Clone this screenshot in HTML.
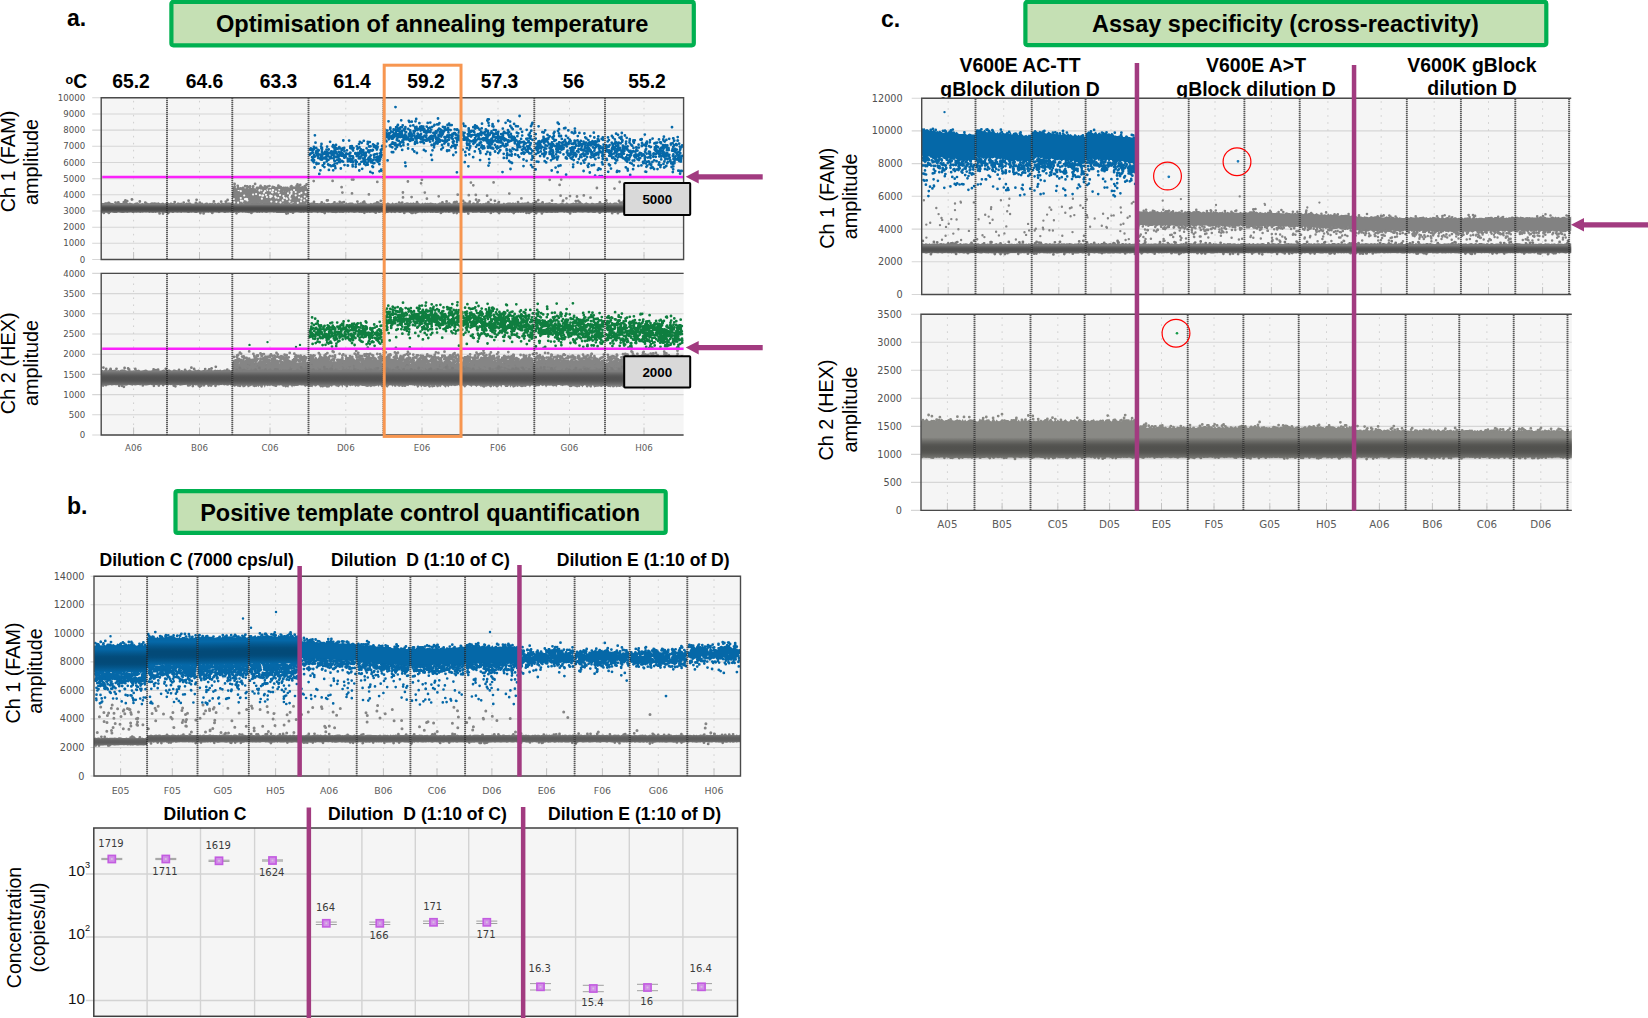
<!DOCTYPE html>
<html><head><meta charset="utf-8"><title>ddPCR assay figure</title>
<style>html,body{margin:0;padding:0;background:#fff}svg{display:block}</style></head>
<body>
<svg width="1648" height="1018" viewBox="0 0 1648 1018">
<rect width="1648" height="1018" fill="#fff"/>
<defs><linearGradient id="gB" x1="0" y1="0" x2="0" y2="1"><stop offset="0" stop-color="#034a78" stop-opacity="0.0"/><stop offset="0.18" stop-color="#034a78" stop-opacity="0.55"/><stop offset="0.32" stop-color="#034a78" stop-opacity="0.9"/><stop offset="0.42" stop-color="#034a78" stop-opacity="1.0"/><stop offset="0.58" stop-color="#034a78" stop-opacity="1.0"/><stop offset="0.68" stop-color="#034a78" stop-opacity="0.9"/><stop offset="0.82" stop-color="#034a78" stop-opacity="0.55"/><stop offset="1" stop-color="#034a78" stop-opacity="0.0"/></linearGradient><linearGradient id="gG" x1="0" y1="0" x2="0" y2="1"><stop offset="0" stop-color="#4a4a4a" stop-opacity="0.0"/><stop offset="0.18" stop-color="#4a4a4a" stop-opacity="0.55"/><stop offset="0.32" stop-color="#4a4a4a" stop-opacity="0.9"/><stop offset="0.42" stop-color="#4a4a4a" stop-opacity="1.0"/><stop offset="0.58" stop-color="#4a4a4a" stop-opacity="1.0"/><stop offset="0.68" stop-color="#4a4a4a" stop-opacity="0.9"/><stop offset="0.82" stop-color="#4a4a4a" stop-opacity="0.55"/><stop offset="1" stop-color="#4a4a4a" stop-opacity="0.0"/></linearGradient><linearGradient id="gG2" x1="0" y1="0" x2="0" y2="1"><stop offset="0" stop-color="#4a4a4a" stop-opacity="0.0"/><stop offset="0.18" stop-color="#4a4a4a" stop-opacity="0.341"/><stop offset="0.32" stop-color="#4a4a4a" stop-opacity="0.558"/><stop offset="0.42" stop-color="#4a4a4a" stop-opacity="0.62"/><stop offset="0.58" stop-color="#4a4a4a" stop-opacity="0.62"/><stop offset="0.68" stop-color="#4a4a4a" stop-opacity="0.558"/><stop offset="0.82" stop-color="#4a4a4a" stop-opacity="0.341"/><stop offset="1" stop-color="#4a4a4a" stop-opacity="0.0"/></linearGradient><linearGradient id="gG3" x1="0" y1="0" x2="0" y2="1"><stop offset="0" stop-color="#4a4a4a" stop-opacity="0.0"/><stop offset="0.18" stop-color="#4a4a4a" stop-opacity="0.468"/><stop offset="0.32" stop-color="#4a4a4a" stop-opacity="0.765"/><stop offset="0.42" stop-color="#4a4a4a" stop-opacity="0.85"/><stop offset="0.58" stop-color="#4a4a4a" stop-opacity="0.85"/><stop offset="0.68" stop-color="#4a4a4a" stop-opacity="0.765"/><stop offset="0.82" stop-color="#4a4a4a" stop-opacity="0.468"/><stop offset="1" stop-color="#4a4a4a" stop-opacity="0.0"/></linearGradient><linearGradient id="gH" x1="0" y1="0" x2="0" y2="1"><stop offset="0" stop-color="#4a4a47" stop-opacity="0.0"/><stop offset="0.18" stop-color="#4a4a47" stop-opacity="0.484"/><stop offset="0.32" stop-color="#4a4a47" stop-opacity="0.792"/><stop offset="0.42" stop-color="#4a4a47" stop-opacity="0.88"/><stop offset="0.58" stop-color="#4a4a47" stop-opacity="0.88"/><stop offset="0.68" stop-color="#4a4a47" stop-opacity="0.792"/><stop offset="0.82" stop-color="#4a4a47" stop-opacity="0.484"/><stop offset="1" stop-color="#4a4a47" stop-opacity="0.0"/></linearGradient></defs>
<text x="67" y="26.2" text-anchor="start" font-family='"Liberation Sans",sans-serif' font-size="23" font-weight="bold" fill="#000">a.</text>
<rect x="171.4" y="1.8" width="522.4" height="43.5" rx="2" fill="#c5e0b4" stroke="#00b050" stroke-width="4.2"/>
<text x="432.2" y="32.2" text-anchor="middle" font-family='"Liberation Sans",sans-serif' font-size="23.6" font-weight="bold" fill="#000">Optimisation of annealing temperature</text>
<text x="65.5" y="87.5" font-family='"Liberation Sans",sans-serif' font-weight="bold" font-size="19.3" fill="#000"><tspan font-size="12.5" dy="-4">o</tspan><tspan dy="4">C</tspan></text>
<text x="131" y="87.5" text-anchor="middle" font-family='"Liberation Sans",sans-serif' font-size="19.3" font-weight="bold" fill="#000">65.2</text>
<text x="204.5" y="87.5" text-anchor="middle" font-family='"Liberation Sans",sans-serif' font-size="19.3" font-weight="bold" fill="#000">64.6</text>
<text x="278.5" y="87.5" text-anchor="middle" font-family='"Liberation Sans",sans-serif' font-size="19.3" font-weight="bold" fill="#000">63.3</text>
<text x="352" y="87.5" text-anchor="middle" font-family='"Liberation Sans",sans-serif' font-size="19.3" font-weight="bold" fill="#000">61.4</text>
<text x="426" y="87.5" text-anchor="middle" font-family='"Liberation Sans",sans-serif' font-size="19.3" font-weight="bold" fill="#000">59.2</text>
<text x="499.5" y="87.5" text-anchor="middle" font-family='"Liberation Sans",sans-serif' font-size="19.3" font-weight="bold" fill="#000">57.3</text>
<text x="573.5" y="87.5" text-anchor="middle" font-family='"Liberation Sans",sans-serif' font-size="19.3" font-weight="bold" fill="#000">56</text>
<text x="647" y="87.5" text-anchor="middle" font-family='"Liberation Sans",sans-serif' font-size="19.3" font-weight="bold" fill="#000">55.2</text>
<text transform="translate(15.2 161.5) rotate(-90)" text-anchor="middle" font-family='"Liberation Sans",sans-serif' font-size="19.9" fill="#000">Ch 1 (FAM)</text>
<text transform="translate(37.8 162) rotate(-90)" text-anchor="middle" font-family='"Liberation Sans",sans-serif' font-size="19.8" fill="#000">amplitude</text>
<text transform="translate(15.2 363.3) rotate(-90)" text-anchor="middle" font-family='"Liberation Sans",sans-serif' font-size="19.9" fill="#000">Ch 2 (HEX)</text>
<text transform="translate(37.8 363) rotate(-90)" text-anchor="middle" font-family='"Liberation Sans",sans-serif' font-size="19.8" fill="#000">amplitude</text>
<rect x="101.2" y="97.8" width="582.4" height="161.7" fill="#f5f5f5"/>
<path d="M92.2 259.5H683.6M92.2 243.3H683.6M92.2 227.2H683.6M92.2 211H683.6M92.2 194.8H683.6M92.2 178.7H683.6M92.2 162.5H683.6M92.2 146.3H683.6M92.2 130.1H683.6M92.2 114H683.6M92.2 97.8H683.6" stroke="#d6d6d6" stroke-width="1.1" fill="none"/>
<path d="M133.6 100.8V259.5M199.5 100.8V259.5M270 100.8V259.5M345.8 100.8V259.5M422 100.8V259.5M498 100.8V259.5M569.5 100.8V259.5M644 100.8V259.5" stroke="#cfcfcf" stroke-width="1" stroke-dasharray="1.6 5.4" fill="none"/>
<path d="M133.6 252V259.5M199.5 252V259.5M270 252V259.5M345.8 252V259.5M422 252V259.5M498 252V259.5M569.5 252V259.5M644 252V259.5" stroke="#c2c2c2" stroke-width="1" fill="none"/>
<text x="85.2" y="262.6" text-anchor="end" font-family='"DejaVu Sans","Liberation Sans",sans-serif' font-size="8.6" fill="#505050">0</text>
<text x="85.2" y="246.4" text-anchor="end" font-family='"DejaVu Sans","Liberation Sans",sans-serif' font-size="8.6" fill="#505050">1000</text>
<text x="85.2" y="230.3" text-anchor="end" font-family='"DejaVu Sans","Liberation Sans",sans-serif' font-size="8.6" fill="#505050">2000</text>
<text x="85.2" y="214.1" text-anchor="end" font-family='"DejaVu Sans","Liberation Sans",sans-serif' font-size="8.6" fill="#505050">3000</text>
<text x="85.2" y="197.9" text-anchor="end" font-family='"DejaVu Sans","Liberation Sans",sans-serif' font-size="8.6" fill="#505050">4000</text>
<text x="85.2" y="181.7" text-anchor="end" font-family='"DejaVu Sans","Liberation Sans",sans-serif' font-size="8.6" fill="#505050">5000</text>
<text x="85.2" y="165.6" text-anchor="end" font-family='"DejaVu Sans","Liberation Sans",sans-serif' font-size="8.6" fill="#505050">6000</text>
<text x="85.2" y="149.4" text-anchor="end" font-family='"DejaVu Sans","Liberation Sans",sans-serif' font-size="8.6" fill="#505050">7000</text>
<text x="85.2" y="133.2" text-anchor="end" font-family='"DejaVu Sans","Liberation Sans",sans-serif' font-size="8.6" fill="#505050">8000</text>
<text x="85.2" y="117.1" text-anchor="end" font-family='"DejaVu Sans","Liberation Sans",sans-serif' font-size="8.6" fill="#505050">9000</text>
<text x="85.2" y="100.9" text-anchor="end" font-family='"DejaVu Sans","Liberation Sans",sans-serif' font-size="8.6" fill="#505050">10000</text>
<path d="M101.2 202.6L102.5 203.1L103.8 202.9L105.1 202.3L106.4 202.2L107.7 202.3L109 202.8L110.3 202.4L111.6 203.1L112.9 203L114.2 203.5L115.5 203.4L116.8 202.4L118.1 202.6L119.4 202.4L120.7 203.1L122 202.9L123.3 202.3L124.6 203.1L125.9 202.6L127.2 202.8L128.5 203.3L129.8 202.5L131.1 202.9L132.4 203.2L133.7 203.6L135 202.8L136.3 202.4L137.6 202.2L138.9 203.3L140.2 203.4L141.5 203.2L142.8 203L144.1 203.4L145.4 202.8L146.7 202.3L148 203.1L149.3 203.3L150.6 202.7L151.9 202.2L153.2 202.4L154.5 202.3L155.8 202.4L157.1 202.7L158.4 202.3L159.7 202.9L161 203.3L162.3 202.6L163.6 202.7L164.9 203.5L166.2 202.4L167 202.5L167 212.7L166.2 212.9L164.9 213L163.6 212.3L162.3 212.8L161 212.3L159.7 212.3L158.4 212.7L157.1 212.3L155.8 212.9L154.5 212.4L153.2 213.1L151.9 212.7L150.6 212.5L149.3 212.9L148 212.2L146.7 212.5L145.4 212.5L144.1 212.2L142.8 212.7L141.5 212.6L140.2 212.9L138.9 212.6L137.6 212.5L136.3 212.7L135 212.4L133.7 213.1L132.4 212.9L131.1 212.3L129.8 212.6L128.5 212.5L127.2 212.9L125.9 212.6L124.6 212.7L123.3 213L122 213.1L120.7 212.8L119.4 212.6L118.1 212.3L116.8 213.1L115.5 212.9L114.2 213.1L112.9 212.8L111.6 212.2L110.3 212.9L109 212.3L107.7 213.1L106.4 212.7L105.1 212.7L103.8 212.8L102.5 213.1L101.2 213Z" fill="#7e7e7e"/>
<path d="M139.8 201.5h0M125.8 202.8h0M163 213.5h0M145.3 202.6h0M159.6 213.4h0M127.2 201.2h0M108.8 212.9h0M115.5 202.6h0M123.9 202.1h0M108.7 202.8h0M103.8 212.9h0M118.3 202.3h0M125.4 200.5h0M131.9 199.5h0" stroke="#7e7e7e" stroke-width="2.8" stroke-linecap="round" fill="none" opacity="1"/>
<rect transform="translate(101.2 208.9)" x="0" y="-4.4" width="65.8" height="8.7" fill="url(#gG)"/>
<path d="M167 202.3L168.3 202.7L169.6 203.3L170.9 202.2L172.2 202.9L173.5 202.9L174.8 202.9L176.1 203.4L177.4 202.5L178.7 202.4L180 202.9L181.3 202.6L182.6 203.3L183.9 203.4L185.2 203.3L186.5 202.5L187.8 202.7L189.1 202.2L190.4 202.5L191.7 203.5L193 203.5L194.3 203.5L195.6 202.5L196.9 202.5L198.2 203.1L199.5 203.4L200.8 203.1L202.1 202.3L203.4 203.5L204.7 203.2L206 202.4L207.3 202.6L208.6 203.5L209.9 202.7L211.2 203.2L212.5 202.4L213.8 203.4L215.1 202.4L216.4 203.6L217.7 202.7L219 202.4L220.3 203.5L221.6 202.9L222.9 202.8L224.2 203.3L225.5 202.5L226.8 202.5L228.1 202.5L229.4 202.4L230.7 202.7L232 203L232.3 202.8L232.3 212.2L232 212.3L230.7 212.7L229.4 212.3L228.1 212.7L226.8 212.6L225.5 212.9L224.2 213L222.9 212.3L221.6 212.2L220.3 212.5L219 213.2L217.7 212.6L216.4 212.5L215.1 212.3L213.8 212.4L212.5 213L211.2 213L209.9 212.2L208.6 212.8L207.3 212.4L206 212.4L204.7 212.7L203.4 212.4L202.1 212.5L200.8 212.4L199.5 212.7L198.2 212.3L196.9 213L195.6 212.9L194.3 212.8L193 212.2L191.7 212.7L190.4 212.5L189.1 212.9L187.8 213.1L186.5 212.6L185.2 212.4L183.9 212.4L182.6 212.2L181.3 212.9L180 212.4L178.7 212.4L177.4 212.8L176.1 212.5L174.8 212.2L173.5 213.1L172.2 213L170.9 212.2L169.6 213L168.3 212.9L167 213.1Z" fill="#7e7e7e"/>
<path d="M199.8 202.6h0M195.9 202.8h0M168.2 213h0M213.9 201.5h0M188.6 200.7h0M174.7 202.1h0M183.7 202.6h0M203.6 213.4h0M225.8 201.7h0M200.4 213.1h0M196.6 199.8h0M212.3 212.9h0M227.6 200h0M221.2 201.7h0" stroke="#7e7e7e" stroke-width="2.8" stroke-linecap="round" fill="none" opacity="1"/>
<rect transform="translate(167 208.9)" x="0" y="-4.4" width="65.3" height="8.7" fill="url(#gG)"/>
<path d="M232.3 202.3L233.6 202.3L234.9 202.3L236.2 203.3L237.5 202.4L238.8 203.1L240.1 203.4L241.4 202.5L242.7 202.7L244 203.6L245.3 202.4L246.6 202.9L247.9 202.5L249.2 203.2L250.5 203L251.8 202.2L253.1 203.1L254.4 202.3L255.7 203.3L257 202.3L258.3 202.2L259.6 202.6L260.9 202.8L262.2 203.3L263.5 202.4L264.8 203L266.1 202.3L267.4 203.1L268.7 202.3L270 203.1L271.3 202.3L272.6 202.3L273.9 202.8L275.2 203L276.5 202.6L277.8 202.9L279.1 202.3L280.4 202.2L281.7 202.6L283 203.2L284.3 202.9L285.6 202.7L286.9 202.5L288.2 203.2L289.5 202.4L290.8 203.5L292.1 203.3L293.4 202.9L294.7 202.7L296 203.1L297.3 202.7L298.6 203.2L299.9 202.7L301.2 202.3L302.5 202.3L303.8 202.5L305.1 202.3L306.4 203.4L307.7 202.6L308.5 202.6L308.5 212.7L307.7 212.9L306.4 212.5L305.1 212.3L303.8 213L302.5 212.4L301.2 213L299.9 212.8L298.6 212.5L297.3 212.3L296 212.2L294.7 212.7L293.4 212.3L292.1 212.7L290.8 213.1L289.5 212.7L288.2 212.6L286.9 213.2L285.6 213.2L284.3 213L283 212.9L281.7 212.9L280.4 213L279.1 213L277.8 212.9L276.5 213L275.2 212.2L273.9 212.8L272.6 212.3L271.3 212.3L270 212.4L268.7 212.2L267.4 212.7L266.1 213.1L264.8 212.5L263.5 212.2L262.2 212.9L260.9 212.2L259.6 213L258.3 212.4L257 212.9L255.7 212.2L254.4 212.2L253.1 212.7L251.8 212.8L250.5 212.7L249.2 213.2L247.9 212.9L246.6 212.8L245.3 212.7L244 212.3L242.7 212.7L241.4 212.2L240.1 212.2L238.8 213L237.5 212.4L236.2 212.3L234.9 212.5L233.6 212.9L232.3 212.7Z" fill="#7e7e7e"/>
<path d="M245 202.5h0M305.5 199.6h0M251.4 212.9h0M233.4 201.7h0M268.5 202.4h0M233.7 201.4h0M240 202.6h0M255.9 202.7h0M276.8 202.8h0M286.4 213.5h0M262.2 202.1h0M287 212.7h0M236.5 213.3h0M287.8 213.2h0M243.6 200.4h0M293 212.7h0" stroke="#7e7e7e" stroke-width="2.8" stroke-linecap="round" fill="none" opacity="1"/>
<rect transform="translate(232.3 208.9)" x="0" y="-4.4" width="76.2" height="8.7" fill="url(#gG)"/>
<path d="M308.5 203L309.8 203.1L311.1 202.5L312.4 202.4L313.7 202.3L315 203L316.3 203.1L317.6 202.9L318.9 203.3L320.2 202.9L321.5 203.1L322.8 203.2L324.1 202.3L325.4 203.2L326.7 203.2L328 202.9L329.3 202.9L330.6 203.3L331.9 203.1L333.2 202.4L334.5 203.2L335.8 203L337.1 202.3L338.4 203.1L339.7 203.1L341 202.9L342.3 202.8L343.6 203.4L344.9 203.6L346.2 202.2L347.5 203.3L348.8 202.8L350.1 202.5L351.4 202.5L352.7 202.4L354 203.5L355.3 203.3L356.6 203.4L357.9 202.5L359.2 202.9L360.5 202.2L361.8 202.8L363.1 202.4L364.4 202.6L365.7 202.2L367 203.4L368.3 203.5L369.6 203.4L370.9 202.7L372.2 203.6L373.5 202.7L374.8 202.6L376.1 202.3L377.4 202.6L378.7 202.5L380 202.9L381.3 202.7L382.6 203.4L383.5 203.1L383.5 212.2L382.6 212.3L381.3 212.2L380 213L378.7 212.9L377.4 212.2L376.1 212.3L374.8 213.1L373.5 212.7L372.2 212.6L370.9 212.8L369.6 212.9L368.3 212.5L367 213.1L365.7 212.4L364.4 212.3L363.1 212.8L361.8 212.9L360.5 212.7L359.2 213.1L357.9 212.3L356.6 212.5L355.3 212.7L354 213L352.7 212.6L351.4 212.6L350.1 212.2L348.8 212.9L347.5 212.2L346.2 212.7L344.9 212.2L343.6 213L342.3 213.1L341 212.7L339.7 212.9L338.4 212.5L337.1 212.9L335.8 213.2L334.5 212.9L333.2 212.9L331.9 213.1L330.6 212.5L329.3 212.5L328 212.8L326.7 212.2L325.4 213L324.1 212.9L322.8 212.9L321.5 213.1L320.2 212.6L318.9 212.4L317.6 213.2L316.3 212.5L315 212.5L313.7 212.3L312.4 212.8L311.1 213.1L309.8 212.5L308.5 212.3Z" fill="#7e7e7e"/>
<path d="M378.2 202.7h0M363 202.4h0M364.4 212.8h0M377.2 202.4h0M344 202.2h0M380.8 200.8h0M357.4 201.6h0M321.7 202.4h0M324.7 213.1h0M375.7 212.7h0M342.3 202.6h0M334.5 202.3h0M327 200.4h0M364.2 201.7h0M339.7 202h0M314 202h0" stroke="#7e7e7e" stroke-width="2.8" stroke-linecap="round" fill="none" opacity="1"/>
<rect transform="translate(308.5 208.9)" x="0" y="-4.4" width="75" height="8.7" fill="url(#gG)"/>
<path d="M383.5 203.5L384.8 202.9L386.1 203.4L387.4 202.6L388.7 202.7L390 203.5L391.3 203.4L392.6 202.2L393.9 203.4L395.2 203L396.5 202.7L397.8 203.3L399.1 203.5L400.4 202.3L401.7 202.9L403 203.5L404.3 203.1L405.6 202.8L406.9 202.2L408.2 202.5L409.5 203.1L410.8 202.4L412.1 203.1L413.4 202.3L414.7 202.9L416 202.7L417.3 203L418.6 202.6L419.9 203.5L421.2 203.4L422.5 202.5L423.8 203.5L425.1 202.6L426.4 202.9L427.7 202.8L429 203.1L430.3 202.5L431.6 202.7L432.9 203.1L434.2 203.3L435.5 202.9L436.8 203.5L438.1 203.3L439.4 202.5L440.7 202.6L442 202.9L443.3 202.5L444.6 203.1L445.9 202.4L447.2 202.5L448.5 202.4L449.8 202.3L451.1 203.4L452.4 203.2L453.7 203.5L455 202.4L456.3 203.2L457.6 203.1L458.9 202.7L460.2 202.4L461 202.6L461 212.8L460.2 213.2L458.9 212.8L457.6 212.8L456.3 213.1L455 212.2L453.7 212.8L452.4 212.2L451.1 212.3L449.8 212.8L448.5 213.1L447.2 212.2L445.9 212.8L444.6 212.2L443.3 212.8L442 213L440.7 212.2L439.4 212.4L438.1 212.9L436.8 212.9L435.5 213L434.2 212.4L432.9 213L431.6 212.7L430.3 213.1L429 212.2L427.7 212.9L426.4 212.5L425.1 213.2L423.8 212.5L422.5 212.9L421.2 212.7L419.9 212.5L418.6 212.7L417.3 213.2L416 212.9L414.7 212.6L413.4 213.1L412.1 212.5L410.8 212.9L409.5 212.9L408.2 212.2L406.9 212.4L405.6 212.6L404.3 212.4L403 212.4L401.7 212.5L400.4 213L399.1 212.9L397.8 212.3L396.5 212.2L395.2 213.2L393.9 212.7L392.6 212.5L391.3 213.2L390 212.3L388.7 212.7L387.4 212.9L386.1 213L384.8 212.5L383.5 213Z" fill="#7e7e7e"/>
<path d="M456.6 202h0M411.4 212.8h0M446.6 201.4h0M412.6 212.9h0M399.1 202.6h0M415.5 212.8h0M442.4 202.4h0M454 202.7h0M440.9 212.9h0M456.8 213.1h0M404.3 212.9h0M384.8 213.1h0M453.7 212.8h0M402.2 202.7h0M456.7 213h0M417 202.2h0M454.6 202.1h0" stroke="#7e7e7e" stroke-width="2.8" stroke-linecap="round" fill="none" opacity="1"/>
<rect transform="translate(383.5 208.9)" x="0" y="-4.4" width="77.5" height="8.7" fill="url(#gG)"/>
<path d="M461 203.3L462.3 203L463.6 202.6L464.9 203.3L466.2 202.5L467.5 202.5L468.8 202.2L470.1 202.6L471.4 203.4L472.7 202.5L474 202.3L475.3 203.2L476.6 202.5L477.9 203L479.2 203.2L480.5 203.1L481.8 203.4L483.1 203L484.4 203.2L485.7 202.5L487 202.4L488.3 203L489.6 202.7L490.9 202.9L492.2 203.3L493.5 203.6L494.8 202.8L496.1 203.4L497.4 202.2L498.7 202.3L500 203.5L501.3 203.5L502.6 203.4L503.9 202.5L505.2 203.5L506.5 203L507.8 202.5L509.1 202.4L510.4 202.5L511.7 203.1L513 202.2L514.3 203.1L515.6 202.6L516.9 203.3L518.2 202.3L519.5 202.7L520.8 203.1L522.1 202.4L523.4 202.8L524.7 202.6L526 202.6L527.3 202.7L528.6 203.4L529.9 202.7L531.2 203.2L532.5 202.2L533.8 202.8L534.3 202.7L534.3 212.3L533.8 212.3L532.5 212.3L531.2 213L529.9 213L528.6 212.2L527.3 212.8L526 212.6L524.7 212.2L523.4 212.9L522.1 212.5L520.8 213.1L519.5 212.6L518.2 213.1L516.9 212.6L515.6 213L514.3 213L513 212.8L511.7 213L510.4 212.6L509.1 213L507.8 212.8L506.5 212.5L505.2 213.1L503.9 212.4L502.6 212.7L501.3 212.8L500 212.6L498.7 213L497.4 212.9L496.1 212.2L494.8 212.3L493.5 213.1L492.2 212.5L490.9 212.9L489.6 212.2L488.3 212.8L487 212.3L485.7 212.9L484.4 213L483.1 212.8L481.8 212.9L480.5 213.1L479.2 212.3L477.9 212.5L476.6 212.8L475.3 212.7L474 212.7L472.7 213.1L471.4 212.2L470.1 212.2L468.8 212.6L467.5 213.1L466.2 212.4L464.9 213.1L463.6 212.8L462.3 212.8L461 212.4Z" fill="#7e7e7e"/>
<path d="M494.9 200.8h0M463.1 201h0M468.3 213.6h0M488.4 202.2h0M499.2 213.1h0M469.8 201.7h0M476.1 199.7h0M529.2 212.9h0M528 202.8h0M526.5 212.9h0M518 202.1h0M490.8 212.9h0M477.6 202.1h0M498.9 202.1h0M513.7 213h0M464.9 202.8h0" stroke="#7e7e7e" stroke-width="2.8" stroke-linecap="round" fill="none" opacity="1"/>
<rect transform="translate(461 208.9)" x="0" y="-4.4" width="73.3" height="8.7" fill="url(#gG)"/>
<path d="M534.3 203.4L535.6 203L536.9 203.1L538.2 202.8L539.5 202.8L540.8 202.8L542.1 202.2L543.4 202.9L544.7 203.3L546 202.8L547.3 202.8L548.6 202.4L549.9 202.3L551.2 202.9L552.5 203.1L553.8 203.2L555.1 202.9L556.4 202.9L557.7 203.5L559 203.4L560.3 203.2L561.6 202.4L562.9 202.9L564.2 203.5L565.5 203.3L566.8 202.3L568.1 203.2L569.4 203.4L570.7 203.3L572 202.9L573.3 202.5L574.6 202.9L575.9 202.2L577.2 202.4L578.5 203.1L579.8 202.4L581.1 202.3L582.4 203.1L583.7 203.4L585 203L586.3 202.3L587.6 203.1L588.9 203.3L590.2 203.6L591.5 202.7L592.8 202.8L594.1 203.2L595.4 203.3L596.7 203.1L598 203L599.3 202.6L600.6 202.2L601.9 203L603.2 202.9L604.5 202.4L605 203.1L605 213.2L604.5 212.9L603.2 212.3L601.9 212.7L600.6 213L599.3 213.2L598 212.5L596.7 212.2L595.4 212.9L594.1 213.1L592.8 213L591.5 212.4L590.2 212.6L588.9 212.9L587.6 212.8L586.3 212.2L585 212.3L583.7 212.6L582.4 212.8L581.1 212.6L579.8 212.4L578.5 212.3L577.2 212.2L575.9 213L574.6 212.8L573.3 212.9L572 212.2L570.7 213L569.4 212.9L568.1 213L566.8 212.8L565.5 212.2L564.2 213L562.9 212.2L561.6 212.2L560.3 212.3L559 212.2L557.7 213L556.4 212.8L555.1 213.1L553.8 212.4L552.5 213.1L551.2 213.1L549.9 212.7L548.6 212.7L547.3 213.1L546 213L544.7 212.4L543.4 212.9L542.1 212.5L540.8 212.7L539.5 212.5L538.2 212.6L536.9 212.9L535.6 212.6L534.3 213.1Z" fill="#7e7e7e"/>
<path d="M535.5 202.5h0M542.6 202.5h0M575.8 201.1h0M578.2 200.8h0M552 200.6h0M541.9 213.4h0M562.9 201.2h0M536.1 213.2h0M579.7 202.4h0M599.7 212.7h0M538.3 200.1h0M563.2 200.7h0M536.1 202h0M599.9 202.3h0M570.1 213.4h0" stroke="#7e7e7e" stroke-width="2.8" stroke-linecap="round" fill="none" opacity="1"/>
<rect transform="translate(534.3 208.9)" x="0" y="-4.4" width="70.7" height="8.7" fill="url(#gG)"/>
<path d="M605 203.3L606.3 202.6L607.6 202.2L608.9 203.3L610.2 202.2L611.5 203.2L612.8 203.2L614.1 202.5L615.4 202.5L616.7 202.6L618 203.2L619.3 203.2L620.6 203L621.9 203.3L623.2 202.6L624.5 203.5L625.8 203.4L627.1 202.5L628.4 203.2L629.7 203.2L631 203.4L632.3 202.5L633.6 203.1L634.9 203.1L636.2 202.8L637.5 203.2L638.8 202.8L640.1 203L641.4 202.5L642.7 202.3L644 202.4L645.3 202.3L646.6 202.7L647.9 202.2L649.2 203.2L650.5 203.2L651.8 202.3L653.1 202.7L654.4 203.3L655.7 202.3L657 203.5L658.3 202.3L659.6 202.3L660.9 203.4L662.2 203.1L663.5 203.1L664.8 202.3L666.1 203.2L667.4 202.6L668.7 202.2L670 202.6L671.3 202.7L672.6 203.5L673.9 203.4L675.2 202.2L676.5 202.8L677.8 202.7L679.1 202.9L680.4 203.4L681.7 203.3L683 202.2L683.6 203.2L683.6 212.2L683 213L681.7 213L680.4 213.1L679.1 213L677.8 212.5L676.5 212.4L675.2 212.8L673.9 212.5L672.6 212.7L671.3 212.8L670 212.4L668.7 212.9L667.4 212.7L666.1 213L664.8 213.1L663.5 212.9L662.2 212.3L660.9 212.3L659.6 213.1L658.3 213L657 212.2L655.7 212.3L654.4 212.3L653.1 212.3L651.8 212.6L650.5 212.4L649.2 212.5L647.9 213.1L646.6 213L645.3 212.2L644 213.1L642.7 212.2L641.4 212.5L640.1 212.9L638.8 212.4L637.5 212.3L636.2 212.3L634.9 212.2L633.6 212.5L632.3 212.3L631 212.8L629.7 212.8L628.4 212.2L627.1 212.9L625.8 213.2L624.5 213L623.2 212.5L621.9 212.6L620.6 212.7L619.3 212.9L618 212.3L616.7 212.4L615.4 213.1L614.1 213.1L612.8 212.7L611.5 212.7L610.2 212.3L608.9 212.4L607.6 212.3L606.3 212.9L605 213Z" fill="#7e7e7e"/>
<path d="M606.3 200.5h0M620.1 202.7h0M632.6 212.8h0M627.7 199.8h0M659.6 201.4h0M612.2 213.2h0M659.4 213.1h0M636.7 202h0M674.2 202.6h0M621.8 202.6h0M675 200.9h0M623.9 201h0M646.7 212.7h0M632.7 201h0M617.9 213.2h0M619 201h0M665.2 201.8h0" stroke="#7e7e7e" stroke-width="2.8" stroke-linecap="round" fill="none" opacity="1"/>
<rect transform="translate(605 208.9)" x="0" y="-4.4" width="78.6" height="8.7" fill="url(#gG)"/>
<path d="M232.3 192.7L233.6 190.8L234.9 192.2L236.2 190.7L237.5 191L238.8 191.7L240.1 191.2L241.4 192.9L242.7 190.6L244 190.6L245.3 193L246.6 192.3L247.9 190.8L249.2 190.6L250.5 191.3L251.8 191.4L253.1 192.2L254.4 192L255.7 190.7L257 191.4L258.3 192.8L259.6 191.9L260.9 191.4L262.2 192.3L263.5 192.4L264.8 192.6L266.1 192L267.4 191.1L268.7 190.6L270 192.4L271.3 192L272.6 191.4L273.9 192L275.2 192.1L276.5 190.8L277.8 192.4L279.1 191.6L280.4 190.4L281.7 190.7L283 192.8L284.3 190.6L285.6 191.8L286.9 191.7L288.2 192.5L289.5 191.4L290.8 190.9L292.1 191.4L293.4 190.6L294.7 191.3L296 191L297.3 190.3L298.6 191.4L299.9 191.2L301.2 190.9L302.5 192.8L303.8 190.9L305.1 191.4L306.4 190.6L307.7 192.5L308.5 191.6L308.5 203.2L307.7 203.1L306.4 202.8L305.1 204L303.8 202.7L302.5 203.3L301.2 202.8L299.9 203.9L298.6 202.9L297.3 203.6L296 203.6L294.7 204.4L293.4 202.3L292.1 202.8L290.8 203L289.5 202.4L288.2 203.3L286.9 203.1L285.6 202.9L284.3 203.2L283 203.3L281.7 202.8L280.4 203.3L279.1 202.3L277.8 203.6L276.5 203L275.2 202.4L273.9 203.6L272.6 203.5L271.3 204L270 202.9L268.7 203.6L267.4 203.1L266.1 203.5L264.8 203L263.5 202.9L262.2 202.5L260.9 204L259.6 202.8L258.3 203.5L257 202.8L255.7 203.2L254.4 203.5L253.1 203.4L251.8 202.7L250.5 204.4L249.2 204.1L247.9 203.1L246.6 203.5L245.3 202.7L244 203.7L242.7 202.3L241.4 202.9L240.1 204.1L238.8 204.2L237.5 203.8L236.2 204.2L234.9 202.6L233.6 203.8L232.3 204Z" fill="#828282"/>
<path d="M250.2 188.6h0M304.6 193.1h0M293.9 187.6h0M293.7 193h0M274 190.3h0M242.7 189.5h0M296.3 193h0M253.2 192.3h0M264.9 189.3h0M247.2 186.4h0M254.3 190.7h0M251.6 191.8h0M265.1 187.8h0M280.5 192.2h0M302 193h0M296.6 185.9h0M300.3 189h0M291.4 187.5h0M280.2 186.8h0M234.6 184h0M281.9 190.3h0M252 189.6h0M250.7 189.9h0M290.8 191.7h0M300.2 189.5h0M291.9 187.9h0M278.4 185.7h0M291.2 193.6h0M291.7 195.9h0M295.4 189.4h0M272.7 186.8h0M288.3 196h0M274.5 188.6h0M253 190.6h0M269.9 189.3h0M237.8 192.3h0M269.8 190.5h0M270.3 196.1h0M234 192.1h0M295.5 194.2h0M282.6 190.1h0M295.5 192.8h0M304.4 188.8h0M239.1 193.3h0M235.6 193.7h0M278.5 193.4h0M257.9 196.6h0M306 193.9h0M299.7 191h0M236 191.5h0M258.5 194.6h0M297.1 192.9h0M272.3 188.5h0M290.4 190.1h0M264.7 187.9h0M274.4 189.7h0M294.6 192.8h0M263.3 193h0M270.9 190.8h0M305.5 193.5h0M257.9 194.8h0M256.9 191.9h0M280.3 187.3h0M291.4 186.5h0M298.9 189.7h0M273.8 188.6h0M234 190.1h0M247.5 187.5h0M282.1 192.6h0M291.7 187.6h0M279 192.8h0M279.8 192h0M283.8 194.3h0M249.2 192.3h0M289.8 193.4h0M241 190.5h0M290.7 190.1h0M301 192.3h0M294.2 193h0M291.5 192.7h0M255.8 191.6h0M264.6 192h0M280.9 188.1h0M302.4 187.4h0M236.4 189.6h0M242.3 189.4h0M301.3 194.1h0M266.4 188.1h0M277.2 190.5h0M302.7 187.7h0M263.9 191.2h0M241 191.9h0M244.7 192.3h0M234.6 186.6h0M242.5 190.7h0M304.8 186.1h0M243 187.9h0M234.8 191.2h0M287.6 192.8h0M247.3 186.3h0M286.2 189.3h0M296.6 190.9h0M279.9 191.9h0M285.8 197h0M252.2 189.2h0M304.7 190.9h0M234.6 191.2h0M281.5 190.3h0M256.5 191.8h0M287.3 188h0M269.4 186.1h0M237.9 193.2h0M265.9 188.1h0M283.5 187.8h0M260.3 186.9h0M281.1 192.7h0M262 192.9h0M291.5 186.2h0M275.3 192.4h0M255.1 183.9h0M285.4 188h0M294.6 192.6h0M305.6 187.5h0M294.8 192.7h0M265.1 192.2h0M299 193.8h0M277.9 187.9h0M299.6 190h0M233.6 192.9h0M252.9 194h0M293.7 189.1h0M299 185.8h0M293.4 189.4h0M297.5 192.8h0M296.3 191.7h0M293.1 193.2h0M259.1 196.4h0M239.8 195.4h0M248.3 192.4h0M288.9 189h0M278.3 191.6h0M283.5 192.6h0M252.3 190.4h0M288.9 190h0M240 193.7h0M293 190.5h0M276.3 192.8h0M299.7 188.3h0M268.7 193h0M277 190.1h0M246.8 189.1h0M285.2 193.1h0M263.2 188.1h0M271.7 190.3h0M307.1 190.1h0M261.1 187.7h0M291.6 188.4h0M245 192.8h0M271.8 192.2h0M297.4 189h0M269.4 192.7h0M291 191.7h0M264.9 186.3h0M293.9 192.3h0M304.6 190.8h0M248.3 190h0M246.8 190h0M274.6 190.3h0M297.8 197.2h0M300.7 189h0M238.2 193h0M242.3 192.4h0M304.3 190.9h0M280.8 187.2h0M304.1 192.1h0M266.6 193.2h0M249.9 192.6h0M236.4 190.9h0M300.1 188.2h0M300.3 190.3h0M291.5 191.5h0M285.9 195.6h0M237.6 197.1h0M244.2 190.6h0M283.5 197.3h0M255.6 194.7h0M241.3 193.3h0M257.4 190.8h0M269 189.4h0M245.9 190.7h0M283.5 189.3h0M234.4 191.1h0M236.2 192.6h0M302 189.6h0M297.5 184.5h0M299.1 188.9h0M240.7 188.5h0M302 188.7h0M266.9 194h0M258.6 189.4h0M279.9 193.6h0M244 190.6h0M286.2 189.9h0M274.3 187.4h0M253.2 186.4h0M263.9 189.6h0M295.5 189h0M258.2 189.2h0M257 188h0M300.2 185h0M237.7 185.8h0M299.6 191.7h0M268.7 192.4h0M254.6 190.9h0M260.4 188.9h0M306.6 184.5h0M240.7 190.9h0M254.9 190h0M287.1 191.4h0M255.2 190.3h0M293.1 190.8h0M258.7 190.7h0M294.9 190.6h0M272.4 189.6h0M300.8 188.1h0M249.6 192.1h0M246.8 191.4h0M290.4 191.2h0M239.3 192.5h0M240 193.3h0M253.7 192.8h0M248.7 194.1h0M293.4 193.6h0M276.5 190.5h0M287.6 189.8h0M263.6 190.9h0M293.3 191.7h0M258.2 187.8h0M269.9 195.4h0M234.6 188.1h0M297.9 192.5h0M253.1 188.7h0M260.6 186h0M245.6 193.3h0M233.8 188.1h0M271.9 193.9h0M242.4 189.7h0M286.2 188.5h0M257.2 195.8h0M286 194.1h0M238 187.7h0M297.9 187.7h0M271.4 191.7h0M272.7 191.3h0M304.9 190.9h0M250 190.3h0M252 189.6h0M293.8 189.6h0M285.1 190.5h0M247.9 187.1h0M276 190.4h0M272.1 191.2h0M297.7 192h0M286.4 189.4h0M269.9 190.4h0M270.5 191h0M263.4 189.4h0M243.6 195.4h0M244.4 193.8h0M275.8 190.8h0M294.5 192.4h0M302.7 193h0M295.5 188.9h0M272.3 196h0M290.8 186.8h0M258.5 190.6h0M265.6 188.3h0M305.9 188.7h0M293.7 196.5h0M296.1 187.6h0M304.2 189.7h0M302.5 190.8h0M280.2 187.9h0M260.4 191.8h0M265.5 191h0M270.8 189.3h0M305.1 190.6h0M290.8 187.2h0M293.2 192.3h0M298.8 190.2h0M280.8 191.3h0M253.1 191.7h0M273.5 192.8h0M301.7 192.3h0M271.9 192.2h0M265.5 188.6h0M256 191.5h0M281.3 188.1h0M304.1 188.2h0M271.4 191.1h0M272.9 187.7h0M244.5 189.7h0M255.2 189.8h0M263.5 191.3h0M240 188.8h0M273.8 188.8h0M275.6 194h0M281.5 189.5h0M267.5 186.7h0M273.9 193.1h0M256.4 192.8h0M251.4 190.2h0M261.8 187.5h0M276.7 188.2h0M297.1 190.6h0M251.1 193.8h0M254.5 191.9h0M306.4 192.1h0M245.2 186.2h0M238.4 188.7h0M238.1 192.9h0M262.1 194.9h0M241.6 189.1h0M250.1 186.4h0M244.9 191.9h0M258.4 193.3h0M279 187.5h0M296.2 189.3h0" stroke="#828282" stroke-width="2.8" stroke-linecap="round" fill="none" opacity="1"/>
<path d="M288 193.3h0M289.6 196.8h0M291.4 193.7h0M301 201.3h0M297.8 202.8h0M290 195.3h0M270.2 190.5h0M275.7 197.5h0M291.3 191.6h0M278.3 198h0M266.9 197h0M286.9 199.1h0M262.3 195.7h0M261.9 198.7h0M291.6 191.9h0M270.4 197.2h0M247.1 199h0M244.2 195.5h0M276.4 201.8h0M301.4 198.7h0M295.7 192.1h0M304.3 200.3h0M265 191.1h0M234.3 202.3h0M275.2 196.5h0M301.4 192.9h0M273.2 190h0M271.7 196.2h0M284.1 197.9h0M259.9 195.2h0M259.4 190.6h0M283.4 196.1h0M240.8 198.1h0M263.1 195.6h0M275.9 191.5h0M304.7 196.6h0M266 194.8h0M307 198.5h0M272.6 192.4h0M246.1 198.8h0M305.7 192.2h0M271.3 201.5h0M299.5 194h0M294.1 190.1h0M299 197.5h0M245 199.2h0M271.3 196.4h0M247.4 200.5h0M280 195.1h0M259.6 190h0M280.5 202.4h0M263.9 192.7h0M256.1 194h0M233.8 199h0M295.7 195.3h0M282.8 200.4h0M270.2 195.7h0M253.1 194.5h0M272.7 190h0M275.9 197.6h0M242.5 200.9h0M289.6 201.5h0M240.9 200.7h0M272.1 192.3h0M278.7 192.5h0M238.1 202.7h0M290.4 198.7h0M286.3 198.3h0M246 199.5h0M240.8 191.2h0" stroke="#f5f5f5" stroke-width="2.2" stroke-linecap="round" fill="none" opacity="1"/>
<path d="M352 193.4h0M342.4 192.6h0M313.7 181.1h0M352 179.6h0M341.6 187.2h0M327.8 200.3h0M377.3 181.9h0M332.6 180.9h0M368.9 194.4h0M353.4 179.6h0" stroke="#858585" stroke-width="2.8" stroke-linecap="round" fill="none" opacity="1"/>
<path d="M421.9 179.8h0M402.9 192.5h0M438.7 196.3h0M407.9 181.5h0M421.1 183.3h0M403 197.4h0M411.6 197.1h0M457.7 194.7h0M426.9 198.7h0M424.8 192.6h0" stroke="#858585" stroke-width="2.8" stroke-linecap="round" fill="none" opacity="1"/>
<path d="M490.8 199.8h0M470.9 182.6h0M487.1 195.7h0M475.8 194.9h0M479 200.5h0M509.3 193.6h0M473.3 185.3h0M468.8 195.2h0M521.4 198.4h0M493.6 182.4h0" stroke="#858585" stroke-width="2.8" stroke-linecap="round" fill="none" opacity="1"/>
<path d="M590.5 197.7h0M559.6 184.9h0M561.2 179.6h0M549.7 179.8h0M570 196.1h0M566.4 198.3h0M583.8 195.4h0M596.9 188h0M560.6 195.7h0M577 196.5h0" stroke="#858585" stroke-width="2.8" stroke-linecap="round" fill="none" opacity="1"/>
<path d="M672.7 198.5h0M645.3 189h0M626.8 183.8h0M635.5 186.4h0M649.5 194.3h0M635.9 199.3h0M619.7 182h0M630.7 186.3h0M614.5 188.6h0M633.7 190h0" stroke="#858585" stroke-width="2.8" stroke-linecap="round" fill="none" opacity="1"/>
<path d="M331.3 158h0M318.9 150.3h0M330.2 165.4h0M373.8 146.7h0M319.3 154.6h0M357.9 152.9h0M339.7 159.5h0M371.2 162.4h0M355.4 153.1h0M363 151.6h0M312.6 150.9h0M331.7 153.5h0M312.5 157.7h0M370.6 146.3h0M361.7 154.6h0M335 166.2h0M330.5 165.6h0M313.1 161.1h0M317.8 153.3h0M364.1 159h0M364 160.2h0M330.1 141.8h0M377.2 146.4h0M363.3 150.2h0M313.6 162h0M340.8 168.5h0M365 161.6h0M328.7 165h0M380.1 159.4h0M314 160.3h0M339.6 152.8h0M361 149.3h0M327 154h0M377.6 147h0M331.4 151.8h0M333.9 156.6h0M349.5 154.1h0M353.2 158.1h0M365.3 152.9h0M335.9 157h0M314.1 155.2h0M342.2 161.3h0M336.1 148.2h0M314.9 135.3h0M315.8 153.1h0M380.9 157.1h0M341.2 155.5h0M349.1 140.6h0M355.3 153.7h0M357.1 154.4h0M311.7 149.8h0M370.7 155.5h0M371.1 150.6h0M321.9 151.9h0M333.4 165.7h0M369.6 156.9h0M336.5 149.1h0M327.1 146.7h0M369.2 152.4h0M375.4 147.6h0M321.1 156.8h0M351.9 146.2h0M341.9 149.9h0M316.2 148h0M362.2 168.8h0M366.8 164.6h0M330.3 158.3h0M334.3 160.7h0M358.1 148.3h0M331.2 166.2h0M350.6 161.7h0M333.2 170.3h0M372.5 150.4h0M379.5 171.3h0M358.8 158.4h0M378.9 157.7h0M356.7 156.1h0M311.7 149h0M359 156.8h0M336.7 153.6h0M339.9 162.2h0M318 155.9h0M374.3 157.3h0M328.1 164.5h0M345.2 155.3h0M326.1 157.1h0M352.4 158.8h0M341.6 153.1h0M381.6 154.9h0M338.2 157.2h0M379.4 164.2h0M366 155.5h0M310.8 148.5h0M325.2 157.4h0M374.2 145.2h0M373 167.1h0M321.9 159.7h0M334.5 153.6h0M318.6 163.6h0M363.2 161.3h0M353.5 148.1h0M317.9 149.9h0M358.7 154.5h0M370.6 150.4h0M317.9 151.4h0M323.2 154h0M330.8 156.7h0M373.3 159.9h0M334.6 150.2h0M367.8 164.7h0M359 144.1h0M344.2 147.9h0M373.1 144.4h0M315.2 156.4h0M352.5 160.6h0M343.7 149.3h0M337.9 154.8h0M313 149.9h0M358.4 155.1h0M328.7 149.5h0M348 165.6h0M350.4 152.8h0M355.7 166.8h0M336 156.6h0M377.8 143.7h0M331.8 153.6h0M355.8 164.4h0M349.7 156.2h0M333.2 153.2h0M344.7 157.5h0M335.1 151h0M310.2 149.7h0M351 159.3h0M322 149.6h0M362.5 152.3h0M377.8 161.9h0M315.5 142.7h0M351.8 148.6h0M340.8 154.8h0M314.6 167.5h0M328.4 159.9h0M360.8 150.2h0M338.7 151.8h0M356.8 146.4h0M363 158.6h0M368.5 150.4h0M323.4 158.4h0M373.3 163.3h0M333.4 165.1h0M356.8 162.1h0M313.9 149.2h0M313 158.3h0M353.1 158.3h0M343.3 140.5h0M381.4 170.8h0M333.6 158.6h0M365.4 159.9h0M348.8 160.3h0M350 159h0M363.5 161.4h0M361.3 153.5h0M365.8 165h0M342.6 155.7h0M319.3 173.9h0M365.9 153h0M311.7 153h0M350 152.8h0M377.9 156.7h0M363.3 151.8h0M321.5 143.9h0M381 152.5h0M355.9 160.6h0M333.2 145.2h0M317.5 154.6h0M338.9 156.6h0M314.1 160.2h0M378.3 156.9h0M326 154.5h0M326.5 149.6h0M364.8 157.6h0M325.4 158.4h0M321.1 146.3h0M364.3 163.8h0M330.2 157.9h0M321.4 148.2h0M353.1 162.1h0M324.9 152h0M335.9 152.1h0M372.4 166.4h0M331.3 151.4h0M310.4 153.9h0M320.6 154.6h0M359.3 170.5h0M361.7 142.8h0M380.8 150h0M359.8 164.2h0M332.7 152h0M318.4 157.7h0M322.7 154.1h0M320.4 170.3h0M335.4 168.2h0M325.3 154.1h0M373.8 155h0M328.9 169.9h0M339.3 152.4h0M336 145h0M349.2 153.8h0M359.8 142h0M338.7 155.8h0M340.1 148.4h0M339.5 155.4h0M382.2 146h0M328.2 154.1h0M337.1 163.4h0M360.1 158.4h0M332.6 146.5h0M309.8 154.7h0M352.7 166.4h0M326.7 161.4h0M361.4 161.8h0M347.9 161.4h0M355.4 160.4h0M325.9 158.1h0M344.1 157.5h0M347.6 158.7h0M377 153.8h0M347.7 165.5h0M322.2 156.3h0M343.1 161.7h0M372.7 173.1h0M369.1 146.5h0M320.9 154.4h0M368 151.5h0M342.6 149.1h0M360.2 151.2h0M344.4 151.3h0M359.1 164.3h0M347.5 153.9h0M337.4 159.7h0M313.9 146.8h0M361.8 155.2h0M370.3 171.9h0M324.3 163.6h0M367.2 163.2h0M341.8 160.9h0M339.3 147.2h0M368.6 158h0M376.8 149.5h0M380.2 155.8h0M333.6 154.9h0M347.9 160.4h0M375.1 154.3h0M343.3 155.8h0M370.7 160.4h0M341.6 150.8h0M346.9 150.3h0M338.9 161.7h0M365.5 161.5h0M318.3 153.9h0M317.1 154.8h0M313.7 162.3h0M361.3 156.4h0M340 154.2h0M382.2 149.3h0M334 165.8h0M310.1 149.5h0M332.4 154.7h0M372.1 161.3h0M313.4 156.9h0M372.6 150.5h0M324.4 167.1h0M343.4 155.8h0M352.1 161.7h0M376.4 146.1h0M313.4 157.4h0M350.7 147.4h0M329.6 152.9h0M368 159.3h0M342.7 148.3h0M313.9 157h0M356.1 162.6h0M353 148.5h0M367.8 141.8h0M358.6 156.7h0M370.6 159h0M376.3 160.4h0M366.6 148.3h0M328.4 156.3h0M359.5 153.2h0M312.7 152.7h0M331 153.5h0M350.4 146.3h0M375.9 159.7h0M367.7 143.9h0M338.1 148.5h0M325.9 153.2h0M316.5 164.1h0M359 157.7h0M376.7 157.2h0M377.9 159.4h0M364.2 155.2h0M377.2 148.5h0M353.1 150.5h0M316.1 151.3h0M371.1 150.6h0M376.8 146.3h0M334.7 152.7h0M357.4 149.1h0M327.7 152.7h0M322.7 165.5h0M350.3 148h0M352.9 150h0M312.1 157.2h0M319.3 154.6h0M335.3 160.8h0M322 148h0M333.8 147.5h0M320.5 159.3h0M345.7 156.5h0M318.2 158h0M346.5 153.7h0M324.1 157.8h0M327.1 152h0M346.1 153.6h0M345.2 155.1h0M351.1 156.1h0M320.9 158.5h0M311.9 160.2h0M374.4 163.1h0M352.9 156.5h0M361.3 150.1h0M381.1 169.7h0M368.8 160.8h0M368.5 161.6h0M378 161.7h0M327.5 155.3h0M334.7 163.6h0M324.1 153.4h0M382.1 149h0M344.5 165.1h0M364.3 154.2h0M324.2 162.8h0M316.4 162.8h0M335.1 146h0M363.8 140.8h0M369.8 142.1h0M370.1 159.5h0M352.6 164.9h0M372.9 149.9h0M379.5 160.9h0M380 153.3h0M326.5 158.9h0M342.9 153.8h0M359.5 147.3h0" stroke="#0568a8" stroke-width="2.8" stroke-linecap="round" fill="none" opacity="1"/>
<path d="M414.1 132.9h0M455.4 147h0M415.2 127.3h0M410.2 130.4h0M447.5 135.5h0M385.9 140.7h0M430.1 141.7h0M409.9 133.9h0M431.2 129.6h0M391.3 136.4h0M434.3 125.6h0M393.8 135.9h0M398.5 136.9h0M456.6 138.7h0M430.5 132h0M414.3 151.5h0M458.9 135.7h0M447.1 150.5h0M397.9 128.4h0M403.5 137.6h0M392.3 147.3h0M413 139.5h0M451.8 137h0M418.1 137.6h0M411.9 140.1h0M423.9 143.2h0M452.8 141.9h0M389 135h0M436 142.1h0M451.6 138.2h0M441 130h0M456.3 134.5h0M395.6 144.9h0M414.2 135.5h0M442 144.9h0M425.6 151.1h0M445.1 127.1h0M413.3 125.4h0M405.5 137.6h0M427.9 130.2h0M395.2 145.3h0M450.6 130.1h0M408.1 139.4h0M457.3 129.7h0M398.8 140.8h0M408.8 120.8h0M392.8 135.5h0M457.1 129.3h0M400 129.2h0M432.5 139.3h0M408.3 129h0M426.7 126.6h0M441.2 136.6h0M424.5 129.4h0M432 159.9h0M446.8 141.2h0M404.6 137.7h0M389.9 145.4h0M415.7 138.6h0M393.1 138.3h0M432.3 126.8h0M442.9 147.7h0M410.4 125.8h0M445.2 138.1h0M424.6 132.1h0M435 132.7h0M389.7 137.1h0M422.4 129.7h0M415 143h0M405.3 128.8h0M396.1 144.6h0M441.3 149.4h0M440.5 135.6h0M433.4 133h0M437.6 137.9h0M405.4 127.2h0M405.2 131.6h0M401.5 127.1h0M444.9 130.2h0M437.2 124.4h0M385 129.6h0M395.1 135.5h0M426.4 133.2h0M387.7 133.6h0M432 138.3h0M409.6 139.4h0M400.4 137.1h0M445.4 137.2h0M386.8 135.4h0M416.5 126.9h0M428.6 131.9h0M423.2 139.3h0M459.5 138.2h0M456.9 172.3h0M420.6 130.6h0M437.9 130.3h0M410.4 132.8h0M399.3 129h0M423.5 139.4h0M399.5 133.5h0M426.8 140.7h0M455.9 152.3h0M439 136h0M385.7 137.3h0M438.9 139h0M397 138.8h0M459.2 136.4h0M411.4 133.5h0M445.1 137.5h0M396.3 133.9h0M453.2 142.9h0M420.5 142.1h0M427 139.9h0M386.3 135.2h0M438 118.5h0M439.7 141.7h0M445.7 142h0M400.8 142.3h0M447.1 151.1h0M451.5 138.1h0M431.6 136h0M421.1 138.2h0M452.7 139.1h0M392.5 137.9h0M419 137.2h0M432.5 150.3h0M439.1 128.7h0M435.2 133.1h0M402.7 141h0M395.3 143.1h0M429.7 131.1h0M401.9 133.3h0M443.9 131.5h0M387.6 160.4h0M387.6 137h0M401.2 120.3h0M454.6 145.1h0M396.2 135.4h0M457.8 138.8h0M398.7 133.8h0M392.6 138.7h0M451.5 135.3h0M426.4 135.7h0M422.4 141.7h0M390.5 146.4h0M414.5 135.4h0M447 137.1h0M419.1 128.6h0M416.9 153h0M411.2 138.7h0M448.4 143.8h0M442 131.5h0M430.2 138.7h0M390.3 127.6h0M423.8 128.9h0M415.3 142.5h0M439.7 141.6h0M453.3 155h0M435.8 131.5h0M398.2 140.7h0M417.9 136.7h0M410.9 140h0M391.8 152.1h0M454.7 129.3h0M447.5 124.9h0M403.5 135.6h0M386.3 133.4h0M409.4 121.9h0M442.9 126.8h0M392.6 142.4h0M408.3 139.6h0M457.2 140.2h0M424.6 140.1h0M415.3 141.8h0M436.5 132.8h0M406.3 135.8h0M385.7 135.7h0M397.9 124.9h0M436.3 139.4h0M403.4 145.2h0M386.8 136.6h0M457.1 139.9h0M429.1 140.3h0M407.5 137.5h0M411.8 134.8h0M393.2 152.2h0M405.2 134.5h0M398.1 130.7h0M436.5 132.3h0M439.4 123.2h0M447.2 140.5h0M448.9 139.8h0M435.1 135.7h0M452.7 134.8h0M434.2 143.7h0M395.5 149h0M433.7 136.2h0M401.5 134.2h0M394.5 134.7h0M412 135.9h0M403.6 138.7h0M424 131.7h0M406.1 132.1h0M442.1 134.9h0M413.6 131.1h0M432.9 140.6h0M434.5 144.4h0M417.6 130h0M391.7 143.8h0M402 134.7h0M393.6 129.5h0M455 133.2h0M390.1 133.2h0M450.1 125.2h0M449.1 123.7h0M402.7 125.3h0M449.6 135.1h0M454.1 133.1h0M439.6 129.2h0M400.1 132h0M411.8 121.7h0M398.2 144.9h0M386.5 141.4h0M440.3 140.2h0M430.1 136.6h0M395.6 130h0M449.1 150.4h0M452.5 133.8h0M452.4 136.5h0M417.7 133.6h0M399.1 135.2h0M414.9 143.9h0M385.6 130.5h0M423.1 136.9h0M421.7 126.4h0M447.3 136.1h0M459.8 140.2h0M408.9 134h0M410.5 136h0M396.9 136.3h0M384.7 138.9h0M426.9 138.6h0M395 134.9h0M395.9 131.8h0M423.9 149.9h0M402.3 130.9h0M415.4 127.9h0M434.4 125.2h0M455.4 148.2h0M388.6 138.4h0M406.5 139.3h0M416.2 118.9h0M448.4 132.4h0M393.5 143.9h0M434.1 145.5h0M457 141.8h0M390.4 128.3h0M436.7 140.6h0M402.5 140.4h0M390.2 129.2h0M431.6 145h0M385.4 133.3h0M435.6 137.9h0M456.7 144.8h0M402.2 149.9h0M415.4 128.5h0M452.3 134.6h0M434.5 125h0M394.3 134.3h0M387.4 130.6h0M415.2 137.6h0M455.5 134.5h0M411.4 137.2h0M420.9 139.2h0M412.5 138.7h0M442.3 130.9h0M437.6 143.5h0M399.4 134.6h0M446.4 141.1h0M448.5 129.6h0M385.8 141.1h0M439.2 140.9h0M397.7 135.3h0M404.6 135.8h0M458.8 132.6h0M457.5 135.4h0M409.9 140.9h0M420.7 136.2h0M388.8 139.3h0M431.6 137.2h0M439.4 140.3h0M421.6 129.8h0M388.5 121.3h0M436.7 143.3h0M444.6 128.8h0M391.8 138.7h0M445.1 137.8h0M402.1 127.2h0M395.1 129.8h0M428.4 128.3h0M404.1 129.5h0M424.7 135.7h0M401.3 136.8h0M432.7 138.7h0M400.1 143.5h0M434.5 135.8h0M442.6 131.8h0M438.5 124.4h0M408.4 138.2h0M388.9 138.9h0M423.3 126.7h0M419.4 123.2h0M393.7 142.9h0M438.5 135.9h0M442.9 133.7h0M421 133.9h0M434.9 134.5h0M438.2 130h0M412.6 149.3h0M431.2 155h0M405.6 166.2h0M394.4 136.8h0M431.2 136.2h0M442.6 133.3h0M391.1 137.3h0M388.5 133.3h0M442.4 140.7h0M397 147.1h0M397.7 137.6h0M416.7 137.1h0M457.7 137.2h0M451.7 125.1h0M420.2 126.9h0M419.6 137.8h0M439.8 132.7h0M392.7 132h0M410.1 135.2h0M459.1 130.8h0M448.9 137.4h0M410.4 131.7h0M416.1 129.7h0M385.5 146.6h0M430.3 122.6h0M448.4 145.1h0M404.7 139.4h0M413.1 139.8h0M415.5 121.3h0M451.3 135.5h0M445.1 140.5h0M439.4 135.2h0M434 147.4h0M447.8 130.3h0M446.3 129.7h0M448.1 128h0M455.2 146.6h0M435.5 136.7h0M425.8 137.1h0M410.2 133h0M400.8 146.2h0M403.4 142.7h0M444.5 141h0M440.4 133.3h0M445 128.8h0M408 144.5h0M452.3 145.8h0M408.1 148.5h0M428.8 131.7h0M416 142.2h0M434.7 133.9h0M456.7 129.8h0M394.1 133.6h0M417.2 136.2h0M416.9 128.8h0M443.9 131.3h0M401.4 135.6h0M451 147.3h0M417.3 142.8h0M399.8 128.2h0M409.4 135.7h0M422.3 139.5h0M395.5 107.1h0M444.4 143.5h0M453.1 146.1h0M411.9 138.8h0M400.3 127.6h0M452.3 134.6h0M423.1 127.8h0M432.1 138.9h0M416.5 139.3h0M416.3 138.3h0M419.9 134.8h0M438.5 135.2h0M402.5 135.5h0M430 127.7h0M399.9 144h0M438.2 140.8h0M405.2 162.7h0M455.6 137.9h0M444.5 137.2h0M432.7 138.7h0M409.9 134.8h0M396.8 140h0M431.1 136.7h0M391.1 131.4h0M408.4 139.4h0M417.7 135.5h0M421.2 128.5h0M429.2 137.9h0M397.4 126.1h0M415 130.9h0M416.6 141.3h0M396.1 127.2h0M427.7 122.9h0M411.3 134.8h0M453.8 141.3h0M426.3 131.4h0M439.9 132.1h0M448.7 136.8h0M429 138.1h0M426 140.7h0" stroke="#0568a8" stroke-width="2.8" stroke-linecap="round" fill="none" opacity="1"/>
<path d="M475.1 125.5h0M464.1 125.9h0M496.2 147.1h0M487 138.7h0M528.1 148.2h0M489.6 145.9h0M517.9 142.1h0M487.9 131.5h0M500.4 141.2h0M473.6 130.8h0M463.7 135.9h0M472.6 135.1h0M466.3 138.2h0M526.7 129.8h0M501.3 137.2h0M493 141h0M515.2 154.5h0M524.1 141.9h0M464.9 139.5h0M512.4 140h0M470.2 134.8h0M509.9 136.7h0M487.8 130.8h0M480.2 139.4h0M531.3 130.7h0M475 138.2h0M487.1 139.1h0M510.5 169h0M503 135.2h0M524.7 147.9h0M529.1 146.8h0M527.1 146.4h0M489.4 140.7h0M462.5 132.4h0M462.6 149.7h0M491.6 144.2h0M491.2 148.1h0M529.9 133h0M488.9 143.7h0M526.3 138.8h0M532.4 156.1h0M484.8 138.4h0M473.4 143.8h0M528.2 142.3h0M502.8 144.7h0M503.8 157.9h0M517.3 149.9h0M524 153.8h0M514 136.8h0M469.1 149.7h0M508.6 140.3h0M488.5 122.8h0M492.5 148.3h0M519.5 141.3h0M490.6 147.8h0M495.7 130.2h0M510.4 162.2h0M514.7 142.1h0M507.4 144.9h0M464.6 132.8h0M468.4 166.3h0M495.1 151.7h0M486.5 136.5h0M475.3 128.6h0M475.4 127.1h0M486 129.6h0M517.9 126.3h0M526.9 139.4h0M531 126.2h0M506.9 155.6h0M469.2 140.5h0M519.3 147.1h0M495 151.3h0M530.4 138.7h0M501.5 142.3h0M474.1 132.1h0M481.2 131.8h0M501.5 139.4h0M525 152.6h0M530.2 138.5h0M530.7 143.3h0M501 140.9h0M471 135.8h0M506.8 158.1h0M487.9 146.3h0M507.2 155.6h0M487.7 143.1h0M483.5 132.9h0M466.8 148.1h0M498.2 153.1h0M510.7 150.9h0M532.5 167.2h0M465.7 155.3h0M502.5 172.1h0M504 131.9h0M463.1 135.4h0M469.4 132.7h0M481.2 131.6h0M530.7 149.1h0M511.6 127.7h0M470 131.4h0M481.4 134h0M529.8 136.8h0M532.6 151h0M513.7 149.2h0M487.7 134.1h0M473.4 141.2h0M503.9 139h0M502.9 144.7h0M491.5 140.1h0M492.2 138.3h0M520.6 128.9h0M468.8 144.9h0M516.4 140.4h0M509.7 136.6h0M527.7 149.8h0M475 134.9h0M468.5 135.9h0M492.2 142.7h0M479.5 129.6h0M483.8 146.3h0M492.6 124.2h0M465.4 126.2h0M473.3 127.2h0M466.3 137.7h0M514.8 143.3h0M509.7 150h0M509.1 160.9h0M478 144.9h0M510.9 134h0M509.8 141.2h0M490.6 142.3h0M467.2 144.8h0M532.4 139.8h0M496.8 141.5h0M509.7 155h0M528.4 142.2h0M495.8 134h0M510.8 134.1h0M503.2 138h0M519 144.2h0M503.5 138h0M486.9 141.4h0M481.8 145.4h0M493.2 136.1h0M523.5 142h0M473.2 157.2h0M489.2 140.4h0M487.3 120.6h0M526.6 160.8h0M523.5 159.5h0M529.4 153.4h0M476.1 146.8h0M488.7 140.1h0M503.9 139.3h0M497.9 133.7h0M509.3 137.1h0M516.8 132.7h0M517.6 147.4h0M498.4 140.6h0M482.8 148.5h0M496.4 132.7h0M477.3 145h0M487.7 136.8h0M514.2 139.8h0M508.6 135.3h0M507.2 153.5h0M487.8 119.5h0M509.7 136.9h0M519.2 157.1h0M518.6 142.4h0M481.3 147.3h0M512.7 129.2h0M493.3 148.7h0M484.5 133.8h0M482.1 139.3h0M522.7 149.5h0M492.5 126.2h0M517 144.3h0M493.4 136.7h0M504.4 140.5h0M489.1 159.1h0M485.8 129.3h0M506.5 140h0M505.5 139.1h0M476.4 127.5h0M503.7 153.8h0M485 132h0M504.9 138.9h0M470.9 135.9h0M488 132.5h0M470.4 131.7h0M479.5 138.7h0M488.9 125.6h0M481.3 135.1h0M496.2 137.1h0M478.4 138.4h0M517.4 136.2h0M518.9 143.5h0M493.4 126.5h0M468.6 140.1h0M468.8 131h0M498.2 135.9h0M512 163h0M498.4 142.1h0M488.6 135.6h0M487.6 143h0M505.8 146h0M529.9 145.3h0M499.9 137.2h0M485.5 134.8h0M530 148.5h0M490.7 133.2h0M493.8 129.8h0M478.7 136h0M488.8 147.4h0M464.2 133.2h0M510.1 121.6h0M495.7 138.1h0M511.4 136.5h0M507.9 133.7h0M498.3 131.8h0M501.2 134.2h0M471.8 130.9h0M510.3 151.3h0M502.7 143.4h0M493.6 134.6h0M488 147.8h0M531 165.1h0M505.6 122.8h0M513.8 137.5h0M522.2 135.6h0M463.3 123.7h0M493.4 133.7h0M523.3 152.5h0M525.9 143.3h0M466.9 143.3h0M473.5 140.5h0M482 123.7h0M532.4 151h0M518.6 145.1h0M514.1 123.9h0M468.7 128.5h0M523.3 146.6h0M511.8 154.4h0M476.1 134.9h0M482.1 138.9h0M511.5 155.7h0M478.1 134.2h0M498.3 121h0M464.1 136.6h0M487.5 151.8h0M486.8 140.2h0M499.4 151.3h0M527.3 151.5h0M476.2 136.3h0M487.2 137.6h0M507.3 143.9h0M488.9 143.9h0M462.3 139.3h0M480.2 133.5h0M506.6 149.2h0M517.3 145.6h0M510.3 126h0M493.2 148.3h0M469.3 154.3h0M498.3 136.7h0M489.7 134.7h0M475.2 142.3h0M500.3 142.4h0M497.9 139.1h0M476.3 140.4h0M500.3 150.1h0M517.6 145.9h0M502.8 128.6h0M488.5 141.9h0M511.2 140.7h0M501.2 140.5h0M523.9 142.2h0M480.1 151.2h0M483.5 138.2h0M488.5 165.6h0M478 138.9h0M511.6 136.2h0M464.8 162.2h0M491.4 132.3h0M467.4 140.4h0M498.5 147.7h0M521.1 138.9h0M474.8 151.4h0M509.1 131.8h0M494.9 144.8h0M523.5 166.1h0M531.6 159.7h0M522 149.8h0M471.5 141.3h0M476.7 126.3h0M508.8 141.7h0M485.2 140.1h0M486.1 130.8h0M518.3 133.3h0M500.9 138.8h0M467 140.7h0M464 138.1h0M490.2 146.5h0M491.6 132.5h0M530.8 136.2h0M493.1 136.6h0M508 120.5h0M490.1 153h0M465.2 152h0M493.4 134.5h0M481.8 133h0M528.7 134.9h0M479.1 144.8h0M493.7 133.8h0M512.6 148.5h0M483.6 140.3h0M463.6 139.7h0M463.3 134h0M478 135.2h0M498.9 138.3h0M520.4 147h0M521.7 142.3h0M529.2 146.1h0M504.6 146.4h0M511.4 151.6h0M497.4 146.3h0M493.2 141.5h0M481.7 128.3h0M468.3 134.4h0M470.3 146.1h0M497.9 141.3h0M525.5 149.7h0M531.8 124.4h0M480.4 153.1h0M505.6 132.9h0M519.6 116h0M467.8 134.1h0M505.9 144.2h0M495 140.4h0M469.6 140.8h0M508.2 141.7h0M530.3 144.8h0M492.3 147.8h0M508.3 132.3h0M502.6 145.3h0M530.6 143.2h0M532.6 157.4h0M514.9 138.2h0M528.7 134.6h0M518 155.5h0M484.4 148.1h0M522.1 131.8h0M474.3 132.2h0M486.1 154.1h0M478.1 127.9h0M485.5 134.9h0M490.2 154.5h0M463.1 133.8h0M488.8 119.3h0M480.1 160.1h0M503.5 133.2h0M479.7 143h0M532.4 122.9h0M471 136.6h0M519.6 143.1h0M501.2 138.4h0M481 142.5h0M475.8 140.5h0M506.7 150.4h0M527.6 138.6h0M528 151.8h0M469.4 143.4h0M508 130.2h0M528.7 141.1h0M516.1 149.8h0M470 147.7h0M510.7 150.6h0M471.3 131.6h0M529.5 135.8h0M493.8 136.6h0M531.1 153.4h0M467.6 138.6h0M491.4 138.9h0M491.5 131.4h0M479.1 149.1h0M497 148.6h0M485.1 131.9h0M532.9 157.7h0M468.8 129.7h0M511.7 138.3h0M521.5 153.5h0M489.4 162.8h0M500.6 146.5h0M469.4 131h0M518.9 144.9h0M524 144.4h0M516 126.2h0" stroke="#0568a8" stroke-width="2.8" stroke-linecap="round" fill="none" opacity="1"/>
<path d="M554.4 140.9h0M591.9 142.5h0M561.4 149.7h0M587.5 152.5h0M598.9 152.5h0M597.9 169.9h0M566.9 158.5h0M578.1 150.9h0M578.8 159.1h0M536.5 147.4h0M595.4 159h0M579.8 144.9h0M551 151.1h0M571.6 152.1h0M600.7 152.1h0M600.5 147.6h0M559.1 136.1h0M547.5 158.3h0M536.8 149.8h0M569.2 141.8h0M562.6 147.9h0M598.9 141h0M544.6 142.3h0M583.4 150.5h0M570.1 148.3h0M591.5 144.9h0M590.8 152.4h0M535.6 169.4h0M587.8 145.5h0M602.8 159.2h0M592.5 141.2h0M582.2 150.2h0M574.2 147.5h0M544.7 139.1h0M596.2 146.9h0M543.8 132.6h0M587.8 148.4h0M588.2 143.7h0M591.2 145.2h0M595.6 144.3h0M540.5 144.9h0M541.2 148.5h0M580.8 141h0M537.6 150.8h0M552 142.4h0M571.8 158.8h0M544.2 150.2h0M586 142.6h0M557.7 149h0M568.3 130.4h0M598.4 139.4h0M594.4 150.7h0M553.2 137.9h0M546.2 139.5h0M603.2 155.7h0M596.4 146.6h0M543.9 153.8h0M580.6 156.9h0M570.7 148.4h0M597.8 139.1h0M598.8 168.3h0M598.4 144.8h0M595.1 175.7h0M593.4 144.1h0M550.1 152.5h0M567.5 150.7h0M585.4 159.5h0M561.1 146.7h0M574.9 131.5h0M560.5 165.4h0M575.3 142.5h0M602.6 154.3h0M547.2 141.4h0M575.9 154.8h0M557 148h0M566 135.8h0M539.2 146.3h0M559.1 142.4h0M588.8 163.8h0M572.2 147.5h0M581.1 149.8h0M591.5 154.6h0M540.1 156.1h0M538.5 148.8h0M537.8 145.8h0M565.9 157.4h0M548.2 139.1h0M584.4 133.5h0M590.6 157h0M573.9 153.2h0M602 152.5h0M542.3 153.9h0M551.3 144.7h0M594.8 148.5h0M584.6 148.9h0M555.9 140.1h0M559.4 145.1h0M602.8 158.4h0M602.9 150.1h0M572.7 157h0M549.7 136.4h0M573.1 167.1h0M588.2 166.9h0M553.2 152.5h0M565.8 158h0M581.2 144.1h0M585.3 137.4h0M556.7 147.7h0M585.3 144h0M547.3 145.8h0M545.6 145.4h0M553.9 135.9h0M599.6 150.5h0M573.8 133.3h0M600.4 146.4h0M557.4 146.1h0M564.9 144.7h0M556.6 157.2h0M550 151.4h0M547.8 142.3h0M575 153.1h0M588.4 144.9h0M559 133.4h0M568 153.3h0M544.7 161.2h0M598.7 146h0M551.8 146.9h0M592.5 153h0M548.6 137.7h0M564.5 140.9h0M538.3 145.4h0M543.5 139.2h0M589.8 172.5h0M544.1 156.4h0M587.7 165.6h0M562.7 142.5h0M559 129.2h0M572.8 150h0M543.5 137h0M576.5 154.6h0M589 148.2h0M557.2 149.1h0M538.5 152.5h0M561.8 143h0M556.1 154.3h0M537.2 148.1h0M581.8 146.6h0M602 162.4h0M583.6 171h0M598.6 157.7h0M554.3 158.1h0M538.3 147.8h0M603.4 148.2h0M596.8 153.1h0M575.3 140.9h0M535.7 138.6h0M539.4 141.1h0M593 147.4h0M538.4 148h0M545.4 154.1h0M590.3 136.1h0M553.7 133.4h0M566.9 152.5h0M570.4 154.7h0M603 147.5h0M556.9 144.3h0M564.1 128.3h0M595.5 143.6h0M585.3 146.7h0M549.6 152.2h0M576.2 145.8h0M591.8 152.2h0M602.3 156.1h0M584.9 147.3h0M570.7 158h0M598.4 154.7h0M569.2 155.8h0M574.6 140.7h0M565 139.9h0M560.2 152.5h0M601.9 176.1h0M562.5 144.6h0M575.9 156.4h0M595.2 141.3h0M557.6 172.2h0M552 155.1h0M583.2 144.3h0M551.5 154.2h0M594.5 144.9h0M602.8 150.9h0M566.9 144.4h0M540.2 142.7h0M581 163.6h0M577.6 162.5h0M552.5 150h0M585.4 142.8h0M574.6 142.5h0M565.5 144.1h0M558.1 150.5h0M600.5 169.2h0M563.5 154.3h0M537.8 152.9h0M573.8 143.2h0M597 141.5h0M552.9 151.1h0M546.2 148.6h0M565.5 142h0M544.5 147.8h0M558.2 156.6h0M567.9 137.9h0M588.4 140.2h0M552.6 150.4h0M571.4 149.7h0M544.7 152.4h0M560.1 148.7h0M549.6 153.9h0M558.5 166h0M584 149.8h0M550 144.2h0M573.1 149.3h0M554.6 140.2h0M589.5 144.2h0M580.2 157h0M553.1 144.2h0M591.6 154.7h0M602.6 152.2h0M558.8 123.9h0M593.4 156.9h0M596.2 153.8h0M542.4 140.4h0M579.4 132.9h0M554.8 146.1h0M538.5 141.5h0M559.4 142.5h0M552.4 137.5h0M578.5 152h0M595.2 153.6h0M570.6 141h0M573.3 148.9h0M538.4 161.8h0M536.8 146.7h0M588.9 143.1h0M555.6 167.6h0M582.4 144.6h0M580.5 154.8h0M544.6 141h0M561.8 138.9h0M573.2 164.6h0M558 131h0M587.8 153.7h0M589.3 150.8h0M542.2 146.8h0M557.5 157.9h0M583.7 142.9h0M557.2 159.6h0M587.5 149.9h0M546 152.5h0M567 143.4h0M570.6 153.2h0M595.8 155h0M594.3 137.5h0M573.4 150.7h0M590.2 142.3h0M590.8 157.4h0M563.5 147.9h0M541.6 141.7h0M581.4 148.7h0M536.2 143.6h0M571.8 132.4h0M546.2 162.4h0M562.7 149h0M554.5 131.9h0M556.3 149.2h0M568.7 144h0M582.3 154.2h0M573.9 143.2h0M536 154.1h0M584.3 162.7h0M558.6 144.8h0M591.7 165.4h0M538.6 126.3h0M540.7 151.4h0M566.1 174.7h0M573.7 154.9h0M556.6 151.7h0M600.8 152.2h0M591.9 143.6h0M544.1 143.2h0M602.8 137.5h0M550.7 146.3h0M571.6 143.7h0M581.5 157h0M585.7 151.1h0M584.3 155.9h0M538.2 143.2h0M577.6 140.4h0M593.8 132.7h0M568.9 143.4h0M602.7 164.4h0M559.4 145.5h0M543.2 141h0M558 151.9h0M547.5 134.8h0M539.8 147.3h0M585.6 151.3h0M561 135.9h0M552.8 158.7h0M573.8 148.6h0M574.9 128.6h0M553 153.5h0M536.8 161.6h0M560.6 136.2h0M551.7 170.5h0M598.3 136.4h0M566.8 146.4h0M601.7 138.9h0M570.9 150.8h0M585.4 154.5h0M573.7 160.1h0M549.1 144.2h0M574.8 147.9h0M598.5 152.4h0M575.9 144.7h0M535.7 134.1h0M552.9 138.5h0M594.3 154.9h0M587 157h0M565 145.2h0M549.8 148.3h0M550.7 149.1h0M602.8 151h0M546.6 139h0M583.3 153.4h0M542.4 132.2h0M566.4 142.8h0M581.2 148.7h0M544.3 155.5h0M567.8 155h0M577.1 151.2h0M573.1 144.1h0M603.4 154.6h0M578.6 149.2h0M552.4 156.7h0M599.6 176.1h0M580 143.1h0M602.7 154.8h0M586.4 138.4h0M599 148.5h0M538 146.6h0M578.7 145.9h0M594 165h0M577.8 136.1h0M553.5 145.4h0M557.4 146.5h0M569.7 139.7h0M590.7 150.5h0M571.3 154.3h0M565.4 128h0M585.8 148.1h0M545.2 130.3h0M578.6 143.4h0M553.7 156h0M558.8 147.6h0M597.2 145.1h0M535.8 148.2h0M590.8 145.3h0M589.6 149.2h0M593 142.7h0M594 156h0M557.7 122.7h0M588.2 146.9h0M575.2 132.7h0M601.3 147.8h0M557.7 151.6h0M603 139.8h0M603.6 144.7h0M583.4 160.6h0M563.7 147.8h0M583.5 141.6h0M585.9 151.6h0M563.4 148.9h0M556.8 143.9h0M585.5 145.2h0M549.6 148h0M551 160.3h0M562.5 146.5h0M578.7 142.2h0" stroke="#0568a8" stroke-width="2.8" stroke-linecap="round" fill="none" opacity="1"/>
<path d="M619.3 171.3h0M629.2 159.5h0M650.2 153.7h0M650.8 168h0M680.9 161.6h0M623.1 158.2h0M643.9 144.9h0M621.8 151.1h0M630.9 144.6h0M633.6 151.4h0M662.5 150.5h0M606.4 147.8h0M621.8 133h0M674.1 145.5h0M615.1 143.3h0M653.3 156.8h0M672.1 150.7h0M612 149.2h0M621.5 155.1h0M668.6 148.2h0M626 157.3h0M657.5 169.1h0M666.9 150.3h0M655 147.6h0M646.2 143.1h0M646.9 162h0M624.6 148.4h0M673.7 149.8h0M612.9 147.8h0M608.2 171.8h0M612.3 154.3h0M624.5 158.8h0M678.3 157.8h0M638.4 165.9h0M664.8 155.9h0M660.8 165.1h0M664.1 167.6h0M649.5 156.8h0M623.1 148.1h0M643.5 162.5h0M681.6 147.1h0M667.2 153.1h0M677.9 140.6h0M633.4 141.7h0M629.7 157.3h0M619.3 149.8h0M632.7 160.6h0M627.6 158.3h0M630.5 151h0M606.6 159h0M621.9 155.8h0M679.8 146.6h0M650.1 140.1h0M669.3 154.8h0M608.9 140.1h0M611.3 152.4h0M634.7 154.9h0M634.3 155.9h0M674.3 151.3h0M680.9 160.5h0M611.9 135.9h0M674 161.6h0M674.1 140.8h0M625.8 167.3h0M618.7 142.7h0M617.7 157.6h0M641.9 146.1h0M661.3 147.9h0M652.6 138.6h0M610 165.1h0M618.7 149.8h0M650.6 147h0M642 142.9h0M629.7 140.6h0M635.8 156.7h0M675.2 150.5h0M644.8 134.6h0M614.2 153.4h0M645.6 150.1h0M681.2 158.8h0M663.4 154.3h0M676.7 149.7h0M609.8 165.4h0M680.3 148.9h0M660.8 142.3h0M613.7 147.8h0M640.2 158.1h0M615.4 163.1h0M654.7 149.5h0M680 149.9h0M664.3 155.1h0M682.1 156h0M616.1 152.4h0M653.8 153.5h0M680.3 153.1h0M614.7 143.6h0M674.5 161.7h0M652.4 162h0M614.9 159h0M656 148.3h0M666.9 150.2h0M633.4 140.3h0M649.3 153.8h0M634.3 160.5h0M654.9 147.4h0M650.6 155.4h0M607.7 141.4h0M630.1 162.8h0M654.2 160.3h0M625.7 160.3h0M664.5 152.6h0M633.3 151.1h0M677.7 137.1h0M611.6 151h0M657.9 153.1h0M639.8 152.9h0M666.2 156.4h0M650.8 146.9h0M608.6 146.3h0M649.8 142.3h0M641.9 155.8h0M627.6 169h0M606.4 145.4h0M621.3 157.1h0M676.8 159.3h0M612.9 137.5h0M655.9 149.2h0M608.9 164.4h0M609.6 145.1h0M675.1 157.1h0M676.7 153.8h0M655.4 150.4h0M667.9 155.4h0M617.2 170.8h0M611 168.6h0M673 162.3h0M631.5 153h0M641.5 139.7h0M675.1 149h0M612 143h0M643.7 154.3h0M681.2 157.5h0M675 159.6h0M660.3 151.5h0M627.2 161.7h0M618.2 143.9h0M656.3 145.8h0M626.6 147.8h0M629.5 142.5h0M665.4 159.2h0M643 161.9h0M646 146.1h0M629.8 139.2h0M649.5 164.1h0M635.5 151.7h0M607.9 151h0M675.4 150.6h0M618.3 146h0M655.8 156.8h0M662.7 153.6h0M663.9 136.7h0M625.6 159.4h0M672.9 156h0M673.2 169.3h0M646.9 141.7h0M625.9 148.4h0M677.6 140.7h0M680.1 173.7h0M633.6 142.2h0M664.3 147.7h0M627.2 148h0M635.8 154.3h0M652.6 167.5h0M631.1 155.2h0M633.9 142.8h0M649 151.7h0M680 157.4h0M666.4 139.9h0M669 156.3h0M654.1 154h0M631 155h0M610.9 151.3h0M633.5 147.9h0M671.3 163.4h0M641.3 153.4h0M627.3 159.6h0M617.3 151.5h0M667.1 154.7h0M616.7 148.9h0M609.6 152.4h0M638.3 154.6h0M639.4 158.1h0M627.6 146.4h0M620.7 143.3h0M661.2 159.4h0M676.9 159.4h0M639.2 155.1h0M657.2 142.6h0M660.2 154.1h0M661 143.2h0M638.9 147.6h0M620.2 148.1h0M656.6 161.2h0M624.9 135.5h0M617.2 154.4h0M667.9 161.8h0M638.9 160.1h0M613.2 157.3h0M678.3 170.7h0M665.2 146.9h0M645.3 157.1h0M622.2 141.7h0M679.1 143.7h0M672.8 163.9h0M616.1 133.7h0M653.4 154h0M638.6 144.7h0M615.5 141.9h0M650 146.6h0M627.3 155.2h0M622.1 156.4h0M612.3 158.1h0M646.1 149h0M629.5 155.5h0M623.9 153.7h0M660.2 155.8h0M677.9 152.5h0M648.6 161.5h0M673.5 158.9h0M620.5 153.8h0M670.3 160.2h0M621.5 151.2h0M649.3 161.9h0M656 151h0M681.7 171h0M679.2 155.1h0M669.8 157.8h0M611.9 149h0M622.9 151.8h0M653.3 156.3h0M678.6 156h0M674.3 140.6h0M664.4 157.1h0M680 156.3h0M632 145.3h0M667.3 163.1h0M636.3 147.5h0M672.8 172.1h0M613.6 149.1h0M612.9 145.6h0M663.6 155.9h0M637.5 159.3h0M644.9 157h0M641.4 165.4h0M659 139.4h0M633.1 169.2h0M673.3 146.8h0M620.2 150.2h0M671.6 167h0M631.8 163.6h0M629.2 151.7h0M636.1 155.9h0M660 149h0M656.7 152.9h0M628.2 150.4h0M679.3 151.8h0M617.9 147.2h0M645.6 145h0M619.5 148.5h0M675.1 158h0M614.8 147.9h0M655.6 143h0M662.9 146.5h0M675.5 156.5h0M659.8 155h0M611 155.5h0M672.7 149h0M662.9 151.3h0M634.8 157.3h0M646.6 153.7h0M618.5 154.4h0M670.9 144.6h0M609.1 150.4h0M621.5 136.9h0M663.5 163.9h0M612.6 144.5h0M632.6 151.4h0M670.5 161.6h0M676.1 144.2h0M619.1 156.5h0M623 146.6h0M664.7 141.5h0M669.2 138.8h0M654.4 143.4h0M659.2 162.5h0M616.9 142.8h0M663.5 140.6h0M660.7 150.7h0M642.5 155.4h0M645.1 151.8h0M621.9 139.5h0M674.4 163.3h0M626.7 137.8h0M606.9 159.9h0M645.7 163.3h0M675.5 152.1h0M611.7 142.8h0M660.4 167.1h0M673.4 138.4h0M667.3 145.5h0M641.7 139.2h0M679.3 161h0M662.2 155.8h0M644.9 158.4h0M626.1 141.7h0M658.7 164.7h0M649.9 151.9h0M680.1 153.5h0M641.8 145.6h0M608.7 146.8h0M667 147.9h0M634.5 155.4h0M678.6 160h0M606.6 150h0M625.2 146.6h0M657.9 147.2h0M646.4 166.8h0M650.5 163.8h0M632.1 145.7h0M649.1 146.2h0M624.5 150.8h0M640.5 139.7h0M663.3 139.3h0M630.2 174.9h0M635.7 157.4h0M626 143.7h0M630.3 152.5h0M673.4 154.3h0M661.3 156.6h0M670.9 143.7h0M665.4 145.2h0M611 156.1h0M636.4 150h0M647.2 165.7h0M627.1 159.4h0M614.8 139.3h0M633.7 165.4h0M672 127.2h0M611.3 153.2h0M644.5 145h0M658.1 151.1h0M615.6 151.7h0M614.1 146.8h0M673.2 138.3h0M655.8 147.8h0M668.7 150h0M623.1 149.1h0M663.7 148.5h0M617.3 149h0M657.4 150.6h0M672.6 143.2h0M658.9 153.8h0M665.6 154h0M651.2 165h0M627.4 149.8h0M622.5 140.5h0M661 151.5h0M644.9 160.4h0M645 156.5h0M673.3 166.4h0M615.3 151.4h0M630.1 156.3h0M682.2 145.3h0M634.5 156.4h0M654.1 169h0M634.8 140.3h0M617.2 160.2h0M637.9 156.2h0M674.3 145.1h0M664.6 167.2h0M621.5 152.9h0M616.2 145.7h0M637.5 150.6h0M608 137.4h0M663.7 147.1h0M659.3 156.4h0M679.9 171h0M627.8 170.6h0M668.1 154.6h0M619.9 150h0M612.4 147.6h0M619.5 137.6h0M680.2 159.5h0M616.9 171.9h0M666.3 166h0M609.4 153.3h0M664.4 161.5h0M627.5 146.7h0M618 134.8h0M609.2 155.8h0M661 150.5h0M621.2 139.1h0M606.9 146.5h0M674.6 158.7h0M676.7 145h0M645.5 171.7h0M647.9 157.6h0M623.1 146.5h0M663.1 145.2h0M615.8 155.9h0M662.9 150.4h0M679.4 160.5h0M656 153.9h0M637 147.6h0M656.7 151.3h0M616.4 160.5h0M650.5 158h0M659.9 153.6h0M643.3 163h0M655 148.7h0M607.2 151.5h0M646.9 143.7h0M615.1 150.8h0M677.7 155.6h0M622.9 145.7h0M660.1 142.3h0M638.7 154.9h0M606.2 151.1h0M667.8 158.8h0M646.2 171.8h0" stroke="#0568a8" stroke-width="2.8" stroke-linecap="round" fill="none" opacity="1"/>
<path d="M102.2 177H683.6" stroke="#fb22fb" stroke-width="2.4"/>
<path d="M167 97.8V259.5M232.3 97.8V259.5M308.5 97.8V259.5M383.5 97.8V259.5M461 97.8V259.5M534.3 97.8V259.5M605 97.8V259.5" stroke="#333" stroke-width="1.6" fill="none" opacity="0.3"/>
<path d="M167 97.8V259.5M232.3 97.8V259.5M308.5 97.8V259.5M383.5 97.8V259.5M461 97.8V259.5M534.3 97.8V259.5M605 97.8V259.5" stroke="#1c1c1c" stroke-width="1.9" stroke-dasharray="1.1 0.9" stroke-dashoffset="1.80" fill="none" opacity="0.62"/>
<path d="M101.2 259.5V97.8H683.6V259.5Z" stroke="#4a4a4a" stroke-width="1.4" fill="none"/>
<rect x="101.2" y="273.4" width="582.4" height="161.60000000000002" fill="#f5f5f5"/>
<path d="M92.2 435H683.6M92.2 414.8H683.6M92.2 394.6H683.6M92.2 374.4H683.6M92.2 354.2H683.6M92.2 334H683.6M92.2 313.8H683.6M92.2 293.6H683.6M92.2 273.4H683.6" stroke="#d6d6d6" stroke-width="1.1" fill="none"/>
<path d="M133.6 276.4V435M199.5 276.4V435M270 276.4V435M345.8 276.4V435M422 276.4V435M498 276.4V435M569.5 276.4V435M644 276.4V435" stroke="#cfcfcf" stroke-width="1" stroke-dasharray="1.6 5.4" fill="none"/>
<path d="M133.6 427.5V435M199.5 427.5V435M270 427.5V435M345.8 427.5V435M422 427.5V435M498 427.5V435M569.5 427.5V435M644 427.5V435" stroke="#c2c2c2" stroke-width="1" fill="none"/>
<text x="85.2" y="438.1" text-anchor="end" font-family='"DejaVu Sans","Liberation Sans",sans-serif' font-size="8.6" fill="#505050">0</text>
<text x="85.2" y="417.9" text-anchor="end" font-family='"DejaVu Sans","Liberation Sans",sans-serif' font-size="8.6" fill="#505050">500</text>
<text x="85.2" y="397.7" text-anchor="end" font-family='"DejaVu Sans","Liberation Sans",sans-serif' font-size="8.6" fill="#505050">1000</text>
<text x="85.2" y="377.5" text-anchor="end" font-family='"DejaVu Sans","Liberation Sans",sans-serif' font-size="8.6" fill="#505050">1500</text>
<text x="85.2" y="357.3" text-anchor="end" font-family='"DejaVu Sans","Liberation Sans",sans-serif' font-size="8.6" fill="#505050">2000</text>
<text x="85.2" y="337.1" text-anchor="end" font-family='"DejaVu Sans","Liberation Sans",sans-serif' font-size="8.6" fill="#505050">2500</text>
<text x="85.2" y="316.9" text-anchor="end" font-family='"DejaVu Sans","Liberation Sans",sans-serif' font-size="8.6" fill="#505050">3000</text>
<text x="85.2" y="296.7" text-anchor="end" font-family='"DejaVu Sans","Liberation Sans",sans-serif' font-size="8.6" fill="#505050">3500</text>
<text x="85.2" y="276.5" text-anchor="end" font-family='"DejaVu Sans","Liberation Sans",sans-serif' font-size="8.6" fill="#505050">4000</text>
<path d="M101.2 369.9L102.5 370L103.8 370.6L105.1 369.6L106.4 370.1L107.7 370.3L109 370L110.3 370.6L111.6 370.1L112.9 369.9L114.2 369.8L115.5 369.5L116.8 370.6L118.1 370L119.4 370.4L120.7 369.8L122 369.6L123.3 369.4L124.6 369.6L125.9 370.3L127.2 370.5L128.5 370.6L129.8 370.1L131.1 370.5L132.4 370.4L133.7 370.3L135 370.3L136.3 369.5L137.6 370.1L138.9 369.6L140.2 370.6L141.5 370.4L142.8 370.2L144.1 369.9L145.4 369.5L146.7 369.7L148 370.5L149.3 370.5L150.6 370.5L151.9 370.3L153.2 369.7L154.5 369.7L155.8 369.4L157.1 369.8L158.4 370L159.7 370.6L161 370.6L162.3 370L163.6 369.6L164.9 370L166.2 370.5L167 370.2L167 385.2L166.2 385.1L164.9 384.9L163.6 384.9L162.3 385.1L161 384.7L159.7 385.3L158.4 384.7L157.1 385.3L155.8 385.1L154.5 384.9L153.2 385.1L151.9 385.3L150.6 384.8L149.3 385.1L148 385.3L146.7 385.5L145.4 385.6L144.1 385.2L142.8 385.3L141.5 384.7L140.2 385.5L138.9 385.1L137.6 385L136.3 385.2L135 385.6L133.7 385.1L132.4 385.7L131.1 385.3L129.8 384.9L128.5 384.7L127.2 385.6L125.9 385.7L124.6 385.4L123.3 385.5L122 385.1L120.7 385L119.4 385L118.1 384.9L116.8 385.3L115.5 385.3L114.2 385.1L112.9 385.2L111.6 385.5L110.3 385L109 385.3L107.7 385.6L106.4 384.7L105.1 385.6L103.8 385.7L102.5 385.3L101.2 385.6Z" fill="#7d7d7d"/>
<path d="M110.6 368.9h0M106.2 368.9h0M110.8 370.1h0M106 385h0M142.8 385.4h0M103.1 385.6h0M129.1 369.5h0M124.6 368h0M123.9 386.8h0M153.9 385.8h0M156 370.2h0M116.5 368.8h0M163.2 385h0M128.1 368.5h0M135.3 368.9h0M158.1 369.7h0M165.8 368.8h0M119.2 385.8h0M103.4 367.6h0M122 385.8h0M158.8 385.6h0M153.6 369.3h0M110 370.2h0" stroke="#7d7d7d" stroke-width="2.8" stroke-linecap="round" fill="none" opacity="1"/>
<rect transform="translate(101.2 378.6)" x="0" y="-7.3" width="65.8" height="14.5" fill="url(#gG3)"/>
<path d="M167 370.3L168.3 369.5L169.6 369.4L170.9 370.3L172.2 370.6L173.5 369.6L174.8 369.6L176.1 370.1L177.4 370.3L178.7 369.8L180 370.6L181.3 370L182.6 370.3L183.9 370.4L185.2 370.6L186.5 370.1L187.8 370.4L189.1 369.5L190.4 369.4L191.7 370.5L193 370.6L194.3 370.3L195.6 369.6L196.9 370.3L198.2 369.5L199.5 369.7L200.8 370.5L202.1 370.3L203.4 369.9L204.7 369.9L206 370.3L207.3 369.7L208.6 369.6L209.9 370.2L211.2 369.8L212.5 370.3L213.8 370.3L215.1 369.5L216.4 369.9L217.7 369.8L219 370L220.3 369.4L221.6 370.3L222.9 369.9L224.2 369.4L225.5 369.4L226.8 370L228.1 370L229.4 369.4L230.7 370.5L232 370.2L232.3 370L232.3 384.9L232 385.2L230.7 385.6L229.4 384.7L228.1 385.7L226.8 385.5L225.5 385.1L224.2 385.6L222.9 384.8L221.6 385L220.3 385.1L219 385.4L217.7 385.2L216.4 385.4L215.1 384.8L213.8 384.9L212.5 385.4L211.2 384.7L209.9 384.9L208.6 385.7L207.3 385L206 384.8L204.7 385.3L203.4 385.3L202.1 384.9L200.8 385.1L199.5 385.4L198.2 385.1L196.9 385.3L195.6 385.6L194.3 385.1L193 385.1L191.7 385L190.4 384.8L189.1 384.8L187.8 385.4L186.5 384.7L185.2 385.1L183.9 385L182.6 385.3L181.3 385.6L180 385.7L178.7 385L177.4 385.2L176.1 385.2L174.8 385.1L173.5 385.5L172.2 384.7L170.9 385.2L169.6 384.8L168.3 385.4L167 385.1Z" fill="#7d7d7d"/>
<path d="M208.6 385.6h0M175.4 386.3h0M188.2 385.4h0M215.8 366.8h0M201.2 385.7h0M204 385.3h0M189.7 385h0M211.1 385.6h0M191.4 367.7h0M185.1 370h0M192.8 386h0M199.8 386.5h0M194.1 368.9h0M173.7 385.5h0M205.2 369.2h0M189.3 385.1h0M179 370h0M211.6 368.5h0M215.5 385.8h0M198.6 385.5h0M227.3 369.7h0M209.2 369.5h0" stroke="#7d7d7d" stroke-width="2.8" stroke-linecap="round" fill="none" opacity="1"/>
<rect transform="translate(167 378.6)" x="0" y="-7.3" width="65.3" height="14.5" fill="url(#gG3)"/>
<path d="M232.3 363.8L233.6 362.6L234.9 362.3L236.2 363.4L237.5 361.2L238.8 364.2L240.1 362L241.4 362.3L242.7 364.3L244 361.8L245.3 362.6L246.6 363.3L247.9 361.3L249.2 361.4L250.5 361.5L251.8 362.3L253.1 364.3L254.4 362.5L255.7 361.5L257 364L258.3 361.5L259.6 364.1L260.9 363.6L262.2 363.1L263.5 363.5L264.8 362.1L266.1 363.5L267.4 363.1L268.7 362.2L270 364.3L271.3 361.8L272.6 362.5L273.9 362.1L275.2 364.3L276.5 363.9L277.8 362.5L279.1 364.3L280.4 363.4L281.7 364.1L283 362.8L284.3 361.1L285.6 362.3L286.9 364.4L288.2 364.2L289.5 362.3L290.8 363.3L292.1 362.7L293.4 363.8L294.7 362.7L296 363.7L297.3 362.7L298.6 363.5L299.9 362.2L301.2 362.3L302.5 362.3L303.8 364.2L305.1 362.3L306.4 362.5L307.7 361.2L308.5 364.2L308.5 387.5L307.7 385.9L306.4 385.7L305.1 386.6L303.8 385.1L302.5 384.7L301.2 385.5L299.9 385.1L298.6 385.3L297.3 386.1L296 386.1L294.7 385.9L293.4 385.2L292.1 387.4L290.8 385.5L289.5 385.1L288.2 387.7L286.9 386.7L285.6 387.7L284.3 386L283 386.4L281.7 384.6L280.4 385L279.1 385.2L277.8 385.1L276.5 386.4L275.2 386.2L273.9 385.3L272.6 386.3L271.3 384.4L270 386.5L268.7 385L267.4 386.5L266.1 384.4L264.8 387.7L263.5 385.1L262.2 387.7L260.9 387.5L259.6 385.4L258.3 387.2L257 384.8L255.7 385.7L254.4 385.6L253.1 384.5L251.8 385.3L250.5 386.3L249.2 386.7L247.9 387.6L246.6 384.8L245.3 386.8L244 387.2L242.7 387.3L241.4 384.6L240.1 385.8L238.8 386.8L237.5 386.8L236.2 385.6L234.9 387L233.6 386.1L232.3 386.2Z" fill="#808080"/>
<path d="M286.9 369.2h0M286.5 362.6h0M242.2 367.1h0M296.6 357.8h0M249.6 367.4h0M270.4 366.7h0M269.6 363.1h0M267.3 356.8h0M305.6 363.4h0M300.5 359.5h0M261.6 356.1h0M277.6 369.1h0M255.7 365.4h0M283.5 367.7h0M269.9 357.3h0M281 359.2h0M233.9 362.8h0M299.6 368.7h0M294.8 363.6h0M299.2 372.1h0M262.3 354.5h0M287.1 360.7h0M264.5 366.2h0M260.5 365.1h0M296.1 359h0M238 355.2h0M274.8 363.2h0M280.9 364.9h0M298 355.8h0M261.7 365.7h0M252 362.7h0M296.4 365.6h0M280.8 366.3h0M247.2 358.7h0M276 362.6h0M247.1 366.3h0M252.9 363.7h0M288.1 367.2h0M288.8 357.3h0M261.2 354.7h0M274.2 361.1h0M276.3 364.8h0M300.4 367.6h0M234.1 356.9h0M263.6 363.8h0M300.5 358.2h0M234.2 366.2h0M279.5 367.4h0M294.8 359.8h0M243.2 360.6h0M252 365.7h0M236.3 360.1h0M272.5 360.6h0M302.9 361h0M261 359.6h0M280.7 366.5h0M244.6 357.7h0M236.7 368.7h0M243.4 366h0M237 363.4h0M301.8 364h0M284.5 360.4h0M237.6 359h0M240 367.9h0M300.6 355.7h0M289.1 366.3h0M271.2 367h0M281.9 367h0M295.3 362.6h0M255.7 368h0M304.6 359.1h0M258.9 366.6h0M249 360.9h0M259.7 362h0M268.7 365.3h0M254.5 369.1h0M242 366.1h0M269.4 360.3h0M283.5 357h0M249.8 362.2h0M257.7 359.1h0M299.4 357.4h0M262.6 368h0M267.2 361.3h0M303.7 358.2h0M240.2 364.9h0M295.9 361h0M255.7 364.1h0M284.5 362.6h0M271.4 360.6h0M288.4 369.1h0M252.9 362.7h0M237.1 357h0M302.6 363.6h0M260.2 367.5h0M239.2 369.6h0M242.2 365.1h0M240.8 364.6h0M291.9 367.1h0M263.9 354.1h0M257.2 363.6h0M273.1 366.7h0M293.9 365.1h0M285.5 361.3h0M270.8 365.6h0M273.6 363.3h0M293.4 363.1h0M266.6 358.2h0M274.6 355.7h0M288.1 363.1h0M301 368.6h0M237.6 364h0M280.4 360.5h0M249.7 360.4h0M246.4 362.3h0M273.4 367.2h0M234.4 361.4h0M272.5 362.7h0M237.7 360.8h0M244.6 364.8h0M267.7 361.2h0M245.6 363.5h0M257.4 371.3h0M238.8 360.9h0M281.5 363.1h0M289.3 371.6h0M244.4 361.7h0M286.7 355.1h0M296.2 367.7h0M265.7 370.9h0M261.5 363.3h0M252.3 359.9h0M243.9 362.1h0M302.1 364.1h0M305.4 359h0M284.5 364.5h0M260.5 361.9h0M255 358.5h0M305.3 364.1h0M253.4 354h0M239 360h0M291.7 365.5h0M295.1 364.6h0M265.2 357.3h0M303.2 363.2h0M302.2 367.3h0M287.2 358.1h0M281.8 356.3h0M289.7 361.7h0M247.8 361.4h0M273.7 361.8h0M241.3 360.1h0M307 366.3h0M287.7 365.1h0M265 361.5h0M278.3 356.9h0M257.5 369.5h0M235.2 366h0M281.3 368.2h0M292.8 360.4h0M294.1 368.2h0M242.7 356.8h0M240.5 364.8h0M245.9 365h0M302.7 365.5h0M254.1 367.7h0M302.9 362.2h0M255.9 357.4h0M275.5 366.9h0M303.3 357.4h0M273.8 367.4h0M236.7 361.6h0M242.1 356.6h0M281 365.1h0M294.2 359.2h0M295.5 362.8h0M273.1 367.3h0M306.2 357.5h0M239.3 365.3h0M300 360.7h0M282.1 362.1h0M248 362.5h0M245.7 369.1h0M300.5 356.5h0M306 362.8h0M292.6 370.5h0M302.8 361.4h0M284.9 359.1h0M285.5 360.6h0M260.5 360.3h0M243.9 358.6h0M268.5 357.1h0M249.2 358.7h0M302.6 358h0M281 358.9h0M248.2 366.4h0M278.9 366.5h0M247.2 370.7h0M279.1 361.5h0M251.5 367.1h0M237.4 355.2h0M268.8 367.2h0M233.7 363.1h0M241.4 360.1h0M255 366.6h0M266.8 361h0M294.7 362.1h0M289.6 361.5h0M239.2 359.2h0M257 369.7h0M270.8 363.6h0M296.1 357.2h0M236.7 362.7h0M243.4 363.7h0M299.9 364.7h0M263.5 357.9h0M274.5 364.4h0M258.3 363.9h0M260.7 363.3h0M284.8 370.1h0M246.8 371.8h0M246.4 360.4h0M259.2 373h0M235.4 371.9h0M284.5 367.7h0M295.5 361.4h0M240.6 365.7h0M289.2 364.8h0M286.2 364.8h0M289.9 361.5h0M285.2 369.2h0M303.5 365.4h0M251.5 365.5h0M253.1 369.8h0M300.1 366.8h0M276.5 352.9h0M305.3 357.1h0M260.8 367.6h0M267.3 369.2h0M264.2 366.7h0M299.8 361.6h0M244.2 357.7h0M246.1 363h0M275.6 361.4h0M279.3 368.7h0M273.8 358.1h0M283.9 359.4h0M235.1 360.7h0M245.3 361.3h0M277.5 364.5h0M261.4 366.7h0M294.7 370.3h0M304.7 358.5h0M306.4 363.6h0M289.8 363.3h0M272.1 359h0M295.9 355.4h0M283 357.5h0M277.3 366.2h0M263.5 360.4h0M286.3 369h0M298.2 360.3h0M239.9 352.7h0M247.8 361.5h0M293.6 365.2h0M234.4 361h0M265.1 363.8h0M234.3 363.5h0M254.7 357.5h0M252.4 367.5h0M263.3 368.4h0M254.5 359.3h0M259.7 365.8h0M265.2 362.8h0M288.7 364.1h0M259.3 362.7h0M275.6 362.2h0M274.8 358.5h0M260.4 359.1h0M238.3 354.8h0M300.4 358.2h0M273.7 359.7h0M263.7 368.9h0M257 368.9h0M237.9 360h0M277.7 354.4h0M289.1 365.6h0M284.4 360.3h0M275.4 360.5h0M258.8 364h0M284.5 358.7h0M291.6 365.3h0M241.6 365.1h0M284.7 365.6h0M255.4 361.4h0M286.9 359.6h0M286.1 358.9h0M238.3 365h0M293.2 363h0M269.6 355.9h0M266.3 359.7h0M288.7 362.1h0M267.4 357h0M272.9 367.9h0M306 358.4h0M272.9 362.6h0M237.5 361h0M276.3 364.4h0M253.5 366.2h0M254.9 359.5h0M246.1 365.6h0M239.5 367.8h0M305.3 360.3h0M254.3 360.8h0M260.4 371.8h0M241 362.1h0M275.9 365h0M259.7 365h0M266.3 357.1h0M268.9 367.5h0M238.6 367.6h0M265.5 356.6h0M262.3 363.5h0M281.3 363.6h0M284.1 359.3h0M296.7 359.8h0M252.9 366.5h0M274.3 363.4h0M262.3 368.1h0M284.6 354.7h0M307.2 365.1h0M260.5 358.6h0M297.5 367h0M246.6 357.9h0M273.5 363.8h0M260.5 353.4h0M303.8 366.2h0M274.2 364.3h0M302.2 365.4h0M275.3 370.1h0M279.1 357.6h0M280.7 356.5h0M281.3 365.1h0M272.4 355.9h0M257.1 355.4h0M283.6 363.1h0M295.5 364.1h0M304 366.6h0M300.3 364.8h0M270.4 366.7h0M236.9 356.6h0M277.4 367.8h0M267.9 362.4h0M263 363.5h0M252 365.8h0M278.3 365.2h0M299.7 364.5h0M234.5 361.6h0M295.2 367.2h0M235.7 361.8h0M241.1 353.7h0M237 362.6h0M257.2 368.1h0M249.9 361.8h0M281.2 370.6h0M240.4 372.1h0M255.3 359.9h0M249.2 360.6h0M235.7 361.5h0M288.5 365.9h0M293.6 362.4h0M276.8 363.6h0M296.3 366.6h0M264.9 366.9h0M294.2 366.5h0M270.1 363.5h0M268.3 360.2h0M295.1 356.8h0M281.7 358.4h0M290.1 362.4h0M243.2 369.1h0M272.9 362.9h0M257.9 356.1h0M245.8 362h0M277.9 369.4h0M241.8 363.7h0M305.4 362.8h0M247.1 371.3h0M286.7 367.4h0M285 358.1h0M263.7 358.4h0M268 364.2h0M286.3 357.4h0M258 355.3h0M299 361.3h0M277.1 361h0M251.3 365.3h0M286.9 361.6h0M287.9 363.6h0M237 364.8h0M276.5 356.8h0M273.9 359.4h0M302.3 360.1h0M294.6 368.3h0M271 363.1h0M285.4 361.2h0M282.6 366.1h0M267.1 366.4h0M301.3 364.3h0M303.7 361.1h0M289.7 352.9h0M265.7 370.2h0M245 367.6h0M262.1 362.5h0M291.5 362.7h0M249.2 351.4h0M254.5 361.2h0M287 365.4h0M253.7 366.7h0M251.7 360.1h0M294.3 353.7h0M245.2 366.2h0M235.4 369.2h0M273.9 360.1h0M304.4 356.3h0M252.8 363.2h0M263.1 358.8h0M288.9 361h0M256.8 360.6h0M299.6 357.8h0M281.2 359.2h0M250.4 359.8h0M293.4 366.7h0M298.3 360.4h0M255.4 374h0M256.1 358.9h0M273.3 365h0M279.9 365.8h0M264.6 360h0M287.1 367.4h0M275.8 364.1h0M244.4 366.7h0M260.3 363h0M290.3 362h0M272.2 369.3h0M238.4 361.9h0M242.8 362.9h0M297.6 363.9h0M271 354.5h0M263.6 364.4h0M258.9 369.3h0M267.6 359.8h0M286.6 355.6h0M271.4 363.1h0M288.3 368.3h0M264.5 362.5h0M302.5 357.2h0M274.7 363.1h0M241.1 371.6h0M251.4 366.6h0M290.7 362.9h0M254.3 356h0M277.5 362.5h0M295.5 363.8h0M272.1 362.6h0M274.4 359.1h0M288.2 362h0M250.6 361.2h0M280.3 368.6h0M287.2 358.6h0M260.6 364.7h0M278.5 364h0M281.3 362.1h0M243.7 356.4h0M305.2 371.8h0M282.8 365.5h0M249.3 363.3h0M261.4 368.5h0M284.6 362.3h0M249.6 369.1h0M304.8 358.9h0M301.9 365.1h0M306.8 364.2h0M251.5 360.4h0M269.6 360.8h0M287.5 360.2h0M234.9 366h0M285.9 365.5h0M252.6 365.6h0M234.7 362.3h0M297.3 365.1h0M302.5 360h0M260.8 364.9h0" stroke="#858585" stroke-width="2.8" stroke-linecap="round" fill="none" opacity="1"/>
<path d="M232.3 369.7L233.6 370.1L234.9 370.2L236.2 369.4L237.5 369.9L238.8 369.7L240.1 369.5L241.4 369.7L242.7 370.1L244 370.1L245.3 369.7L246.6 369.5L247.9 370L249.2 369.9L250.5 369.6L251.8 370L253.1 369.5L254.4 369.5L255.7 369.5L257 370.1L258.3 370.2L259.6 370.1L260.9 369.7L262.2 369.6L263.5 369.6L264.8 370.1L266.1 369.5L267.4 370.1L268.7 369.6L270 369.8L271.3 369.5L272.6 369.9L273.9 370.1L275.2 369.7L276.5 369.9L277.8 369.4L279.1 369.9L280.4 369.6L281.7 370.2L283 369.9L284.3 369.8L285.6 369.6L286.9 369.8L288.2 369.5L289.5 369.5L290.8 369.9L292.1 370.2L293.4 370.1L294.7 370.1L296 369.9L297.3 369.8L298.6 369.5L299.9 370L301.2 370.2L302.5 370.2L303.8 369.4L305.1 369.8L306.4 369.6L307.7 370L308.5 370.1L308.5 385.3L307.7 385.6L306.4 385.7L305.1 385.1L303.8 385.4L302.5 385.4L301.2 385.3L299.9 385.1L298.6 385.4L297.3 385.4L296 385.1L294.7 385L293.4 385.6L292.1 385.3L290.8 385.3L289.5 385.3L288.2 385.4L286.9 385.7L285.6 385.3L284.3 385.3L283 385.6L281.7 385.5L280.4 385.2L279.1 385.5L277.8 385.2L276.5 385.5L275.2 385.6L273.9 385.1L272.6 385.6L271.3 385.5L270 385.3L268.7 385.7L267.4 385.5L266.1 385.4L264.8 385L263.5 385.1L262.2 385.1L260.9 385.6L259.6 385.4L258.3 385.2L257 385.7L255.7 385.3L254.4 385.5L253.1 385.1L251.8 385.4L250.5 385.6L249.2 385.4L247.9 385.4L246.6 385.6L245.3 385.4L244 385.2L242.7 385.6L241.4 385.6L240.1 385.3L238.8 385.2L237.5 385.3L236.2 385.6L234.9 385.5L233.6 385.1L232.3 385.1Z" fill="#7d7d7d"/>
<path d="M243.4 370.1h0M290.6 369.8h0M244.3 370.1h0M283.5 385.4h0M236.7 369.8h0M259.4 368h0M254.5 385.8h0M275.4 369.4h0M255.6 369.7h0M285.3 385.2h0M277.5 369.7h0M274.2 385.2h0M294.1 385h0M239.8 368h0M256.2 385.5h0M240 385.8h0M305.4 385.3h0M301.1 367.4h0M253.7 385.4h0M301.4 368.4h0M275.9 385.7h0M265.5 369.7h0" stroke="#7d7d7d" stroke-width="2.8" stroke-linecap="round" fill="none" opacity="1"/>
<rect transform="translate(232.3 378.6)" x="0" y="-7.3" width="76.2" height="14.5" fill="url(#gG3)"/>
<path d="M308.5 364L309.8 364.1L311.1 363L312.4 361.1L313.7 363.8L315 364.3L316.3 364.2L317.6 362.3L318.9 363.8L320.2 362L321.5 361.7L322.8 361.7L324.1 362.1L325.4 364L326.7 361.1L328 362.9L329.3 362.9L330.6 362.6L331.9 362.9L333.2 363.9L334.5 363.8L335.8 364.3L337.1 362.9L338.4 363.7L339.7 361.8L341 362.9L342.3 362.2L343.6 362.4L344.9 361.4L346.2 363.1L347.5 362.2L348.8 364.2L350.1 363L351.4 363.2L352.7 363.3L354 362.4L355.3 362.2L356.6 361.4L357.9 361.6L359.2 362.1L360.5 362.5L361.8 362.8L363.1 362.4L364.4 363.8L365.7 362.8L367 361.7L368.3 361.4L369.6 361.2L370.9 363L372.2 363.6L373.5 363.1L374.8 363.7L376.1 361.5L377.4 362L378.7 362.3L380 361.2L381.3 361.5L382.6 364.2L383.5 362.4L383.5 386.3L382.6 387.6L381.3 386.9L380 384.4L378.7 387L377.4 385.2L376.1 385.9L374.8 385.5L373.5 386.3L372.2 386.2L370.9 387.3L369.6 386.3L368.3 386.8L367 387L365.7 386.6L364.4 386L363.1 385.9L361.8 385.9L360.5 384.5L359.2 386.5L357.9 386.8L356.6 385.9L355.3 387L354 385.3L352.7 385.5L351.4 385.3L350.1 386.6L348.8 384.5L347.5 385.7L346.2 384.9L344.9 386L343.6 384.8L342.3 387.7L341 384.4L339.7 386.2L338.4 387.2L337.1 386.4L335.8 386.5L334.5 384.6L333.2 384.5L331.9 387L330.6 385.7L329.3 387.6L328 387.6L326.7 387.7L325.4 386.5L324.1 387L322.8 385.8L321.5 386.9L320.2 387.4L318.9 385.5L317.6 384.7L316.3 386.3L315 386.8L313.7 384.5L312.4 387.3L311.1 386.7L309.8 385.1L308.5 386.9Z" fill="#808080"/>
<path d="M359.1 359.7h0M366.5 359h0M315.8 363.3h0M325.3 359.3h0M354.7 362.6h0M374.6 360h0M374.3 360.7h0M352.3 364h0M313.8 361.7h0M325.5 363.8h0M346.2 363.7h0M369.1 359.2h0M339.7 362.6h0M354 363.3h0M341.2 369h0M334.2 366h0M377.2 366h0M348.1 368.1h0M344.7 365.9h0M345.4 365.6h0M382.2 367.6h0M331.9 374.2h0M368.8 362.3h0M349.9 363.6h0M339.9 360.2h0M340.7 365.7h0M344.6 361.3h0M351.4 357.7h0M361.3 359h0M323.9 362.7h0M343.9 361.5h0M358.7 367.5h0M353.6 359.7h0M312.9 357.9h0M376.8 361h0M361 365.8h0M319.3 361.6h0M356.6 362.3h0M315.9 366.9h0M329.8 364.6h0M338.8 369.7h0M374.1 363.4h0M324.6 362.1h0M374.3 363.2h0M330.5 364.4h0M338.4 363.6h0M376.6 362.6h0M348.3 362.8h0M351.2 361.6h0M377.4 364.3h0M373.1 370.9h0M358 359.3h0M351.9 361.4h0M339.9 362.4h0M372.5 361.1h0M358.1 364.1h0M373 358.1h0M320.2 364.8h0M375.4 364.9h0M367.8 358.7h0M346.5 364h0M333 368.9h0M380.1 354.2h0M381.9 358.6h0M357.6 365.4h0M375.6 371.3h0M367.6 358.7h0M330.3 366.8h0M321.6 357.7h0M328.3 362h0M375.6 360.8h0M382.1 360.5h0M363.9 367.2h0M359.6 367.5h0M319 360.8h0M327.3 364.9h0M357.6 359.4h0M327.2 362h0M366.5 354.1h0M377.4 362.2h0M345.1 365.4h0M370.2 361.6h0M344.7 365.5h0M352.5 359.5h0M363.5 362.5h0M358.1 367.9h0M348 360.9h0M334.8 356.7h0M365.8 359.1h0M341.3 361.7h0M359.9 370.6h0M368.4 361.5h0M378.1 362.9h0M342.5 361.5h0M316.9 369.5h0M352.3 356.9h0M334.3 359h0M337 363.8h0M356.2 355h0M331.4 362.8h0M367.9 365.4h0M353.6 362.1h0M381.3 368.5h0M360.2 368.2h0M350.9 361.4h0M330.4 365.3h0M369.1 355.6h0M379.8 364.6h0M338.4 367.3h0M360.9 368.7h0M364 370.9h0M337.6 362.9h0M366.4 361.4h0M340.8 363.8h0M345.7 361.8h0M374.9 363.9h0M364.8 355.8h0M357.6 365.3h0M358.7 364.5h0M352.1 357.7h0M335.4 363.7h0M375.5 365.4h0M356.9 365.4h0M320.8 359.4h0M343.3 354.5h0M367.9 361.6h0M326.9 358h0M367.9 366.2h0M337.6 365.1h0M325 361.1h0M332.4 356.4h0M317.3 366.2h0M381.4 359.6h0M337.7 372h0M362.1 356.2h0M343 365.1h0M320.8 360.9h0M344 364h0M344.3 364.2h0M322.3 365.8h0M358 365h0M366.5 366.1h0M315.4 360.3h0M325.1 368.2h0M319.8 368h0M380.6 359.2h0M348.8 364.8h0M358.5 364.6h0M362.1 359.1h0M344.9 367.7h0M318.1 360.6h0M343.9 363.4h0M347.8 360.2h0M360.7 367.6h0M358.3 363.5h0M340.3 359.8h0M310.3 363h0M351 364.1h0M338.7 366.6h0M334.6 362.4h0M372.4 355.2h0M330 367h0M319.2 364.5h0M375.8 365.3h0M375.3 362.8h0M368.5 360.6h0M317.6 363.7h0M360.9 365.1h0M313.6 355.4h0M347.1 358.2h0M342.4 355.4h0M326.1 364h0M361 366.2h0M332.4 359.6h0M326.2 363.8h0M323.4 359.5h0M373.1 366.6h0M368.6 358.9h0M358.9 356.9h0M377.3 354h0M370.6 366.5h0M356.3 355.7h0M312 367.4h0M349.2 358.1h0M378.5 360.6h0M380.9 370.5h0M334.6 362.4h0M367.7 362.8h0M316.1 367.3h0M314.9 362.7h0M355.9 362h0M327.5 365.6h0M365.7 363.5h0M332 362.8h0M378.2 363.3h0M342.4 359.2h0M374.1 361.2h0M358.1 366.6h0M311.7 358.9h0M355.7 361.1h0M319.9 354.7h0M323.2 360.5h0M313.7 361.2h0M330.5 361.8h0M351.7 364.6h0M347.1 365.6h0M333.8 364.5h0M355 363.7h0M309.7 360.1h0M349.9 364h0M323.4 365.8h0M356.2 361.5h0M366.3 356.3h0M342.8 372.2h0M349.6 364.8h0M346.6 359.9h0M380.4 356.1h0M333.1 360.3h0M353.1 363.3h0M345.7 356h0M332.2 363.1h0M316.8 362.6h0M375.6 359h0M358.3 360.6h0M312.3 360.1h0M379.6 363.9h0M341.2 367.6h0M316.2 365.7h0M346.4 362.7h0M363 370.2h0M359.1 359.7h0M346.7 359.5h0M312.6 362.5h0M350.7 364.6h0M329.1 357.2h0M354.7 353.7h0M362.9 367h0M373 366.1h0M314.3 364.8h0M353 360.6h0M338.3 360h0M329.2 364.2h0M376.3 363.5h0M336.8 367.1h0M363 358.6h0M326.2 357.2h0M368.2 354.3h0M372.3 358.5h0M311.5 357.6h0M369.2 354.7h0M330.9 360.9h0M327.6 368h0M359.6 364.7h0M371.5 361.5h0M361.8 362.5h0M359.3 358.2h0M336.7 362.9h0M378.7 357.5h0M316.6 362.7h0M381.2 357.8h0M381.8 356.6h0M319.7 362.4h0M324.7 359.4h0M381.8 358.9h0M379.8 368.8h0M359.7 356h0M315.1 359.9h0M380.7 364.7h0M319.3 358.6h0M347.1 365.7h0M323 369.8h0M350.1 362.2h0M380.9 371.7h0M319.4 364.7h0M363.2 369.8h0M334.1 367.8h0M343.3 361.4h0M336.7 365.7h0M371.2 365.6h0M310.8 366.6h0M365.2 365.4h0M337.7 361.1h0M319.7 358.6h0M379.8 369.1h0M358.6 360.3h0M382 358.9h0M309.8 364h0M322.1 360.7h0M329.7 363.8h0M372.7 363.8h0M340.9 361.8h0M347.8 360.9h0M335.1 364.7h0M335.5 362.7h0M346.4 358.4h0M370.7 360.2h0M352.5 358.6h0M315.7 358.3h0M320 357.5h0M322.6 362.4h0M329.9 356.1h0M320.2 356.5h0M358.7 361.1h0M352 367h0M333.9 360h0M315.4 368.5h0M360.8 359.6h0M323 358.9h0M344.9 366.6h0M333.3 368.4h0M313.7 371.6h0M349.8 359.8h0M354.7 362.1h0M378.6 368.7h0M379 363.2h0M320 370.4h0M328.9 364h0M372.3 368.1h0M365.9 364h0M357.4 360.4h0M317.8 366.1h0M338.8 362.6h0M357.2 366.6h0M314.1 367.1h0M374.6 365.3h0M354.2 371.6h0M356.6 357.3h0M355.8 367.2h0M312.6 356h0M371.2 361.7h0M337.8 361.6h0M370.8 358.2h0M364.5 360.7h0M324.8 360.6h0M363.8 362.7h0M339.6 353.8h0M323.7 364.7h0M373.5 361.5h0M311.4 366.3h0M312.5 360.6h0M325.8 354.3h0M340.2 363.3h0M373.1 355.7h0M362.4 367.3h0M350.9 369.4h0M353.4 363.2h0M380.3 358.8h0M364.5 354.5h0M341.8 360.7h0M338.1 365.5h0M351.6 359.6h0M371.2 363.3h0M357.4 359.5h0M357.9 364.4h0M374.2 357.8h0M370.7 367.1h0M355.7 365.3h0M347.3 363.6h0M380.6 361.5h0M331.7 363.1h0M327.1 361.2h0M365.3 364.9h0M323.9 368.8h0M318.8 353.1h0M351.9 363.8h0M314.6 355.6h0M358.9 363.2h0M333.6 352h0M358.3 352.8h0M355.7 360.9h0M376.1 362.7h0M363.7 364.2h0M337.3 360h0M357.9 354.2h0M335 357.2h0M314 360h0M327.1 360.2h0M364 361.9h0M329.1 359.3h0M367.7 363h0M363.1 366.3h0M319.9 367.2h0M369.9 358.1h0M323.3 365.1h0M315.9 363.1h0M332.7 351.4h0M330.1 363.8h0M367 362.9h0M366.3 363.1h0M375 361.7h0M368.5 362.4h0M379 365.6h0M356.2 350.9h0M360.4 360.3h0M323.1 358.3h0M355.9 366.3h0M311.7 361h0M310.7 355.4h0M323.8 357.6h0M319.7 360.3h0M366.6 369.8h0M376 360.5h0M380.2 361.2h0M367.3 358.9h0M333.8 359.1h0M355.2 364.1h0M328.3 363.3h0M340.3 366.1h0M362.2 361.6h0M322.3 364.7h0M325.1 362h0M361.8 369h0M368.3 362.2h0M310.1 357.7h0M335.3 365.3h0M367.4 364.6h0M325.1 368.7h0M325.8 360.4h0M357.9 363.8h0M317.4 361.9h0M357.1 359.9h0M372.3 368.4h0M358 361.2h0M352.9 370.6h0M348.3 361h0M315.9 360h0M317.8 365.4h0M350.6 360.5h0M369.8 363.7h0M370.2 353.8h0M323.6 365.1h0M314.4 364.2h0M325.7 362.5h0M311.6 362.2h0M368.3 357.1h0M315 369h0M311.4 360.1h0M334.8 365.9h0M360.6 366.4h0M320.6 363.4h0M318 364.9h0M312.5 371.6h0M325.9 366h0M345.2 363.2h0M346.1 362.9h0M340.1 360.6h0M368.6 359.3h0M368.5 358.7h0M351.1 368.3h0M366.4 354.7h0M382.1 364.2h0M342.4 358h0M370.7 366.6h0M347.1 366.3h0M374.4 364h0M322.5 360.9h0M327.4 353.1h0M350 356.1h0M367.6 367.6h0M326.1 361.2h0M374.4 366.5h0M363.6 360.6h0M372.8 357.8h0M340.5 362.8h0M369.7 365.2h0M344.4 361.4h0M331.9 363h0M335 355.4h0M355.1 363.4h0M366.4 360.7h0M366 364.3h0M322.4 368.3h0M346.1 359h0M352.6 369.1h0M355.5 362h0M371.1 361.4h0M311 362.8h0M360.5 358.4h0M360.3 356.1h0M329.4 369.9h0M327.8 360h0M317.2 360h0M379.5 367.1h0M313.9 364.9h0M375.9 362.5h0M324.6 355.4h0" stroke="#858585" stroke-width="2.8" stroke-linecap="round" fill="none" opacity="1"/>
<path d="M308.5 369.6L309.8 369.8L311.1 369.9L312.4 369.6L313.7 369.8L315 369.8L316.3 369.5L317.6 370L318.9 370L320.2 369.8L321.5 370.2L322.8 369.8L324.1 369.7L325.4 369.7L326.7 369.5L328 369.6L329.3 369.6L330.6 369.9L331.9 370.1L333.2 370.1L334.5 370.1L335.8 369.6L337.1 369.9L338.4 369.8L339.7 370.2L341 370.2L342.3 369.6L343.6 370.1L344.9 369.7L346.2 370.2L347.5 369.5L348.8 369.6L350.1 369.7L351.4 369.4L352.7 369.8L354 369.8L355.3 369.9L356.6 370.1L357.9 369.4L359.2 369.9L360.5 369.7L361.8 370L363.1 369.8L364.4 369.9L365.7 370L367 369.4L368.3 369.6L369.6 369.7L370.9 369.8L372.2 369.8L373.5 369.4L374.8 369.7L376.1 369.4L377.4 370.2L378.7 370.2L380 370.2L381.3 369.7L382.6 369.5L383.5 370L383.5 385.5L382.6 385.1L381.3 385.7L380 385.2L378.7 385.3L377.4 385.3L376.1 385.6L374.8 385.4L373.5 385.7L372.2 385.6L370.9 385.7L369.6 385.1L368.3 385.4L367 385.1L365.7 385.1L364.4 385.3L363.1 385.6L361.8 385.3L360.5 385.6L359.2 385.1L357.9 385.7L356.6 385.4L355.3 385L354 385.1L352.7 385.7L351.4 385.5L350.1 385.4L348.8 385.4L347.5 385.6L346.2 385.6L344.9 385.4L343.6 385.1L342.3 385.1L341 385.5L339.7 385.2L338.4 385.2L337.1 385.2L335.8 385.1L334.5 385.4L333.2 385.4L331.9 385.6L330.6 385.4L329.3 385.4L328 385.5L326.7 385.3L325.4 385.1L324.1 385L322.8 385.5L321.5 385.3L320.2 385.6L318.9 385.2L317.6 385.3L316.3 385.6L315 385.4L313.7 385.4L312.4 385.6L311.1 385.2L309.8 385.5L308.5 385.6Z" fill="#7d7d7d"/>
<path d="M321.4 385.4h0M382.3 369.8h0M324.7 369.5h0M324.3 367.2h0M319.9 370h0M326.9 385.7h0M327 369.5h0M313.2 369.9h0M309.9 385.7h0M374.4 385.2h0M331.9 369.2h0M313.4 369.7h0M319.9 370h0M354.4 369.7h0M346.8 386.1h0M366.4 370.2h0M325 369.8h0M330.7 369h0M322.6 386.2h0M371.1 369.8h0M326 385.1h0M377.9 368.4h0" stroke="#7d7d7d" stroke-width="2.8" stroke-linecap="round" fill="none" opacity="1"/>
<rect transform="translate(308.5 378.6)" x="0" y="-7.3" width="75" height="14.5" fill="url(#gG3)"/>
<path d="M383.5 362.5L384.8 363.9L386.1 363.4L387.4 361.2L388.7 364.1L390 364L391.3 361.9L392.6 362L393.9 362L395.2 364.2L396.5 362.7L397.8 363.7L399.1 362.3L400.4 362.8L401.7 363.1L403 361.7L404.3 364.1L405.6 363.7L406.9 362.5L408.2 363.4L409.5 362.8L410.8 364L412.1 362.3L413.4 362.9L414.7 361.9L416 361.9L417.3 363.4L418.6 361.4L419.9 363L421.2 362.2L422.5 363L423.8 362.5L425.1 362.2L426.4 363.8L427.7 363.4L429 361.8L430.3 363.3L431.6 364.1L432.9 361.9L434.2 361.7L435.5 363.5L436.8 363L438.1 362.3L439.4 362L440.7 362.7L442 362L443.3 363.2L444.6 362.1L445.9 363.6L447.2 363.2L448.5 363.2L449.8 361.2L451.1 361.7L452.4 363.2L453.7 362L455 364.1L456.3 362.4L457.6 364L458.9 364.2L460.2 364.3L461 363.3L461 387L460.2 386.9L458.9 385.1L457.6 385.4L456.3 385.4L455 386.2L453.7 385.5L452.4 385.5L451.1 386.3L449.8 385.1L448.5 387.6L447.2 384.5L445.9 387.7L444.6 386.7L443.3 385.7L442 384.7L440.7 387.2L439.4 385.8L438.1 387.3L436.8 387.2L435.5 384.7L434.2 386.4L432.9 387.4L431.6 387.2L430.3 384.9L429 386.8L427.7 385.9L426.4 386.5L425.1 387L423.8 386.8L422.5 385.7L421.2 387.5L419.9 385.1L418.6 387.3L417.3 387.7L416 385.1L414.7 386.2L413.4 384.9L412.1 385.5L410.8 384.4L409.5 385L408.2 386.3L406.9 385.4L405.6 385L404.3 385.8L403 386L401.7 384.8L400.4 384.6L399.1 387L397.8 384.7L396.5 385L395.2 386.6L393.9 384.4L392.6 387.1L391.3 384.5L390 384.5L388.7 385.9L387.4 387.7L386.1 387L384.8 384.6L383.5 384.5Z" fill="#808080"/>
<path d="M393.5 368.3h0M406.8 354.1h0M407.9 351.9h0M441.6 368h0M411.2 362h0M385.5 364.1h0M389.4 364.3h0M449.2 360h0M418.3 359.8h0M412.7 366.6h0M410.2 358.2h0M456.1 361.3h0M457.7 360.9h0M417.9 363.5h0M447.3 361.8h0M400.2 361.4h0M391 363.1h0M458.9 369.4h0M388.5 364.9h0M398.1 369.9h0M390.6 355.2h0M389.9 363.6h0M398.8 364.1h0M417.4 364.9h0M396 358.6h0M425.4 360h0M448.3 358.7h0M390.1 362.6h0M426.2 360.8h0M457.5 359.4h0M433.5 365.5h0M399.8 367.7h0M436.1 360.9h0M447.7 363h0M410.5 360.8h0M448.6 356.8h0M397.2 361.1h0M400.1 358h0M422.8 361.7h0M416.8 362.7h0M399.9 359.9h0M455.9 357.8h0M420 368.8h0M449.2 365h0M457.3 364h0M453.5 360.4h0M430.1 360.9h0M444 364.3h0M393.6 361.2h0M411.9 361.1h0M415.9 368.2h0M417 371h0M428.1 366.2h0M404.6 360.5h0M385.1 362.9h0M444.7 355.9h0M436.2 366.8h0M398.9 361.1h0M402.9 357h0M415 362.8h0M424.9 366.2h0M416.1 362.5h0M417 355.5h0M406.3 368h0M418.9 360.9h0M394.9 352.4h0M420.9 358h0M419.2 362.3h0M385.8 359.8h0M420.3 358.6h0M407.5 359.1h0M410.8 361.4h0M392.5 365.1h0M424.6 364.4h0M438 357.7h0M432.5 362.2h0M451.8 365.6h0M434.5 370.2h0M401.5 359.9h0M421.3 369.2h0M454.2 353.9h0M411.5 359.9h0M425.4 361.9h0M422 365.1h0M385.8 352.4h0M401.2 360.3h0M416.8 355.5h0M422.8 355.9h0M448.9 363.3h0M403.2 358h0M429 364.2h0M428.6 368h0M408 361.9h0M397.2 362.9h0M434.8 354.6h0M403.2 364.1h0M455.5 368h0M433.3 361.2h0M431.1 356.1h0M408.4 368.9h0M451.7 365.3h0M396.6 356.8h0M432.6 367h0M413.8 360.6h0M440.8 363.2h0M433.4 358h0M393.4 362.2h0M459.8 357.8h0M425.5 359.1h0M394.1 357.6h0M431.1 364.9h0M404.5 360.5h0M387.3 359.6h0M399.8 366.9h0M441.8 362.6h0M395.3 361.3h0M436.3 357.7h0M408.3 362.1h0M412 360.6h0M413.2 361.8h0M410.3 365.7h0M440.7 362.4h0M457.7 361.5h0M453.4 364.1h0M419.2 359.5h0M400.5 360.7h0M438.2 371.3h0M414.7 357.4h0M398.5 371.1h0M434.9 356.9h0M444.5 351.7h0M415.5 362.9h0M389.5 366.2h0M423.3 358.5h0M448.8 360.5h0M428 363h0M426.6 359.8h0M422.9 360.5h0M419.7 364.2h0M418.3 364.6h0M413.5 360.8h0M425.5 361.4h0M424.3 359.2h0M455.3 366.6h0M387.3 362.3h0M423.6 363.9h0M420.3 360.9h0M431 366.8h0M432.2 357.1h0M389.4 357.8h0M430.2 361.1h0M426.5 362.2h0M438.6 358.8h0M414.5 365.7h0M431.9 363.2h0M420.7 355.6h0M445 362.6h0M458.8 356.5h0M419.8 365h0M404.7 364h0M409 366.9h0M393.5 367.9h0M442.5 366.8h0M396.2 361h0M394.4 356.9h0M451.3 357.3h0M404.3 365.3h0M426.9 362.3h0M433.5 366.6h0M429.9 356.5h0M435 366.7h0M425.6 358.2h0M436.5 366.4h0M408 358.5h0M401.4 359.3h0M457.5 361.1h0M409.7 353.8h0M399.1 366h0M459.3 364.4h0M431.1 359.7h0M393.1 360.5h0M421.8 366.3h0M435.2 363.3h0M418.1 360h0M404.1 368.5h0M447 359.6h0M386.8 362.1h0M456.2 370.6h0M459.1 364.5h0M391.6 362h0M437.3 363.2h0M444.3 369.4h0M442.3 356.8h0M422.1 363.2h0M390.4 360.2h0M425.4 365.4h0M424.5 363.1h0M390.7 364.7h0M396.1 356.7h0M424 356.8h0M400.6 356.2h0M454.6 353.1h0M405.9 368.1h0M435.9 352.4h0M436.7 357.9h0M387.5 361.4h0M410.8 361.2h0M455.1 361.8h0M445.5 366.3h0M385.5 366.7h0M390.4 363.9h0M453.7 370.4h0M432.8 374.4h0M431.3 359.3h0M452 359.2h0M426.7 365.7h0M411.6 366.3h0M385.6 362.2h0M391.6 360h0M388.8 362.2h0M447.1 360.6h0M413.3 354.7h0M448.9 362.4h0M424.3 359.1h0M401.5 363.1h0M444 355.9h0M458.5 364.9h0M419.9 365.9h0M428.7 370.6h0M427.3 367.9h0M456.9 367.3h0M386.9 362h0M409 363.3h0M417.7 362.6h0M393.4 363.6h0M453.5 353.9h0M393.3 366.9h0M388.7 365.3h0M407 367h0M427.5 363.6h0M389.7 367.1h0M398.9 366.5h0M427.3 354.5h0M431 366.3h0M423.8 362.7h0M437.8 367.3h0M412.7 369.2h0M428.6 365h0M430 365.6h0M433.9 360.1h0M418.2 366.5h0M406.5 361.2h0M431.7 360.7h0M433.5 364.6h0M424.6 366.8h0M414.7 367.4h0M385.5 366h0M432 358.8h0M454.3 366.1h0M411 367.8h0M444.4 356.6h0M421.5 356.3h0M418.8 364.6h0M459.5 367.6h0M393.8 357.4h0M401.7 360.5h0M401.8 357.5h0M406.7 362.7h0M412.1 362.2h0M394.8 359.5h0M458 363.1h0M392.9 366.7h0M458 361.2h0M450 363.9h0M426.1 358.1h0M417.4 363.1h0M385.3 365.5h0M450.9 364.1h0M401.5 359.9h0M445.3 365.2h0M438.3 357.6h0M411.8 364.9h0M404.4 362.5h0M407.2 360.7h0M408.5 362.5h0M422.4 363.1h0M422.8 359.1h0M400.3 357.2h0M440.5 358.5h0M408.1 355.1h0M391.8 361h0M394.6 360.4h0M408.3 358.6h0M414.3 363.4h0M441.2 361.1h0M450 361.9h0M409.3 361.5h0M440.5 360.3h0M458.1 368.1h0M419.4 358.7h0M400 364.2h0M403.5 359.1h0M444.3 359.2h0M439.9 360.4h0M387.2 357h0M433.7 364h0M399.1 360.3h0M457.9 354.9h0M385.8 361.5h0M390.5 365.3h0M429.5 356h0M448.1 358.1h0M406.2 359.6h0M441 358.7h0M387.5 363.3h0M413.1 364.8h0M397.1 358.1h0M407.2 360.1h0M453.1 357.1h0M423.1 366.6h0M433.3 365.1h0M425.8 358.5h0M416.3 370.5h0M459 359.9h0M440 360.4h0M390.3 365.5h0M401.4 369.9h0M439.8 362.7h0M453.4 362h0M388.9 366.2h0M420.9 366.8h0M452.7 355.2h0M425.1 361.7h0M423.7 369.4h0M417.9 355.4h0M427.6 364.9h0M458.8 358.4h0M426 356.8h0M408.8 358.8h0M450 358.7h0M397.9 352.7h0M399.3 370.1h0M426.2 366.5h0M393.7 362.3h0M404.8 355.1h0M456.1 365.6h0M422.1 364.2h0M416.7 362.7h0M428.4 361.1h0M434 362.7h0M388.2 359.9h0M436.8 363.2h0M432.3 361.4h0M416.5 358.1h0M398.1 363.9h0M437.8 361.8h0M457.6 366.8h0M423.3 363.8h0M395.5 363.1h0M392.5 369.2h0M413.1 358h0M385.8 358.1h0M450.1 355.3h0M399.1 359.5h0M424.4 365.1h0M450.4 372.4h0M396.1 363.6h0M397.3 367.1h0M419.4 361.9h0M437.2 363h0M425.4 359.1h0M403.4 365.9h0M448.6 357.6h0M406.8 358.6h0M388.7 358.6h0M396.5 355.5h0M453.7 356.8h0M388.6 354.9h0M434.2 368.3h0M454.2 363.9h0M401.7 357.2h0M445.5 362.9h0M403.5 355.9h0M420.1 362.8h0M401 358.8h0M459 366.4h0M451.1 362.7h0M397.3 369.5h0M447 363.1h0M389.9 364.6h0M392.3 361.3h0M442.3 355.6h0M436.9 369.5h0M396.1 355.3h0M401.8 365.8h0M440 361.5h0M447.4 362.8h0M428.3 366.4h0M408.4 367.7h0M396.2 364.3h0M448.2 359.9h0M391.6 369.5h0M402.3 362.7h0M431.1 370.4h0M454.8 365.4h0M420.3 361.3h0M407.3 368.1h0M409 357.6h0M438.2 363.4h0M423 363.2h0M449.8 367.7h0M432.7 369.3h0M459.4 358.4h0M399.5 361.6h0M441.5 364.4h0M433.9 356.7h0M386 365.5h0M403.7 365.2h0M433.2 364.7h0M438.1 364.9h0M390.3 354.3h0M454.4 359.7h0M455.8 355.7h0M427.4 362.9h0M424.5 372.6h0M457.3 364.9h0M417.4 361.1h0M416.5 357.7h0M445.5 357.5h0M390.9 365.5h0M424.8 359h0M446.2 358.9h0M435.2 365.1h0M454.6 362.2h0M450.1 364.1h0M435.5 362.6h0M414.8 366h0M405.4 360.2h0M395.2 365.7h0M417.1 366.8h0M441.1 365.2h0M404.8 362.7h0M426.7 365.7h0M440.7 367.9h0M411.6 362.1h0M403.8 368.3h0M394.1 368.5h0M456.1 368.5h0M446 360.2h0M403.1 367.8h0M407 360.5h0M421.1 365.3h0M425.9 360.6h0M399.7 362.5h0M444.5 362.3h0M396.9 364.5h0M458.8 358.8h0M428.7 356.1h0M450.2 362.8h0M442.5 364.6h0M438.4 352.9h0M406.7 360.1h0M419.6 368h0M427.5 363.5h0M389.6 359.6h0M392.1 366.8h0M422.4 361h0M438.7 358.5h0M441.3 360.8h0M457.4 359.7h0M431.9 360.4h0M403.3 357.3h0M390.3 363.8h0M395.2 364.4h0M435.6 361.1h0M441 363h0M395.4 362h0M386.2 362.4h0M439.6 362.1h0M396 363.1h0M388.2 365.8h0M399.1 360.6h0M445.9 357.9h0M395.5 359h0M433.8 360.8h0M459 360.6h0M404.7 368.6h0M459.7 360.8h0M425.9 358h0M436 358.5h0M428.6 368.6h0M389.4 357.5h0M425.7 371.8h0M443.2 365.3h0M402.7 366.9h0M413.2 358.9h0M389.4 358h0M395.2 362.9h0M396.2 353.4h0M395.2 361.8h0M427 355.9h0" stroke="#858585" stroke-width="2.8" stroke-linecap="round" fill="none" opacity="1"/>
<path d="M383.5 369.9L384.8 370L386.1 369.5L387.4 369.7L388.7 370.2L390 369.6L391.3 369.5L392.6 369.4L393.9 369.9L395.2 369.9L396.5 369.5L397.8 369.7L399.1 370.2L400.4 370L401.7 369.8L403 369.5L404.3 369.7L405.6 370.2L406.9 369.6L408.2 369.7L409.5 369.8L410.8 369.9L412.1 369.7L413.4 369.8L414.7 369.6L416 369.4L417.3 369.9L418.6 369.8L419.9 369.7L421.2 369.4L422.5 370.2L423.8 369.7L425.1 370.2L426.4 369.7L427.7 370.1L429 370L430.3 369.7L431.6 369.7L432.9 369.8L434.2 369.5L435.5 369.4L436.8 370.2L438.1 369.8L439.4 369.7L440.7 369.5L442 370.1L443.3 370L444.6 370L445.9 369.9L447.2 369.8L448.5 369.9L449.8 369.6L451.1 370.3L452.4 370L453.7 369.4L455 369.6L456.3 369.5L457.6 369.9L458.9 370.3L460.2 369.5L461 369.9L461 385.3L460.2 385.3L458.9 385.1L457.6 385.2L456.3 385.4L455 385.2L453.7 385.6L452.4 385.3L451.1 385.6L449.8 385.2L448.5 385.6L447.2 385.4L445.9 385.1L444.6 385.6L443.3 385.1L442 385.3L440.7 385L439.4 385.5L438.1 385L436.8 385.4L435.5 385.1L434.2 385.4L432.9 385.1L431.6 385L430.3 385.1L429 385.5L427.7 385.5L426.4 385.1L425.1 385.4L423.8 385.3L422.5 385.3L421.2 385.4L419.9 385.3L418.6 385.2L417.3 385.2L416 385.6L414.7 385.1L413.4 385.6L412.1 385.1L410.8 385.2L409.5 385.1L408.2 385.1L406.9 385.7L405.6 385.5L404.3 385.6L403 385.6L401.7 385.7L400.4 385.7L399.1 385.4L397.8 385.3L396.5 385.3L395.2 385.6L393.9 385.4L392.6 385.3L391.3 385.6L390 385.2L388.7 385.3L387.4 385.3L386.1 385.5L384.8 385.1L383.5 385.5Z" fill="#7d7d7d"/>
<path d="M429.6 369.5h0M402.5 385.7h0M434.2 385.7h0M403.7 369.3h0M384.6 368.5h0M446.2 367.2h0M418.8 367.9h0M429.6 386.3h0M437.7 369.5h0M430.9 368.8h0M388 369.8h0M448.2 385.1h0M411.2 369.5h0M395.2 385.4h0M405 385.7h0M393.3 370.1h0M399.1 370.1h0M447.6 385.1h0M397.6 367.3h0M439.6 385.2h0M398.4 385.1h0M452.4 368.4h0M399.5 385.3h0" stroke="#7d7d7d" stroke-width="2.8" stroke-linecap="round" fill="none" opacity="1"/>
<rect transform="translate(383.5 378.6)" x="0" y="-7.3" width="77.5" height="14.5" fill="url(#gG3)"/>
<path d="M461 364.1L462.3 363.7L463.6 363.8L464.9 363.5L466.2 363.4L467.5 364.3L468.8 362.6L470.1 363L471.4 361.1L472.7 361.9L474 364.1L475.3 363.6L476.6 361.6L477.9 363L479.2 362.5L480.5 362.2L481.8 361.6L483.1 363L484.4 364.2L485.7 363.5L487 364.2L488.3 361.2L489.6 362.3L490.9 363.3L492.2 363.3L493.5 362.2L494.8 363.2L496.1 361.2L497.4 362.5L498.7 362.8L500 362.1L501.3 363.5L502.6 363.1L503.9 363.1L505.2 361.8L506.5 362.2L507.8 361.6L509.1 362.7L510.4 363.6L511.7 363.6L513 362L514.3 363.9L515.6 361.9L516.9 363.7L518.2 364.1L519.5 363.9L520.8 361.3L522.1 361.5L523.4 361.5L524.7 361.2L526 363.9L527.3 362.8L528.6 361.1L529.9 362.9L531.2 364L532.5 361.4L533.8 363L534.3 361.8L534.3 387.6L533.8 385.6L532.5 384.5L531.2 385.1L529.9 387.6L528.6 385.3L527.3 384.9L526 386.9L524.7 386.7L523.4 386.7L522.1 387.3L520.8 386.9L519.5 386.2L518.2 384.9L516.9 384.6L515.6 386.7L514.3 387.3L513 387.7L511.7 385.6L510.4 387.6L509.1 385L507.8 386.9L506.5 387L505.2 387L503.9 384.4L502.6 384.4L501.3 387.5L500 385.2L498.7 386.4L497.4 387.4L496.1 387.2L494.8 385.8L493.5 387.1L492.2 385.5L490.9 386.3L489.6 385L488.3 385.4L487 386.8L485.7 386.6L484.4 387.7L483.1 387.4L481.8 386.4L480.5 386.7L479.2 385.4L477.9 385.2L476.6 386.9L475.3 385.6L474 385.6L472.7 385.4L471.4 387L470.1 385.7L468.8 385.4L467.5 385.1L466.2 386.2L464.9 387.7L463.6 386.5L462.3 385.1L461 385.1Z" fill="#808080"/>
<path d="M512.2 363.3h0M464.6 365.3h0M502.9 364.1h0M523.7 359h0M502.3 357.8h0M513.3 358.2h0M502.5 358.1h0M508.3 364.1h0M466.2 363.8h0M492.7 359.3h0M498.4 357.8h0M466.1 358.4h0M480.1 363.5h0M485.5 363.2h0M519.6 363.2h0M474 366.8h0M515.4 361.5h0M491.9 364h0M501 363.7h0M520.5 365.4h0M505.4 359.6h0M510.7 372.5h0M509.7 363.7h0M488.7 359.4h0M519.7 365.5h0M526.2 364.6h0M498.8 356.6h0M514.3 363.5h0M486.6 357.8h0M510 362.9h0M490.8 365.3h0M488.3 363.1h0M491.5 362.8h0M476.2 365.2h0M507.8 371.3h0M463.6 361.2h0M493.6 359.2h0M487.2 368.9h0M498.8 363h0M468 362.4h0M478.4 360.8h0M482.4 364.7h0M501.8 364.7h0M484.1 368.5h0M486.4 355.2h0M488.9 362.1h0M482.9 361.4h0M472.8 357.9h0M485.3 360.5h0M499.6 361h0M485.5 356h0M466.4 357.3h0M491.5 363.1h0M483.2 361.3h0M493.5 363.9h0M489.1 365.7h0M526 365.7h0M477.2 366.1h0M517.9 359.8h0M522.5 364h0M488.7 363.6h0M479.4 362.6h0M479.3 360.4h0M529.6 355.1h0M484.8 361.5h0M503.4 366.1h0M476 358.4h0M504.1 365.4h0M518.5 367.6h0M512.7 363.4h0M495.8 365.9h0M473 364.3h0M478 357.1h0M463.5 363.7h0M475.5 367.1h0M532.3 365.2h0M526.2 355.8h0M531.9 359.4h0M515.1 358.7h0M506.8 363.9h0M510.8 360.7h0M520.4 369.1h0M486.1 361.1h0M530.3 368.2h0M485.2 368.8h0M516.1 368.4h0M511.6 361.2h0M484.7 360.7h0M508.4 356.6h0M470.7 361.4h0M475.9 363.6h0M513.1 357.4h0M529.3 362.4h0M523 360.9h0M504 356.8h0M471.4 366h0M487.9 361.8h0M482.4 358.1h0M523.3 360.5h0M533.1 364.4h0M530.4 369.2h0M529.3 357h0M514.3 366.6h0M516.6 358.2h0M486.3 364.5h0M473.3 362.4h0M518.6 365.1h0M492.6 356.5h0M512.6 363.1h0M509.5 360.9h0M480.4 361.3h0M497.4 358.1h0M525.3 364.2h0M493.5 367h0M504.7 360.2h0M505 360.1h0M528.8 365h0M530.8 364.4h0M518.6 362h0M464.6 358.7h0M516.2 361.1h0M513.1 354.9h0M517.2 365.6h0M464.8 363.9h0M504.3 357.6h0M517.1 362.3h0M472.2 367.6h0M472.9 360.6h0M476.5 364.7h0M473 364.4h0M477.9 354.3h0M470.1 366.2h0M502.8 363.6h0M480 362.1h0M508.3 352.1h0M482.4 361.4h0M486.9 360.5h0M471.5 363.4h0M495.7 364.1h0M503.5 359.3h0M529.6 363.8h0M488.6 362h0M522.7 364.1h0M479.9 362.1h0M478.3 364.9h0M509.8 359.7h0M513.2 360.4h0M520.5 362h0M524.3 362.1h0M511.3 365.3h0M467.5 364h0M521.7 365.4h0M522 369.4h0M529.2 361.3h0M525.5 366.2h0M487.5 367.4h0M510.7 359.7h0M468.2 359.1h0M468.7 364.9h0M476.9 366.6h0M529.5 364h0M497 357.6h0M475.3 355.5h0M525.4 363h0M483.4 354.8h0M529 367.6h0M474.8 361.7h0M468.6 361.2h0M511.9 358.2h0M487.4 361.2h0M513.8 356.2h0M530.1 360.7h0M483.2 368.4h0M483.9 358.7h0M522.2 359.7h0M495.5 362.8h0M472.6 366.7h0M531.1 364.2h0M513.7 355h0M520.7 363.1h0M489.3 363.7h0M486.9 364.5h0M527.5 360.1h0M497.3 363h0M490.9 366.8h0M480.7 366.6h0M524.6 369.7h0M513.4 360.4h0M531.7 368.3h0M516.9 363.2h0M478.5 355.2h0M511.4 360.5h0M515.4 361.8h0M524.4 365.4h0M507.6 357.6h0M523.6 364.5h0M466.2 360h0M509.5 358h0M489.6 354.7h0M467.3 358.8h0M525.2 362h0M504.2 356.1h0M479 364.2h0M500 359.9h0M481.9 366h0M470.7 363.6h0M511.6 363.4h0M490.9 352.4h0M480.8 364.5h0M488.5 371.6h0M514.2 369.3h0M483.5 350.8h0M464.8 357.4h0M506.5 362.6h0M482.5 366.4h0M488 360.4h0M475.6 368.7h0M464.1 364.4h0M524.7 363h0M477.6 357.9h0M509.9 367.3h0M491.1 359.6h0M498.2 352.4h0M492.4 356.5h0M485.7 360.7h0M518.3 365.6h0M492.3 358.6h0M482.1 359h0M476.5 352.7h0M495.6 363.3h0M519.5 364.4h0M471.4 365.8h0M503.4 360.1h0M504.4 356.1h0M477.8 360.8h0M496.2 373.6h0M531 363.4h0M495 362.4h0M487.2 358.2h0M530.3 365.2h0M473.7 363.2h0M465.8 362.2h0M512.6 359.7h0M493 362.1h0M527.5 362.6h0M511.9 362.3h0M511.6 356.4h0M523.6 355.2h0M528.6 360.3h0M511.9 367.5h0M471 365.1h0M486 365.8h0M484.4 355.9h0M516.4 358.9h0M462.9 363.6h0M500.8 362.8h0M474 359.1h0M499.3 363.6h0M480.8 362.2h0M483.7 363h0M478.2 362.8h0M523.3 366.8h0M485.4 359.4h0M468.3 359.4h0M473 368.2h0M477.3 363.5h0M474.9 367.2h0M496.3 363.3h0M509.8 362.3h0M466.8 362.2h0M518.6 363.4h0M485.6 365h0M484 358.8h0M512.8 364.7h0M468.3 359.8h0M507.7 361.9h0M493.9 357.2h0M509.3 368.4h0M532.9 354.2h0M468.5 364.9h0M490.5 359.1h0M498 358.1h0M468.7 358.5h0M506.5 360.4h0M491 368.6h0M511.7 361.6h0M512.4 364.9h0M523.9 361.4h0M465.1 361.9h0M504.3 360h0M506.3 358.6h0M503 359.7h0M510.9 356.6h0M481.4 359.6h0M489.5 356.9h0M506 356.9h0M519.8 364.7h0M490.6 362.9h0M467.8 356.4h0M462.2 358.2h0M489.8 355.7h0M532.4 360.8h0M464.5 370.3h0M480 353.9h0M484.2 353.1h0M489.6 363.4h0M509.7 361.6h0M462.4 366.5h0M488.7 366.6h0M493.5 372.9h0M491.3 366.9h0M463.8 358.7h0M526.9 361.7h0M462.6 363h0M484.5 358.3h0M523.9 356.9h0M500.9 359.8h0M476.1 363.7h0M489.4 365.4h0M527.5 361.8h0M515.4 363.4h0M482.3 359.7h0M490.2 366.8h0M529.5 368.7h0M467.9 361.3h0M529.7 358.8h0M494.6 364.2h0M494.9 370.5h0M488.9 361.7h0M532.6 368.7h0M481.4 358h0M523.8 364.1h0M507.7 370.4h0M467.9 365.9h0M482.1 370.5h0M475.4 362.1h0M517.5 359.3h0M495.1 360.6h0M512.9 370.9h0M511.3 363.9h0M489.4 366.9h0M524.1 363.2h0M483.7 361.3h0M480 359.8h0M519.6 363.9h0M492 365.6h0M525.6 359.8h0M529.1 363.4h0M466.3 359h0M529.9 362.7h0M464.4 366.3h0M520.3 371.6h0M502.8 360.9h0M529.1 360.1h0M523.6 362h0M505.7 358.9h0M483.7 360.7h0M470.1 354.4h0M507.1 366.7h0M524 360h0M515.1 362.6h0M519.6 363.4h0M518.4 359.7h0M514 362.7h0M523.8 371.3h0M468.4 364.9h0M480.6 359.5h0M478 369.5h0M502.6 369.1h0M490.4 360.1h0M484.8 362.2h0M487.8 369.2h0M512.8 363.1h0M475.5 357.7h0M486.6 364.3h0M484.3 361.8h0M487.1 365h0M526 358.2h0M522.4 363.3h0M468.4 360.5h0M525 362.3h0M526.6 369.6h0M490.6 361.8h0M490.5 361.1h0M516.7 358.8h0M468 360.4h0M477.4 368.5h0M529 364.7h0M484.9 362.5h0M475.5 361.2h0M464.7 360.6h0M500.2 362.7h0M494.6 358.6h0M468.4 365.4h0M472.5 366.3h0M515.3 374h0M478.8 365.3h0M492.9 358.9h0M482.2 362.1h0M524.6 361.9h0M531.3 358.6h0M510.9 363.3h0M476.9 362.5h0M485.8 362.5h0M518.8 365.7h0M496.3 363.2h0M500.5 361.1h0M528.1 358.3h0M493.9 355.9h0M471.3 363.1h0M527.3 364.3h0M475.6 367h0M508.9 361h0M472.9 358.3h0M491.5 357.1h0M498.5 363.9h0M506 365.9h0M482.4 367.4h0M477.3 370.3h0M524 368.7h0M496.8 364.3h0M465.5 357.3h0M497.4 360.4h0M468.7 373.5h0M476.4 368.4h0M530.5 361.9h0M469.8 359.3h0M518.4 359.1h0M464.2 367.6h0M492 358.1h0M474.9 356.2h0M498.4 359.6h0M500.4 365.6h0M490.7 369.3h0M488.1 361.2h0M517.3 363.5h0M494.9 365.8h0M529 363.3h0M483.7 363.3h0M525.4 361.3h0M521 360.4h0M482.6 361.9h0M464.2 370.9h0M513.2 362.6h0M497.9 359.1h0M484.7 363.2h0M481 366.5h0M471 365.5h0M497.1 354.2h0M506.4 364.5h0M523.4 367.6h0M511.5 362.3h0M476.5 366.9h0M483.3 365.5h0M497.5 360h0M470.3 357.2h0M493.9 357.7h0M469.1 360.9h0M520.6 355h0M483.4 361.8h0M529.9 363.8h0M509.7 360.6h0M479.5 360.8h0M481.2 367.1h0M504.1 362.1h0M468 359.4h0M479.1 362.2h0M491.7 360.2h0M494.1 367.1h0M510.6 365.7h0M505.7 370.9h0M472.2 361.2h0M481.7 353.4h0M524.6 362h0M491.1 359.7h0M528.2 367.2h0" stroke="#858585" stroke-width="2.8" stroke-linecap="round" fill="none" opacity="1"/>
<path d="M461 370.2L462.3 369.6L463.6 370.2L464.9 369.7L466.2 369.7L467.5 369.7L468.8 370.2L470.1 370L471.4 369.6L472.7 370.1L474 369.4L475.3 370L476.6 369.6L477.9 369.6L479.2 369.5L480.5 369.4L481.8 369.7L483.1 369.6L484.4 369.9L485.7 369.7L487 369.9L488.3 370L489.6 369.4L490.9 369.5L492.2 369.5L493.5 369.7L494.8 370L496.1 369.7L497.4 369.9L498.7 370L500 370.2L501.3 369.7L502.6 369.7L503.9 369.8L505.2 370.1L506.5 370.2L507.8 370L509.1 369.8L510.4 369.6L511.7 370.1L513 370.2L514.3 369.6L515.6 370.2L516.9 369.5L518.2 370L519.5 369.4L520.8 370L522.1 370.2L523.4 370L524.7 369.6L526 370L527.3 370L528.6 370.1L529.9 369.6L531.2 369.8L532.5 369.7L533.8 369.7L534.3 369.5L534.3 385.1L533.8 385.5L532.5 385.6L531.2 385.6L529.9 385.5L528.6 385.7L527.3 385.7L526 385.2L524.7 385.2L523.4 385.6L522.1 385.4L520.8 385.5L519.5 385.1L518.2 385.3L516.9 385.3L515.6 385.5L514.3 385.6L513 385.3L511.7 385.3L510.4 385.6L509.1 385.1L507.8 385.1L506.5 385.4L505.2 385.2L503.9 385.2L502.6 385.1L501.3 385.4L500 385.3L498.7 385.1L497.4 385.3L496.1 385.4L494.8 385.6L493.5 385.6L492.2 385L490.9 385.1L489.6 385.5L488.3 385.2L487 385.1L485.7 385.2L484.4 385.2L483.1 385.5L481.8 385.5L480.5 385.1L479.2 385.4L477.9 385.6L476.6 385.4L475.3 385.6L474 385.2L472.7 385.2L471.4 385L470.1 385.4L468.8 385L467.5 385.1L466.2 385L464.9 385.7L463.6 385.4L462.3 385.4L461 385.5Z" fill="#7d7d7d"/>
<path d="M464.2 369.2h0M529.4 369.4h0M499 366.9h0M490.7 386.1h0M498.2 368.5h0M463.1 367.7h0M515.8 368.5h0M473.2 369h0M476.3 385.1h0M518 368.9h0M508.7 370h0M533.1 368.3h0M490.7 385h0M522.6 367.9h0M513.9 370.1h0M517.5 385.6h0M489.4 385.1h0M523.7 369.4h0M507.3 385.2h0M512.6 368.8h0M489.9 368.7h0" stroke="#7d7d7d" stroke-width="2.8" stroke-linecap="round" fill="none" opacity="1"/>
<rect transform="translate(461 378.6)" x="0" y="-7.3" width="73.3" height="14.5" fill="url(#gG3)"/>
<path d="M534.3 363.9L535.6 363.5L536.9 361.3L538.2 361.5L539.5 361.6L540.8 361.5L542.1 361.8L543.4 363.1L544.7 361.5L546 362.3L547.3 362.5L548.6 362.3L549.9 362.1L551.2 364.2L552.5 361.3L553.8 362.8L555.1 361.7L556.4 361.5L557.7 362.5L559 362.3L560.3 363.3L561.6 364.1L562.9 363.5L564.2 363.7L565.5 361.1L566.8 361.2L568.1 361.3L569.4 362.5L570.7 363.9L572 364.1L573.3 362.9L574.6 363.6L575.9 362.8L577.2 362.2L578.5 361.9L579.8 363.4L581.1 361.6L582.4 363.2L583.7 364L585 363.1L586.3 362.8L587.6 361.1L588.9 362.6L590.2 363.8L591.5 361.3L592.8 362.3L594.1 363.7L595.4 363L596.7 361.8L598 361.9L599.3 361.8L600.6 363L601.9 363.5L603.2 361.2L604.5 362.1L605 362.4L605 384.6L604.5 387L603.2 385.8L601.9 386.8L600.6 385.9L599.3 386.6L598 386.7L596.7 386.7L595.4 387.1L594.1 387.6L592.8 384.6L591.5 387.4L590.2 387.5L588.9 385.9L587.6 387.4L586.3 387.3L585 384.5L583.7 385.2L582.4 387.4L581.1 384.5L579.8 387.2L578.5 386.8L577.2 387.4L575.9 387L574.6 386.6L573.3 386.2L572 386.5L570.7 386.9L569.4 387.3L568.1 385.2L566.8 385.6L565.5 384.6L564.2 384.8L562.9 386.2L561.6 385.8L560.3 385.6L559 384.5L557.7 384.4L556.4 387.2L555.1 385.8L553.8 386.5L552.5 386.3L551.2 385L549.9 385L548.6 385.3L547.3 385.7L546 387.5L544.7 384.9L543.4 385.5L542.1 386.3L540.8 384.4L539.5 386.3L538.2 386.2L536.9 386.2L535.6 386.8L534.3 387.4Z" fill="#808080"/>
<path d="M576.4 361.1h0M584.5 357.6h0M583.3 361.2h0M594.6 362.6h0M603 364h0M536.6 362.1h0M598.9 367.4h0M600.2 362.7h0M579.7 364.4h0M543.6 364.7h0M556.1 361.7h0M539.1 364.5h0M552.1 363.1h0M588.6 364.2h0M594.6 357.3h0M579 358.6h0M552.3 371.6h0M548.2 353.2h0M557.5 363h0M598.8 360.1h0M594.5 361.1h0M542.6 360.7h0M588.1 365h0M544.2 368.2h0M573.6 362.7h0M594.4 356.2h0M593.7 361.2h0M571.1 362h0M564.9 355.1h0M553.4 361.6h0M591.8 369.8h0M569.2 361.8h0M573.2 362.6h0M538 364.3h0M588.5 364.3h0M536.9 363.8h0M603.7 365.5h0M567.9 370.9h0M554.9 363.6h0M601.9 363h0M554.6 361.6h0M560.6 364h0M597.3 363.6h0M588.6 363h0M582.4 361h0M563.6 364.8h0M549.1 358.4h0M592.2 364.8h0M552.7 368.3h0M558.9 366.9h0M553.8 357.5h0M563.5 359.7h0M549.2 364.3h0M544 359.3h0M576 361h0M560.2 360.2h0M603 363.4h0M593.2 365.5h0M599.6 366.3h0M578.5 356h0M573.3 357.5h0M579.8 366.3h0M599.5 364.6h0M536 362.1h0M584.9 371.2h0M601.9 361h0M552.9 361h0M537 357.4h0M542.4 359.5h0M565.6 361.1h0M548.9 365.4h0M592.4 369.3h0M572.8 362.5h0M585.2 370.2h0M557.2 369.7h0M552.3 366.3h0M560 356.9h0M543.3 362.3h0M565.9 361.9h0M596.1 360.7h0M558 356h0M575.6 364.5h0M568.6 367.3h0M548.5 368.9h0M572.4 363h0M550.4 360h0M589.4 358.6h0M547.4 364.5h0M547.6 364.1h0M595.9 358.9h0M571.4 368.6h0M547.6 362.3h0M560.8 364.1h0M556.4 362.1h0M574.6 365.3h0M540.4 364.7h0M574.5 362.5h0M601.3 362.4h0M585.5 359.3h0M588.1 364.1h0M593.7 363.5h0M554.2 363.5h0M561.1 367.8h0M548.2 360.6h0M550.6 358.4h0M543.5 362.1h0M551.4 354.6h0M551 361.7h0M570.2 363.8h0M572.8 363.3h0M590.3 362.3h0M585 356.7h0M573.8 365.9h0M581.1 358.7h0M565.4 363.3h0M586.8 369.7h0M565.1 361.1h0M555.7 360.6h0M573.9 359.3h0M545.6 361.4h0M572.1 360.3h0M539.8 355.2h0M559.9 362.8h0M562.2 370.7h0M599.9 358.7h0M558.1 366.5h0M548.7 363.2h0M579.8 364.1h0M551.2 360.4h0M562.2 357.3h0M539.4 358.2h0M562 356.7h0M588.8 362.9h0M558.9 362.9h0M576.5 362.6h0M603.8 360.4h0M557.7 365.2h0M603 366.5h0M551 356.7h0M582.9 361.5h0M592.6 360.7h0M567.9 361h0M554.5 361.1h0M538.5 361h0M564.7 362h0M542 361.9h0M583.5 365.1h0M590.5 365.8h0M538.6 371.3h0M539.1 357.8h0M545.7 366.6h0M540.1 362.2h0M592.8 361.3h0M563.9 368.1h0M573.5 368.2h0M557.4 362.7h0M591.2 365.8h0M575.5 363.1h0M588.6 366.4h0M572.7 362.6h0M582.6 359h0M563.5 354.6h0M564.1 369.8h0M547.2 363.5h0M548 363.4h0M565.2 362.6h0M544.3 361.4h0M596.7 358.8h0M577.3 363.8h0M570.3 356.7h0M535.6 368.8h0M590.6 360.2h0M601.5 357.6h0M561.5 362.1h0M565.9 360.8h0M572.6 366.8h0M587.3 358.9h0M571.5 366.8h0M542.4 364.6h0M588.3 360.7h0M581.3 359h0M595.2 358.5h0M593.4 365.6h0M571.7 359.8h0M564 354.5h0M596.5 364h0M603.8 354.6h0M560.2 356.4h0M553.3 366.1h0M549.8 365.2h0M602.1 362h0M562.3 361.1h0M591.8 361.1h0M563.1 367.1h0M545 360.6h0M550.4 369.5h0M581.2 359.6h0M551.3 365.2h0M586.4 365.7h0M535.8 365.7h0M557.6 363.5h0M568.4 365.3h0M588.1 363.9h0M581.7 360.9h0M582.3 369.9h0M560.9 368.5h0M570.3 370.7h0M558 360.2h0M552 368h0M586.2 356.9h0M548.3 357.6h0M558.5 374.1h0M589.4 364.7h0M551.3 368.2h0M535.6 360.1h0M591.7 365.5h0M593.9 358.4h0M585.1 368.1h0M591.5 353.8h0M595.6 366.1h0M557.5 361h0M548.1 363.6h0M594.7 372.8h0M558.1 365.7h0M540 357.5h0M590.7 355.6h0M564.8 363.3h0M599.5 363.6h0M554.8 361.1h0M568.2 358h0M568.8 363.2h0M589.8 365.3h0M557.7 370h0M586 357.3h0M585.2 361.5h0M559.2 367h0M571.2 361.2h0M583.4 364.8h0M567.9 356.4h0M598.5 365h0M563.7 365.8h0M549.7 361.9h0M556.9 361.3h0M574.3 356.9h0M585.8 362.6h0M571.5 373.9h0M577.6 367.4h0M558.8 363.6h0M556.7 365.2h0M565.9 358.3h0M572.9 368.8h0M575.3 373.6h0M603.2 365h0M575.3 357.4h0M566.3 365.7h0M602.6 361.9h0M540.6 361h0M559.2 367.2h0M556.5 359.1h0M575 364h0M563.9 365.5h0M571.8 367.3h0M542.7 356.6h0M535.6 361.7h0M570.9 364h0M557.7 355.8h0M538.8 360.6h0M579.6 359.5h0M583.6 357.5h0M573.5 371.9h0M538.7 364.7h0M576.9 366.1h0M547.4 365.2h0M581.8 360.8h0M600.2 366.1h0M579 359h0M587.7 364.8h0M580.2 360.1h0M556.7 368.7h0M573.5 362.6h0M602 364.4h0M563.3 360.3h0M596.8 361.8h0M547.3 363.9h0M551.6 361.5h0M546.8 369.1h0M589.5 357.5h0M559.3 368.5h0M591.4 363.3h0M545.1 352.9h0M562.4 365.3h0M587.7 355.3h0M571.8 366.1h0M575.6 363.5h0M538.7 364.5h0M566.7 373.1h0M567.2 366.2h0M598.9 364.8h0M550.1 369.2h0M586.5 362.2h0M556.5 358h0M544.1 358.2h0M591.8 354h0M591.2 361.6h0M570.1 357h0M581.4 367.4h0M553.2 360.9h0M542 361.6h0M581.6 365.8h0M561.6 372.4h0M560.3 357.9h0M602.4 368.4h0M536.1 358.5h0M590 363.9h0M549.7 369.5h0M584.7 364.5h0M583 354.7h0M539.2 357.7h0M591.5 368.1h0M550.7 365h0M589.4 362.5h0M599 365.9h0M563.9 360.7h0M561 365.1h0M550 360.4h0M546 362.2h0M570.8 364.7h0M598.1 362.5h0M578.9 366.1h0M564 363.1h0M597.7 367.1h0M598.5 360.4h0M562.8 361.7h0M583.9 364h0M543.8 362.9h0M595.7 360.9h0M596.5 361.3h0M543.1 367.5h0M571 357.2h0M535.6 366.7h0M602.9 357.3h0M537 364.5h0M584.2 363h0M565.8 363h0M536.7 356.8h0M587.8 360.3h0M557.7 360.8h0M551.1 359.9h0M573.5 364h0M536.6 353.4h0M551.2 366h0M541.2 365.9h0M561.9 364.1h0M551.9 355.2h0M579.2 364.7h0M538.6 366.6h0M572 360.2h0M598.7 360.7h0M547.5 360.3h0M537.7 363.3h0M537.6 357.9h0M554.1 370.3h0M559.1 365.9h0M556.3 357.6h0M567.5 364.6h0M544.7 365.5h0M580.1 362.9h0M565.1 363h0M593.3 368h0M602.2 366.2h0M549.4 364.6h0M596.8 361.2h0M575.5 358.3h0M558.7 367.1h0M584 363.3h0M578.3 357.7h0M588.5 362.5h0M572.6 355.6h0M578.4 358.4h0M541.8 359.8h0M578.5 361.6h0M565.1 366.7h0M578.1 373.7h0M593 367h0M582.3 363.5h0M581.8 361.5h0M550.8 364.4h0M594.3 368.6h0M539.6 366.5h0M558.8 362.3h0M553.1 360.4h0M573.1 366.7h0M543.5 368.3h0M544 364.8h0M558.6 363.2h0M540.9 357.3h0M602.6 370.1h0M537.9 356.5h0M586.8 359h0M561.1 365.4h0M578 363.8h0M597.9 359.7h0M579.5 367.4h0M589.8 362.6h0M586 363.4h0M563.5 359.1h0M539.3 364.5h0M581 361.7h0M558.2 364.1h0M552.6 360h0M551.2 359.2h0M572.8 365.8h0M557.3 357.2h0M547.1 364.3h0M586.1 362.6h0M550.1 371.1h0M588.3 358.7h0M589.2 365.1h0M580 364h0M575 361.8h0M571.4 361.5h0M598.2 365.5h0M542.6 357.4h0M595.5 360h0M584.6 365h0M586 370.6h0M538.7 359h0M555.2 356.8h0M585.9 357.4h0M551.2 365.4h0M574.3 367h0M563.9 367.7h0M557.3 364.9h0M560.6 359.6h0M591.5 357.6h0M551.1 366.3h0M547.9 364.9h0M539.8 355.9h0M544.6 361.1h0M554.7 365.5h0M575.2 362.9h0M567.9 361.6h0M579.2 356.4h0M600.4 366.4h0M578.1 356.4h0M574.5 359.1h0M564.8 361.9h0M538.6 356.3h0M543.1 358.1h0M573.8 362.3h0M562.3 357.5h0M553.7 366h0M600 361.8h0M566.9 357.8h0M546.7 357.7h0M586.3 361.2h0M570.9 372.2h0" stroke="#858585" stroke-width="2.8" stroke-linecap="round" fill="none" opacity="1"/>
<path d="M534.3 370L535.6 370.1L536.9 370.2L538.2 369.7L539.5 370.1L540.8 369.7L542.1 370.1L543.4 369.7L544.7 369.6L546 369.8L547.3 369.5L548.6 369.5L549.9 369.8L551.2 369.7L552.5 370.1L553.8 369.8L555.1 369.4L556.4 370.2L557.7 369.9L559 370.1L560.3 370.2L561.6 369.5L562.9 370.2L564.2 370.1L565.5 369.7L566.8 369.8L568.1 370L569.4 369.6L570.7 369.7L572 369.8L573.3 369.7L574.6 369.7L575.9 369.8L577.2 370.2L578.5 370L579.8 369.5L581.1 369.5L582.4 370.2L583.7 369.5L585 370.1L586.3 369.5L587.6 370L588.9 370.2L590.2 370.2L591.5 369.5L592.8 369.8L594.1 369.5L595.4 370.1L596.7 369.8L598 370.1L599.3 369.5L600.6 370L601.9 370.1L603.2 370L604.5 369.6L605 369.8L605 385.6L604.5 385.7L603.2 385.7L601.9 385.6L600.6 385.1L599.3 385.4L598 385.1L596.7 385L595.4 385L594.1 385.5L592.8 385.2L591.5 385.5L590.2 385L588.9 385.1L587.6 385L586.3 385L585 385.3L583.7 385.6L582.4 385.2L581.1 385.2L579.8 385.5L578.5 385.5L577.2 385.3L575.9 385.1L574.6 385.3L573.3 385.3L572 385.3L570.7 385.5L569.4 385.6L568.1 385.4L566.8 385L565.5 385.6L564.2 385.5L562.9 385.2L561.6 385L560.3 385.1L559 385L557.7 385.1L556.4 385.7L555.1 385.1L553.8 385.4L552.5 385.3L551.2 385.6L549.9 385.7L548.6 385.6L547.3 385.1L546 385.5L544.7 385.2L543.4 385.5L542.1 385.2L540.8 385L539.5 385L538.2 385.4L536.9 385.2L535.6 385.3L534.3 385.1Z" fill="#7d7d7d"/>
<path d="M580.6 369.8h0M603.3 369.1h0M540.9 367.6h0M537.1 370.2h0M552.2 369.4h0M551.6 368.4h0M588 369.3h0M537 369.5h0M551.2 368.8h0M541 367.9h0M544.3 367.4h0M585.2 369h0M544.3 369.8h0M587.9 369.4h0M601.1 385.5h0M575.9 368.1h0M570.9 385.8h0M569.3 370.1h0M587.4 370.1h0M574.3 370.2h0M582.3 385h0" stroke="#7d7d7d" stroke-width="2.8" stroke-linecap="round" fill="none" opacity="1"/>
<rect transform="translate(534.3 378.6)" x="0" y="-7.3" width="70.7" height="14.5" fill="url(#gG3)"/>
<path d="M605 364.4L606.3 361.8L607.6 364.2L608.9 361.8L610.2 362.1L611.5 363.8L612.8 363.9L614.1 362.2L615.4 363.9L616.7 363.1L618 362.5L619.3 363.4L620.6 364.3L621.9 362.8L623.2 362.2L624.5 361.2L625.8 364.3L627.1 361.5L628.4 362.1L629.7 362.2L631 362.2L632.3 362.9L633.6 362.1L634.9 363.6L636.2 363.8L637.5 363.8L638.8 363.5L640.1 363L641.4 362.6L642.7 362.7L644 363.9L645.3 362.9L646.6 361.6L647.9 361.1L649.2 361.2L650.5 363.6L651.8 362.1L653.1 364.2L654.4 362.3L655.7 361.9L657 363.5L658.3 363.7L659.6 363.3L660.9 362L662.2 363.9L663.5 362.9L664.8 362.3L666.1 364.2L667.4 364.2L668.7 362.4L670 364.2L671.3 364L672.6 363.4L673.9 362.6L675.2 362.5L676.5 362.4L677.8 363.3L679.1 364.2L680.4 362.2L681.7 361.9L683 363.7L683.6 363.2L683.6 386.8L683 385.5L681.7 384.9L680.4 386.3L679.1 386.7L677.8 384.8L676.5 385.5L675.2 387.1L673.9 387.7L672.6 387.4L671.3 386.9L670 385L668.7 384.7L667.4 387.2L666.1 385.2L664.8 386.4L663.5 385.4L662.2 384.6L660.9 384.6L659.6 387L658.3 386.4L657 385.1L655.7 387.4L654.4 384.6L653.1 385.6L651.8 386.1L650.5 386.3L649.2 387.2L647.9 384.8L646.6 385.4L645.3 386.4L644 386.6L642.7 385.7L641.4 386.3L640.1 385.7L638.8 385.4L637.5 387.4L636.2 386.5L634.9 385.3L633.6 387.5L632.3 384.4L631 384.9L629.7 386.8L628.4 387.6L627.1 387.1L625.8 385.7L624.5 384.7L623.2 387.5L621.9 386.2L620.6 386.6L619.3 386.9L618 386.4L616.7 387.6L615.4 386.2L614.1 387.3L612.8 387.4L611.5 386.2L610.2 387.5L608.9 386L607.6 386.4L606.3 386.1L605 387.3Z" fill="#808080"/>
<path d="M627.4 370.5h0M664.2 351.7h0M617.2 355.5h0M622.1 362.1h0M618.1 372h0M677.8 364.9h0M647.8 362.8h0M623.8 366.3h0M669.8 367.5h0M676.3 358.6h0M661.8 367.5h0M672.4 360.1h0M677.9 366.9h0M679.5 361.7h0M653 359.9h0M647.8 367.1h0M622.1 360.4h0M638 368.6h0M660 366.6h0M614 361.5h0M665.1 358h0M627.2 362.9h0M629.3 365.7h0M671 360h0M648.2 355h0M608.2 367.9h0M615.7 361.7h0M634.6 367.5h0M676.4 362.2h0M635.7 359.9h0M663 364.8h0M618 368.8h0M669.2 366.2h0M610.1 362.8h0M679.8 365.1h0M629.4 361.1h0M681.4 364.7h0M647.2 361h0M666.4 353.4h0M661.4 365.5h0M654.7 361.3h0M670.9 363.2h0M611 369.3h0M641.4 364h0M657.1 357.6h0M651.9 359.1h0M627.9 362.6h0M638.3 363.3h0M623.2 360h0M643.6 360.5h0M679.4 364.7h0M656.8 355.7h0M663.6 368h0M676 360.6h0M633.7 357.1h0M618.9 363.6h0M616.4 356.6h0M614.1 358.3h0M608.6 369.1h0M621.4 357.5h0M681.2 362.6h0M617.8 366.7h0M661.7 364.8h0M651.1 362.9h0M680.7 364.7h0M666 362.2h0M668.1 362.3h0M665.3 369.8h0M654.4 356h0M645.2 358h0M635.1 361.4h0M639.5 367.3h0M634.3 355.9h0M613.6 362.7h0M645.6 354.6h0M632.9 354h0M638 371.3h0M616.8 363.6h0M672.8 360.8h0M660.4 365.4h0M670.8 357.2h0M682 360.5h0M655.5 358.5h0M640 367.3h0M637.4 363.5h0M649.9 365.5h0M637.9 360.5h0M665.7 360h0M623.9 358.7h0M676.9 358.8h0M679.6 362.5h0M660.4 362.1h0M644.4 355.8h0M613.4 361.7h0M627.9 361.9h0M637.4 353.9h0M648.1 364.3h0M657 368.3h0M634.4 368h0M655.6 362.1h0M626.5 359.7h0M637 364.3h0M609.3 357.2h0M630.3 368.7h0M666.2 367.3h0M639 363.4h0M676.7 363.4h0M656.9 362.2h0M637.7 364.6h0M629 358.7h0M618.3 368.7h0M680 362.1h0M648.9 360.5h0M639.6 361.4h0M675.3 363.1h0M660.6 363.7h0M660 360.5h0M608.6 363.2h0M632.8 361h0M681.9 359.6h0M655.4 367.1h0M654.3 360.9h0M679.6 370.5h0M678.2 368.4h0M625.3 354h0M614.8 363.5h0M672.9 363.8h0M680.8 361.6h0M646.5 365.8h0M610.3 370.1h0M621.1 360.1h0M618.2 365.1h0M631.6 359.6h0M630.9 357.2h0M643.7 360.1h0M652.8 366.9h0M665.2 354.5h0M648.5 368.9h0M639.4 357.1h0M638 364h0M644 363.3h0M612.5 356.1h0M615.5 366.3h0M622.3 365.4h0M637.1 367.3h0M637.3 362h0M610.1 358.4h0M611.3 362.6h0M624.4 361.7h0M621.3 366.2h0M681.7 358.2h0M659.9 360.4h0M664.2 367.6h0M654.3 358.6h0M616.2 362.5h0M658.5 365.7h0M618 359.3h0M680.1 363.1h0M634.5 360.4h0M630.4 360.2h0M639 356.6h0M607.1 360.6h0M672.3 363.4h0M681.4 369.6h0M606.6 364.8h0M621.5 361h0M615.3 369h0M626.6 356h0M655.1 359.2h0M632.8 367.3h0M626.1 364.7h0M647 355.9h0M679.2 362.4h0M618.7 367.9h0M658.3 360.4h0M665.1 366.1h0M633.6 356.5h0M665.5 368.2h0M674.3 362.9h0M619.7 366.6h0M610.9 362.6h0M665.6 361.8h0M616.5 360.3h0M665.5 363.8h0M643.4 366.3h0M633.4 363.9h0M628.1 362.6h0M679.2 365.5h0M653.4 356.7h0M641.7 367.4h0M650.1 367.2h0M666.1 363.6h0M641.3 359.8h0M666.2 363.1h0M641.5 362.7h0M674.4 359.9h0M627.9 357.9h0M647.5 362.4h0M619.4 366.5h0M640.3 361.7h0M629.3 362.8h0M622.8 370h0M649 361.4h0M651 361.8h0M663.3 357.5h0M631.5 351.5h0M644.7 361.3h0M679.8 365.7h0M619.7 365.2h0M677.3 362.2h0M607.6 368.2h0M629.2 364.3h0M642.2 361.8h0M642 361.2h0M678.7 357.7h0M672.8 361.1h0M623.9 365.9h0M642.6 360h0M611.9 363.9h0M671 357.6h0M681.1 362.3h0M649.9 359.1h0M663.4 362.5h0M657.9 358.6h0M642.8 360.3h0M618.7 360.2h0M636.6 360h0M678.8 366.9h0M607.8 354.8h0M641.8 361.8h0M628.3 361.5h0M659.2 365.4h0M661.6 364.9h0M659.9 358.4h0M613 367.6h0M665.8 354.3h0M656.3 365.1h0M615.8 359.4h0M661.7 366.4h0M676.7 362.5h0M677.6 361.8h0M674.1 358.7h0M671.6 360.3h0M608.4 364.7h0M634.5 356.7h0M650.7 353.6h0M626.1 356.3h0M642.9 369.6h0M678.7 361.3h0M681.9 356.3h0M623.8 365h0M672.1 370.3h0M626.6 364.2h0M644.8 361.3h0M671.9 365.2h0M626.4 354.3h0M642 366.8h0M678 369.3h0M633.3 368.2h0M666.9 358.2h0M666.4 363.6h0M664.4 354.3h0M651.3 366.1h0M611.5 356.8h0M662.6 368.9h0M651 359.2h0M633.5 364.7h0M616.5 358.1h0M625.9 364.5h0M676.2 364.8h0M646.4 363.8h0M627.3 360.3h0M636.4 360.3h0M679.6 359.9h0M677.6 353.9h0M659.7 368.1h0M679.8 365.5h0M619.1 366h0M655.9 352.9h0M680.4 364.9h0M639.9 370.4h0M671.4 359h0M672.8 366.6h0M633.1 360.6h0M622.6 366.7h0M669.2 361.1h0M642.1 368.5h0M626.2 359.2h0M657.3 367.9h0M668.8 355.2h0M671.3 361.4h0M616.8 354.6h0M626.1 360.2h0M646.9 360.2h0M643.9 363.9h0M610.8 356.8h0M639.5 368.7h0M666.6 358.2h0M667.8 356.4h0M661.8 359.2h0M656.7 361.9h0M669.7 369.1h0M640.9 362.4h0M650.6 363.3h0M672.5 359.9h0M648.4 364.2h0M631.9 359.5h0M645.7 360.1h0M632.9 358.8h0M635.7 363.5h0M673.6 361.7h0M629.3 362.8h0M635.2 372.9h0M632.8 367.2h0M646.8 371.8h0M655.5 359.8h0M640.8 360.4h0M656 367.8h0M670.1 358h0M625.1 364.6h0M630.6 363h0M650.2 361.4h0M667.2 365.1h0M656.5 362h0M645.6 364.1h0M617.2 361.7h0M623.8 369h0M681.6 359.3h0M622.7 365.2h0M665.2 367.2h0M627.4 355.5h0M671.2 366.1h0M630.2 358.2h0M653.5 358.9h0M633.1 361.2h0M651.2 361.1h0M678.7 367.4h0M618 363.1h0M622.4 366.9h0M631.7 366.1h0M643.5 359.2h0M666.5 361.6h0M664.8 366.8h0M651.7 354.9h0M673.6 361h0M655 372h0M680.9 363.1h0M650.5 357.9h0M621.7 361h0M641.8 365.1h0M611.2 364.5h0M643.9 364.9h0M668.4 367.4h0M682.3 358.9h0M640.4 363.3h0M650.2 360.7h0M664.7 352.8h0M679.7 366.5h0M645.9 359.4h0M614 363h0M676.8 356.5h0M611 365.3h0M637.4 358.3h0M626.3 361h0M610.6 359.5h0M627.6 354.6h0M655.4 359.3h0M644 365.5h0M632.3 356.9h0M670.1 360.9h0M645.6 365.2h0M633.9 359.6h0M609.1 363h0M623.2 357.2h0M662.1 364.8h0M643.5 363.9h0M646.2 367h0M655.8 359.9h0M654.9 372.4h0M669.1 361.2h0M675.7 360.3h0M611.2 365.7h0M647.7 361.9h0M629.3 361.1h0M669.1 363.8h0M679 369h0M653.2 358.4h0M623.4 364.9h0M629.7 363h0M611.8 358.9h0M645 354.7h0M672.1 366.2h0M643.4 361.8h0M633.7 361.6h0M621.3 362.9h0M622.9 366.9h0M615.4 362.9h0M652.7 358.7h0M632 366.3h0M644.2 362.7h0M629.4 361.4h0M635.4 362h0M672.8 367h0M615.2 363.7h0M666.3 360.2h0M618.9 367.3h0M662.1 364.6h0M646.3 365.1h0M643.1 352.7h0M618.7 367.6h0M613.5 364.1h0M609.3 369.4h0M633.6 362.5h0M655.2 363.1h0M666.8 355.9h0M646.9 358.9h0M635 364.8h0M606.9 367.8h0M665 357.6h0M639 368.1h0M610.4 360.7h0M646 361.4h0M612.1 364.5h0M644 365.9h0M637.9 365.3h0M677.5 350.7h0M619.3 363.2h0M630.6 363.5h0M653.2 353.5h0M648.6 356.2h0M680.6 358.8h0M623.6 362.8h0M670.4 362.1h0M624.2 358.5h0M657.6 355.2h0M640 362.2h0M632.3 352.1h0M662.4 365.4h0M680.4 365.9h0M637.9 362.8h0M608.9 359.6h0M640.6 356.5h0M632.6 365.6h0M629.3 360.1h0M630 370.1h0M625.3 363.3h0M642.6 355h0M657.6 366h0M647.5 369.5h0M608.1 364.3h0M671.3 365.4h0M650.7 365.1h0M671.1 368.7h0M668.4 355.8h0M625.6 366.6h0M663 366.9h0M648.7 357h0M650 360.4h0M616 361.2h0M613.7 356.4h0M632.9 369.6h0M640.9 368.5h0M612.7 365.6h0M680.3 360.6h0M661.3 362.3h0M631.3 366.2h0M642.8 366.8h0M645.7 361h0M664.5 366.7h0M651.1 361.2h0M628.8 364h0M608 357.5h0M640.9 361.7h0M620.1 361.1h0M674.1 360.3h0M649 367.5h0M639.2 359.9h0M643.7 351.8h0M650.8 357.3h0M661.4 361.1h0M610.8 363.8h0M623.2 361.3h0M636.1 360.2h0M669.5 368.4h0M644.2 366.4h0M676.7 361.1h0M657.6 364.2h0M678.7 360.4h0M636.4 367.6h0M613 362.9h0M611.5 360.9h0M665.5 366.7h0M660.4 362.8h0M630.5 360h0M621.3 364.3h0M623 354.2h0M621.6 365.2h0M677 356.3h0M641.2 361.3h0M623.5 365.2h0M646.3 364.4h0M663 370.7h0M674.4 358.4h0M620.1 362.5h0M633.1 362.1h0M611.9 363.4h0M642.8 360.6h0M625.8 355.9h0" stroke="#858585" stroke-width="2.8" stroke-linecap="round" fill="none" opacity="1"/>
<path d="M605 369.7L606.3 369.4L607.6 370.1L608.9 369.7L610.2 369.5L611.5 369.6L612.8 369.6L614.1 369.6L615.4 370.2L616.7 370.2L618 370.2L619.3 369.4L620.6 370.1L621.9 369.7L623.2 370.2L624.5 370L625.8 370L627.1 369.4L628.4 369.6L629.7 369.7L631 369.6L632.3 369.6L633.6 369.6L634.9 370.1L636.2 369.6L637.5 370.2L638.8 369.5L640.1 369.4L641.4 369.6L642.7 370L644 370L645.3 369.7L646.6 370.1L647.9 370.1L649.2 369.5L650.5 370.1L651.8 369.7L653.1 369.5L654.4 369.8L655.7 370.1L657 369.9L658.3 369.9L659.6 369.4L660.9 369.7L662.2 369.6L663.5 369.6L664.8 370.1L666.1 369.7L667.4 370L668.7 369.5L670 369.8L671.3 369.5L672.6 370.2L673.9 369.5L675.2 369.7L676.5 369.5L677.8 369.7L679.1 370L680.4 369.6L681.7 369.8L683 370.1L683.6 369.5L683.6 385L683 385.2L681.7 385.2L680.4 385.7L679.1 385.7L677.8 385.3L676.5 385.4L675.2 385.1L673.9 385.5L672.6 385.3L671.3 385.1L670 385.1L668.7 385.2L667.4 385.2L666.1 385.2L664.8 385.6L663.5 385.2L662.2 385.5L660.9 385.1L659.6 385.3L658.3 385.7L657 385.3L655.7 385.2L654.4 385.2L653.1 385.5L651.8 385.6L650.5 385.2L649.2 385.5L647.9 385.2L646.6 385.5L645.3 385.7L644 385.7L642.7 385.5L641.4 385.4L640.1 385L638.8 385.6L637.5 385.1L636.2 385.2L634.9 385.4L633.6 385.1L632.3 385.2L631 385.6L629.7 385.4L628.4 385.3L627.1 385.5L625.8 385.5L624.5 385.1L623.2 385.5L621.9 385.1L620.6 385L619.3 385.7L618 385.3L616.7 385.2L615.4 385.3L614.1 385L612.8 385.2L611.5 385L610.2 385.6L608.9 385.5L607.6 385.6L606.3 385.7L605 385.3Z" fill="#7d7d7d"/>
<path d="M607.2 369.2h0M654.3 385.7h0M640.6 368.9h0M630 368.6h0M618.9 368.9h0M677 385.2h0M667.7 369.5h0M623.3 368.6h0M622.3 366.8h0M628 386.4h0M629 370.1h0M669.3 385.3h0M640.8 367.5h0M666.7 370.2h0M639.5 385.9h0M672.8 385.7h0M640.2 369.5h0M628.1 370h0M619.6 385.4h0M626.6 385.5h0M611.9 368.6h0M669.1 369.8h0M608.7 385.7h0" stroke="#7d7d7d" stroke-width="2.8" stroke-linecap="round" fill="none" opacity="1"/>
<rect transform="translate(605 378.6)" x="0" y="-7.3" width="78.6" height="14.5" fill="url(#gG3)"/>
<path d="M365.8 328.1h0M377.8 334h0M343.2 325.5h0M351.5 334.2h0M338.1 341.6h0M334.8 332.1h0M315.4 329.1h0M343.6 327.6h0M352.8 325.5h0M325.2 334.4h0M329 326.5h0M362.6 335.1h0M358.4 327.3h0M376.1 332.7h0M341 336.6h0M332.8 325.7h0M349.2 327.6h0M329.8 330.5h0M329.7 337.3h0M378.9 338.4h0M357.2 324h0M330.3 332.9h0M375.6 338.1h0M358.6 331.8h0M355.8 325.4h0M334.4 333.3h0M347.7 325.6h0M324.8 333.7h0M316.3 333.1h0M321.2 333.1h0M343.6 321.5h0M347.2 331.4h0M323 336.6h0M344.4 328.7h0M338 333.6h0M361.8 334.3h0M340.6 328.5h0M381.2 337.3h0M320.4 328.4h0M314.9 338.8h0M328.7 334.1h0M364 329.3h0M372.9 331.6h0M314.3 331.2h0M340.9 328.8h0M370.5 333.8h0M339.2 327.8h0M323.7 326.7h0M379.9 338.5h0M365.7 321.5h0M341.9 334.7h0M370.3 334.6h0M366.4 327h0M365.9 328.7h0M332 346.6h0M357.8 335.9h0M314.8 335.5h0M324.5 336.9h0M319.4 331.4h0M340.4 328h0M379.7 321.8h0M311.5 335.1h0M331.3 342.9h0M349.8 339.5h0M369.2 337.5h0M363.3 326.4h0M345.1 331.7h0M348.3 330.3h0M321.8 332.4h0M380.5 331.5h0M353.7 328.2h0M328.3 328.9h0M336.2 337.2h0M312.1 317.4h0M335.2 328.4h0M332.2 322.6h0M356.8 326.4h0M318.9 329.7h0M357.8 323.4h0M351.2 333.8h0M341.4 335.3h0M325.9 329.8h0M317.6 341.5h0M368.4 332.6h0M360.3 331.4h0M361.6 336.8h0M329.1 334.7h0M317.8 338.8h0M336.9 334.3h0M364.8 333.9h0M372.3 337.8h0M378 340.9h0M349.5 340.1h0M349.9 325.3h0M366.7 329.1h0M330.3 332h0M363 330.7h0M348.2 336.8h0M338.9 332.2h0M335.1 331.1h0M355.2 329.8h0M324 329.4h0M365.3 335.8h0M359.1 332.4h0M341.3 331.7h0M348 330.8h0M327.7 325.4h0M326.7 329.4h0M323.4 327.6h0M335.8 337.8h0M311.4 326.7h0M334.7 340h0M328.9 335.3h0M366.6 344.3h0M380.8 331h0M334.7 329.2h0M371.9 330.8h0M326.7 328.4h0M325.5 344.8h0M366.9 328.5h0M332.1 333.6h0M379.1 334.6h0M323.1 337h0M377.4 336.2h0M315.7 343.1h0M382.2 341.8h0M339.6 337.8h0M327.2 342.4h0M354.2 323.6h0M380.5 336.4h0M339.1 332.3h0M365.3 336.7h0M367.8 347.7h0M346 334.5h0M380.3 343.7h0M368.1 334h0M352 343h0M368.4 342.5h0M333.2 328.8h0M363.7 332.7h0M374.2 324.5h0M365.1 330.6h0M360.3 334.1h0M336.4 343.7h0M337.2 322.6h0M380.6 325.9h0M342.9 336.3h0M328.9 343.1h0M333.4 336.2h0M317.2 333.5h0M352.2 326.3h0M355.2 327.6h0M348.8 334.4h0M327.4 334.9h0M309.8 336.2h0M370.9 337.4h0M380 338.4h0M378.5 337.8h0M326.5 338h0M351 335.6h0M376.8 326.5h0M339.3 332.3h0M311.8 323.3h0M328.6 339.3h0M320.6 338h0M318.5 333h0M352.5 330h0M369.1 332.8h0M326.9 337h0M317.8 321.2h0M331.3 331h0M338.8 334.4h0M328.1 327.7h0M312.6 343.9h0M355.2 333.6h0M348.6 331.3h0M348.5 320.8h0M362.9 326.3h0M322.6 345.1h0M356.2 331.1h0M345.6 338.6h0M325.8 333.8h0M327.6 328.5h0M381 333.9h0M312.1 336.7h0M372.7 328.5h0M310.7 330h0M369.5 336.5h0M349.1 327.2h0M365.4 335h0M317.6 331.8h0M344.7 333.2h0M320 337.2h0M316.4 332.7h0M378 339.2h0M370.4 328.1h0M328.3 338.1h0M354 332.7h0M322.7 336.6h0M371.9 337.4h0M366.4 322.5h0M360.3 327.5h0M358.6 331.9h0M352.7 336.7h0M339.4 336.7h0M348.9 326.2h0M359.3 333.4h0M346.2 328.6h0M314.3 335.9h0M349.1 339.4h0M310.1 331.6h0M309.9 336.6h0M348.1 332.5h0M320.2 329.8h0M335.2 335.5h0M336.3 335.7h0M335.8 335.4h0M380.6 332.5h0M362.6 341.8h0M381.4 333.1h0M361 332.2h0M380.3 330.6h0M381.2 325.7h0M362.7 328.6h0M366.1 327.7h0M313.9 325h0M376.3 334h0M341.5 334.8h0M309.8 337h0M376.2 334.5h0M333.8 338.4h0M366.7 327.5h0M354.3 337h0M340.6 325.5h0M335.3 328.8h0M362.8 333.9h0M353.4 335.5h0M311.2 328.4h0M321.1 329.4h0M331.7 333.8h0M348.3 337.6h0M372.4 341.3h0M361.2 334.5h0M365.6 327.3h0M346 327.5h0M330.5 341.7h0M380.5 334.2h0M368.5 334.9h0M358.8 330.8h0M317.9 329.7h0M342 323.9h0M374.7 333.5h0M369 340.9h0M313.6 328.3h0M378 340.7h0M342.9 329.4h0M361 331.1h0M348.2 338.2h0M316.1 323.8h0M365.8 336.2h0M339.4 340.9h0M311.4 334.2h0M365.4 334h0M377.7 333.1h0M359.6 337.7h0M382 340.5h0M320.4 330.1h0M325.6 335.8h0M371.9 333h0M330.4 323.2h0M380.6 330.1h0M354.4 329.5h0M328.5 343.5h0M369.7 344.1h0M370 336.5h0M326.6 337.1h0M322.6 338.2h0M324.6 331.2h0M358 334.5h0M378.8 333.9h0M374.9 338h0M356.3 326.4h0M352.3 328.6h0M347.3 330.9h0M336.9 339h0M334.8 331.7h0M355.1 332.9h0M335.5 339.6h0M361.4 325.2h0M354 337.3h0M351.4 335.6h0M379.1 329.4h0M331.9 333.8h0M329.1 331.9h0M326.7 340h0M375.5 333.7h0M344.5 336.4h0M369.7 339h0M317.6 323.4h0M335.3 328.9h0M372 335.6h0M350.7 330.2h0M374.6 345.8h0M380.2 331.4h0M354.1 326.6h0M351.4 326.4h0M332 335.1h0M340.2 328.2h0M321.6 329.3h0M344.8 334.4h0M343.5 335.9h0M350.3 340.6h0M348.1 325.6h0M319.7 326.9h0M354.6 327.2h0M315.2 318.7h0M322 333.9h0M315.8 334.3h0M319.5 335.1h0M318.9 325.5h0M321 325.3h0M320.6 332.7h0M353.1 340h0M379.1 342.5h0M319.3 332.2h0M353.6 329.6h0M365.4 332.7h0M336.2 346.2h0M354 336.5h0M358.6 334.9h0M340.5 334.1h0M323.1 335.3h0M354.1 332.8h0M339.5 327.8h0M372.8 335.3h0M362.7 333.7h0M374.8 327.6h0M338.7 328.8h0M352.4 336.9h0M342.3 329.1h0M310.5 333.8h0M347.3 329.9h0M365.7 335h0M329.8 327.6h0M351.6 338.4h0M313.2 338.6h0M374.9 334h0M350.4 334.7h0M337.4 326.6h0M328.3 335.4h0M377.6 330.6h0M365.7 326.3h0M329.4 336.8h0M366.5 335.3h0M378.3 338.6h0M311.7 332.6h0M371.6 334.4h0M319.3 333.2h0M318.1 330.6h0M324.6 325.8h0M360.6 323.2h0M341.1 331h0M316.2 328h0M349.8 326h0M363.3 326.6h0M331.6 327.3h0M343.2 323.9h0M323.6 327.2h0M346 330.7h0M356.1 328.7h0M335.2 332.8h0M330.1 337.2h0M366.1 332.7h0M376.6 339.9h0M376.8 335h0M371.6 342.2h0M330.8 332.2h0M342.6 329.3h0M334.2 327.3h0M359.6 339.9h0M347.7 330.9h0M351.3 339.2h0M318 335h0M312.2 329h0M370.4 329.3h0M337.3 331.8h0M315.4 336.5h0M334.2 327.6h0M359.2 330.1h0M319.6 342.2h0M360.7 341h0M339.4 326.3h0M331.1 330h0M352.2 323.9h0M377.6 339.8h0M363.5 337.3h0M346 337.3h0M361.5 341.5h0M338.8 327.1h0M342.7 339.3h0M336.4 335.7h0M320.9 326.6h0M355.5 338.1h0M335.4 334.7h0M331.3 336.3h0M331.8 332.7h0M313.2 334.5h0M365.8 336.6h0M343.2 328.5h0M377.3 335.1h0M354.6 345h0M362.2 333.3h0M346.9 325.3h0M373.5 342.1h0" stroke="#0e7e3f" stroke-width="2.8" stroke-linecap="round" fill="none" opacity="1"/>
<path d="M422.6 320.7h0M408 320.1h0M409.6 318.4h0M428.4 320h0M454.4 322.3h0M397.7 325.2h0M449 322h0M418.5 336h0M420.9 313.1h0M435.1 310.3h0M440.7 313.3h0M452.1 319.1h0M436.6 318.6h0M424.5 317.8h0M441.8 318.8h0M442.1 324.4h0M436.4 314.9h0M395.1 322.8h0M432 329.2h0M403 302.7h0M434 319.9h0M420.2 320.6h0M445 314.1h0M459.7 315.9h0M426 302.6h0M389.7 321.8h0M402.4 318.9h0M433.3 308h0M400.9 315.3h0M435.4 314.7h0M455.3 323.6h0M431.2 318.4h0M448.7 321.8h0M448.5 326.4h0M426.4 310h0M393.7 314h0M432.7 316.6h0M455.4 313.1h0M389.7 311.9h0M451.9 321.6h0M431.7 326.5h0M420.5 317.9h0M390.2 319.6h0M398 316.9h0M457.8 318.8h0M417.8 321.2h0M414.5 313.7h0M395.2 313.6h0M436.6 328.9h0M459.1 310.2h0M433.8 316.1h0M388.7 333.1h0M424.9 315.6h0M446.1 327.9h0M401.9 318.9h0M417 307.9h0M458 324.7h0M385.7 322h0M417.2 315.5h0M440.7 317.3h0M392.7 306.8h0M436 324.9h0M405 319.4h0M398.6 319h0M439.1 324.5h0M432.8 317.5h0M452.6 333.1h0M439.9 319.5h0M390.1 320.3h0M430.2 319.2h0M450.4 310.3h0M386.4 321.9h0M409.6 315.6h0M405.7 308.1h0M387.3 327.3h0M449 313.2h0M408.6 311.7h0M396.4 329.9h0M455.5 333.6h0M394.3 321.1h0M410.8 308.1h0M430.4 329.1h0M399.8 311.5h0M421.7 323.7h0M397.8 329.1h0M402.4 314.7h0M422.6 316.4h0M432.3 332.8h0M447.1 307.2h0M430.2 320.7h0M457.3 322h0M390.8 317.6h0M403.9 313.8h0M428.7 315.5h0M449.8 323.6h0M449.6 319.8h0M385 310.3h0M404.3 329.6h0M394.1 320h0M450 320.2h0M408.2 308.9h0M433.4 320.7h0M421.7 317.9h0M457.4 320.2h0M418.5 315.5h0M428.1 330.4h0M435.2 310.6h0M402.1 320.1h0M434.8 318.1h0M391.5 323.4h0M387 312.2h0M458.4 319.4h0M411.1 316.6h0M444.3 317.6h0M437.2 318.9h0M424.6 323.3h0M445.2 319.6h0M394.3 317.7h0M447.8 327.7h0M425.6 305.7h0M452.3 323.5h0M407.1 322.3h0M455.1 327.3h0M389.4 322.7h0M443.5 307.4h0M386 311.8h0M405.3 324.1h0M412 318.8h0M415.6 317.8h0M450.2 327.1h0M459.2 318h0M451.4 331.5h0M438.8 311.3h0M436.3 314h0M400.3 324.7h0M446.1 316h0M458.2 330.2h0M437.1 321.1h0M400.2 320.4h0M442.2 337.7h0M396.4 319.7h0M427.9 317.1h0M419.8 320.6h0M408.3 319.5h0M448.5 324.3h0M445.1 316.5h0M415.1 322.9h0M435.2 313.4h0M432 319.6h0M447.5 309.2h0M414.8 315.5h0M387.5 323.5h0M387 322.5h0M419 313.7h0M390.1 322.8h0M427 311.3h0M411.4 312.7h0M420.1 322h0M427.6 326.3h0M448 319.1h0M424.7 332.9h0M385.4 319.1h0M458.1 316.3h0M412.1 318.6h0M387 308.6h0M432 321.8h0M444.8 318.7h0M431.7 304.3h0M433.6 306.8h0M399.6 317.1h0M438.9 318.6h0M459 345.7h0M438.9 310.2h0M418.5 310h0M390.3 314.5h0M391.2 327.9h0M414.3 317.3h0M403.1 320.9h0M448.8 325.7h0M451.7 324.9h0M397.8 321.3h0M436.1 313.6h0M436.5 305.3h0M406.4 329.7h0M458.4 330.1h0M435.7 321.1h0M420.7 317.6h0M446 331.1h0M446.6 326.5h0M426.8 323.8h0M402.2 314.7h0M449.2 321.7h0M450.6 313.7h0M451.2 308.1h0M410.2 320.9h0M390.2 316.4h0M404.1 321.5h0M454.2 329.8h0M423.4 313.2h0M425.3 323.8h0M417.9 327h0M393.2 310h0M448.1 321.9h0M415.8 317.9h0M443.4 324.5h0M397.2 311.5h0M412 312.1h0M426.2 315.5h0M458.6 320.1h0M399.8 324.1h0M392.6 324.1h0M410.3 317.4h0M428.4 315.2h0M456.9 312.8h0M437.1 309.1h0M432.1 313.3h0M418.4 320.1h0M435.2 317.6h0M391 321.3h0M393 314.7h0M449.3 314.1h0M409.4 325.2h0M395.1 307.9h0M456.4 310.1h0M392.2 323.9h0M430.5 308.5h0M417.7 327.2h0M392.8 307h0M412.9 325h0M419.5 305.9h0M398.5 311.9h0M440.4 304.8h0M392.6 309.7h0M400.4 322.1h0M441.2 320h0M425.7 317.7h0M442.4 323.7h0M395 318.1h0M457.9 319.4h0M403 315.2h0M422.5 315.7h0M401.4 310.5h0M425.6 316.6h0M401.4 329.2h0M423.1 319.5h0M385.9 321.8h0M454.5 326.5h0M409.2 323.5h0M384.8 317.9h0M431 312.5h0M413.6 315.3h0M384.9 320.5h0M457.5 302.3h0M422.4 329.6h0M398.3 317.3h0M442.4 322.9h0M443 324.7h0M432.6 309.6h0M402.3 326.7h0M425.9 313.8h0M385.8 329.9h0M395.3 317.5h0M405.8 312.8h0M427.5 320.3h0M389.7 340.4h0M430.9 311.2h0M437.8 322.2h0M406.6 315.1h0M400.9 315.5h0M419.6 324h0M425 312h0M402.2 309.6h0M385.9 326.2h0M403.4 315.3h0M421.5 319.1h0M422 305.6h0M418.3 308.3h0M435.3 322.1h0M387.5 317.2h0M409.1 332.1h0M414 311.2h0M434.6 318h0M427.1 325.3h0M408.3 326.4h0M437.7 317.9h0M458.7 321.6h0M406.8 320.5h0M430.6 314.2h0M427.6 327.5h0M428.7 315.5h0M390 322.6h0M401.6 322.7h0M398.8 321.2h0M453.8 323.4h0M400 319.2h0M448 317.2h0M403.9 316.6h0M397.7 307.1h0M390.1 315.8h0M386.7 316.5h0M458.5 329.9h0M428.3 338h0M456.4 317.7h0M445.2 328.4h0M455.4 325.1h0M416.5 316.7h0M441.3 317.4h0M458.4 312.3h0M410 321h0M434.3 319.8h0M415.1 325.4h0M431.6 323.7h0M422.4 311.2h0M395 323.3h0M391.3 320.2h0M451 320.6h0M408.8 309.7h0M438.4 316.5h0M413.5 319.4h0M424.3 318.6h0M438.9 326h0M415.1 317h0M417 323.1h0M441.2 325.2h0M447.2 316.6h0M426.7 334.8h0M443.9 320.1h0M441 313.1h0M412.7 315.7h0M409.9 338.1h0M416.6 321.9h0M443.3 311.1h0M454.2 320.9h0M450.9 320.1h0M417 314.1h0M406.9 314.1h0M447.9 308.6h0M450.9 322.1h0M416.4 322.8h0M446 316.1h0M415.3 332.9h0M431.2 313.5h0M443.2 315.5h0M418.7 318.5h0M437.1 332.6h0M456.1 312h0M392.2 314.6h0M414.6 314.7h0M441.9 313.6h0M418.8 318.5h0M415.4 317.5h0M408 320.8h0M418.5 310.8h0M386.6 320.3h0M443 321.9h0M458.1 318.8h0M394.6 320.9h0M432.1 319.8h0M390.3 318.8h0M421 319.2h0M420.5 320h0M431.8 321.1h0M387.5 313h0M437.3 321.1h0M400.1 309h0M457.5 312.4h0M417.2 317.2h0M449.7 320.8h0M444.6 318.8h0M387.1 323.7h0M385.6 317.4h0M426.9 318.2h0M427.4 326.2h0M452.3 304.1h0M425.6 321.3h0M454.3 314.3h0M388.7 320.4h0M402.1 322.1h0M415.5 314.6h0M429.4 321.7h0M406.6 318.8h0M452.2 312.7h0M416.4 319.2h0M423 321.1h0M449.8 314.7h0M454.1 319.7h0M428.8 317.9h0M403.1 320.4h0M409.3 329.4h0M405.8 318.9h0M457.9 313.1h0M443.5 329.1h0M421.1 316.6h0M452 319.7h0M423.2 313.6h0M458.6 320.9h0M420.3 312.4h0M438.8 322.6h0M422.2 321.3h0M384.7 322.7h0M422.8 315.7h0M424.2 317.4h0M388.3 312h0M426.9 325h0M391.2 325.9h0M405.1 327.5h0M443.5 319.8h0M452 312.2h0M451.7 315h0M396.8 320h0M400 314.8h0M436.7 316.1h0M411 311.1h0M459.8 321.6h0M388.5 313.7h0M445.5 329.5h0M409.8 323h0M425.1 329.2h0M390.3 308.8h0M445.6 315.4h0M419.7 308.7h0M428.8 310.9h0M402.1 311.8h0M410.6 322.2h0M456.2 317.7h0M438 315.8h0M441.3 323.6h0M408.2 319.8h0M396.2 314.3h0M393.6 321.9h0M389.9 321.9h0M394.6 317.7h0M456.6 312.9h0M442 317.5h0M407.7 328.1h0M425.2 323.2h0M387.3 329.8h0M436.8 324.9h0M384.9 316.2h0M392.7 312.2h0M395.9 348h0M403.3 313.4h0M441.7 315.5h0M409 323.5h0M453.1 316.5h0M426.3 328.7h0M454.4 318.6h0M421.8 316.7h0M439.4 325.4h0M400.4 321.2h0M389.9 317.7h0M437.4 323.4h0M391.3 327.1h0M410.2 319.2h0M433.3 315.5h0M387.2 329.5h0M402.4 333.7h0M442.3 311.3h0M388.3 305.7h0M439.3 324h0M451.7 313.6h0M435.1 321.9h0M407 327.2h0M453.6 318.7h0M424.6 328.2h0M457.2 305.3h0M419.6 325.3h0M421.4 317.5h0M422.9 309.8h0M459.7 326.3h0M444.6 322.3h0M392.2 324.7h0M431.8 315.3h0M429.4 323.6h0M453.7 309.9h0M455.5 322.3h0M430.9 334.6h0M396.2 337.2h0M422.2 327.3h0M428.8 323.8h0M435.8 321.8h0M423.1 311.7h0M455.9 324.7h0M387.4 314.3h0M430.8 314.8h0M455.7 311.5h0M391.1 314.4h0M434.4 321.8h0M422.4 315.4h0M406.8 330.8h0M423.4 320.1h0M457.6 315h0M424.1 326.3h0M398.4 315.4h0M453.5 320.8h0M398.9 316.3h0M397.9 320.3h0M420.5 331.6h0M400.7 308.3h0M409 319.6h0M387.4 317.2h0M448.7 308h0M435.8 321.1h0M402.1 312.7h0M387.6 314.4h0M431.6 325.1h0M408.6 323.9h0M412.3 314.7h0M449.3 315.4h0M456.2 331.1h0M386.7 326.1h0M409.3 320.6h0M434.2 320.7h0M409.8 347.4h0M407.1 324.2h0M427.1 320.2h0M445.1 328.9h0M395.6 310.8h0M457.9 316h0M446 317h0M415.3 314.5h0M403.7 319.1h0M455.2 323.2h0M452.1 325.1h0M424.2 315.5h0M405.9 315.3h0M435.2 319.2h0M445.1 320.8h0M458.4 318.5h0M395.6 317.9h0M432 311.3h0M427.8 311.5h0M413.6 321.4h0M417.3 327.7h0M400.8 322.5h0M422.5 327.9h0M408.6 334.4h0M400.5 320.1h0M401.4 317.2h0M429.8 315.3h0M439.9 327.9h0M417.4 318h0M422.9 339.4h0M449.1 309.3h0M414.5 314.7h0M442.4 313.7h0M391.2 321.9h0M436.9 320.1h0M401.7 324.1h0M419.5 316.6h0M385.6 321.5h0M445.9 323.5h0M415.7 321.9h0M431 315.5h0M449.3 312.4h0M442.3 321.3h0M433.6 320.4h0M411.8 316.6h0" stroke="#0e7e3f" stroke-width="2.8" stroke-linecap="round" fill="none" opacity="1"/>
<path d="M495.1 320h0M525.9 329.5h0M497.4 321.3h0M512.5 311.6h0M527.5 320.6h0M471 314.8h0M527.4 324.4h0M482.4 329.9h0M503.3 322.8h0M503.7 328.2h0M522.4 327.7h0M495.7 336.9h0M529.6 337.1h0M465.6 321.7h0M508.8 319.1h0M465.5 332.6h0M486.4 316.1h0M523.7 333.9h0M502.6 323.4h0M495.2 323.3h0M465.5 313.7h0M507.6 328.3h0M504.4 331h0M466 313h0M466.7 318h0M514.2 324.5h0M463.9 317.9h0M520.9 316.4h0M529.6 325.7h0M503.5 326.7h0M526.3 316.9h0M521.8 315.2h0M472.1 325.3h0M484.7 323.2h0M500 316h0M462.3 312.1h0M489.6 326.5h0M520.6 322.8h0M499.4 319.7h0M481.6 327h0M467.4 304.2h0M510.2 326.5h0M506.1 317.5h0M485.8 334.7h0M482.9 321.9h0M465.7 322.9h0M477.9 333.7h0M470.5 316.1h0M489.5 316.5h0M495.5 322.1h0M507.3 332.8h0M480.2 315h0M508.3 326.3h0M527.5 324.8h0M483.2 322.8h0M527.3 332.7h0M477.9 341.5h0M463.9 320.8h0M501 325.5h0M533 327.6h0M488.5 314.9h0M491.4 320.7h0M510.5 327h0M495.5 319.8h0M486.4 330.3h0M512 325.3h0M522.2 322h0M528 335.3h0M481.2 321h0M466.1 324.4h0M517.6 324.2h0M477 329.1h0M501.7 324.9h0M502 332.5h0M499.4 311.9h0M501.8 318.4h0M497.4 334.9h0M520.9 323.5h0M494.3 340.1h0M466 327.7h0M512 321.8h0M490.1 317.1h0M476.4 318.6h0M496.6 314.1h0M496.4 319.1h0M468.7 318.1h0M512.3 323h0M487.6 303.8h0M495.3 324.9h0M497 309.6h0M520.3 327.5h0M492.5 326.7h0M486.8 316.4h0M469.9 313.2h0M485.2 320.8h0M467.5 316.3h0M470.4 317.1h0M531.6 329.7h0M493.8 308.7h0M515.2 328.8h0M467.6 327.1h0M505.1 313.6h0M505.8 330.2h0M478.9 315.8h0M478 313.1h0M525.7 309.8h0M492.6 307.6h0M526.7 316h0M506.8 327.6h0M526.4 324h0M507.5 310.6h0M466.5 315.6h0M510.3 327.4h0M462.8 323h0M469.5 316h0M508 325.9h0M516.2 335.2h0M466.7 329.9h0M463.5 334.4h0M469.7 318.3h0M486.8 314.6h0M514.9 326.6h0M481.9 315.5h0M463.3 325.6h0M479.5 321.6h0M508.4 319.1h0M506 329.4h0M491.5 325.2h0M518.6 315.8h0M525.8 320.9h0M499 320.2h0M498.1 314.8h0M485.9 324.6h0M530.3 329.1h0M500.3 325.3h0M490.8 311.9h0M466.8 313.6h0M477.5 321.1h0M503.9 323.6h0M514.2 330.5h0M472.9 315.3h0M504 312.1h0M515.2 323.9h0M489.2 308h0M474.1 316.6h0M511.7 329h0M517.3 319.7h0M506.7 320.9h0M517.2 324.1h0M489.1 309.3h0M464.9 321.3h0M481.7 308.6h0M518 320.2h0M502.6 313.7h0M520.3 317.5h0M476 321.5h0M489.1 313h0M472.8 321.8h0M504.7 322.6h0M463.5 334.8h0M481.3 323.1h0M521.9 320.7h0M470.5 327.6h0M472.9 322.5h0M508.1 325.6h0M484.3 333.6h0M494.2 330.4h0M464.2 317.7h0M506.9 305.2h0M526 318.3h0M509.6 312.8h0M528.5 327.6h0M490.2 327.1h0M495.5 321.5h0M514.9 322.5h0M526.3 323.8h0M528.5 325h0M496.9 326.8h0M490.1 325.2h0M524.6 322h0M502.3 319.8h0M483.7 326.4h0M501 317.2h0M501.7 324h0M509.6 337.1h0M482 313.2h0M502 322h0M486.9 325.8h0M493.7 318.9h0M490 314.4h0M513.8 328.2h0M480.6 313.6h0M470.1 321.8h0M466.8 322.4h0M517.5 322.5h0M512.1 341.9h0M462.2 329.7h0M482.1 323.9h0M464.4 324.4h0M484 331.9h0M527.7 324.3h0M494.6 333.4h0M471.2 325.3h0M505.5 326.4h0M522.3 330.2h0M469.5 320.2h0M469.3 318.8h0M524.6 332.8h0M476.6 326.5h0M532.8 313.4h0M517.8 325h0M530 334.8h0M498.5 328h0M509.5 327.7h0M508.6 316.1h0M532 321.5h0M482.5 319.4h0M491.9 320.9h0M465.1 307.7h0M494.1 325.8h0M469.6 319.8h0M514.7 317.9h0M487.5 318.2h0M468.7 319.8h0M518.3 328.8h0M521.8 322.5h0M511.5 311.9h0M493.9 315h0M510.3 315.1h0M478.8 338.6h0M529.3 340.7h0M470.9 335.8h0M502.8 330.1h0M495.6 317.5h0M493.3 328h0M532.3 337.8h0M492 336.9h0M491.2 330.3h0M514.7 313.9h0M504.9 318.8h0M482.1 325.4h0M482.9 322.2h0M490.6 326h0M498.4 318.8h0M523.2 322.6h0M518.1 321.9h0M519.2 326.1h0M512.6 323.1h0M504.8 335.2h0M487.4 312.5h0M500.8 323.3h0M472.4 321.9h0M515.2 320h0M498.6 323.4h0M525.5 322.3h0M510.1 338h0M475.5 316.4h0M491.2 315.3h0M481.4 320.8h0M525.5 330h0M524.9 322h0M520.9 310.4h0M525.7 331.7h0M487.1 324h0M472.7 308.7h0M503.3 317.6h0M484.1 329.4h0M505.9 326.8h0M484.8 324.5h0M529 327.8h0M478.4 319.3h0M477.2 322.7h0M503.4 329.6h0M504.3 320.7h0M507.1 316.6h0M466.5 320.6h0M521.5 319.8h0M520.9 330h0M528.6 318.6h0M531.7 338.7h0M503 330.7h0M484.2 316.9h0M462.3 313.6h0M477.1 312.8h0M490.5 323.2h0M501.4 322.3h0M491.8 321.1h0M477.8 317.3h0M489.9 328h0M484.9 330.1h0M491.9 328.9h0M472.7 334.6h0M467.5 320.4h0M501 315.4h0M532 336.7h0M479.6 326.5h0M462.5 321.5h0M498.7 327.7h0M476.6 302.8h0M503.2 336.8h0M517.4 325.6h0M512.2 321.3h0M505.6 322.4h0M484.8 318.9h0M511.7 335h0M509.3 321.2h0M465.9 322.1h0M487.7 334.3h0M497.9 324.1h0M500.2 330.9h0M468 323.5h0M519.9 311.6h0M474.8 317.7h0M510.8 323.9h0M532.5 335.1h0M466.9 311.7h0M485.9 316.2h0M479.4 336.4h0M504.7 313h0M519.2 337.5h0M489.8 311.9h0M526.8 344.1h0M473.3 326.1h0M487.2 311.8h0M463.2 317.8h0M526.7 328.9h0M504.5 322.8h0M504.8 324.7h0M511.9 333.7h0M485.1 327.7h0M483.2 325.6h0M505.5 318.3h0M495.3 330.8h0M466.8 343.9h0M517.6 336.7h0M488 319.1h0M487.1 325.6h0M463.2 324.5h0M500.1 325.4h0M532.1 333.4h0M484.5 318.6h0M529.2 316.4h0M510.3 323.3h0M481.5 333.5h0M519.7 329.3h0M521.1 317.7h0M465.3 322.8h0M498.8 319.8h0M521.7 325.4h0M500.3 313.6h0M493.3 330.1h0M493 308.5h0M523.4 316.3h0M466.9 322.7h0M516.6 319.8h0M463.5 324h0M526.5 315.6h0M465.8 315h0M486.9 314.7h0M505.4 332.4h0M468.7 331.8h0M496.2 321.7h0M481.5 314.1h0M464.2 322.7h0M495 333.7h0M488 334.9h0M494.3 316.4h0M531.5 326.5h0M529.6 327.8h0M482.7 314h0M508.7 325.2h0M494.6 322.9h0M488.9 311.5h0M483.4 325.5h0M510.8 322h0M516.1 322.8h0M481.2 312.8h0M480.6 311.3h0M506.2 304.7h0M507.3 317.4h0M496.6 320.8h0M492.3 325.1h0M508.7 314.8h0M500.2 332.2h0M482.5 322.3h0M516.5 327h0M495.5 328h0M467.9 324.6h0M491.3 319.4h0M529.4 325.6h0M482 322.3h0M512.6 318.9h0M524.7 335.9h0M470.9 313.4h0M513.2 318.9h0M491.1 320.9h0M503.9 315.4h0M511.4 326.5h0M527.5 330.1h0M473.8 321.9h0M495.1 324.3h0M524.3 325.3h0M523.2 319.5h0M467.4 327h0M492.2 307.9h0M509.1 321.3h0M467 324.3h0M512.2 325h0M496.4 322h0M471.9 326.7h0M533 325.9h0M474.4 318.8h0M525.2 313h0M492.1 323.7h0M500.1 327.1h0M463 316.4h0M505.4 328.3h0M496 312.4h0M469 308.1h0M514 319.4h0M516.7 321.2h0M493.9 323.5h0M462.8 322.5h0M521.1 341.3h0M468.1 325.6h0M470.6 309h0M513 331h0M470.7 318.4h0M498.9 333h0M513.5 316.1h0M486.1 325.3h0M489.6 324.1h0M514.2 330.8h0M482.4 326.9h0M515.4 323.9h0M475.9 323.9h0M505.1 321.6h0M482.4 328.9h0M491.1 322.4h0M530.2 326.3h0M481.1 320h0M532.7 320.7h0M528.1 325.8h0M481.9 326.4h0M478 321.2h0M525.8 315.3h0M486.6 335.9h0M467.3 324.2h0M473.8 321h0M476.2 322.4h0M502.5 330.2h0M524.8 317.1h0M474.2 314.6h0M517.8 321.6h0M474.6 308.2h0M529.1 315.1h0M525.2 330.5h0M472.8 314.4h0M462.8 323.4h0M480.1 334.8h0M490.3 336.4h0M468.4 316.3h0M532.6 325h0M527.9 330.9h0M490.6 330.6h0M514.7 320.9h0M519.1 323h0M527.2 329.4h0M477.1 327.7h0M470.9 322.5h0M480.8 314.8h0M523.9 320.4h0M465.2 312.4h0M520.8 325.2h0M489.5 322.4h0M530.7 332.7h0M508.2 327.8h0M499.1 327.8h0M468.8 317.2h0M503 318.5h0M516.3 304.3h0M532.9 331h0M492.8 310.9h0M465.7 319.9h0M526.4 316.2h0M500.6 317.6h0M526.9 319.3h0M474.1 317.7h0M506.6 316.8h0M532.6 320.4h0M467.9 318.8h0M514.6 320.9h0M506.2 316.8h0M501.1 322.2h0M475.6 318.8h0M485.7 329.2h0M513 320.6h0M511.3 331.6h0M486.7 313.3h0M462.3 322.7h0M497.5 318.2h0M509.8 326.3h0M511.6 327.2h0M503.9 340.8h0M477.5 330.2h0M476.2 310.6h0M481.7 333.8h0M522.5 336.2h0M473.7 337.9h0M530.3 309.9h0M474.1 324.6h0M517 333.6h0M528.5 325.6h0M468 326.1h0M487.5 343.5h0M491.5 325.3h0M503.3 317.3h0M516.6 321.1h0M504.3 336.8h0M478.5 327.6h0M533 330.9h0M463 321.3h0M505.2 312.6h0M530.3 322.2h0M520.4 323h0M491.4 310.7h0M524.2 338.5h0M493.1 324h0M463.1 318.1h0M491.1 312.8h0M504.5 321.4h0M526.3 329.7h0M532.1 317.3h0M481.6 311.9h0M478.5 306h0M524.9 325.4h0M521.2 314.4h0M526.5 323.6h0M501 320h0M498.5 317.4h0M495.9 326.5h0M502.9 328.6h0M514.2 334.7h0M508.7 319.6h0M479.3 318.2h0M512.5 328.9h0M487.2 325.1h0M523 326.1h0M466.7 320.1h0M492.4 332.1h0M529.9 328.8h0M477.1 319.2h0M472.9 337.4h0M478.3 334.9h0M531.2 319.6h0M505.1 319h0M508.7 316.2h0M517.1 317.9h0M471.5 323.4h0M512 326.2h0M480.6 318.1h0M501.7 313.9h0M516.8 324.6h0M499.4 316.8h0M462.3 313.1h0M466.7 328h0M527 322.9h0M485.5 323.5h0M501.3 324.4h0M471.3 312.7h0M523.7 312.2h0M502.9 327.9h0M474 318.6h0M495.2 319.7h0M475.3 307.3h0M525.9 326.7h0M508.8 336.7h0M524.3 327h0M511.6 316.1h0M503.7 324.4h0M521.5 322.8h0M474.2 325.8h0M514.4 324.7h0M500.9 326.8h0M480.1 312.5h0M512.1 327.8h0M516.5 316.7h0M489.6 314.9h0M532.2 326.9h0M519.4 326.5h0M489.3 327.6h0M484.7 321.8h0M485.9 309.4h0M473.1 317.5h0" stroke="#0e7e3f" stroke-width="2.8" stroke-linecap="round" fill="none" opacity="1"/>
<path d="M583.6 327.3h0M558.8 340.7h0M585.6 336.4h0M544.8 324h0M575.5 343.1h0M589 333.8h0M547.5 333.5h0M595 339.3h0M550.3 331.3h0M552.5 327.9h0M590.2 325.8h0M597.6 346.2h0M597.2 332.7h0M561.9 331.2h0M556.7 303.6h0M546.8 322.6h0M543 322.1h0M577.3 334.5h0M578.4 319.5h0M596.7 323.9h0M591.1 339h0M579.1 337.4h0M544.3 347.6h0M589.1 329.8h0M583.9 333.8h0M569.6 324.6h0M595.8 324.6h0M592 324.7h0M583.6 324.2h0M601.7 336.6h0M592.7 340.6h0M557 338.1h0M601.3 320.5h0M557.2 338.7h0M578.4 336.7h0M598.3 321.6h0M571.9 325.8h0M603.2 341.7h0M572.9 325.9h0M566.6 309.1h0M565.4 326.3h0M554.5 327.6h0M586.5 325.3h0M596.1 319h0M596.1 326.3h0M544.2 330.1h0M586.1 335.8h0M567.4 322.1h0M554.8 312.7h0M580.9 330.1h0M579.9 320.6h0M580.8 338.3h0M592.5 312.7h0M539.7 329.7h0M579 323.8h0M577.1 319.6h0M602.5 329.9h0M579.5 345.6h0M603.1 336h0M578.4 325.6h0M559.5 324.1h0M579.5 321.2h0M561 333h0M579.3 321.9h0M558.9 317.8h0M590.7 330.8h0M578.5 336.3h0M579.4 329.3h0M566.2 313.7h0M568.2 334.8h0M596.4 323.8h0M581.3 330.9h0M595.5 336.1h0M588 324.2h0M598.4 337.2h0M572.9 303.3h0M546.3 332.5h0M537.8 327.6h0M540.1 328.6h0M557.5 337.5h0M596.5 332h0M569.6 332.9h0M556.9 332.2h0M550.9 320.3h0M543.5 321.8h0M555.6 320.6h0M536.7 328h0M558.5 327.8h0M543.2 314.4h0M600 334h0M541.6 326.9h0M586.4 330.6h0M540.7 334.8h0M565.3 321.1h0M553 317.3h0M573.4 340.1h0M564.6 329.2h0M535.9 321h0M587.6 332.5h0M583.8 324.6h0M546.6 330.9h0M600.4 338.2h0M577.4 323.8h0M539.8 341.1h0M565.6 328.8h0M588.5 334.4h0M543.2 332.4h0M595.2 331h0M590 330.9h0M547.3 308.9h0M551.5 324.2h0M538.6 312.1h0M568 328.8h0M542.8 326.6h0M563.6 326.7h0M589 312.1h0M573.2 322.3h0M575.2 321.2h0M557.8 334.4h0M581.5 329.6h0M568.5 327.6h0M583.6 334.4h0M548.4 336.5h0M541.2 313.2h0M547.1 306.7h0M590.1 324.7h0M561.1 342.4h0M563.1 328.3h0M597.8 322.5h0M559.9 334h0M591.3 331h0M556.7 328.2h0M550.4 328.5h0M563.4 326.8h0M573.9 332.7h0M556.7 328.5h0M574.7 333.2h0M571 319.1h0M580.4 324.9h0M545.9 330.3h0M582.7 322.6h0M591.1 326.9h0M589.7 332.7h0M591.3 315.1h0M557 316h0M580.2 320.9h0M557 319.8h0M561.4 335.9h0M570.6 336h0M587.5 325.5h0M577.9 331.3h0M588.7 334.7h0M558.4 334.3h0M535.9 318.2h0M602.1 335.4h0M539.2 341.2h0M575.7 333h0M597.3 330.7h0M563.1 331.2h0M547 322.6h0M592.8 326.2h0M579.8 337.4h0M550.1 321.7h0M554.6 330h0M580.6 327.4h0M540.4 335.8h0M535.9 346.5h0M571.3 328.2h0M540.4 324.5h0M602.3 323.1h0M587.7 337.8h0M555.1 337.3h0M588.7 317.8h0M584.6 329.1h0M540.9 317.4h0M551.9 329.2h0M540.5 329.8h0M576.6 338.9h0M592.4 330.4h0M551.6 329.8h0M559 339h0M582.8 333.5h0M558.4 323.3h0M546.8 317.2h0M561.4 345.2h0M572.9 329.7h0M577.7 324.5h0M548.2 326.7h0M540.6 333.1h0M569.2 334.8h0M535.7 337.2h0M590.5 316.9h0M601.3 340h0M594.7 331.3h0M546 322.9h0M603.2 324.2h0M552.5 325.7h0M537 320.8h0M592.6 317.2h0M586.5 320.6h0M536.9 321.1h0M561.7 329.2h0M565.6 326.2h0M539.9 332.5h0M600.7 343.4h0M580.7 333.3h0M575.4 330.1h0M563.8 328.9h0M579.9 320.2h0M543.1 321.7h0M562.2 325.9h0M550.2 324.4h0M568.1 328.5h0M541 323.4h0M587.2 340.6h0M574.8 334.3h0M572.8 332.5h0M598.1 325h0M589.6 325.6h0M586.7 320.1h0M540.4 330.2h0M582.7 319.8h0M567 325.6h0M544.7 333.1h0M548.2 340.8h0M598.8 336.3h0M585.3 317.4h0M537.3 328h0M598.4 332.2h0M559 325.7h0M583.4 336.3h0M549.4 333.3h0M579.7 329.9h0M539 330.7h0M591.6 345.3h0M551.3 328.6h0M596.3 337.1h0M573.2 339.3h0M539.5 320.4h0M570.7 332.8h0M579.6 329.6h0M589.4 340h0M545 324.9h0M546.3 323.6h0M543.2 325.1h0M554.4 341.6h0M559.8 330.4h0M565.4 325h0M554.6 325h0M603.7 321.5h0M545.9 322.1h0M582.1 341h0M574.1 316h0M570.6 318.2h0M554.4 331.7h0M587.1 331.9h0M585.1 341h0M600.6 329.2h0M554.4 318.1h0M557.1 332.9h0M537.2 310h0M544.7 322.9h0M592.9 326.5h0M564 322.6h0M560.9 330.2h0M595.8 331.6h0M535.9 325.7h0M555.6 345.8h0M570 336h0M535.8 318.6h0M570 326.7h0M558.1 329.7h0M561.6 333.3h0M557.7 335.8h0M573.9 321.9h0M550.3 320.3h0M565.4 315.8h0M539.3 322.9h0M541.5 331h0M593.6 320.3h0M566.4 323.5h0M600.9 333.2h0M575.6 333.9h0M562.4 339.3h0M590.5 317h0M552 312.8h0M596.9 333.7h0M544.8 331.3h0M573.1 323.3h0M540.3 329.8h0M600 324.8h0M583 336.9h0M593.2 328.3h0M558.5 321.6h0M603.1 326.5h0M538.8 329h0M554.2 328.2h0M563.6 328.7h0M561.3 316.3h0M543 323.4h0M550.2 334.1h0M547.8 326h0M590.4 324.5h0M568 319.9h0M587.3 340.7h0M561.6 314h0M573.7 323.2h0M566.4 326.4h0M570.1 329.8h0M596.6 333.8h0M554.5 333h0M570.5 322.6h0M595.9 330h0M596.7 339.9h0M563.6 338h0M598.7 326.7h0M553.7 317.3h0M570.7 318.4h0M581 322.5h0M551.2 332.6h0M537.7 323.6h0M598.6 327.4h0M581.7 331h0M557.4 325.5h0M539.9 316.7h0M550.2 334h0M601.3 336.9h0M574.4 330.4h0M601.9 324.8h0M593.6 332h0M600.8 334.4h0M547.7 314.5h0M556.1 333.8h0M536.6 313.7h0M546.7 325.5h0M579.2 333.9h0M554.4 325.3h0M573.8 330.5h0M563 319.2h0M560.9 326.2h0M575.3 333.1h0M547.3 328.8h0M581.9 333.2h0M542.5 324h0M573.9 316.8h0M600.4 342.3h0M599.7 326.1h0M582.3 320.4h0M594.9 335.6h0M581.9 330.4h0M558.2 329h0M590.3 325.2h0M547.3 322.6h0M538.1 314.2h0M555.4 323.6h0M576.9 322.5h0M535.6 321h0M544.7 333.2h0M548.1 324.5h0M583.7 329.4h0M601.7 343.4h0M561.9 320.9h0M564.5 339h0M560.5 314.5h0M552.4 321.8h0M548.5 334.6h0M552.5 329.4h0M576.3 328.2h0M572.8 327.8h0M550 331.2h0M576.7 317.8h0M584.5 320.6h0M548 324.9h0M551.7 322.1h0M588 320h0M585.1 336.8h0M580.1 320.8h0M536.5 321.6h0M593.8 345.5h0M567.8 325h0M548 329h0M568.3 331.2h0M583.8 315.2h0M545.5 333.7h0M583.6 329h0M542.9 332h0M550.6 322.3h0M586.5 334.7h0M566.9 332.3h0M596.1 339.1h0M565.5 320.4h0M588.9 339.6h0M581.6 326.9h0M554.9 316.9h0M556 331.7h0M555.8 325.1h0M537.5 315.9h0M559.9 332.9h0M580.2 319.9h0M587.5 345h0M559.6 332.1h0M556.1 334.8h0M586 327h0M574.9 340.9h0M577.4 325.1h0M573.6 329.5h0M576.7 331.9h0M583.2 312.9h0M592.3 337h0M584.6 330.6h0M561.4 336.2h0M563.1 323.6h0M601.8 317.1h0M601.2 326.6h0M578.4 329.4h0M564.1 327.2h0M563.1 333.1h0M553.5 326.1h0M594.9 327.9h0M556.6 334.3h0M592.1 335.7h0M543.7 333.8h0M577.9 324.2h0M567.7 328h0M600.2 334.2h0M563.4 327h0M577.5 329.2h0M554.5 332.4h0M570.4 343h0M595.3 334.6h0M560.7 326.1h0M536 329.3h0M561 330.7h0M559.3 329h0M559.3 323.7h0M554.5 325.9h0M583.3 335.7h0M592 332.7h0M600.4 337.7h0M542.5 320.5h0M599.4 325.2h0M599.3 328.8h0M573.1 319h0M546.5 329.5h0M559.1 327.6h0M537.5 325.5h0M555.7 328.1h0M591 321.2h0M586.4 327.3h0M549.8 325.6h0M547 330.6h0M599.2 331.1h0M593.7 321.6h0M558.4 316.7h0M569.7 314.3h0M575.6 332.6h0M539.9 321h0M547.7 322.4h0M563.7 327.6h0M582.5 330.5h0M601.9 343.7h0M583.3 346.8h0M594.2 337h0M575.3 320.9h0M584.1 324.6h0M598 335.2h0M569.8 327.3h0M572.4 325.9h0M597.7 327h0M539.5 342.8h0M598.7 333.6h0M588.6 334.5h0M545.2 346.9h0M563.8 335.1h0M571.8 329h0M554.2 329.2h0M561.7 338h0M575.5 326h0M551.2 325.4h0M553.4 330.5h0M553.4 331.4h0M572.7 334.4h0M585.6 333h0M570.3 327.2h0M558.7 339.2h0M574 342h0M571 335.9h0M584.2 325.9h0M568.1 332.5h0M565.4 337.2h0M599.5 338.4h0M564.9 324.1h0M539.1 333h0M582.7 327.5h0M553.7 318.6h0M594.8 337.8h0M541.7 334.4h0M581.9 332.9h0M597.4 328h0M544.4 325.7h0M547.5 330.5h0M544.7 321h0M578.1 329.4h0M537.7 303.8h0M564 338.9h0M583.8 334.1h0M599.2 320.4h0M558.9 328.5h0M584.7 330.7h0M563.2 329.6h0M576.1 332.3h0M587.2 346.1h0M585.1 321.2h0M598.9 337.7h0M575.3 333.8h0M576.3 322.3h0M593.8 315.3h0M550.6 319.8h0M581.7 331.4h0M560.7 330.9h0M537.5 319.8h0M599.6 313.1h0M585 337.2h0M577 334.4h0M546.1 325.8h0M540.9 328.4h0M602.4 332.7h0M597.7 318.6h0M589.9 328.4h0M548.5 321.5h0M561.4 338.7h0M584.4 318h0M565.6 320.9h0M561.9 332.6h0M553.9 320.6h0M566.3 319.7h0M550.2 332.9h0M575 321h0M588.5 336.7h0M595.8 342.3h0M548.3 329.6h0M587.6 346.1h0M568.6 337h0M581.3 334.6h0M567.7 331.1h0M579.7 327.9h0M566.4 313.9h0M577.5 334.4h0M602.3 336.2h0M586.9 331.7h0M594.4 324.8h0M574.8 322.9h0M544.6 326.1h0M554.6 324.7h0M567.3 324.9h0M590.1 339.1h0M536.1 322.9h0M538.4 321.2h0M588 334.6h0M589.5 338.8h0M588.2 338h0M599.8 329.3h0M598.1 330.7h0M564.2 329.8h0M565.1 329.9h0M535.8 331.1h0M571.6 333.6h0M548.1 331.9h0M570.7 336h0M569.3 325.8h0M585.1 321.6h0M543.6 348h0M541.6 329.7h0M582.8 324.1h0M566.1 325.4h0M595.1 322.8h0M589.9 337.7h0M594.3 318.9h0M575.8 333h0M552.6 334.7h0M535.8 320.2h0M569.3 334.1h0M583 321h0M585.2 330.2h0M560.7 312.7h0M538.6 332.5h0M550.9 341.6h0M552.3 328.5h0M589.5 329.7h0" stroke="#0e7e3f" stroke-width="2.8" stroke-linecap="round" fill="none" opacity="1"/>
<path d="M656 332.6h0M614.9 319.3h0M667.1 325.6h0M625.5 318.7h0M666.5 339.3h0M635.6 328.2h0M678.4 345h0M639.1 339.5h0M635.6 337.5h0M613.3 333h0M675.9 335.1h0M623.5 342.5h0M647 322.9h0M646.9 328.9h0M618.6 335.2h0M612.1 323.4h0M670.4 333.4h0M660.8 334.4h0M611.4 333.3h0M634 326.8h0M639.9 331.6h0M663.1 332.9h0M617.8 321.7h0M608 323.4h0M608.5 326.3h0M673.9 329.4h0M664.4 331.8h0M615.8 337.6h0M610.8 334.3h0M638.2 323.7h0M654.4 337.7h0M650.5 323.2h0M631.6 347.3h0M627 331.8h0M647.5 333.4h0M638.5 328.6h0M655 337.6h0M642.9 321.6h0M645.2 340.8h0M619 329.5h0M650.5 333.5h0M606.7 323.4h0M624.5 325.3h0M631.6 329.3h0M630.6 327h0M610.6 337.9h0M650.3 345.9h0M645.6 332.8h0M641.8 339.7h0M659.7 337.4h0M649.2 330h0M631.2 329.5h0M626.4 331.2h0M629.5 323.7h0M615.1 312.2h0M680.3 343.8h0M662.9 336.5h0M627 317.7h0M639.5 340.9h0M622.3 331.1h0M677.1 325.7h0M627.3 339.1h0M635.7 333.5h0M677.3 341.6h0M643.1 326.5h0M677.3 332.5h0M671.9 328.8h0M641.4 340.9h0M666.7 339.1h0M612.2 317.9h0M652.3 347.7h0M609.5 333h0M648.6 339.7h0M659 338.7h0M647.3 328.6h0M635 331.5h0M614.6 337.8h0M660.5 325.7h0M652.3 338h0M681.8 331.4h0M608.6 329.5h0M634.5 327.7h0M674.7 332.9h0M635.4 342.8h0M663.6 342.7h0M624.8 324.5h0M661.4 340.9h0M666.2 338.8h0M625.1 344.6h0M608 336.3h0M621.9 331h0M613.8 324.4h0M635.1 337.2h0M610.1 332.7h0M675.1 336.9h0M633.2 322.6h0M607.1 328.6h0M611.7 335.9h0M663.4 331h0M608.5 335h0M606.3 324.1h0M670.6 327.8h0M610 325.8h0M645.4 333.8h0M637.5 331.2h0M676.5 338.7h0M646.2 347h0M651 325.4h0M647.5 321.4h0M656.1 320.9h0M645.5 334.6h0M625.1 339.6h0M659.5 333h0M655.9 324.1h0M650.5 336.9h0M642.7 326.8h0M650.9 344.2h0M619.4 334.5h0M612 331.2h0M620.9 329.7h0M676.4 332.4h0M644.8 336.7h0M661 331.2h0M649.9 326.2h0M606.9 339.7h0M649.6 315.2h0M649.9 341.8h0M658.2 340.9h0M624.2 327.3h0M638 327.2h0M656.8 329.4h0M622 339.4h0M618.2 329.1h0M646.8 325.8h0M611.5 317.5h0M667.1 346.2h0M669.5 332.8h0M646.9 329.6h0M643.2 333.1h0M629.8 316.8h0M649.5 337.3h0M670.4 329h0M618.1 327.9h0M616.7 337.2h0M606.7 340.2h0M662.6 332.5h0M653.9 334.8h0M643.2 337.9h0M679.2 339.4h0M614.8 324.1h0M625.3 328.4h0M627.6 340.4h0M643.2 319.7h0M665.8 334.4h0M666.1 338.5h0M660.6 327h0M663.4 332.6h0M622.7 328.9h0M674.2 322.3h0M673.4 338.9h0M648.9 330.4h0M674.3 318.4h0M640.5 314.4h0M613.1 332.3h0M664.4 337.5h0M633.6 326.4h0M622.2 333.5h0M651.7 340.6h0M610.3 321.4h0M624.7 340.6h0M670.5 322.6h0M613.7 335.5h0M664.6 329.3h0M630.5 330.1h0M613.6 324.2h0M662.2 330.3h0M634.3 328.6h0M664.4 337h0M660.2 333.7h0M639.5 323.5h0M666.5 326.5h0M615.7 324.2h0M674.9 338.9h0M626 337.1h0M666.8 336.5h0M651 333.1h0M612.5 341.3h0M675.4 341.2h0M647.8 340.9h0M656.3 339.3h0M632 331.7h0M610.5 329.9h0M632.9 331.2h0M606.2 340.3h0M651.9 334.7h0M608.7 326.2h0M639 332.4h0M657.4 335.4h0M615.7 338.3h0M623.8 339.6h0M622.3 330.6h0M656.4 335h0M677.3 327.5h0M623.9 323.7h0M649.1 321.2h0M648.1 332.9h0M642.2 323.2h0M671.2 320.6h0M638.6 329h0M674.4 327.5h0M609.8 321.4h0M643.5 341.7h0M668.2 331.1h0M646.2 321.6h0M666.1 317.1h0M606.7 338.7h0M673.2 341.9h0M662.2 338.4h0M611.8 328.9h0M627.5 331.8h0M659.3 324h0M660.5 346.8h0M679.7 340.1h0M612.4 346.1h0M643 331.1h0M611.8 325.1h0M609.6 321.4h0M635.8 342.3h0M661.6 336h0M643.7 338.9h0M666.4 334.7h0M614.7 325.9h0M652.3 326.5h0M667.2 327.3h0M622 334.5h0M607.2 317.6h0M667 317.6h0M636.8 331.1h0M669.9 336h0M667.3 341.4h0M674.5 340.3h0M614 334.3h0M608.2 330h0M613.3 332.6h0M680.3 327.2h0M670.6 344.7h0M626.7 328h0M652.4 334.5h0M678.4 347.9h0M606.3 334.5h0M613.4 329.4h0M680.2 332.9h0M662.8 329.3h0M656.5 332.9h0M677.7 338.5h0M639.7 334.7h0M625.7 330.6h0M676.3 321.2h0M679.1 333.7h0M618.6 316.7h0M649.2 329.2h0M677.3 336.8h0M669.8 332.2h0M621.9 313.6h0M677.4 333.8h0M622.4 338.7h0M632.9 328.3h0M615.6 319.5h0M611.7 329.1h0M633.2 325.6h0M633.1 320.9h0M676.4 331.1h0M664.8 342h0M607.2 327.5h0M616.2 340.3h0M625.9 328.4h0M665.3 345.1h0M666.2 332.8h0M657.9 326.2h0M676.7 341.2h0M658.5 325.1h0M647 321.8h0M667.7 332.3h0M661.5 340.6h0M646.7 339.1h0M624.2 345.5h0M679.9 332.5h0M678.4 326.9h0M613.4 332.4h0M623.1 328.7h0M661.2 342h0M606.9 324.7h0M670.8 343.7h0M639.6 320.1h0M663.9 335.1h0M656.8 333.8h0M613.6 328.9h0M671.2 337.3h0M607.4 321.2h0M649.1 330.7h0M662.2 321.6h0M612.4 336.8h0M679.7 340h0M629.6 323.9h0M645.5 330.1h0M646.4 333.9h0M620.8 339.9h0M661.7 329.7h0M633.9 336.4h0M654.6 323.3h0M610.5 330.3h0M623.9 328.5h0M650.1 333h0M607.1 323.1h0M618.2 331h0M621 325.8h0M644.1 331.6h0M606.6 323h0M648.3 325.5h0M614.5 326h0M649.9 335.8h0M655.7 324.3h0M678.2 331.2h0M615.4 334h0M631.2 330.6h0M653.2 330h0M630.2 324.3h0M619.7 330.9h0M651 327.2h0M661.4 341.7h0M637.3 335.7h0M611.2 338h0M664.3 330.8h0M610.4 343.3h0M630.5 331.6h0M631.5 325.6h0M654.7 345.5h0M661 328.7h0M608 339.8h0M630.9 332.6h0M646.9 332.6h0M659 329.1h0M677.1 347.6h0M675.3 339.3h0M635.9 322.9h0M640.7 326.5h0M678.2 329.3h0M671 316h0M609 329.8h0M676 341.6h0M680.4 328.9h0M619.5 329.9h0M654.6 342.3h0M668.6 341.9h0M633.9 332.1h0M636.2 343.1h0M617.3 322.9h0M646.3 326.2h0M637.6 337.7h0M607.6 329.6h0M667.2 343.7h0M628.9 335.9h0M619.7 345.8h0M666.5 330.1h0M656.3 329.9h0M653.3 325.2h0M610.6 327.5h0M643 336.4h0M616 336h0M613.5 343.6h0M623.6 321.3h0M666.7 316.6h0M632 333.8h0M628.3 331h0M609.7 326.4h0M682.2 340.4h0M624.6 332.6h0M657 333.5h0M673.8 328.7h0M608.8 336.6h0M618.5 332.6h0M661.1 330.3h0M646.6 330h0M662.4 341h0M613 340.7h0M608.1 327.6h0M660.1 338.2h0M645 328.6h0M649.5 326.6h0M624.3 326.7h0M659.5 320.6h0M636.5 335.2h0M618 320.7h0M625.8 321h0M651 334.2h0M629.1 322.8h0M621.9 333.3h0M645.5 324.2h0M647.1 336h0M660.2 334.6h0M670.2 338.9h0M663.7 339.5h0M644.7 331.1h0M668.5 340.7h0M651.8 330.9h0M636.5 339.6h0M659.6 326.5h0M621.2 323.5h0M644.2 329.1h0M655.5 329.5h0M631 336.7h0M629.4 334.7h0M678.1 326.4h0M677.4 329.4h0M678.2 334.7h0M670.5 324.6h0M637.6 337.6h0M675.4 337.8h0M623.9 344.1h0M643.8 330h0M636.4 337h0M610.9 329.3h0M645.7 332.6h0M672 331.4h0M640.7 314h0M664.7 339.1h0M618.7 315.3h0M617.4 336.1h0M610.3 334.5h0M652.8 333h0M622.6 332.4h0M631.3 343.2h0M630.7 343.5h0M627.2 333h0M621.7 339.5h0M617.7 332.4h0M612.1 331.2h0M633 333.6h0M677.4 332.9h0M660.4 333.4h0M646.1 338.1h0M616.1 334.5h0M622.6 323.2h0M665 332.3h0M644 330.2h0M679.4 325.4h0M623.9 328.8h0M649.3 347.8h0M655.6 334.7h0M651.4 331.5h0M616.5 340.1h0M643.4 332.5h0M624.4 326.9h0M661.9 336.6h0M653.1 342.7h0M607.8 337.8h0M625.8 336.1h0M641.4 329.6h0M631.6 321.9h0M641.1 330.4h0M682.2 342.7h0M670.5 335.5h0M640.5 324.8h0M614.9 327.5h0M616.7 338.6h0M639.7 334.6h0M633 339.5h0M620.9 317.4h0M672.6 335.5h0M662.3 323h0M654.3 329.7h0M640.6 340.3h0M678.4 347.4h0M619.5 330.5h0M635.3 339.8h0M672.7 332.6h0M645.3 335.2h0M663.7 332.9h0M645.4 334.7h0M619.7 320.5h0M682 338.7h0M663 335.6h0M608.7 337.5h0M657.4 323.6h0M620.6 326.1h0M658.6 337.1h0M670.2 325.3h0M628.4 347.6h0M619.7 335h0M677.3 334.4h0M653.2 326.7h0M625.4 329.7h0M632.1 331.1h0M610.1 331.8h0M677.2 328.1h0M664.1 338.7h0M638.5 335.8h0M673.2 340.3h0M660.2 324.4h0M634 324.7h0M634.2 322.7h0M680.8 328h0M631.1 322.8h0M645.2 341.5h0M650.9 327.7h0M680.3 334.3h0M607.5 324.5h0M625.9 325.3h0M661 342.2h0M620.6 342.7h0M645.1 325.6h0M660.7 320h0M682.2 340.2h0M648.9 327.1h0M646.3 335.4h0M670.6 334.8h0M651.9 332.6h0M633.7 323.8h0M665.2 336h0M638.1 331.2h0M645.2 326.3h0M644 339.1h0M619.5 323.9h0M629.9 322h0M635.6 329.6h0M672.5 329.6h0M676.1 334.8h0M669.1 335h0M633.9 339.6h0M657.6 328.5h0M643.7 336.5h0M623.2 328.8h0M657.2 331.4h0M677.5 332.2h0M652.8 328.6h0M608.2 338.5h0M629.3 333.9h0M649.8 334.6h0M668.1 336.2h0M658.9 330.1h0M663.8 333.4h0M646.9 329.5h0M676.1 339.3h0M634.6 334.9h0M659.5 332.2h0M659.3 339.8h0M617 338h0M665.4 336.9h0M674.1 344h0M680.7 319.7h0M608.7 323.2h0M654.3 326.3h0M678.9 332.2h0M608.2 325.8h0M611 330.8h0M628.1 341.7h0M619.7 333.1h0M627 342.1h0M644.6 334.3h0M665.6 332.2h0M619.4 338.2h0M650.8 334.5h0M643.2 328.9h0M608.6 316.1h0M663.9 321h0M658.8 328.1h0M672.9 342.1h0M610.4 327h0M646.9 323.7h0M668.4 327.6h0M648.7 335.6h0M639.6 327.6h0M622.5 328.2h0M666.8 345.1h0M610.9 320.3h0M670.1 328.7h0M671.1 331.7h0M623.3 341.1h0M665.1 346.2h0M625 332.3h0M662.6 342.5h0M640.8 332.6h0M668.6 345.4h0M630.3 346.1h0M621.1 333.6h0M678.3 336.7h0M647.9 328.1h0M659.4 336.8h0M608 316.8h0M670.8 326.5h0M631.1 337.7h0M630.9 328h0M618.1 320.7h0M609.3 318.1h0M645 343.7h0M629.9 325.8h0M660.3 335.1h0M636.1 333.9h0M633.7 327.9h0M620 327.4h0M638.4 325.4h0M647.9 332.7h0M677.5 331.6h0M635.1 336.5h0M666.9 333.7h0M617.3 325.2h0M670.2 331.3h0M655.1 329.7h0M645.6 332.7h0M636.3 340.5h0M674.2 335.4h0M630.1 332h0M649.8 331h0M624 336h0M654 327.7h0M662.7 323.2h0M614.7 328.7h0M626.8 334.9h0M677.2 327.6h0M633.9 316.3h0M681.8 326.1h0M631.3 345.7h0M662.1 332.1h0M638.1 332h0M640.7 332.7h0M681.9 334.1h0M660.2 342.7h0M645.3 327.7h0M676.8 332.2h0M659.3 333.4h0M679.9 327.2h0M681 330.2h0M629.4 326.9h0M680.4 325.5h0M665.6 338.1h0M662 325.4h0M637.5 329.6h0M656.3 327.7h0M673.5 324.7h0M634.9 320.1h0M633.4 332.1h0M642.2 313.8h0M614.2 332.7h0M676.1 325h0M672 326.8h0M614.9 339.2h0M670.4 336.2h0" stroke="#0e7e3f" stroke-width="2.8" stroke-linecap="round" fill="none" opacity="1"/>
<path d="M249.5 344.9h0M267.5 342.1h0M296 346.9h0M300 344.9h0" stroke="#0e7e3f" stroke-width="2.4" stroke-linecap="round" fill="none" opacity="1"/>
<path d="M102.2 348.8H683.6" stroke="#fb22fb" stroke-width="2.4"/>
<path d="M167 273.4V435M232.3 273.4V435M308.5 273.4V435M383.5 273.4V435M461 273.4V435M534.3 273.4V435M605 273.4V435" stroke="#333" stroke-width="1.6" fill="none" opacity="0.3"/>
<path d="M167 273.4V435M232.3 273.4V435M308.5 273.4V435M383.5 273.4V435M461 273.4V435M534.3 273.4V435M605 273.4V435" stroke="#1c1c1c" stroke-width="1.9" stroke-dasharray="1.1 0.9" stroke-dashoffset="1.40" fill="none" opacity="0.62"/>
<path d="M683.6 435H101.2V273.4H683.6" stroke="#4a4a4a" stroke-width="1.4" fill="none"/>
<text x="133.6" y="450.7" text-anchor="middle" font-family='"DejaVu Sans","Liberation Sans",sans-serif' font-size="8.7" fill="#5c5c5c">A06</text>
<text x="199.5" y="450.7" text-anchor="middle" font-family='"DejaVu Sans","Liberation Sans",sans-serif' font-size="8.7" fill="#5c5c5c">B06</text>
<text x="270" y="450.7" text-anchor="middle" font-family='"DejaVu Sans","Liberation Sans",sans-serif' font-size="8.7" fill="#5c5c5c">C06</text>
<text x="345.8" y="450.7" text-anchor="middle" font-family='"DejaVu Sans","Liberation Sans",sans-serif' font-size="8.7" fill="#5c5c5c">D06</text>
<text x="422" y="450.7" text-anchor="middle" font-family='"DejaVu Sans","Liberation Sans",sans-serif' font-size="8.7" fill="#5c5c5c">E06</text>
<text x="498" y="450.7" text-anchor="middle" font-family='"DejaVu Sans","Liberation Sans",sans-serif' font-size="8.7" fill="#5c5c5c">F06</text>
<text x="569.5" y="450.7" text-anchor="middle" font-family='"DejaVu Sans","Liberation Sans",sans-serif' font-size="8.7" fill="#5c5c5c">G06</text>
<text x="644" y="450.7" text-anchor="middle" font-family='"DejaVu Sans","Liberation Sans",sans-serif' font-size="8.7" fill="#5c5c5c">H06</text>
<rect x="384.2" y="65.2" width="76.8" height="371.2" fill="none" stroke="#f79650" stroke-width="3"/>
<rect x="624.2" y="183" width="66" height="32" rx="0.8" fill="#d9d9d9" stroke="#000" stroke-width="2"/>
<text x="657.3" y="203.8" text-anchor="middle" font-family='"Liberation Sans",sans-serif' font-size="13.4" font-weight="bold" fill="#000">5000</text>
<rect x="624.2" y="356.3" width="66" height="31.19999999999999" rx="0.8" fill="#d9d9d9" stroke="#000" stroke-width="2"/>
<text x="657.3" y="376.7" text-anchor="middle" font-family='"Liberation Sans",sans-serif' font-size="13.4" font-weight="bold" fill="#000">2000</text>
<path d="M685.7 176.8L698.7 170.1V174.2H762.7V179.4H698.7V183.6Z" fill="#a23b80"/>
<path d="M685.7 347.6L698.7 340.9V345H762.7V350.2H698.7V354.4Z" fill="#a23b80"/>
<text x="67" y="514" text-anchor="start" font-family='"Liberation Sans",sans-serif' font-size="23" font-weight="bold" fill="#000">b.</text>
<rect x="175.5" y="491.1" width="490.20000000000005" height="41.799999999999955" rx="2" fill="#c5e0b4" stroke="#00b050" stroke-width="4.2"/>
<text x="420.2" y="520.6" text-anchor="middle" font-family='"Liberation Sans",sans-serif' font-size="23.5" font-weight="bold" fill="#000">Positive template control quantification</text>
<text x="196.7" y="565.7" text-anchor="middle" font-family='"Liberation Sans",sans-serif' font-size="17.6" font-weight="bold" fill="#000">Dilution C (7000 cps/ul)</text>
<text x="420.4" y="565.7" text-anchor="middle" font-family='"Liberation Sans",sans-serif' font-size="17.6" font-weight="bold" fill="#000">Dilution&#160; D (1:10 of C)</text>
<text x="643.2" y="565.7" text-anchor="middle" font-family='"Liberation Sans",sans-serif' font-size="17.6" font-weight="bold" fill="#000">Dilution E (1:10 of D)</text>
<text transform="translate(19.7 673) rotate(-90)" text-anchor="middle" font-family='"Liberation Sans",sans-serif' font-size="19.8" fill="#000">Ch 1 (FAM)</text>
<text transform="translate(42 671) rotate(-90)" text-anchor="middle" font-family='"Liberation Sans",sans-serif' font-size="19.7" fill="#000">amplitude</text>
<rect x="94" y="576.3" width="646.5" height="199.70000000000005" fill="#f5f5f5"/>
<path d="M90.5 776H740.5M90.5 747.5H740.5M90.5 718.9H740.5M90.5 690.4H740.5M90.5 661.9H740.5M90.5 633.4H740.5M90.5 604.8H740.5M90.5 576.3H740.5" stroke="#d6d6d6" stroke-width="1.1" fill="none"/>
<path d="M120.6 579.3V776M172.3 579.3V776M223 579.3V776M275.6 579.3V776M329.1 579.3V776M383.4 579.3V776M437 579.3V776M491.9 579.3V776M546.6 579.3V776M602.4 579.3V776M658.3 579.3V776M714 579.3V776" stroke="#cfcfcf" stroke-width="1" stroke-dasharray="1.6 5.4" fill="none"/>
<path d="M120.6 768.5V776M172.3 768.5V776M223 768.5V776M275.6 768.5V776M329.1 768.5V776M383.4 768.5V776M437 768.5V776M491.9 768.5V776M546.6 768.5V776M602.4 768.5V776M658.3 768.5V776M714 768.5V776" stroke="#c2c2c2" stroke-width="1" fill="none"/>
<text x="84.5" y="779.5" text-anchor="end" font-family='"DejaVu Sans","Liberation Sans",sans-serif' font-size="9.7" fill="#505050">0</text>
<text x="84.5" y="751" text-anchor="end" font-family='"DejaVu Sans","Liberation Sans",sans-serif' font-size="9.7" fill="#505050">2000</text>
<text x="84.5" y="722.4" text-anchor="end" font-family='"DejaVu Sans","Liberation Sans",sans-serif' font-size="9.7" fill="#505050">4000</text>
<text x="84.5" y="693.9" text-anchor="end" font-family='"DejaVu Sans","Liberation Sans",sans-serif' font-size="9.7" fill="#505050">6000</text>
<text x="84.5" y="665.4" text-anchor="end" font-family='"DejaVu Sans","Liberation Sans",sans-serif' font-size="9.7" fill="#505050">8000</text>
<text x="84.5" y="636.8" text-anchor="end" font-family='"DejaVu Sans","Liberation Sans",sans-serif' font-size="9.7" fill="#505050">10000</text>
<text x="84.5" y="608.3" text-anchor="end" font-family='"DejaVu Sans","Liberation Sans",sans-serif' font-size="9.7" fill="#505050">12000</text>
<text x="84.5" y="579.8" text-anchor="end" font-family='"DejaVu Sans","Liberation Sans",sans-serif' font-size="9.7" fill="#505050">14000</text>
<path d="M94 738.1L95.3 737.6L96.6 738L97.9 737.6L99.2 737.5L100.5 738.2L101.8 737.9L103.1 737.9L104.4 737.8L105.7 738L107 737.5L108.3 737.9L109.6 737.8L110.9 737.8L112.2 737.8L113.5 737.8L114.8 737.6L116.1 737.7L117.4 738L118.7 737.3L120 737.3L121.3 737.6L122.6 737.9L123.9 738L125.2 738L126.5 737.4L127.8 738.1L129.1 737.7L130.4 738.2L131.7 737.8L133 737.9L134.3 737.7L135.6 737.6L136.9 738.2L138.2 738.1L139.5 737.5L140.8 738.2L142.1 737.6L143.4 738L144.7 738.2L146 737.5L147.1 737.8L147.1 745.4L146 745.1L144.7 745.3L143.4 745.5L142.1 745.2L140.8 745.2L139.5 745.3L138.2 745.4L136.9 745.6L135.6 745L134.3 745L133 745.5L131.7 745.2L130.4 745.4L129.1 745L127.8 745.4L126.5 745.1L125.2 745L123.9 745.2L122.6 745.1L121.3 745L120 745.1L118.7 745.3L117.4 745.2L116.1 745.3L114.8 745.4L113.5 745.3L112.2 745.1L110.9 745.4L109.6 744.9L108.3 745.1L107 744.9L105.7 745.3L104.4 745.2L103.1 745.6L101.8 745.6L100.5 745.5L99.2 745.1L97.9 744.9L96.6 745.3L95.3 745.5L94 744.9Z" fill="#7e7e7e"/>
<path d="M139.9 737.5h0M109.5 745.3h0M133.9 737.6h0M104.7 736.9h0M99 745.5h0M95.7 745.5h0M108.2 745.5h0M132.2 736.6h0M101.4 736.8h0M130.6 737.7h0" stroke="#7e7e7e" stroke-width="2.8" stroke-linecap="round" fill="none" opacity="1"/>
<rect transform="translate(94 741.8)" x="0" y="-4.3" width="53.1" height="8.6" fill="url(#gG2)"/>
<path d="M112.2 705.1h0M130.6 722.9h0M111.5 730.5h0M107.4 715.6h0M108.6 713.1h0M111.9 733.1h0M97.3 732.4h0M129.4 709.5h0M123.3 711.1h0M123.3 728.7h0M107 722.6h0M123.9 709.8h0M137.5 721.9h0M136.9 724.4h0M124.8 713.7h0M130.8 712.5h0M130.9 726h0M138.5 712.1h0M137.6 725.3h0M115.2 723.5h0M137.8 718.3h0M127.4 708.5h0M113.9 718.3h0M120 724.3h0M121 716.4h0M99.4 716.8h0M113.1 727.5h0M129.2 709.1h0M130 709.4h0M104.1 721.6h0M106.8 731.2h0M128.9 729.2h0M137.5 718.7h0M117.6 708.8h0M111.3 708.2h0M131.3 714.3h0M136.5 718.7h0M114 713.3h0M103.9 712.5h0M100.7 706.9h0M142.9 724.8h0" stroke="#858585" stroke-width="3" stroke-linecap="round" fill="none" opacity="1"/>
<path d="M147.1 734.8L148.4 735.3L149.7 734.9L151 734.6L152.3 735.1L153.6 735.2L154.9 734.8L156.2 734.6L157.5 734.9L158.8 734.6L160.1 734.6L161.4 735.3L162.7 735.1L164 735L165.3 734.7L166.6 735.2L167.9 734.7L169.2 734.9L170.5 735.3L171.8 734.8L173.1 734.6L174.4 734.7L175.7 735L177 735.3L178.3 734.5L179.6 735.2L180.9 734.6L182.2 734.6L183.5 735.4L184.8 734.8L186.1 735L187.4 735L188.7 735.2L190 735.2L191.3 734.7L192.6 735L193.9 735L195.2 734.9L196.5 735.1L197.5 734.6L197.5 742.1L196.5 742.1L195.2 742.1L193.9 742.3L192.6 742.6L191.3 742.2L190 742.2L188.7 742.5L187.4 742.1L186.1 742.3L184.8 742.3L183.5 742.2L182.2 742.3L180.9 742.1L179.6 742.2L178.3 742.2L177 742.5L175.7 742.7L174.4 742.1L173.1 742.6L171.8 742.5L170.5 742.2L169.2 742.7L167.9 742.5L166.6 742.7L165.3 742L164 742.5L162.7 742.3L161.4 742.7L160.1 742.2L158.8 742.3L157.5 742.5L156.2 742.3L154.9 742.2L153.6 742.7L152.3 742.2L151 742.1L149.7 742.4L148.4 742.4L147.1 742.2Z" fill="#7e7e7e"/>
<path d="M189.8 734.6h0M168.8 742.6h0M151 743.4h0M195.7 743h0M167 734.9h0M183.4 734.7h0M196.1 742.5h0M161.4 743.1h0M157.7 742.6h0M170.9 742.5h0" stroke="#7e7e7e" stroke-width="2.8" stroke-linecap="round" fill="none" opacity="1"/>
<rect transform="translate(147.1 738.9)" x="0" y="-4.3" width="50.4" height="8.6" fill="url(#gG2)"/>
<path d="M172.9 712.6h0M155.7 720.8h0M173.9 727.5h0M185.8 725.9h0M170.9 717.2h0M156.1 710.4h0M148.3 728.7h0M185.5 714.6h0M182.6 707.9h0M181.9 710.6h0M158.2 706.3h0M182.3 722.5h0M186.4 726.2h0M187.5 713.3h0M155.1 708.2h0M183.1 720.2h0M186.5 719.6h0M191.4 732.1h0M152.1 713.6h0M172.2 718.7h0M163.5 714h0M195.8 720h0M185.7 721.7h0" stroke="#858585" stroke-width="3" stroke-linecap="round" fill="none" opacity="1"/>
<path d="M197.5 734.9L198.8 735.2L200.1 734.5L201.4 735.3L202.7 734.8L204 734.6L205.3 735L206.6 734.9L207.9 734.9L209.2 734.6L210.5 734.5L211.8 734.9L213.1 734.8L214.4 734.9L215.7 735L217 735L218.3 735.3L219.6 734.5L220.9 735.1L222.2 734.6L223.5 735.1L224.8 735L226.1 734.6L227.4 734.6L228.7 735.1L230 735.1L231.3 734.7L232.6 735.2L233.9 734.6L235.2 734.6L236.5 734.8L237.8 735.3L239.1 735.2L240.4 735.2L241.7 735.2L243 734.8L244.3 734.7L245.6 734.9L246.9 735.3L248.2 735L248.8 734.6L248.8 742.7L248.2 742.1L246.9 742.2L245.6 742.1L244.3 742.4L243 742.7L241.7 742.7L240.4 742L239.1 742.1L237.8 742.6L236.5 742.4L235.2 742.3L233.9 742.1L232.6 742.5L231.3 742.3L230 742.5L228.7 742.3L227.4 742.4L226.1 742.7L224.8 742.5L223.5 742.2L222.2 742.3L220.9 742.3L219.6 742.5L218.3 742.7L217 742.7L215.7 742L214.4 742.1L213.1 742.3L211.8 742.1L210.5 742.4L209.2 742.1L207.9 742.5L206.6 742.2L205.3 742.5L204 742.6L202.7 742.6L201.4 742L200.1 742.2L198.8 742.5L197.5 742.4Z" fill="#7e7e7e"/>
<path d="M242.2 734.7h0M240.8 742.8h0M235.2 742.5h0M224.6 734.3h0M239.6 734.5h0M225.6 733.2h0M231.3 742.8h0M214.3 742.8h0M201 742.5h0M230.6 742.7h0" stroke="#7e7e7e" stroke-width="2.8" stroke-linecap="round" fill="none" opacity="1"/>
<rect transform="translate(197.5 738.9)" x="0" y="-4.3" width="51.3" height="8.6" fill="url(#gG2)"/>
<path d="M221 732.4h0M200.1 718.3h0M204 713.8h0M209.6 710.4h0M214.5 722.8h0M216.1 712.4h0M227.9 708.2h0M214.1 707.4h0M209.5 709.1h0M239.1 713.1h0M210.1 730.8h0M214.8 720.3h0M246.2 726.3h0M231.9 720.8h0M203 705.1h0M210.1 730h0M205.5 732h0M228.5 732.9h0M234.8 727.2h0M213.3 709.1h0M205.6 710.8h0M246.6 709.6h0M212.8 728.4h0" stroke="#858585" stroke-width="3" stroke-linecap="round" fill="none" opacity="1"/>
<path d="M248.8 735.2L250.1 734.8L251.4 735.2L252.7 734.9L254 735.1L255.3 735.2L256.6 735.2L257.9 734.6L259.2 734.5L260.5 735.4L261.8 735.3L263.1 734.8L264.4 735.3L265.7 734.7L267 735.1L268.3 735.3L269.6 735.1L270.9 735.2L272.2 735.1L273.5 734.8L274.8 734.9L276.1 735.4L277.4 734.8L278.7 734.7L280 735.1L281.3 735.1L282.6 734.9L283.9 734.8L285.2 734.6L286.5 735.1L287.8 735.2L289.1 735.1L290.4 734.8L291.7 735.3L293 734.6L294.3 734.7L295.6 735.3L296.9 735L298.2 734.8L299.5 735.1L299.7 734.7L299.7 742.6L299.5 742.5L298.2 742.4L296.9 742.4L295.6 742.2L294.3 742.3L293 742.5L291.7 742.7L290.4 742.5L289.1 742.4L287.8 742.1L286.5 742.3L285.2 742.3L283.9 742.4L282.6 742.4L281.3 742.6L280 742.4L278.7 742.1L277.4 742.7L276.1 742.1L274.8 742.4L273.5 742.4L272.2 742.8L270.9 742.5L269.6 742.7L268.3 742.4L267 742.2L265.7 742.4L264.4 742.1L263.1 742.1L261.8 742L260.5 742.5L259.2 742.6L257.9 742.3L256.6 742.5L255.3 742.4L254 742.2L252.7 742.5L251.4 742.3L250.1 742.3L248.8 742.7Z" fill="#7e7e7e"/>
<path d="M251.2 734.2h0M283.1 734h0M256.5 734.5h0M287.4 742.5h0M271 733.8h0M265.6 734.5h0M258 734.4h0M279.9 734.5h0M270.9 743h0M267.1 734.2h0" stroke="#7e7e7e" stroke-width="2.8" stroke-linecap="round" fill="none" opacity="1"/>
<rect transform="translate(248.8 738.9)" x="0" y="-4.3" width="50.9" height="8.6" fill="url(#gG2)"/>
<path d="M290.1 712.2h0M296.2 719.5h0M287.1 714.7h0M254.2 730.8h0M293.5 706.3h0M268.4 731.4h0M260.1 709.6h0M267.8 712.3h0M284.1 725h0M254.1 727.9h0M262.7 726.3h0M273.9 713.5h0M275 725.6h0M293.9 732.6h0M288.9 721.1h0M286.7 733.1h0M251.5 706h0M273.1 719h0M252.3 708.2h0M267.1 706.6h0" stroke="#858585" stroke-width="3" stroke-linecap="round" fill="none" opacity="1"/>
<path d="M299.7 734.6L301 735.2L302.3 735.3L303.6 735.2L304.9 735.3L306.2 734.7L307.5 734.6L308.8 735L310.1 735.3L311.4 735.2L312.7 735.1L314 734.9L315.3 734.8L316.6 734.8L317.9 734.6L319.2 734.9L320.5 734.6L321.8 735L323.1 735.2L324.4 734.7L325.7 734.6L327 735.2L328.3 735.2L329.6 734.7L330.9 735.2L332.2 735.1L333.5 735.2L334.8 735L336.1 734.7L337.4 734.5L338.7 734.5L340 734.5L341.3 735.2L342.6 735.1L343.9 735.3L345.2 734.7L346.5 734.7L347.8 735.1L349.1 734.8L350.4 735.1L351.7 735.2L353 735.3L354.3 734.5L355.6 735L356.7 735.3L356.7 742.2L355.6 742.7L354.3 742.2L353 742.7L351.7 742.7L350.4 742L349.1 742.4L347.8 742.5L346.5 742.6L345.2 742.7L343.9 742.3L342.6 742.6L341.3 742.4L340 742L338.7 742.2L337.4 742.4L336.1 742.7L334.8 742.7L333.5 742.2L332.2 742.7L330.9 742L329.6 742.1L328.3 742.3L327 742L325.7 742L324.4 742.1L323.1 742.7L321.8 742.5L320.5 742.2L319.2 742.3L317.9 742L316.6 742.2L315.3 742.7L314 742.2L312.7 742.5L311.4 742.4L310.1 742.7L308.8 742.3L307.5 742.7L306.2 742.4L304.9 742.2L303.6 742.1L302.3 742.7L301 742.1L299.7 742.5Z" fill="#7e7e7e"/>
<path d="M312.8 742.5h0M308.8 734h0M304.9 742.5h0M323 742.8h0M347.6 734.8h0M307.2 742.7h0M329.2 734.1h0M314.5 733.8h0M350.2 742.4h0M303.5 742.6h0M353.1 742.8h0" stroke="#7e7e7e" stroke-width="2.8" stroke-linecap="round" fill="none" opacity="1"/>
<rect transform="translate(299.7 738.9)" x="0" y="-4.3" width="57" height="8.6" fill="url(#gG2)"/>
<path d="M329.3 726.1h0M308.3 711.9h0M340.3 708.5h0M301.5 714.6h0M325.8 731.7h0M321.5 706.8h0M312.7 707.6h0M333.1 712h0M322 708.4h0M325.6 727.5h0M336.6 715.2h0M324.7 726.2h0M334.6 727.7h0" stroke="#858585" stroke-width="3" stroke-linecap="round" fill="none" opacity="1"/>
<path d="M356.7 735.2L358 735.1L359.3 735L360.6 734.8L361.9 735L363.2 735.4L364.5 735.3L365.8 735L367.1 734.8L368.4 734.7L369.7 734.8L371 734.8L372.3 735L373.6 735L374.9 735L376.2 734.9L377.5 735.3L378.8 734.9L380.1 734.6L381.4 735.3L382.7 735.2L384 734.7L385.3 734.7L386.6 734.9L387.9 734.7L389.2 735.4L390.5 734.6L391.8 735.2L393.1 734.7L394.4 735.1L395.7 734.6L397 734.7L398.3 734.8L399.6 734.7L400.9 734.9L402.2 735.1L403.5 734.9L404.8 734.8L406.1 734.6L407.4 735.1L408.7 734.8L410 734.9L410.4 734.7L410.4 742.8L410 742.5L408.7 742.7L407.4 742.6L406.1 742.5L404.8 742.5L403.5 742.2L402.2 742.1L400.9 742.4L399.6 742.4L398.3 742.1L397 742.4L395.7 742.1L394.4 742.2L393.1 742.5L391.8 742.3L390.5 742.6L389.2 742.4L387.9 742.5L386.6 742.7L385.3 742L384 742.2L382.7 742L381.4 742.5L380.1 742.2L378.8 742.5L377.5 742.2L376.2 742.4L374.9 742L373.6 742.5L372.3 742.1L371 742.3L369.7 742.7L368.4 742.4L367.1 742.6L365.8 742.7L364.5 742.3L363.2 742L361.9 742.1L360.6 742.3L359.3 742.1L358 742.4L356.7 742.7Z" fill="#7e7e7e"/>
<path d="M362.7 743.2h0M362.9 742.9h0M398.4 734.2h0M406.2 734.7h0M363.3 734.3h0M384.4 742.8h0M373.2 742.6h0M393.6 743h0M399.1 742.6h0M361.6 734.8h0" stroke="#7e7e7e" stroke-width="2.8" stroke-linecap="round" fill="none" opacity="1"/>
<rect transform="translate(356.7 738.9)" x="0" y="-4.3" width="53.7" height="8.6" fill="url(#gG2)"/>
<path d="M367.1 722h0M380 718h0M385.2 713.8h0M376.9 711.1h0M402 728.7h0M394.1 720.7h0M401.6 720.6h0M367.3 715.5h0M377.6 705.4h0M366 712.8h0M392.3 709.5h0" stroke="#858585" stroke-width="3" stroke-linecap="round" fill="none" opacity="1"/>
<path d="M410.4 735L411.7 735.2L413 734.5L414.3 734.6L415.6 734.9L416.9 735.1L418.2 735L419.5 734.6L420.8 734.8L422.1 734.7L423.4 735.2L424.7 734.9L426 735L427.3 734.7L428.6 735.3L429.9 735.3L431.2 734.5L432.5 734.8L433.8 735L435.1 735L436.4 735L437.7 735.2L439 735.3L440.3 735L441.6 735.2L442.9 735.2L444.2 734.6L445.5 735.4L446.8 735.2L448.1 735L449.4 734.9L450.7 735.1L452 734.7L453.3 734.9L454.6 734.6L455.9 735.3L457.2 734.5L458.5 735.1L459.8 735.2L461.1 735L462.4 735.3L463.7 735.1L465 734.7L465.1 734.6L465.1 742L465 742.5L463.7 742.4L462.4 742.3L461.1 742.2L459.8 742.2L458.5 742.3L457.2 742.7L455.9 742.5L454.6 742.1L453.3 742.6L452 742.3L450.7 742.5L449.4 742.1L448.1 742.2L446.8 742.2L445.5 742.1L444.2 742.6L442.9 742.7L441.6 742.1L440.3 742.6L439 742.7L437.7 742.2L436.4 742.3L435.1 742.1L433.8 742.2L432.5 742.7L431.2 742.6L429.9 742L428.6 742.2L427.3 742.1L426 742.4L424.7 742.3L423.4 742.6L422.1 742.6L420.8 742.3L419.5 742.1L418.2 742.4L416.9 742.2L415.6 742.1L414.3 742.7L413 742L411.7 742.4L410.4 742.7Z" fill="#7e7e7e"/>
<path d="M452.5 733.9h0M411.4 743.5h0M432.4 734.5h0M449.2 742.6h0M414.2 734.3h0M411.9 742.4h0M440.2 742.9h0M434.9 734h0M432.6 734.8h0M454.9 734.3h0" stroke="#7e7e7e" stroke-width="2.8" stroke-linecap="round" fill="none" opacity="1"/>
<rect transform="translate(410.4 738.9)" x="0" y="-4.3" width="54.7" height="8.6" fill="url(#gG2)"/>
<path d="M424.3 730.2h0M453.9 707.3h0M428 721.8h0M433.6 723h0M419.5 726.7h0M457.8 727.7h0M457.5 710.7h0M458.4 717.1h0M426.6 722.6h0M437.2 731.4h0M452.4 723.2h0" stroke="#858585" stroke-width="3" stroke-linecap="round" fill="none" opacity="1"/>
<path d="M465.1 735.2L466.4 735L467.7 735.3L469 735L470.3 734.5L471.6 735.4L472.9 735.1L474.2 734.8L475.5 734.8L476.8 734.7L478.1 734.7L479.4 734.9L480.7 735.1L482 734.8L483.3 734.7L484.6 735.3L485.9 734.9L487.2 735.1L488.5 735.1L489.8 734.9L491.1 734.9L492.4 734.6L493.7 734.7L495 734.6L496.3 735.2L497.6 735.2L498.9 734.5L500.2 734.8L501.5 735.2L502.8 734.6L504.1 734.6L505.4 735L506.7 734.9L508 735L509.3 734.7L510.6 735.2L511.9 734.5L513.2 735.2L514.5 735L515.8 734.6L517.1 734.9L518.4 735L519.5 734.7L519.5 742.1L518.4 742.3L517.1 742.4L515.8 742.1L514.5 742.3L513.2 742.6L511.9 742.4L510.6 742.2L509.3 742L508 742.4L506.7 742.7L505.4 742.2L504.1 742.3L502.8 742.3L501.5 742.5L500.2 742.4L498.9 742.2L497.6 742.3L496.3 742.2L495 742.8L493.7 742.3L492.4 742.3L491.1 742.6L489.8 742.5L488.5 742.7L487.2 742.3L485.9 742.1L484.6 742.3L483.3 742.5L482 742.2L480.7 742.7L479.4 742.3L478.1 742.5L476.8 742.3L475.5 742.3L474.2 742.8L472.9 742.5L471.6 742.7L470.3 742.2L469 742.3L467.7 742.6L466.4 742.6L465.1 742.1Z" fill="#7e7e7e"/>
<path d="M485.7 742.8h0M484.4 743h0M469.3 742.5h0M498.4 734.4h0M494.3 734.5h0M482.5 734.8h0M487.1 742.5h0M479.6 742.9h0M481.1 742.8h0M513.4 734.4h0" stroke="#7e7e7e" stroke-width="2.8" stroke-linecap="round" fill="none" opacity="1"/>
<rect transform="translate(465.1 738.9)" x="0" y="-4.3" width="54.4" height="8.6" fill="url(#gG2)"/>
<path d="M515.5 732h0M472.7 729.9h0M492.3 716.2h0M510.2 718.6h0M473.4 726.7h0M466.7 722.6h0M496.9 720.6h0M483.5 719.1h0M469.5 718h0M483.2 718.2h0M485.8 711h0" stroke="#858585" stroke-width="3" stroke-linecap="round" fill="none" opacity="1"/>
<path d="M519.5 734.9L520.8 734.8L522.1 734.7L523.4 734.7L524.7 734.9L526 734.6L527.3 734.9L528.6 734.8L529.9 735.2L531.2 735.2L532.5 734.8L533.8 735L535.1 734.6L536.4 734.9L537.7 734.7L539 734.7L540.3 735.2L541.6 735.1L542.9 734.9L544.2 735.1L545.5 734.7L546.8 734.6L548.1 734.9L549.4 734.6L550.7 735L552 734.5L553.3 735L554.6 734.5L555.9 735L557.2 735.3L558.5 734.5L559.8 734.5L561.1 735.3L562.4 734.8L563.7 735.1L565 734.5L566.3 734.8L567.6 735.2L568.9 734.8L570.2 734.8L571.5 735.1L572.8 734.5L574.1 734.7L574.6 735.2L574.6 742.8L574.1 742.1L572.8 742.3L571.5 742.4L570.2 742L568.9 742.5L567.6 742.5L566.3 742.6L565 742.6L563.7 742.1L562.4 742.4L561.1 742.5L559.8 742.3L558.5 742.4L557.2 742L555.9 742.4L554.6 742.7L553.3 742.2L552 742L550.7 742.6L549.4 742.6L548.1 742.7L546.8 742L545.5 742.6L544.2 742.4L542.9 742.7L541.6 742.8L540.3 742.6L539 742.6L537.7 742L536.4 742.4L535.1 742.1L533.8 742L532.5 742.6L531.2 742.1L529.9 742.5L528.6 742.5L527.3 742.6L526 742.5L524.7 742L523.4 742.1L522.1 742.3L520.8 742.3L519.5 742.7Z" fill="#7e7e7e"/>
<path d="M521.1 742.7h0M530 742.4h0M553.9 734.6h0M556.2 734.4h0M542.9 742.5h0M521.1 733.6h0M541.9 742.9h0M572.3 742.7h0M543.8 734.6h0M559.5 734h0M538.9 742.4h0" stroke="#7e7e7e" stroke-width="2.8" stroke-linecap="round" fill="none" opacity="1"/>
<rect transform="translate(519.5 738.9)" x="0" y="-4.3" width="55.1" height="8.6" fill="url(#gG2)"/>
<path d="M567.8 717.6h0M563.7 712h0" stroke="#858585" stroke-width="3" stroke-linecap="round" fill="none" opacity="1"/>
<path d="M574.6 735.2L575.9 734.6L577.2 734.7L578.5 735L579.8 734.7L581.1 734.6L582.4 735.1L583.7 735L585 734.8L586.3 735.1L587.6 734.8L588.9 734.6L590.2 735L591.5 734.6L592.8 735.2L594.1 734.7L595.4 735.1L596.7 735L598 734.9L599.3 734.8L600.6 734.9L601.9 734.7L603.2 734.5L604.5 735.1L605.8 735.1L607.1 734.7L608.4 735.2L609.7 734.7L611 735.1L612.3 735.2L613.6 734.8L614.9 734.6L616.2 734.8L617.5 734.8L618.8 734.5L620.1 735.4L621.4 735.1L622.7 734.5L624 735L625.3 734.5L626.6 734.6L627.9 734.5L629.2 734.5L629.7 735.2L629.7 742.7L629.2 742L627.9 742.3L626.6 742.4L625.3 742.2L624 742.6L622.7 742.2L621.4 742.2L620.1 742.1L618.8 742.4L617.5 742.7L616.2 742.1L614.9 742.3L613.6 742.6L612.3 742.5L611 742.2L609.7 742L608.4 742.1L607.1 742.7L605.8 742.3L604.5 742.1L603.2 742.1L601.9 742.1L600.6 742.7L599.3 742.6L598 742.2L596.7 742.4L595.4 742.1L594.1 742.1L592.8 742.3L591.5 742.2L590.2 742.4L588.9 742.5L587.6 742.1L586.3 742.2L585 742.2L583.7 742.4L582.4 742.5L581.1 742L579.8 742L578.5 742.2L577.2 742.8L575.9 742.4L574.6 742.7Z" fill="#7e7e7e"/>
<path d="M576.1 742.4h0M619.5 743.2h0M614.8 742.5h0M590.5 733.8h0M623.8 734.7h0M587.4 733.9h0M575.8 743.4h0M625.2 734.1h0M597.2 734h0M578.6 733.7h0M609.9 734.4h0" stroke="#7e7e7e" stroke-width="2.8" stroke-linecap="round" fill="none" opacity="1"/>
<rect transform="translate(574.6 738.9)" x="0" y="-4.3" width="55.1" height="8.6" fill="url(#gG2)"/>
<path d="M598.3 732.1h0" stroke="#858585" stroke-width="3" stroke-linecap="round" fill="none" opacity="1"/>
<path d="M629.7 735L631 735L632.3 735.3L633.6 735.2L634.9 734.9L636.2 735L637.5 735.2L638.8 735L640.1 734.7L641.4 734.8L642.7 734.5L644 735L645.3 734.6L646.6 735.2L647.9 735.4L649.2 734.7L650.5 734.8L651.8 735L653.1 734.7L654.4 735L655.7 734.6L657 735.2L658.3 734.6L659.6 735.2L660.9 734.9L662.2 735L663.5 735.1L664.8 735.3L666.1 734.7L667.4 735.1L668.7 735L670 734.6L671.3 734.6L672.6 735.3L673.9 735L675.2 735.1L676.5 734.7L677.8 735.1L679.1 734.7L680.4 734.8L681.7 734.9L683 734.6L684.3 735.3L685.6 735.1L686.9 734.8L687.3 734.7L687.3 742.3L686.9 742.2L685.6 742.1L684.3 742.6L683 742.8L681.7 742.6L680.4 742.3L679.1 742.2L677.8 742.1L676.5 742.5L675.2 742.4L673.9 742.7L672.6 742.6L671.3 742.2L670 742.3L668.7 742.2L667.4 742.4L666.1 742.7L664.8 742.6L663.5 742.3L662.2 742.6L660.9 742.3L659.6 742.6L658.3 742.3L657 742.2L655.7 742.5L654.4 742.7L653.1 742.3L651.8 742L650.5 742.6L649.2 742.1L647.9 742.4L646.6 742.7L645.3 742L644 742.7L642.7 742.4L641.4 742.2L640.1 742.7L638.8 742.6L637.5 742.3L636.2 742.3L634.9 742.7L633.6 742.1L632.3 742.3L631 742.6L629.7 742.5Z" fill="#7e7e7e"/>
<path d="M664.1 734.8h0M652.5 742.6h0M668.8 734.8h0M658.2 734.8h0M681.5 742.5h0M653.7 734.6h0M652.7 733.8h0M649.9 743.5h0M676.9 742.4h0M634.2 733.4h0M681.4 734.2h0" stroke="#7e7e7e" stroke-width="2.8" stroke-linecap="round" fill="none" opacity="1"/>
<rect transform="translate(629.7 738.9)" x="0" y="-4.3" width="57.6" height="8.6" fill="url(#gG2)"/>
<path d="M650 714.4h0M637 730.6h0" stroke="#858585" stroke-width="3" stroke-linecap="round" fill="none" opacity="1"/>
<path d="M687.3 734.5L688.6 735L689.9 734.8L691.2 735.1L692.5 735.3L693.8 734.6L695.1 735.2L696.4 734.8L697.7 735.2L699 734.9L700.3 734.5L701.6 734.8L702.9 734.6L704.2 735L705.5 735.2L706.8 734.8L708.1 735L709.4 734.9L710.7 734.5L712 734.9L713.3 734.9L714.6 734.7L715.9 734.9L717.2 734.8L718.5 735L719.8 734.7L721.1 735L722.4 734.8L723.7 734.9L725 734.7L726.3 734.7L727.6 735.2L728.9 734.6L730.2 734.7L731.5 735.1L732.8 734.9L734.1 735.1L735.4 735.2L736.7 734.5L738 735.2L739.3 734.7L740.5 734.8L740.5 742.3L739.3 742.1L738 742.1L736.7 742.5L735.4 742.1L734.1 742.5L732.8 742.7L731.5 742.1L730.2 742.7L728.9 742.1L727.6 742.5L726.3 742.7L725 742.5L723.7 742.2L722.4 742.4L721.1 742.5L719.8 742.4L718.5 742.5L717.2 742.2L715.9 742.5L714.6 742.1L713.3 742.1L712 742.4L710.7 742.3L709.4 742.6L708.1 742.2L706.8 742L705.5 742L704.2 742.6L702.9 742.3L701.6 742.1L700.3 742.4L699 742.2L697.7 742.5L696.4 742.7L695.1 742.6L693.8 742.3L692.5 742.5L691.2 742.1L689.9 742.1L688.6 742.6L687.3 742.6Z" fill="#7e7e7e"/>
<path d="M714.3 734h0M714.6 734.1h0M708.2 743.9h0M704.3 734.6h0M722.1 734.8h0M725.3 734.9h0M704 742.7h0M729.2 734.7h0M733.1 734.3h0M722.7 742.8h0" stroke="#7e7e7e" stroke-width="2.8" stroke-linecap="round" fill="none" opacity="1"/>
<rect transform="translate(687.3 738.9)" x="0" y="-4.3" width="53.2" height="8.6" fill="url(#gG2)"/>
<path d="M705.9 723.8h0M705.2 728.1h0M710.8 732.8h0" stroke="#858585" stroke-width="3" stroke-linecap="round" fill="none" opacity="1"/>
<path d="M94 645.4L95.3 645.5L96.6 644.6L97.9 643.7L99.2 644L100.5 645.4L101.8 645.3L103.1 645.4L104.4 644.6L105.7 645.5L107 643.4L108.3 643.9L109.6 645.1L110.9 644.1L112.2 644.5L113.5 643.9L114.8 644.9L116.1 645.2L117.4 643.6L118.7 643.9L120 643.6L121.3 644.1L122.6 645L123.9 644.7L125.2 644L126.5 644.8L127.8 644.4L129.1 643.5L130.4 645.5L131.7 643.5L133 644.6L134.3 643.8L135.6 645.2L136.9 645.7L138.2 645L139.5 644.4L140.8 644L142.1 644.4L143.4 645.3L144.7 645.3L146 645.5L147.1 645.2L147.1 672.3L146 672.8L144.7 672.1L143.4 671.9L142.1 672.2L140.8 673.4L139.5 672.1L138.2 672L136.9 673.1L135.6 672.6L134.3 673L133 671.8L131.7 673.3L130.4 672.3L129.1 672.1L127.8 672.4L126.5 671.8L125.2 672L123.9 673.4L122.6 672.2L121.3 672.5L120 672.1L118.7 672.7L117.4 672.6L116.1 672.1L114.8 672.1L113.5 672.4L112.2 671.9L110.9 672.5L109.6 671.9L108.3 672.8L107 673.5L105.7 673L104.4 671.8L103.1 673.2L101.8 672.3L100.5 673.1L99.2 672.2L97.9 671.8L96.6 673.5L95.3 673L94 672.1Z" fill="#0568a8"/>
<path d="M100.8 641.9h0M102.8 672.9h0M126 644.9h0M120.9 643.7h0M103.5 643.4h0M139.5 643.8h0M142.3 644.1h0M114.5 672.5h0M95.4 674.1h0M131.4 641.9h0M128.8 641.9h0M131 644.7h0M114.8 672.4h0M124.1 643.3h0M145.8 673.2h0M134.1 674.1h0M145.2 644.8h0M124.2 673.1h0M97.4 672.7h0M132.3 643.5h0M119.5 673h0M95.3 643.2h0M134.6 672.3h0M96.8 672.8h0M119.2 672.8h0M145 673.7h0M97.1 644.2h0M108.6 644.8h0M131.5 673.9h0M105.3 640.9h0M111 642.1h0M122.9 642.5h0M126.7 674.3h0M132 644.5h0M98.3 644.5h0M143.4 642.5h0M120.4 644.2h0M100.7 641.9h0M109.8 645h0M117.2 672.8h0M103.2 644.4h0M123.9 672.8h0" stroke="#0568a8" stroke-width="2.8" stroke-linecap="round" fill="none" opacity="1"/>
<path d="M119.3 686.2h0M106.5 679.1h0M98.5 689.1h0M140 680.8h0M121.1 672.8h0M115.8 678.1h0M107.9 677.3h0M104.9 679.1h0M119.2 684h0M100.3 677.9h0M101.9 684.9h0M119.8 673.3h0M136.9 673.9h0M107.6 684h0M102.1 685.2h0M112.1 677.3h0M121.8 674.1h0M131.3 674.9h0M99.8 678h0M120.7 677.2h0M121.7 676.4h0M103.1 675.6h0M104.4 688.6h0M133.6 675h0M108.5 678.9h0M126.5 677.7h0M98.8 673.3h0M142.8 675.8h0M112.5 684h0M102.1 678.8h0M96.1 678.9h0M113.3 673.4h0M125.2 681h0M103.2 677.5h0M111.1 683.5h0M112.2 675.7h0M145.7 677.3h0M102.1 674.9h0M124.6 682.9h0M136.2 681.3h0M137.9 680.4h0M109.6 674.4h0M104.7 677h0M132.7 685.1h0M95.8 673.2h0M124.8 680.1h0M99.5 677.5h0M136.9 680.9h0M118.8 683.6h0M127.1 676.2h0M134.4 678.2h0M107.8 673.9h0M117.2 677.4h0M109.1 676.3h0M99.4 681.8h0M101.4 674.3h0M135.3 675.6h0M141 678.2h0M140.3 688.8h0M132 678.7h0M145.3 675.2h0M132.3 680h0M103.9 682.9h0M137 680.2h0M145.2 673.2h0M145.2 674.4h0M120.5 681.2h0M123 680.9h0M136 675h0M126.6 675.2h0M145.7 681.3h0M95.6 679.2h0M98.4 674.2h0M122.2 686h0M118.2 680.8h0M105.9 675.9h0M128.1 677.4h0M106.4 677.1h0M112.4 676.8h0M128.6 677.1h0M121.7 678.2h0M143.1 678.9h0M138.6 679.4h0M118.7 676.3h0M140.1 679h0M113 686.5h0M110 675.8h0M104.4 673.8h0M124.3 676.3h0M104.6 684.1h0M97.3 674.3h0M112.9 673.2h0M131.3 686.4h0M108.7 674.6h0M98.1 674.9h0M130 679.6h0M107.8 673.2h0M124.6 677.8h0M100.6 675.4h0M126.8 677.3h0M98.3 675.2h0M99.2 672.8h0M141.8 677.6h0M110.3 679.5h0M132.7 682.5h0M101.7 676.9h0M133.8 672.9h0M103.8 683.9h0M111.6 676.7h0M136.1 679h0M144.9 675.9h0M97.2 674.3h0M115.8 678.9h0M135.8 678.2h0M132.9 684.2h0M144.2 678h0M128.1 679.4h0M107.1 688.2h0M144.9 678.1h0M109 672.8h0M100.2 686.1h0M103.2 673.8h0M96.7 679.5h0M103.2 677.3h0M99.5 676.7h0M104.3 677.9h0M124.7 679.4h0M144.9 676.4h0M117.4 675.5h0M126.6 673.1h0M95.7 679.4h0M113.4 674.8h0M110.8 674.3h0M106.3 688.3h0M98.1 678.3h0M109.8 691.8h0M102.2 674.3h0M109.6 679h0M125.4 683.2h0M135.6 682.8h0M117.3 676h0M144.4 683.3h0M119.5 679h0M128 678.9h0M111.5 681.5h0M134.9 680.2h0M124 674.2h0M104.4 673.7h0M103.1 682.4h0M115.1 678.2h0M96.1 675.5h0M145.3 674.4h0M101.3 680.8h0M96.5 687.8h0M112.4 688.6h0M132.1 675.9h0M109.7 685.1h0M144.4 677.6h0M108.7 676.3h0M101 672.9h0M141.7 684h0M125.8 677.6h0M126.5 675.2h0M125.8 673.6h0M110.2 678.2h0M96.1 678.4h0M104.5 688.6h0M142.2 680.8h0M100.3 680.1h0M120.7 680.5h0M122.5 680.9h0M122.4 673.8h0M131.1 681.5h0M139.6 683h0M128.3 677.3h0M108.7 679.8h0M99.5 678.6h0M96.5 676.4h0M112.9 678.6h0M134.8 674.3h0M124 677.9h0M125 689.1h0M109.9 678.9h0M127.5 676.3h0M121.9 674.1h0M115.8 693.9h0M129.7 679.9h0M104.5 687.1h0M99.3 677.6h0M136.1 674.7h0M138 672.9h0M145.5 679.8h0M97.2 678.1h0M120.3 682.5h0M129.2 674.5h0M144.9 684.3h0M124.3 676.3h0M142 678.3h0M103.4 685.7h0M142.2 675.3h0M121.3 678.9h0M127.6 695.5h0M108.3 679.8h0M111.4 682h0M99.6 683.4h0M114.5 675.6h0M106.9 674.2h0M128.5 679.6h0M117.5 675h0M127.9 674.4h0M100.9 678.6h0M138.3 678.7h0M102 678h0M142.4 676.6h0M127.6 677.5h0M116.1 676.1h0M131.4 675.2h0M105.3 674.4h0M120.6 680.9h0M117.9 676.6h0M113.8 677.4h0M102.6 676.8h0M110.8 682.3h0M113.9 677.4h0M126.2 674.6h0M143.8 677.8h0M140.6 678.5h0M111.9 674.4h0M121.5 674.3h0M143.2 678.9h0M114.8 678.8h0M100.4 680.3h0M135.6 672.8h0M104.7 688.2h0M101.8 678.1h0M141.7 681.1h0M103.8 676.3h0M118.6 673.6h0M133.3 673.5h0M126 677.1h0M140.8 679.9h0M134.7 680.2h0M110.5 685.3h0M115.9 674.3h0M96.4 680.7h0M123.1 673.8h0M130.5 675.4h0M123.8 677.5h0M139.1 673.6h0M96.2 678.9h0M107.7 677h0M115.5 688.2h0M106.4 681.6h0M105.9 676.1h0M100.1 678.1h0M130.2 678.9h0M100.7 677.2h0M137.4 674.7h0M131.7 676h0M106.2 674.1h0M109.2 679.8h0M119.5 676.3h0M125.2 677.5h0M117.7 680.8h0M128.8 678.9h0M127.1 680.8h0M111.8 677.1h0M140.6 684.1h0M130.1 675.8h0M117.4 676.8h0M131.6 678.9h0M113.9 677.6h0M131.7 679.1h0M143.3 673.2h0M107.5 677.4h0M128.9 673.9h0M138.7 679.3h0M144.8 680.7h0M122.5 682.4h0M106.4 676.7h0M124 677.2h0M105.4 678.4h0M120.5 677.3h0M143.3 677.6h0M97.3 683.2h0M142.1 674.4h0M117.8 673.1h0M145.2 680.2h0M116.8 678.8h0M144.5 673.8h0M106.8 681.7h0M105.1 675.6h0M111.3 688.7h0M134.7 680.9h0M119.9 679.9h0M136.2 682.6h0M131 677.3h0M137.2 679.5h0M134 674.4h0M118.9 678.6h0M136.2 672.9h0M133.8 678.3h0M116.2 675.1h0M117.7 675.4h0M136.3 685.6h0M102.6 674.8h0M134.8 678.9h0M99.9 675.6h0M105.4 674.4h0M112.5 678.6h0M106 674.2h0M103.6 673.6h0M102.1 674.1h0M142.8 677.5h0M132.1 678.9h0M140.6 685.5h0M98.5 678.1h0M141.4 689h0" stroke="#0568a8" stroke-width="2.8" stroke-linecap="round" fill="none" opacity="1"/>
<rect transform="translate(94 660.5)" x="0" y="-11.4" width="53.1" height="22.8" fill="url(#gB)"/>
<path d="M145.5 689.2h0M100.5 694.9h0M128.9 679.2h0M145.8 697.6h0M98.3 686h0M123.4 679h0M116.7 698.6h0M128.8 677.6h0M136.7 680.9h0M104.9 685.7h0M101.3 684h0M138.4 678.8h0M114.6 692.1h0M143.6 680.6h0M122.3 681.3h0M97.5 679.8h0M123.7 679.5h0M103.8 685.5h0M104.6 679.2h0M105 697.6h0M105.5 686.4h0M107.9 689.4h0M141 690.6h0M96.2 698.5h0M141.9 704.1h0M102.2 701.6h0M125.5 680.1h0M133.7 692.9h0M113.1 677.6h0M132.1 682.8h0M97.4 690.5h0M96.4 700.1h0M113.1 698.5h0M118.5 681.1h0M101.1 683.6h0M96.5 694.7h0M100.1 681.5h0M122.8 678.1h0M123.3 681.1h0M143 678.4h0M138.8 682.3h0M125.2 678.5h0M130.5 695.3h0M123.1 677.7h0M133.4 700.6h0M127.8 678.2h0M114.1 686.9h0M104.3 677.7h0M131.6 695.6h0M115.7 682.9h0M125.6 694.9h0M121 682.5h0M138 686.9h0M140.2 698.6h0M137.1 686.7h0M127.8 685.8h0M132.6 697.8h0M121.6 682.9h0M100.8 685.4h0M133.5 703h0M140.4 680h0M98.1 677.6h0M101.7 698.4h0M140.3 677.8h0M119.6 691.1h0M110.7 692.9h0M136.2 689.5h0M113.1 678.2h0M128.3 681.1h0M124.7 688.8h0M143.7 697.5h0M114 677.9h0M95.4 680.7h0M118.5 679.2h0M142.9 700.3h0M103.7 678.3h0M125.8 703.2h0M101.4 702.4h0M108.8 680.3h0M102.2 679.8h0M117.2 681.7h0M131.6 679.3h0M139.5 678h0M129.3 677.6h0M118.1 684.3h0M100 679.1h0M105.2 688.8h0M121.7 701.4h0M131.9 690.6h0M139.1 678.2h0M99.9 703.3h0M126.1 678.1h0M136.8 689.9h0M135.8 699.8h0M133.3 699.2h0" stroke="#0568a8" stroke-width="2.7" stroke-linecap="round" fill="none" opacity="1"/>
<path d="M147.1 636.9L148.4 637.6L149.7 636.5L151 636.3L152.3 637.2L153.6 637.5L154.9 637.2L156.2 638.1L157.5 636.6L158.8 638.1L160.1 636.5L161.4 636.3L162.7 636.3L164 637.7L165.3 636.4L166.6 636.8L167.9 637L169.2 636.3L170.5 637.4L171.8 636.7L173.1 636.8L174.4 638.2L175.7 637.4L177 637.9L178.3 637.9L179.6 636.4L180.9 638.2L182.2 636.9L183.5 637.1L184.8 636.8L186.1 638L187.4 637.4L188.7 638.6L190 637.7L191.3 636.6L192.6 636.4L193.9 638.2L195.2 637.1L196.5 636.7L197.5 637L197.5 665.7L196.5 664.9L195.2 666.1L193.9 665.4L192.6 666L191.3 665L190 665.7L188.7 665.3L187.4 666.3L186.1 666.4L184.8 666.3L183.5 665.6L182.2 666.4L180.9 664.7L179.6 665.5L178.3 665L177 665.7L175.7 665.7L174.4 665.6L173.1 666.3L171.8 665.3L170.5 666.2L169.2 666.3L167.9 666.4L166.6 665.3L165.3 665.3L164 664.7L162.7 664.9L161.4 664.7L160.1 665.8L158.8 664.8L157.5 665.5L156.2 665.5L154.9 665.2L153.6 666L152.3 664.7L151 666L149.7 666.2L148.4 664.9L147.1 665.8Z" fill="#0568a8"/>
<path d="M192.5 666.1h0M161.6 637.1h0M153.4 665.5h0M177.2 636.1h0M150.1 637.5h0M152.6 636.7h0M181.4 633.8h0M174.3 667h0M153.5 636.9h0M184.9 634h0M149.2 665.1h0M171.3 637h0M189.5 636.5h0M188.9 634.2h0M192 665.4h0M152.4 665.2h0M173.6 635.4h0M195.6 635.3h0M180 666.2h0M177.4 635.6h0M177 665.7h0M193.5 665.4h0M155.3 632.1h0M161.9 637.4h0M174.1 637.9h0M160.4 636.5h0M180.1 635.7h0M161.8 637h0M148.2 634.1h0M165.5 636.2h0M192.4 636.8h0M165.9 635.2h0M180.5 665.7h0M168.3 635.3h0M166.1 636h0M186.2 636.6h0M177.4 666.2h0M160.1 636.1h0M149.2 635.9h0M170.1 637.4h0" stroke="#0568a8" stroke-width="2.8" stroke-linecap="round" fill="none" opacity="1"/>
<path d="M190.2 674.3h0M176.1 671h0M165.8 665.8h0M159.3 667.6h0M179.6 678.7h0M186.5 669.6h0M179.1 669.6h0M162.5 672.3h0M182.9 668.8h0M151.1 676.4h0M195.3 669.6h0M178.3 665.6h0M160.9 674.2h0M162.9 668.7h0M190.4 671.5h0M189.9 671h0M150.3 675h0M149 673.1h0M162.6 673.2h0M151.1 666.8h0M188.1 677.8h0M154.3 675.7h0M170.8 680.8h0M180.4 668.3h0M158.4 683.6h0M194.1 668.9h0M150.8 678.4h0M182.8 667h0M173.2 678.8h0M186.6 672.7h0M158.4 669.2h0M151.3 669.4h0M148.9 681.6h0M180.9 667.4h0M157.5 675.6h0M170.9 685.2h0M187.4 674.4h0M195.3 666.3h0M167.7 668.5h0M191 668.5h0M172.8 672.9h0M163.1 666.2h0M158.4 669.2h0M177 666.7h0M152.3 666h0M192.5 668.3h0M174 665.6h0M156 668.4h0M192.5 671.9h0M161.1 671.9h0M173.2 669.6h0M168 667.1h0M150.1 672.1h0M166.7 671.9h0M187.2 666.5h0M183.7 667.8h0M167.7 672.9h0M157.2 676.5h0M165.2 678.7h0M194 670.1h0M194.2 671.8h0M152.3 668.4h0M160.7 668.8h0M169 671.5h0M149.9 666.9h0M157.2 668h0M161.3 672.8h0M179.7 666.6h0M153.1 669h0M189.5 679.3h0M192.1 673.7h0M190.1 669.6h0M170.7 666.3h0M183.7 667.7h0M149.2 666.9h0M153.7 678.5h0M184.8 668.2h0M183.9 666.8h0M155.6 669.9h0M162.7 666.9h0M162.4 667.5h0M185.1 672.9h0M167.3 666.9h0M184 667.7h0M165.6 665.8h0M190.8 670h0M150.3 674h0M148.4 666.6h0M155.3 670.7h0M164.4 683.6h0M182.7 677.1h0M164 668.8h0M167 675.2h0M174.4 669.5h0M150.5 667.6h0M165.6 668.2h0M186.8 666.3h0M153.1 675.9h0M176.2 666.4h0M158 667.8h0M150.3 669.9h0M184.8 670.6h0M175.4 666.9h0M170.1 670h0M181.6 667h0M178.8 671.6h0M167 669.8h0M195.4 684.2h0M195.1 671.4h0M180.2 667.9h0M166.5 679.1h0M155.2 671.2h0M177.8 666.9h0M160.9 668.9h0M154.4 676.1h0M187.7 673.7h0M174.1 673.9h0M167.1 672h0M168 676.8h0M185.2 669h0M188.2 668.8h0M188.1 672.7h0M191.8 680.9h0M180.1 668.2h0M164.5 669.7h0M188 666h0M182.5 673.9h0M153.7 668.6h0M157.2 670.6h0M178.1 677.4h0M194.6 678.1h0M162.5 675.2h0M164.8 670.2h0M150.7 668.2h0M188.2 672.3h0M154.4 666.1h0M173 667h0M176 668.2h0M191.2 672.5h0M164.7 682h0M155.5 683.1h0M190.6 667.7h0M160.6 672.4h0M189.3 667h0M185.9 669.1h0M151.2 668.3h0M191.6 676.2h0M192.1 667.8h0M193 667.6h0M173.9 670.6h0M159.1 669.3h0M156.5 669.2h0M163.4 673.4h0M195.9 665.8h0M191.3 672.4h0M183.9 667.8h0M157.7 674.2h0M187.4 667h0M173.3 671.2h0M159.8 677.4h0M184.4 669.1h0M166.2 673h0M158.3 680.5h0M184 669.6h0M191.6 671.3h0M165.3 667.9h0M153.7 675.4h0M149.9 674.7h0M184.6 669.7h0M179.7 671.9h0M187 671.5h0M159.6 673.5h0M187.9 672.1h0M152 676.8h0M179.6 665.7h0M181.9 667.5h0M186.8 666.1h0M184.1 665.7h0M189.2 670.2h0M165.9 671.6h0M161.2 666.4h0M154.5 678.4h0M160.9 669.5h0M150.1 671.5h0M181.2 679.6h0M157.2 668.6h0M162.5 672.5h0M157.8 667.1h0M162.2 666.9h0M191 676.5h0M157.3 669.2h0M162.7 669.3h0M174 669.3h0M166.3 674.5h0M151.5 665.6h0M184.7 671.6h0M170.9 667.1h0M164 674.6h0M187.4 674.5h0M192 672.4h0M162 670h0M186.2 672h0M185.5 675.6h0M184 670.4h0M173.7 670.3h0M175.4 666.8h0M187.5 668.4h0M167.6 666.5h0M170.1 679.1h0M177.4 673.1h0M150.1 670h0M184.4 668.6h0M190.3 668.9h0M188 672.6h0M152.9 676.1h0M164.9 667.6h0M179.4 670.4h0M162.6 670.3h0M165.3 666.8h0M194.3 676.6h0M188.7 670.9h0M148.5 667.3h0M189.8 669h0M169.1 669.6h0M153.9 669.3h0M181.5 672.8h0M183.1 682h0M152.9 666.2h0M188.8 675.2h0M153 676.7h0M189.5 682.9h0M159 666.9h0M172.2 682.4h0M180.6 673.6h0M171.5 667.1h0M187.3 670h0M153.9 671h0M174.9 667h0M159.4 676.9h0M149.3 668.1h0M170.1 666.7h0M187.1 666.2h0M194.8 674.5h0M195.5 667.6h0M196.2 676.8h0M190.8 669.6h0M170.3 667.5h0M161.7 672.7h0M192.9 673.1h0M189.1 667.5h0M194.2 670.2h0M185.1 667h0M193.8 669h0M177.5 666.3h0M161.4 674.9h0M188.3 673.4h0M187.9 675.5h0M180.5 679.6h0M161.9 665.6h0M172.1 668.2h0M156.6 667h0M171.5 671.1h0M176.9 674.7h0M193.3 675.9h0M185.3 669.1h0M170.5 670.8h0M182 680h0M160.6 669.2h0M159.2 668.1h0M193 670.3h0M159.1 670.1h0M148.5 666.5h0M164 673.6h0M183 675.1h0M194.3 672.6h0M176.6 674.3h0M190.4 670.5h0M183.1 672.3h0M189.6 672.5h0M192.6 675.2h0M169.8 666.7h0M163.5 669.1h0M192.9 673.8h0M176.2 677h0M194.2 671.5h0M190 675h0M188.8 666.1h0M188.2 678.8h0M169.8 672.6h0M174.3 673.2h0M189.6 673.6h0M189.3 671.1h0M182.5 667.2h0M191.5 666.2h0M157.2 669.6h0M150.1 667h0M159.6 669h0M168 675.3h0M158 669.7h0M190.7 670h0M194.6 669.6h0M162 670.5h0" stroke="#0568a8" stroke-width="2.8" stroke-linecap="round" fill="none" opacity="1"/>
<rect transform="translate(147.1 653.3)" x="0" y="-11.4" width="50.4" height="22.8" fill="url(#gB)"/>
<path d="M154.3 677.8h0M191.1 684.3h0M152 681.7h0M191.2 690.4h0M192.4 674h0M154 684h0M156.8 676.8h0M150 679h0M148.9 670.6h0M189.5 675.9h0M161.1 693.8h0M179 688.7h0M191 690.1h0M166.3 685.6h0M184.2 680.3h0M150.7 675h0M167.8 692.7h0M195.9 682.6h0M181.2 670.5h0M193.4 702.5h0M152.4 703.5h0M177.1 691.7h0M190.4 672.1h0M179.9 681.3h0M157.1 671.6h0M166.1 690.6h0M179.1 672.8h0M192.7 672.1h0M191.7 671.1h0M180.8 702.9h0M189.5 680.5h0M178.2 677.1h0M190 670.5h0M174.1 676.9h0M173.7 681.3h0M150.5 702.9h0M187.7 676.1h0M194.8 694.1h0M185 686.3h0M178.5 686.6h0M151.2 671.2h0M181.8 676h0M166.8 696.8h0M157.9 673.9h0M159.9 677.1h0M174 702h0M192.1 674.9h0M195.1 670.5h0M193.3 671.5h0M183.1 694.5h0M157.7 688.2h0M152.2 674.3h0M186.5 682.7h0M162.5 670.5h0M167.3 674.9h0M175.9 693.7h0M190.3 675.8h0M176.9 689.5h0M173.6 675.8h0M151.3 688.8h0M150.3 681.9h0M176.6 698.8h0M179.7 686.5h0M162.4 674.4h0M150 696.8h0M172.1 671.9h0M173.2 689h0M164.2 670.5h0M178.8 700.9h0M179.6 670.7h0M154.3 686h0M151.1 701.9h0M172.3 673.7h0M169.3 677.4h0M184.9 694.3h0M186.4 671h0M160.9 673.4h0M171 693.3h0M186.1 679.8h0M156 675.5h0M185.7 682h0M169.4 689.9h0M152.1 672.6h0M156.1 676.4h0M157.3 670.7h0" stroke="#0568a8" stroke-width="2.7" stroke-linecap="round" fill="none" opacity="1"/>
<path d="M197.5 636.6L198.8 636.3L200.1 637.2L201.4 636.3L202.7 636.9L204 637.1L205.3 637L206.6 636.3L207.9 638.2L209.2 636.9L210.5 636.8L211.8 636.7L213.1 636.6L214.4 638.1L215.7 637.4L217 637.3L218.3 636.8L219.6 636L220.9 638.2L222.2 635.9L223.5 636.8L224.8 636.2L226.1 636.5L227.4 636.3L228.7 636.6L230 636.2L231.3 636.5L232.6 636.1L233.9 637.7L235.2 637.9L236.5 637.8L237.8 637.3L239.1 636.9L240.4 636.3L241.7 637.3L243 635.9L244.3 636.1L245.6 636.9L246.9 637.7L248.2 637L248.8 636.2L248.8 664.2L248.2 664.1L246.9 664L245.6 664.4L244.3 665.5L243 665.1L241.7 665.6L240.4 664.4L239.1 664.3L237.8 665.6L236.5 665L235.2 664.4L233.9 664.6L232.6 664.9L231.3 665.7L230 665.1L228.7 666L227.4 665.2L226.1 664.4L224.8 664.5L223.5 664.8L222.2 666.1L220.9 665.4L219.6 666L218.3 665.5L217 664.7L215.7 665.7L214.4 665.1L213.1 664.7L211.8 664.6L210.5 665.8L209.2 664.7L207.9 665.3L206.6 665.4L205.3 664.7L204 664.9L202.7 664.9L201.4 664.8L200.1 664.9L198.8 665.7L197.5 665.9Z" fill="#0568a8"/>
<path d="M204 665.4h0M202.7 666h0M245.6 666.2h0M237.3 637.1h0M204 666.6h0M235.8 664.8h0M213.5 636.7h0M199.6 635.1h0M202.7 636.2h0M236.1 665.9h0M205.9 636.7h0M235 634.9h0M235.8 636.4h0M235.7 635.7h0M219.7 637h0M244.2 636.8h0M207.2 636.1h0M211.9 665.2h0M222.8 635.1h0M233.9 666h0M240.6 665.2h0M212.1 665.5h0M222.8 665.3h0M204.2 666.4h0M238.5 636.6h0M227.1 665.6h0M231.2 635.2h0M207.5 665.4h0M241.9 665.5h0M199.8 666.7h0M245.4 634.7h0M224.8 637h0M207.4 665.7h0M198.7 635.5h0M217.2 665.5h0M234.1 636.6h0M234.8 635.6h0M226.6 635.7h0M208.4 637.7h0M242.4 635.8h0M225.4 665.4h0" stroke="#0568a8" stroke-width="2.8" stroke-linecap="round" fill="none" opacity="1"/>
<path d="M210.7 672.3h0M243.1 675.9h0M204.6 668.4h0M199.4 667.4h0M204.6 674.8h0M240.2 668.7h0M236.8 665.8h0M242.2 682.9h0M209.7 675.6h0M221.7 669.1h0M239.3 668h0M215.2 665.9h0M247.5 666h0M223 676.2h0M229.3 671.5h0M216.1 667.4h0M239.7 672.2h0M203.9 678.2h0M238.8 666.5h0M234 670.8h0M231.2 667.8h0M228 666.2h0M210.1 678.9h0M214.3 676h0M245 669h0M219.6 670h0M220.1 674.9h0M210.5 670.6h0M236.3 678.7h0M222.3 670h0M229.5 670.4h0M237.2 666.6h0M224.3 670.2h0M246.9 665.8h0M210.2 678.7h0M218.8 672.1h0M208.2 682.1h0M207.7 672.3h0M236.2 675.2h0M228.7 665.9h0M244.6 670h0M227.5 681h0M243.1 665.9h0M226.6 673.4h0M242.3 675.2h0M209.9 672.2h0M216.8 667.5h0M233.2 666.1h0M247.4 668.2h0M213.3 677.3h0M202.2 666.3h0M219.1 668.1h0M230.9 667h0M199.5 672.9h0M223.1 670.2h0M230.7 672h0M225.3 675.5h0M203.1 674.4h0M241.1 674.3h0M237.3 667.8h0M228.7 672.6h0M234.8 665.7h0M239.8 671.8h0M214.3 676.5h0M230.2 683.8h0M234.4 677.1h0M244.3 672.6h0M215.7 666.2h0M206.8 673.5h0M203.9 667.2h0M226.2 667.5h0M230.1 667.3h0M232.8 667.5h0M243.7 670.2h0M222.1 673.5h0M224.3 670.5h0M238 673.9h0M200.5 672.7h0M221.8 673.1h0M238.8 668.2h0M247 667.6h0M236 672.6h0M228 666.3h0M224.1 671.2h0M230.1 668.2h0M211.9 679.5h0M211.8 666.4h0M206.2 670.6h0M210.1 666.7h0M201.2 669.7h0M214.6 669.3h0M243.1 674.1h0M246.2 666h0M235.1 669.8h0M216.5 674.8h0M221.9 666.2h0M246.8 674.2h0M220.1 668.3h0M205.7 679.1h0M246.2 665.4h0M226.2 665.6h0M230.2 680.2h0M232.3 672.8h0M240.2 665h0M247 670.2h0M200.5 675.7h0M203.9 677.4h0M220.3 674.4h0M207.5 668.8h0M223.1 667.4h0M231.2 691h0M242.9 676.8h0M233.6 666.7h0M236.4 669.3h0M232.4 671.6h0M207.2 669.5h0M225.9 665.4h0M232.3 668.7h0M221 671.8h0M202.8 665.8h0M209.2 670.6h0M219.2 671.3h0M225.6 667h0M222.3 674.7h0M208.5 671.5h0M230.1 667.2h0M225.9 673.4h0M227.7 669.8h0M199.9 669.1h0M217.6 666.6h0M225.9 667.8h0M227.9 678h0M245.9 674.2h0M219.4 669.5h0M201.1 678.8h0M242.6 669.9h0M247.3 669.5h0M230.9 667.1h0M225.3 668.5h0M216 665.7h0M238.9 665.2h0M202.4 667.1h0M239.3 667.1h0M201.6 674.4h0M199.3 667.3h0M237.2 675.1h0M234.9 671.1h0M225.8 666.1h0M237.5 669.4h0M226.4 670.1h0M226 672.1h0M231.2 672.6h0M233 667.7h0M219.7 665.4h0M217.3 673.5h0M202 672.7h0M208.4 666.6h0M206.3 686.9h0M247.5 665.3h0M240.9 672.1h0M231.7 668.7h0M199.5 665.8h0M234.8 670.1h0M205.4 669.6h0M200.9 666.2h0M240.2 669h0M204.2 668.5h0M220.3 666.7h0M230.8 668.8h0M215.6 671.9h0M246.1 669.9h0M231.5 668.8h0M200.3 677.5h0M239.4 667.5h0M201 672.4h0M199 669.2h0M214.8 672.4h0M199.9 675.4h0M239.3 668.1h0M207 677.7h0M230.1 669.7h0M244.9 664.9h0M207.8 666h0M222 665.5h0M210.9 665.5h0M212.7 670h0M222.7 672.2h0M229 680.1h0M218.2 673.9h0M224.9 676.2h0M209.6 668h0M233.4 672.3h0M219.4 668.7h0M231.9 668.2h0M223 672.1h0M201.2 669.6h0M215.7 668.4h0M199.6 674.9h0M226.3 674h0M240.5 667.3h0M222.8 665.7h0M238.7 674.1h0M243.2 667.6h0M217.1 677h0M221.1 670.1h0M216.4 670.1h0M225.5 669.2h0M224 667.6h0M221.5 669h0M203.6 673.6h0M237.4 681.8h0M205 667.1h0M203.2 672.2h0M239.7 669.7h0M235.1 671.4h0M237.3 672.6h0M202.2 669.5h0M230.1 676.7h0M199.8 670h0M208.3 665.8h0M239 673.9h0M246.8 673.6h0M203.8 674.7h0M215.8 674.6h0M237.9 669.1h0M217.5 669h0M247 666.8h0M199.2 667.8h0M233 678.1h0M211.2 673.6h0M210.1 672.1h0M199.9 668.7h0M201 673.1h0M204.2 676.3h0M222.3 666.4h0M224.5 670.4h0M216.2 668h0M199.9 672.4h0M204.2 679.6h0M213.8 666.8h0M234.6 680.7h0M230.2 667.3h0M199.6 673.5h0M207.3 668.1h0M238.3 685.5h0M224.6 666.2h0M244.5 671.8h0M215.6 666.6h0M199 668.2h0M238 672.1h0M239.2 666.5h0M232.2 674h0M201 671.4h0M229.7 671.1h0M205.5 668.5h0M209.8 676.7h0M216.7 667.7h0M200.1 665.6h0M207.1 666.2h0M219.9 670h0M217.8 668.3h0M218.2 681.1h0M241.1 675.2h0M205.9 676h0M221 672.8h0M231.6 665.9h0M211.8 667.2h0M247.3 674h0M221 667.4h0M229.3 675.7h0M228.6 669.2h0M211.4 667h0M240.4 675h0M245.3 665.9h0M239.4 667.2h0M219.9 667h0M229.4 670.3h0M241.5 681h0M228.7 667.3h0M204.3 668.2h0M239 666.3h0M217.1 678.3h0M236 667.8h0M216.9 674.4h0M235.4 677.2h0M212.3 672h0M209.8 666.7h0M239.1 668.3h0M204.5 669.7h0M232.3 673.7h0M225.4 668h0M229.2 665.2h0M202.3 668.1h0M241.3 671.9h0M246 674.9h0M242.7 668.6h0M205.8 675.3h0M243.2 668.9h0M238.1 665.2h0M228.5 667.8h0M235.7 684.7h0M236 669.1h0M220.8 672.1h0M210.3 665.7h0M243.2 677h0M229.6 675h0M206.5 665.8h0" stroke="#0568a8" stroke-width="2.8" stroke-linecap="round" fill="none" opacity="1"/>
<rect transform="translate(197.5 653.3) skewY(-0.80)" x="0" y="-11.4" width="51.3" height="22.8" fill="url(#gB)"/>
<path d="M239.2 670.9h0M205.8 675.8h0M209.9 676.2h0M245.2 685.5h0M213.4 691.6h0M230.6 678.5h0M231.6 689.7h0M225 683.4h0M218.9 697.5h0M234.7 678.4h0M202 670.5h0M219.3 703.6h0M209.6 700.8h0M223 670.9h0M207 670.5h0M207.4 703.4h0M247.3 671.7h0M201.3 680.2h0M240.4 697.6h0M208.3 690h0M224.2 671.5h0M211.9 685.6h0M233.7 675.6h0M208.6 677.6h0M227.4 698.4h0M215.4 690.4h0M212.7 698.4h0M228.1 680.2h0M238.7 689.1h0M238.7 702.3h0M236.9 685.8h0M229.2 674h0M205.7 702.7h0M224.7 672.9h0M209.8 688h0M240.4 674.8h0M234.5 670.5h0M232.1 684.3h0M199.1 670.8h0M246 698h0M203.5 697.6h0M206.4 691.9h0M245.7 693.2h0M229 673h0M209.7 673.7h0M235.1 670.9h0M246.3 670.6h0M232.4 674.7h0M208.3 675.3h0M220.3 688.4h0M199.9 677h0M246.6 692.1h0M226.9 672.4h0M225.6 670.7h0M239.5 678.6h0M199.9 687.8h0M242.4 684.1h0M204.7 676.7h0M217.5 678.1h0M199.2 672.1h0M218.3 698.4h0M229.1 671.2h0M207.2 704.5h0M226.1 698.9h0M214.5 681.6h0M223.1 671.7h0M230.8 671h0M236.7 682.8h0M240.1 698h0M222.4 689.3h0M228.9 698h0M234.6 670.9h0M202.9 674.2h0M206.5 690.1h0M237.4 687.6h0M228.2 690.6h0M222.3 671.1h0M245.7 677.8h0M208.6 675.2h0M204.8 671.2h0M202.3 702.5h0M199.3 672.8h0M245.5 670.5h0M238 694.7h0M240.4 682h0" stroke="#0568a8" stroke-width="2.7" stroke-linecap="round" fill="none" opacity="1"/>
<path d="M248.8 635.8L250.1 635.1L251.4 636.5L252.7 636.5L254 636L255.3 634.9L256.6 637L257.9 635.5L259.2 636.2L260.5 635.1L261.8 636.2L263.1 635.7L264.4 635.4L265.7 636L267 635.3L268.3 637.1L269.6 635.4L270.9 635.8L272.2 635.9L273.5 636.7L274.8 634.9L276.1 636.4L277.4 637.1L278.7 634.8L280 636.3L281.3 635L282.6 635.7L283.9 634.9L285.2 635L286.5 636L287.8 635.7L289.1 636.3L290.4 634.9L291.7 635.2L293 634.8L294.3 637L295.6 634.9L296.9 635.8L298.2 635L299.5 636.9L299.7 636L299.7 664.6L299.5 664.4L298.2 664.8L296.9 664.2L295.6 664.3L294.3 664.9L293 663.6L291.7 663.2L290.4 663.7L289.1 663.2L287.8 663.4L286.5 663.5L285.2 664L283.9 664.7L282.6 663.7L281.3 664L280 663.2L278.7 663.3L277.4 664.4L276.1 663.8L274.8 664L273.5 663.8L272.2 664.6L270.9 664.3L269.6 663.2L268.3 664.6L267 664.4L265.7 663.6L264.4 664.4L263.1 664.8L261.8 664.8L260.5 663.2L259.2 664.2L257.9 664.1L256.6 664.5L255.3 664.6L254 664.7L252.7 663.7L251.4 663.3L250.1 664L248.8 664.7Z" fill="#0568a8"/>
<path d="M297.6 663.8h0M274 634.1h0M286.2 664.9h0M265.9 633.8h0M269.2 665.5h0M289.6 634h0M259.9 633.4h0M286.8 635.9h0M266.6 635.2h0M291.8 664.2h0M269.9 664.6h0M267.9 636.4h0M275.7 663.7h0M274 663.8h0M274.8 632.5h0M266.8 664.5h0M294.4 665h0M255 664.7h0M271.4 634.3h0M257.2 664.3h0M287.9 635.3h0M278 664.7h0M259.2 664.7h0M290.8 634.4h0M290.4 664.8h0M255.3 664.6h0M284.6 663.9h0M283 664.2h0M251 636.3h0M294.7 634.7h0M293.8 664.3h0M275.7 635.3h0M280.7 634.6h0M295.1 664h0M290.6 632.4h0M265.1 634h0M262.2 635h0M281.5 635.3h0M273.6 635.4h0M276.5 664.9h0" stroke="#0568a8" stroke-width="2.8" stroke-linecap="round" fill="none" opacity="1"/>
<path d="M254.8 666.2h0M293.2 674.3h0M266 668.1h0M251.2 670h0M280.1 675.4h0M275.1 668.2h0M259.8 665.8h0M262.4 674.8h0M258 668.1h0M279.9 667.6h0M282.3 667.4h0M266.5 677.9h0M293.6 667h0M266.6 683.4h0M250.3 665.1h0M287 670.2h0M260.7 670.1h0M274.8 675.5h0M258.2 672.8h0M279.3 676.5h0M267 674.4h0M269.2 670.1h0M283.4 678.8h0M293.4 664.3h0M285.4 667.7h0M258.8 667.6h0M278 667.4h0M258.9 666.8h0M274.2 683.6h0M275.7 670.1h0M273.4 668h0M294.3 665.7h0M275.6 678.3h0M256 666.4h0M251.9 671.6h0M258.8 676.9h0M270.5 670.5h0M277.5 669.7h0M288 673.2h0M253 667.9h0M273.1 672.2h0M290.3 666.7h0M274.8 672.8h0M259.2 674.1h0M279.1 665.7h0M251.7 666.3h0M279 672.6h0M266.4 664.3h0M270.4 666.5h0M292.3 680.1h0M251.7 664.6h0M277.8 669.2h0M258.5 665.7h0M258.9 671.7h0M289.2 672h0M265.4 667.7h0M295.3 672.3h0M291.3 672.6h0M294.3 670.8h0M264.4 673.5h0M291.9 665h0M270.4 668h0M286.8 665.4h0M271.9 674.7h0M269.5 668.4h0M289.1 666.2h0M272.3 672h0M276.5 671.7h0M252.7 666h0M279.8 678.6h0M270.7 667.4h0M264.4 668.3h0M259.8 667.4h0M281.8 682.8h0M255 667.9h0M281.6 668.6h0M271.9 672.5h0M273 668.7h0M292.3 673h0M255.1 667.7h0M274.8 665.8h0M250.7 669.1h0M281.4 664.7h0M291.8 668.5h0M260.2 666.5h0M272.9 666.7h0M271.5 665.7h0M289.9 672.8h0M259.2 666.5h0M263.2 673.9h0M257.4 666.9h0M298.4 665.4h0M268.6 667.5h0M253.2 678.4h0M279.1 679.8h0M276.2 666.7h0M273 667h0M272.5 666.7h0M271.7 680.3h0M296.8 667.2h0M288.2 667.1h0M258.8 666h0M266.8 672.1h0M280.5 676.6h0M287.3 672.3h0M276.8 673.4h0M269 665.5h0M253.7 665.2h0M272.2 668h0M289.6 667h0M267.4 664.8h0M288.7 666.1h0M294.9 677.4h0M275.3 670.3h0M263.5 665.1h0M292.3 680.4h0M253.3 676.7h0M255.2 677.5h0M282.3 681.5h0M271.4 670.5h0M282.7 664.5h0M251.1 666.1h0M292 673.4h0M253.1 674h0M267.3 667.9h0M288.1 670.7h0M295.4 664.6h0M275.7 666.1h0M262.4 674.8h0M277.2 666.5h0M264.1 664.8h0M298.4 679.1h0M266.1 670.1h0M252 678.8h0M264.1 669.6h0M269.5 665.5h0M260 667h0M274.6 675.3h0M272.8 678.6h0M259.1 676h0M294.4 669h0M266.3 673.5h0M294.6 665.5h0M290.4 665.5h0M283.1 672.1h0M284.7 667.3h0M298.1 675.9h0M255.2 673.4h0M253.3 666.6h0M257.8 669.7h0M269.6 674.9h0M289.4 677.8h0M254.2 666.9h0M266.1 670.1h0M264.2 667.6h0M256.1 672.7h0M280.6 665.1h0M251.3 665.7h0M258.3 664.7h0M260.8 669.8h0M267.9 676.4h0M255.5 668.4h0M294.7 670.6h0M274.7 665.3h0M251.7 672h0M259.4 669.4h0M258.3 670.6h0M295.7 666.3h0M289.2 671.5h0M267 671.1h0M293.7 665.9h0M278.6 683.8h0M257.2 665h0M264.7 668.1h0M295.3 664.7h0M291 675.6h0M252.8 674.4h0M264.9 668.9h0M296.2 670.9h0M259.6 667.9h0M284.1 665.9h0M262.1 675.3h0M263.7 677.7h0M254.1 665h0M273.8 677h0M282.3 667.8h0M270.7 672.3h0M252.9 676.2h0M279.5 665h0M259 665.6h0M262.8 672.9h0M290.6 672.4h0M278.1 676h0M292.5 664.4h0M264.8 666.3h0M270.5 673.9h0M268.5 673.2h0M289.7 668.3h0M254.2 674.8h0M275.1 675h0M251.7 673.7h0M264.8 666h0M254.5 665.7h0M281.6 669.3h0M268 666.5h0M251.7 664.8h0M296.6 671.3h0M277.5 668.5h0M278.1 667.5h0M277.2 670.5h0M280 665.6h0M255.6 665h0M250.2 664.3h0M271 664.3h0M276.7 666.1h0M289.4 677.4h0M272.6 671.1h0M272.3 667.8h0M294 677.2h0M271.7 664.7h0M272.3 666.7h0M258 664.8h0M273.8 667.4h0M267.5 665.9h0M255.7 666.6h0M251.3 670.9h0M282.2 674.8h0M284.2 672.9h0M265.7 673h0M271.2 679.1h0M286.5 675.2h0M268.7 667.5h0M257.2 664.3h0M250.7 664.9h0M277.6 666.6h0M265 667.6h0M290.9 666.2h0M261.9 675h0M283.6 669.3h0M281.4 672h0M256.8 676.1h0M286.2 670.8h0M263.9 675.3h0M264 667.1h0M259.4 669.2h0M281.9 682.1h0M259.1 671.3h0M284.3 671.2h0M254.9 670.8h0M288.9 665.9h0M287.1 673.1h0M265.1 666.8h0M250.2 671.1h0M283.4 666.5h0M296.3 670.3h0M286.8 679.5h0M260.2 677.5h0M263.5 673.8h0M286.4 672h0M277.1 672h0M287.8 667.5h0M285.5 668h0M281.2 671.7h0M295.3 677.6h0M255.1 677.2h0M266.4 674.6h0M259.6 664.4h0M251.6 668.5h0M254.5 668.3h0M258.2 664.7h0M267.3 668.4h0M296.5 672.2h0M292.2 671.5h0M266.3 676.1h0M295.4 673.1h0M292.3 678.6h0M287.7 671h0M266.6 666.7h0M269.5 670h0M294.2 676.9h0M288.8 672.1h0M275.9 673h0M288.8 676.9h0M260.4 668.1h0M276.4 674.1h0M275.3 667.6h0M285.6 669.2h0M254.3 665h0M258.1 665h0M272.6 671.1h0M297.1 669.9h0M293.1 672.8h0M278.3 665.3h0M273.8 664.7h0M288.2 669.6h0M268 670.3h0M283.3 675.3h0M284.9 674.2h0M286.7 665.7h0M271.9 665h0M297.5 666.5h0M283.1 672.3h0M260.1 669h0M284.7 676.6h0M289.9 678.3h0" stroke="#0568a8" stroke-width="2.8" stroke-linecap="round" fill="none" opacity="1"/>
<rect transform="translate(248.8 651.9)" x="0" y="-11.4" width="50.9" height="22.8" fill="url(#gB)"/>
<path d="M262.6 684.4h0M283.9 685.6h0M285.7 669.4h0M292.7 671.2h0M283 678.9h0M279.6 669.8h0M283.2 669h0M278.8 682.9h0M288.9 680h0M272.9 687.5h0M256.2 685.8h0M267.6 699.5h0M269.9 670.4h0M284.7 669.2h0M260 702.1h0M258.4 690.3h0M258.4 693.4h0M264.8 680.2h0M254.7 669.5h0M265.1 701.5h0M277.6 688.9h0M262.3 677.9h0M264.4 683.5h0M267.5 669h0M277.9 673.5h0M278.5 674.1h0M286.3 704h0M277 681.7h0M264.6 694.2h0M264.8 682.8h0M261.1 686.1h0M296.8 676.3h0M297.4 676.7h0M273 692.1h0M252.3 669.5h0M250.2 671.8h0M289.1 685.5h0M262.8 685.1h0M270.6 692h0M278.5 673.2h0M263.1 673.3h0M257.3 689h0M284.7 672.3h0M267.5 683.4h0M292.7 673.2h0M273.6 670.1h0M286.2 695.5h0M272.5 669h0M251.8 669.3h0M295 696h0M258.8 688.8h0M284.9 696.2h0M284 691.7h0M287.8 693h0M257.3 671h0M250 680.7h0M270.4 681.8h0M252.6 691.5h0M278.7 687h0M297.7 676.5h0M254.2 683h0M268.6 691.3h0M265.6 683.9h0M283.9 702h0M281.9 689.9h0M278.1 673.5h0M265.4 669.3h0M254.5 693.5h0M283.8 698.7h0M290.8 675.9h0M283.8 673.4h0M261.4 676.4h0M279.5 671.5h0M294.8 678h0M296.8 684h0M283.9 696.6h0M285.6 688.8h0M289.8 691.4h0M264.1 695.2h0M285.9 675h0M260.7 699h0M267.7 695.6h0M296.3 678.3h0M289.6 703.1h0M287.7 677h0" stroke="#0568a8" stroke-width="2.7" stroke-linecap="round" fill="none" opacity="1"/>
<path d="M299.7 640.2L301 640L302.3 641.3L303.6 641.6L304.9 641.8L306.2 641.6L307.5 640.6L308.8 640.2L310.1 640.3L311.4 640.8L312.7 640.3L314 640.5L315.3 642.3L316.6 641.7L317.9 642.3L319.2 642.4L320.5 641.1L321.8 642L323.1 641.7L324.4 641.7L325.7 642.4L327 643.1L328.3 641.5L329.6 642.3L330.9 641.3L332.2 641.6L333.5 643L334.8 642.7L336.1 641.6L337.4 641.8L338.7 643.2L340 643.6L341.3 643.5L342.6 642.1L343.9 643.3L345.2 643.6L346.5 643.5L347.8 643L349.1 643.1L350.4 643.8L351.7 643L353 642.5L354.3 643.3L355.6 644.2L356.7 644L356.7 660.8L355.6 660.8L354.3 660.5L353 662L351.7 662.2L350.4 661.5L349.1 660.8L347.8 660.7L346.5 661.5L345.2 661.6L343.9 660.2L342.6 660.4L341.3 660.5L340 661.5L338.7 661.2L337.4 660.7L336.1 660.2L334.8 659.5L333.5 659.7L332.2 660.9L330.9 660.3L329.6 660L328.3 659.5L327 659.5L325.7 660.4L324.4 659.5L323.1 659.8L321.8 660.3L320.5 659L319.2 660.2L317.9 660.3L316.6 659.7L315.3 658.8L314 659.6L312.7 659.5L311.4 659.1L310.1 659.6L308.8 659.2L307.5 658.8L306.2 659L304.9 658.6L303.6 659.6L302.3 658L301 658.3L299.7 659.3Z" fill="#0568a8"/>
<path d="M328.5 641.6h0M324.4 660.2h0M315.6 639.5h0M303.9 638h0M312.5 639.4h0M319.2 641.3h0M346.6 641.8h0M301.2 639.9h0M328.3 639.1h0M333.3 641.9h0M311.2 640.5h0M317.9 641.1h0M304.5 640.6h0M329.9 660.2h0M337.8 641.9h0M347.1 641.6h0M309.6 640.1h0M352.7 661.5h0M331.4 638.9h0M342.2 641.5h0M348.3 642.9h0M334.2 660.6h0M335.5 661h0M307 659.4h0M338.4 641.9h0M330.6 660.9h0M352.6 661.8h0M310.6 640h0M306.8 639.2h0M352.7 662.1h0M327.2 642.1h0M310.5 640.6h0M321 659.9h0M343.6 641.6h0M307.9 640.9h0M329.1 642.1h0M348 642.6h0M331.1 641.2h0M304.7 659.3h0M323.8 660.3h0M312.3 659.3h0M348.3 642.3h0M305.7 659.8h0M339.2 641.8h0M311.8 641.3h0" stroke="#0568a8" stroke-width="2.8" stroke-linecap="round" fill="none" opacity="1"/>
<path d="M304.6 665.4h0M320.3 660.8h0M330 663.7h0M313.2 663.3h0M347.7 665.8h0M309.2 661.2h0M317.3 659.9h0M331 667.3h0M346.9 661.2h0M354.7 667.9h0M342.1 664.7h0M348.5 663.6h0M315.4 661.1h0M311.6 659.4h0M306.3 662h0M354.5 663.1h0M303.1 663.6h0M332.4 664.1h0M312.8 663.9h0M322.8 661.6h0M323.1 665.9h0M349.6 666.9h0M309.6 660.5h0M347.7 662.5h0M304.1 674.2h0M325.1 663.2h0M321.6 661.8h0M303.1 664.4h0M305.2 659.3h0M325.9 660.1h0M304.7 660.2h0M337.3 661.3h0M343.8 664.2h0M307.1 668.6h0M337 660.8h0M313.3 660.5h0M346.4 664.7h0M347.9 664.2h0M318.9 664.6h0M336.2 666.8h0M308.8 667.3h0M339.8 660.9h0M339.7 663.8h0M311.3 660.5h0M310.9 660.9h0M339.8 665.8h0M310.6 659.6h0M345.6 664h0M349.4 667.3h0M308.5 659.9h0M308.8 660.7h0M308.8 670.1h0M331.7 664.9h0M327 663.2h0M348.8 673.3h0M338.2 663.5h0M321.2 659.8h0M313.7 661.1h0M329.8 665.4h0M305.2 660.7h0M337.6 665.7h0M301.2 659.8h0M349.4 668.8h0M316.3 660.5h0M326.8 665.5h0M309.1 664.1h0M341.4 661.1h0M316.9 667.3h0M313.8 660.1h0M340.8 660.9h0M349.9 668.2h0M314.8 661.6h0M309.3 661.4h0M335.3 667.9h0M319.3 663.3h0M339.5 666.4h0M348.1 661.7h0M346.9 664.9h0M330.1 664.4h0M341.5 663.8h0M348.4 662.9h0M332.8 663.6h0M339.9 666.7h0M327.5 661h0M321.2 662h0M330.2 660.8h0M318 659.8h0M353 663.9h0M310.5 668.8h0M322 669.6h0M333.7 661.5h0M330.4 665.5h0M349.1 662.4h0M334.7 668h0M331.2 661.2h0M318 663.8h0M321 664.7h0M314.5 660.5h0M331.1 664.2h0M327.7 667h0M301.2 660.8h0M343.7 662.6h0M343.2 664.3h0M337.8 671.4h0M351 672.3h0M318.5 660.2h0M352.7 662.7h0M325.7 661.8h0M354.2 663.8h0M343.7 661.6h0M352 663.7h0M337.2 662.8h0M317.9 666.1h0M303.9 669.1h0M342.1 666.4h0M322.7 660.1h0M301 659.9h0M313.3 669h0M318.3 664.5h0M307.8 661.8h0M350.8 663.7h0M329.3 664.7h0M322.5 664h0M320.2 663.2h0M309.3 662.4h0M313.2 663.2h0M323.7 661.1h0M311.4 663.4h0M354.8 662.5h0M345.6 667h0M318 663.5h0M328 663.6h0M347.1 662.6h0M335.8 661.7h0M346.4 661.3h0M348.6 662.8h0M330 664.2h0M341.8 662.2h0M325.4 666h0M305.6 663.2h0M351.4 671.7h0M352.3 668.2h0M346.5 664.1h0M306.5 664.1h0M331.3 664.1h0M319.7 665.4h0M302.1 660.7h0M346.6 667.7h0" stroke="#0568a8" stroke-width="2.8" stroke-linecap="round" fill="none" opacity="1"/>
<path d="M346.9 694.6h0M334.6 664.7h0M301.5 688.8h0M314.9 663.7h0M347.9 679.5h0M312.6 673.5h0M333.1 668.9h0M344.4 685.5h0M310.5 675.7h0M311.3 698.8h0M333.2 703.4h0M352.8 661.9h0M346.5 697h0M316.4 689.2h0M314.3 675.2h0M326.1 698.2h0M350.7 668.8h0M333.9 680.8h0M314.3 677h0M317.4 689.8h0M327.3 699h0M335.7 664.1h0M347.7 688h0M351.9 690.6h0M321.7 697.4h0M344.1 681.8h0M333.8 669.1h0M315.1 696.3h0M351.8 698.2h0M341.2 661.9h0M321.1 663.9h0M324.2 678.9h0M348.5 683.2h0M322.4 668.8h0M347 694.5h0M321 663.6h0M330.5 672.7h0M331 685.5h0M337.8 680.8h0M354.3 683.5h0M333.7 678.7h0M355.4 673.9h0M302.9 693.9h0M351.7 680.6h0M342.6 689h0M324.9 665.1h0M306.1 698h0M348.4 692.6h0M337.3 683.9h0M347.6 672.3h0M325.5 670.7h0M308.6 682.1h0M328.4 695.6h0M347.9 663h0M303.8 694.5h0M342.6 670.2h0M311 695.2h0M304.1 665.3h0M330.5 694.8h0M329.4 667.8h0" stroke="#0568a8" stroke-width="2.7" stroke-linecap="round" fill="none" opacity="1"/>
<path d="M356.7 643.9L358 643.7L359.3 643.9L360.6 644.5L361.9 645.2L363.2 645.1L364.5 645.4L365.8 644.1L367.1 644.7L368.4 645.2L369.7 645.2L371 645.3L372.3 645.3L373.6 645.1L374.9 645.5L376.2 646.8L377.5 646.3L378.8 647L380.1 646.7L381.4 646.9L382.7 646.8L384 646.9L385.3 646.7L386.6 646.1L387.9 645.8L389.2 646.9L390.5 647.1L391.8 648.1L393.1 648.3L394.4 647.7L395.7 647L397 646.5L398.3 647.8L399.6 648.4L400.9 647L402.2 647.7L403.5 647.7L404.8 647.4L406.1 648.9L407.4 648.9L408.7 648.8L410 647.8L410.4 649.4L410.4 666.4L410 667L408.7 666.2L407.4 665.8L406.1 666.2L404.8 666.7L403.5 665.9L402.2 665.6L400.9 664.9L399.6 666L398.3 666.4L397 664.7L395.7 664.9L394.4 664.5L393.1 665.5L391.8 664.9L390.5 665.1L389.2 664.9L387.9 665.4L386.6 664.5L385.3 665L384 664.8L382.7 665L381.4 664.2L380.1 663.8L378.8 664.6L377.5 664.1L376.2 663.9L374.9 663.4L373.6 663.4L372.3 663L371 662.8L369.7 662.9L368.4 663.2L367.1 662.8L365.8 663.8L364.5 662.8L363.2 661.9L361.9 663L360.6 662.5L359.3 663.3L358 662.1L356.7 663.1Z" fill="#0568a8"/>
<path d="M393 666.6h0M382.4 645.9h0M364.7 663.3h0M396.6 665.9h0M396.8 645.2h0M407.6 666.6h0M397.3 646.6h0M404.8 647.6h0M404.2 666.7h0M405.9 646.4h0M359.4 662.8h0M363.9 663.1h0M381.4 646.2h0M406.6 667.9h0M386.2 646.4h0M385.7 665.2h0M359.3 663.4h0M361.4 644.4h0M383.5 664.4h0M364.3 663.3h0M367.1 641.2h0M367 644.5h0M387.6 646.2h0M365.5 644.5h0M398.6 666.8h0M367.4 663.6h0M409.1 648.2h0M369.5 663.4h0M368.5 643.7h0M403.8 666.8h0M368.8 642.3h0M358.4 643.9h0M396.5 644.3h0M363.3 644.4h0M397.9 646.1h0M394.6 646.9h0M385.6 645.4h0M402.9 666.6h0M379.1 645.7h0M373.4 645.4h0M373.8 663.7h0M397 645.9h0" stroke="#0568a8" stroke-width="2.8" stroke-linecap="round" fill="none" opacity="1"/>
<path d="M364.9 680h0M396.9 667.8h0M379.4 666.9h0M367.6 668.7h0M384 674.7h0M359 662.8h0M376.6 668.5h0M375.4 668.3h0M404.4 671h0M407.1 675.8h0M380.6 669.3h0M382.6 667h0M384 667.7h0M382.9 667.7h0M397.3 669.5h0M388.5 666.4h0M377.9 671.7h0M361.4 669.7h0M395.7 672.5h0M402.1 668.8h0M392.8 670.1h0M388.1 666.1h0M388.4 667h0M404.4 669.7h0M389.1 668.1h0M405.8 669.6h0M393.8 665.8h0M403.8 667h0M384.1 667.3h0M400.9 667h0M391.9 671.3h0M393.2 675h0M363 667.4h0M402.2 673.5h0M386.5 669h0M382.9 667.9h0M364.3 665.3h0M385.2 667.8h0M359.2 663.9h0M405.6 667.6h0M408.2 667.8h0M362.6 665h0M396.9 670.6h0M374.6 666.3h0M370.6 665.4h0M370.2 664.5h0M374.3 671.1h0M363.2 665.3h0M406.4 669.3h0M360.1 666.5h0M380.9 669h0M373.4 664.1h0M359.4 669.4h0M364 663.5h0M376.8 665.5h0M373.4 666.1h0M379.6 667.5h0M367.9 668.9h0M381.3 668.1h0M370 664.5h0M394 665.8h0M394.8 669.8h0M381.5 670.9h0M402.7 668.3h0M398.4 667.6h0M365.6 666.5h0M367.1 665.3h0M362.3 667.1h0M403.5 667.8h0M359.4 663.8h0M384.1 665h0M401.8 670.2h0M387.4 671.3h0M376 667.2h0M381.3 664.4h0M384.9 664.8h0M359.7 666.1h0M387.6 671.3h0M380.6 666.8h0M379 668h0M402.6 671.2h0M369.6 665.4h0M401.3 666h0M372.4 664.5h0M365.3 664.4h0M403.1 667.7h0M376.1 667.7h0M405.1 673.6h0M387.2 668h0M373.4 665.1h0M381.9 673.3h0M403.5 667.8h0M406.7 671.6h0M370.5 663.9h0M393.8 667.2h0M376 664.5h0M361 667.2h0M398.9 669.3h0M392.4 665.6h0M364.3 664.6h0M392 673.8h0M366 670.5h0M395.4 669.5h0M369.9 669.4h0M366.9 663.8h0M389.2 670.5h0M364.5 663.4h0M368.2 669.9h0M376.1 666.1h0M358 663.8h0M363.7 667.3h0M383.8 669.5h0M375 665.6h0M369.7 667.9h0M382.9 665.9h0M385.9 666.1h0M396 670.6h0M362.6 667h0M392 668.7h0M382 665.5h0M369.8 666.4h0M373.5 666h0M383 669.3h0M371.9 672.6h0M363.2 665.3h0M361.8 673.5h0M405.4 671.4h0M371.1 670h0M402.8 666.9h0M390.9 665.8h0M398.8 667.6h0M395.9 667h0M408.2 669.9h0M376.9 666.9h0M359.7 666.2h0M377.5 668.3h0M389 667.5h0M373.8 672h0M387.3 668.8h0" stroke="#0568a8" stroke-width="2.8" stroke-linecap="round" fill="none" opacity="1"/>
<path d="M375.6 675.2h0M369.1 691.5h0M358.6 666.9h0M369.8 698.4h0M384 680.9h0M378.4 676.6h0M380.7 683.7h0M403.1 686.6h0M400.2 668.4h0M366.8 672.6h0M404.9 691.9h0M359.3 666.2h0M373.7 678h0M391.8 677.2h0M367.8 677.5h0M385.5 678.6h0M387.8 666.4h0M362.6 687.9h0M363 700h0M395.7 687.1h0M368.3 700.6h0M376.5 665.8h0M406.4 687.7h0M364.7 676.4h0M375 686.4h0M373 676h0M359.2 669.8h0M382.7 665.8h0M399.9 679.3h0M387.2 687.1h0M359.1 673.4h0M403.4 684.5h0M401.6 697.6h0M407.1 669.3h0M376.4 666.7h0M391.9 666.7h0M407.2 686h0M369 687.3h0M365.3 668.7h0M361 674h0M406.7 699.7h0M361.1 680.5h0M373.8 667.5h0M397.8 674.5h0M395.1 671.5h0M394 675.7h0M383.4 693h0M371.5 674h0M397.9 666.3h0M377.8 675h0M379.1 696.1h0M370.4 684.7h0M393.7 681.1h0M370 686.7h0M408.3 675.5h0" stroke="#0568a8" stroke-width="2.7" stroke-linecap="round" fill="none" opacity="1"/>
<path d="M410.4 647.8L411.7 648.8L413 647.1L414.3 647.9L415.6 648.8L416.9 647.3L418.2 647.8L419.5 646.6L420.8 646.8L422.1 647.2L423.4 647.5L424.7 647.8L426 648.5L427.3 647.8L428.6 647.9L429.9 647.6L431.2 648.6L432.5 647.6L433.8 648.4L435.1 648.3L436.4 647.9L437.7 647.7L439 648.5L440.3 648.1L441.6 647.5L442.9 647.3L444.2 647.9L445.5 648.5L446.8 647.1L448.1 647.8L449.4 647.4L450.7 647.8L452 647.7L453.3 646.7L454.6 647.4L455.9 647.6L457.2 647.5L458.5 647.3L459.8 646.5L461.1 646.2L462.4 646.7L463.7 646.8L465 646.4L465.1 646.4L465.1 664.3L465 664.5L463.7 665.2L462.4 665.9L461.1 665.4L459.8 665.2L458.5 665.8L457.2 665L455.9 666.1L454.6 666L453.3 664.8L452 666L450.7 664.6L449.4 665.8L448.1 665.7L446.8 666L445.5 666.2L444.2 664.9L442.9 665.1L441.6 664.6L440.3 666.1L439 664.9L437.7 666.3L436.4 665L435.1 665.2L433.8 664.7L432.5 665.6L431.2 664.9L429.9 665.6L428.6 665.1L427.3 665.7L426 666.3L424.7 665.8L423.4 666L422.1 664.9L420.8 666.1L419.5 666.4L418.2 665L416.9 665.9L415.6 665.8L414.3 666.1L413 665.6L411.7 666.7L410.4 665.8Z" fill="#0568a8"/>
<path d="M437.2 665.6h0M461.2 646.5h0M416.2 666.3h0M424.1 666.2h0M437.6 644.8h0M438.7 647.2h0M444.3 666.3h0M413 647.3h0M419.7 666.2h0M432.9 646.8h0M443.7 647.4h0M434 645.2h0M412.6 647.8h0M425.5 665.9h0M414 647.3h0M452.3 644.7h0M448.8 665.6h0M454.6 647.2h0M425 646.6h0M422.8 647.3h0M417.6 666.7h0M449.8 646.6h0M418 646.8h0M420.4 665.7h0M436.9 645.4h0M441.9 666.4h0M458.6 665.2h0M413.1 647.6h0M423.1 665.8h0M421.6 647.4h0M460.8 645.8h0M455.3 665.4h0M431.8 647.2h0M460.4 665.5h0M427.3 666.4h0M427.1 645.5h0M418.3 666h0M436 647.4h0M429.3 646.2h0M435.4 646.6h0M438.7 665.7h0M420.1 647.3h0M423.3 665.9h0" stroke="#0568a8" stroke-width="2.8" stroke-linecap="round" fill="none" opacity="1"/>
<path d="M413.8 669.5h0M446.5 669.8h0M441.2 668.3h0M427 669.8h0M420.3 665.8h0M414.7 676h0M423.3 667.2h0M424 670.4h0M449.5 672h0M454.3 666.5h0M462 667.2h0M457.7 673.1h0M463.4 666.2h0M415.1 669.5h0M451.8 667.6h0M434.3 666.1h0M453.3 667.9h0M424 668.4h0M418.7 666.2h0M425.4 665.9h0M439.5 667.7h0M427.9 668.6h0M431.4 671.4h0M454 667.8h0M447.1 667.7h0M453.5 665.5h0M413.3 665.9h0M442.7 665.9h0M441.5 667.7h0M424 669.4h0M420.3 666.9h0M427.8 665.9h0M432.9 667.6h0M432.8 673.6h0M454.2 666.8h0M439.4 666.7h0M442 671.4h0M419.4 673.1h0M434.5 672.1h0M438 671.3h0M434.7 671h0M423.4 672.4h0M416.5 667h0M463 673h0M444.2 667.8h0M453.7 668.6h0M451.8 672.7h0M456.5 672.4h0M435.8 668.7h0M456.4 669.3h0M450 667.8h0M422.4 665.9h0M434.6 672.3h0M423.5 666.1h0M441.9 667.2h0M458.9 666.1h0M416.2 670.8h0M442 670.8h0M418.6 670.2h0M441.5 670.4h0M447.8 665.5h0M439 672.6h0M436.1 666.5h0M457.8 669.4h0M461.1 674.3h0M414.2 671.1h0M418.2 674.1h0M439.9 667.4h0M435.2 673.2h0M457.2 668.3h0M433.2 670.8h0M453.7 666.4h0M448.4 668.9h0M415.3 667.3h0M445.8 669.6h0M424.7 672.5h0M432.9 668.2h0M458.2 667.2h0M426.4 668.7h0M453.2 666.2h0M452.9 668.5h0M457.5 666.3h0M451.6 665.8h0M429.9 668.6h0M437.8 668.7h0M416.7 669.3h0M428.9 666.1h0M437.3 669.9h0M456.5 667.9h0M429.8 668.9h0M444.3 670.9h0M427.8 667.7h0M422 666.6h0M457.6 665.9h0M428.1 666.7h0M441.7 669.6h0M445.5 673.8h0M454.9 670.9h0M441.2 668.8h0M440.1 671.7h0M463.1 674.3h0M438.5 671.2h0M413 676.4h0M443.1 666.3h0M433.1 672.1h0M432.1 667.7h0M424.3 668.6h0M428.6 669.9h0M415.6 669.1h0M424.9 668.9h0M457.4 670.3h0M430.8 666.2h0M416.8 667.6h0M414.2 665.9h0M439.6 666.2h0M455.8 675.1h0M443.5 666.1h0M416.4 670.9h0M433.2 667.6h0M449.3 669.5h0M438.8 667.1h0M437.1 671.1h0M442.2 671h0M462.5 670.1h0M420.7 670h0M443.5 668.4h0M448.7 669.2h0M459.9 668.5h0M459.9 671.2h0M429.6 671h0M436.3 668.6h0M449 668.8h0M421.4 670.7h0M462.4 674.3h0M418.8 670.9h0M435.1 681h0M412.6 667.5h0M431.3 667.6h0M428.8 667.7h0M450.4 666.9h0M448.2 669.7h0M457.5 666.9h0" stroke="#0568a8" stroke-width="2.8" stroke-linecap="round" fill="none" opacity="1"/>
<path d="M442.8 702.4h0M412 700.7h0M432 670h0M435.1 672.6h0M412.9 682.4h0M433.1 688.2h0M428 693.9h0M454.6 673.5h0M419.9 704.5h0M439.3 680.3h0M420.6 670.6h0M437.4 692.4h0M425.3 699.5h0M461.7 694.6h0M436.9 674h0M422.7 684.3h0M414.6 670.5h0M418.7 690.2h0M415.7 694.6h0M456.4 701h0M429.4 669.4h0M451.1 700.6h0M456 700.8h0M459.3 692.6h0M450.6 699.2h0M425.6 688.9h0M418.4 680.8h0M463.5 669.3h0M425.8 688.9h0M429.2 699.6h0M443.5 689.5h0M445.3 698h0M416.1 700.1h0M446.6 702.1h0M434.6 682.6h0M428.9 672.3h0M447.2 678.5h0M425.6 683.3h0M428.8 675.7h0M433.2 673.6h0M431.2 702.5h0M438.6 685.6h0M431.4 684.6h0M444.9 685.4h0M451.2 672.2h0M454.9 690.4h0M424.6 672.1h0M423.4 701.3h0M434.7 689.1h0M453.4 681.6h0" stroke="#0568a8" stroke-width="2.7" stroke-linecap="round" fill="none" opacity="1"/>
<path d="M465.1 646.1L466.4 646.2L467.7 644.8L469 646.3L470.3 644.9L471.6 646.4L472.9 645.2L474.2 645.1L475.5 645.4L476.8 645.4L478.1 646.7L479.4 645.3L480.7 646.5L482 645.7L483.3 645.6L484.6 645.5L485.9 646.4L487.2 645.7L488.5 644.9L489.8 646.5L491.1 646.7L492.4 645.2L493.7 647.2L495 646L496.3 645.4L497.6 646.9L498.9 646.4L500.2 646.4L501.5 646.7L502.8 645.6L504.1 645.4L505.4 646.4L506.7 646.1L508 647.3L509.3 645.9L510.6 646.1L511.9 646.6L513.2 646.4L514.5 646.1L515.8 646.7L517.1 645.6L518.4 646.8L519.5 647.5L519.5 663.9L518.4 663.8L517.1 664.7L515.8 664.5L514.5 664.9L513.2 663.5L511.9 664.3L510.6 664.9L509.3 663.4L508 664.3L506.7 663.7L505.4 664.6L504.1 663.6L502.8 663.6L501.5 663.4L500.2 665L498.9 663.3L497.6 664.3L496.3 664L495 664.1L493.7 665L492.4 663.6L491.1 663.4L489.8 664.8L488.5 664.9L487.2 663.9L485.9 664.6L484.6 664.3L483.3 664L482 663.8L480.7 664.4L479.4 663.7L478.1 663.6L476.8 663.7L475.5 663.6L474.2 663.6L472.9 664.1L471.6 663.8L470.3 663.4L469 664.4L467.7 663.1L466.4 664.1L465.1 663.2Z" fill="#0568a8"/>
<path d="M508.7 646.3h0M504.5 664.8h0M476.3 645.8h0M469.7 644.1h0M494.8 664.1h0M484.9 645.1h0M492.4 665.1h0M475.4 664.7h0M486.2 665.6h0M486.8 664.4h0M480.6 664.3h0M508.4 643.9h0M491.1 664.7h0M470.1 645.4h0M476.8 645.8h0M497.1 644h0M508 645.6h0M468 645.1h0M466.9 645.5h0M484.5 664h0M509 645h0M502 664.4h0M470.2 664.3h0M512.5 645.2h0M505.3 644.8h0M498.3 644.7h0M504.5 645.1h0M502.4 664.9h0M503.1 664.5h0M468 663.8h0M490.6 665.6h0M484.4 644.7h0M478.4 645.6h0M476 644.1h0M504.9 646.1h0M470.2 664.2h0M488.9 646h0M478.3 643.2h0M510.4 645.9h0M497.4 644.3h0M471.6 644.7h0M502.9 644.7h0M472.3 645.8h0" stroke="#0568a8" stroke-width="2.8" stroke-linecap="round" fill="none" opacity="1"/>
<path d="M467.6 671h0M517.2 667.9h0M500.4 668.2h0M491.3 670.1h0M474.3 667.2h0M498.8 665.8h0M471 667.5h0M515.2 672.4h0M515.1 679.4h0M476.5 667.9h0M492.2 668.8h0M486 671.2h0M487.7 665.1h0M514.6 665.7h0M518.2 670.3h0M504.1 673h0M471.9 666.7h0M512.2 673.3h0M475.7 663.9h0M500.9 668.9h0M511.4 670.3h0M482.9 665.1h0M511.8 671.7h0M496.6 665.2h0M489.9 665.4h0M471.2 664.5h0M500.5 665h0M484.2 668.7h0M499.1 664.2h0M511.9 675.6h0M513.1 664.6h0M476.8 667.8h0M479.2 667.2h0M490.8 666.5h0M486.7 666.3h0M477 666.6h0M502.4 665.3h0M508.6 669.5h0M476.4 664.7h0M504.1 670h0M486.9 668.9h0M509.2 665.8h0M495.4 665.9h0M500.5 669.7h0M475.1 668.2h0M493.5 664.1h0M488.9 665.1h0M488.4 674.2h0M468 665.3h0M507.1 674.1h0M510.5 665.9h0M504.8 664.3h0M482.9 672.9h0M478.8 666.4h0M472.5 665.2h0M514.1 667.1h0M505.9 666.5h0M494.9 664.4h0M501.6 668.2h0M496.4 668.1h0M517.7 667.7h0M471 664.2h0M507.3 670.1h0M478.1 666.5h0M515.4 665.8h0M476.2 669.4h0M500.2 664.4h0M502.6 666.6h0M471.4 665.9h0M491.4 676.4h0M472.9 664.4h0M468.1 667.7h0M467.3 668h0M505.6 668.6h0M480.7 666.7h0M497.6 667h0M498.4 666.3h0M480.8 671.6h0M475.4 664h0M472.4 668.8h0M488.9 669.9h0M491.8 667.7h0M488.8 667.8h0M485 665.4h0M481.1 664h0M487.8 666.2h0M489.3 671.8h0M489.4 666.9h0M517.1 665.1h0M512.1 669.7h0M494.2 665.2h0M512.9 670h0M483.7 668.6h0M508.9 669.8h0M468.2 668.1h0M484.3 666.7h0M470.6 667.4h0M468.8 666.2h0M486.8 669h0M499 664.9h0M511.1 665.7h0M506.3 669h0M497.4 666.4h0M498.8 666.4h0M492.4 672.3h0M518.1 667.4h0M483.6 664.9h0M466.7 665.7h0M511.5 668.8h0M503.7 670.8h0M506.5 664.9h0M484.7 672.7h0M482.1 664.8h0M475.2 668.5h0M485.7 665.5h0M469.7 665.9h0M495.7 664.8h0M495.7 670.1h0M480.2 664.1h0M476.8 665.3h0M468.8 672.3h0M493.8 669.7h0M494.3 666.6h0M487.4 665.5h0M503.6 664.7h0M473.5 669.4h0M498.3 664.8h0M511.6 670h0M485.8 669.5h0M470.2 665.4h0M487.9 666.3h0M492.2 670.6h0M499.4 664.6h0M466.8 665h0M514.8 665h0M514.1 667.2h0M467.9 668.4h0M476.4 669.9h0M518 668.8h0M490.9 673.1h0M511.8 667.6h0" stroke="#0568a8" stroke-width="2.8" stroke-linecap="round" fill="none" opacity="1"/>
<path d="M487.2 679.2h0M473 684.2h0M486.8 681.7h0M515.8 695.8h0M493 695h0M475.5 678.9h0M492.8 678.6h0M498 689.6h0M494.3 672.1h0M514.9 688.7h0M517.5 675.4h0M513.8 704.1h0M494.6 679.7h0M467.5 667.6h0M478.6 699.1h0M468.3 675h0M475.3 680.3h0M501.2 668.7h0M487.7 688.5h0M506.6 670h0M485.5 683.9h0M481.2 700.3h0M493.3 703.9h0M496.9 673.1h0M489.8 690.4h0M479.6 685.8h0M491.6 667h0M487.6 669.7h0M492.1 682h0M494.6 672.8h0M498.9 667.9h0M492.3 677.5h0M484.3 675.8h0M483.6 679.3h0M486.9 686.9h0M509.2 697.2h0M475.9 695.7h0M516.9 682.3h0M471.9 696.5h0M491.6 688h0M484.8 667.8h0M467.5 672.6h0M510.4 690.4h0M494.4 679.1h0M475.6 682.7h0M498.3 669.5h0M511.4 679.8h0M505.9 693.9h0M473.8 679.7h0M490.4 684.5h0" stroke="#0568a8" stroke-width="2.7" stroke-linecap="round" fill="none" opacity="1"/>
<path d="M243 618.4h0M276 612h0M490 631.9h0M251 627.7h0M110.5 636.2h0" stroke="#0568a8" stroke-width="2.5" stroke-linecap="round" fill="none" opacity="1"/>
<path d="M529.4 655.2h0M567.7 656.4h0M565.9 660.4h0M558.9 656.1h0M534 658.3h0M559.5 651.6h0M537.5 657.4h0M557.7 657.7h0M530.5 663.1h0M521.3 653.3h0M530.9 658.9h0M540.7 662.5h0M561.1 653.4h0M547 659.6h0M568 653.7h0M555 659.5h0M553.7 653.4h0M556 659.3h0M561.8 660.8h0M564.4 654.7h0M532.3 659.1h0M534.6 659.6h0M547.4 662.6h0M529.7 654.9h0M557.8 653.8h0M570 657.8h0M549.5 657.5h0M563.5 653.9h0M564.4 676.1h0M537.6 657.2h0M527.1 665.1h0M557.3 664.4h0M538.2 657.3h0M535.3 656h0M540.5 659.6h0M551.4 656.8h0M538.3 658.9h0M539.1 665.3h0M546.6 658.6h0M546.4 652.1h0M548.2 657.7h0M550.6 656.3h0M568.4 656.7h0M557.7 663.1h0M539.3 656.6h0M521.7 661.3h0M527.2 655.2h0M523.1 662.5h0M555 662.1h0M533.3 661h0M556 662h0M561.3 654.9h0M548.7 650.7h0M551.7 658.3h0M561.2 659.7h0M569.8 658.7h0M536.5 654.3h0M561.8 660.6h0M553.2 656.8h0M569.4 660.1h0M567.6 655.7h0M533.5 670.6h0M554.3 654.5h0M568.5 659.1h0M551.1 657.6h0M524 656.6h0M567.2 649.9h0M567 654.1h0M539.2 661.4h0M551.4 657.3h0M562.4 653.3h0M530.2 653.5h0M569.3 654.7h0M539.4 660.3h0M554 661h0M530.2 660.3h0M560.9 656h0M521.6 662.5h0M528.4 663h0M573.3 660.8h0M556.1 657.4h0M542.4 663.9h0M546.6 658.5h0M551.4 650.6h0M541.4 660.2h0M557.2 659.2h0M536.3 659.3h0M561.7 660.9h0M533.1 652.3h0M569.5 650h0M547 656.3h0M530 661.8h0M536.7 654.2h0M530.5 654.2h0M524.7 659.7h0M553.6 662.1h0M559.8 667.7h0M532.4 653.7h0M570.3 653h0M536.6 659.1h0M541.5 654.6h0M558.3 661h0M523.8 650.9h0M542.8 655.4h0M556.4 657.3h0M537.7 653h0M544.9 654.4h0M566.5 662.1h0M571.3 660.3h0M542.4 662.2h0M558.9 652.6h0M565.2 656.6h0M563.7 662.3h0M554.5 652.6h0M523.9 661.3h0M554.5 648.9h0M522.3 657.7h0M554.6 652.7h0M551 656.3h0M552.9 656.5h0M555.5 649.9h0M546.4 659.7h0M523.1 654.5h0M532.9 660.3h0M547.2 661.1h0M538.1 655.6h0M538 660.7h0M557 659.7h0M537.8 677h0M527.4 649.6h0M569.1 658.2h0M552.4 655.3h0M544.5 658.1h0M572.1 658.9h0M543.5 657.9h0M551.6 666.2h0M526.5 661h0M540.3 654.8h0M551 657.3h0M569 656.2h0M550.4 657.9h0M550.5 653.5h0M559.3 657.9h0M569.3 659.2h0M522.3 659.3h0M572.9 651.8h0M569 660.4h0M550.4 660.6h0M563.8 655.9h0M521 655h0M555 654.4h0M541.5 654.8h0M540.5 654.6h0M543.9 659.8h0M566 652.5h0M557.6 665.4h0M563.9 649.7h0M521.7 654.6h0M521.3 651.3h0M569.2 659.1h0M561.2 665.9h0M555.3 647.2h0M555.2 657.5h0M567.3 656.1h0M573.3 660.7h0M522.5 661h0M562.4 652h0M557.1 647.1h0M561.6 657.7h0M550.7 653h0M543 656.2h0M545.8 659.5h0M561.8 659.7h0M526.6 656.3h0M540.1 658.4h0M559.9 660h0M558.4 652h0M521.2 661.8h0M523.8 654.4h0M558.8 655.4h0M543.5 655.4h0M528.5 661.9h0M560.5 655.4h0M551.3 656.9h0M544.8 648.5h0M564.1 657.7h0M537.5 654.6h0M572.5 653h0M522.2 661h0M559.7 658.4h0M541 653.8h0M552.4 652.8h0M527.6 666.7h0M549 652.5h0M521.1 672h0M537.4 655.4h0M535.9 658.9h0M571.5 658.8h0M556.9 657.4h0M520.9 657.8h0M567.3 657.3h0M524.5 654.5h0M521.8 666.2h0M558.5 662.4h0M541.2 659.5h0M550.4 658.5h0M554 651.7h0M544.1 657.2h0M554.4 665.5h0M535 662.4h0M572.6 657.1h0M569.9 666.7h0M529.6 672h0M526.6 660.2h0M569.9 654.5h0M555 656.6h0M538.3 657.3h0M543.8 661.6h0M544.2 654.8h0M545.7 661.4h0M532.6 660.2h0M528.2 653.5h0M566.9 654h0M532.2 663.1h0M567.1 657.7h0M564.6 668h0M543.2 659h0M529 661h0M558.7 664.4h0M535.9 659.7h0M567.9 657.8h0M536.7 657.3h0M522.5 647.2h0M555.2 651.6h0M540.1 660h0M534 654.2h0M542.4 656.8h0M540.1 656.3h0M557.7 656.6h0M521.2 650.3h0M531.4 658.5h0M561.4 650.8h0M572.5 650.7h0M542.6 654h0M570.1 658.9h0M556.5 656.7h0M568.7 653.5h0M546.2 650.5h0M556.1 656.3h0M539.8 657.1h0M529.9 650.4h0M548.8 649.4h0M526.3 666h0M558.3 651.8h0M526.3 665h0M547.7 658.7h0M528.9 660.4h0M548.2 660.6h0M554.9 660.6h0M544.7 658.4h0M554.5 665.9h0M560.9 655.5h0M571.4 651.1h0M552.1 660.8h0M551.5 658h0M558.7 655.1h0M545.7 658.7h0M558 653.2h0M546.4 654.7h0M531.8 655.1h0M553.5 662.3h0M559.6 659.5h0M533.4 659.4h0M565.8 657.9h0M545.7 663h0M555 652.3h0M528.5 654.4h0M554.1 664.2h0M564.9 659.4h0M527.3 650.1h0M566.8 654.4h0M565.4 656.8h0M529.7 645.7h0M556.7 662h0M541.3 660.6h0M570.3 656.5h0M559.6 653.1h0M572.7 658h0M542.2 661.9h0M537.4 660.6h0M547.1 663.4h0M534.7 655.6h0M553 652.5h0M523.7 651.7h0M541 658.9h0M538.1 655.7h0M525.9 657h0M558 653.3h0M572.5 647.3h0M541.5 653.8h0M551.8 654.6h0M531.4 652.4h0M529.3 657.2h0M537.6 650.7h0M540.9 667.6h0M523.2 673.5h0M530.9 651.9h0M524.8 658.3h0M568.5 661.8h0M542.7 655.3h0M566.6 658.3h0M560.8 661.5h0M547 663.3h0M544.8 657.8h0M552.6 654.3h0M558.5 657.1h0M551.7 662.4h0M557.6 658.7h0M536 657.5h0M523.4 650.6h0M560.7 661.6h0M531.8 665.5h0M565 657.2h0M557.7 649.4h0M537.5 664.3h0M540.1 661.7h0M563.3 657h0M553.3 657.8h0M556.9 658.4h0M527.7 660.4h0M550.1 652.4h0M548.3 666.6h0M549.2 649.5h0M556.3 659h0M572.9 666.5h0M539.3 657.8h0M565.4 660.8h0M559.4 660.2h0M523 660.3h0M556.4 658.2h0M552.5 656h0M535.4 658.1h0M547.8 655.4h0M537.7 653.9h0M559 649.2h0M537.7 663.4h0M521.6 664h0M542.7 657.6h0M564.2 667.5h0M540.5 669.7h0M555.1 661.3h0M549.5 654.6h0M547.4 656.1h0M552.6 652.7h0M573.2 651.4h0M530.2 656.6h0M570.9 662.6h0M550 652.6h0M526.8 657.6h0M524.1 661.3h0M528.9 665h0M532 658.3h0M553 650.4h0M525.5 655.7h0M530.7 652.1h0M550.4 658.9h0M558.8 652.6h0M534.7 656.3h0M563.2 657.4h0M543.1 660.6h0M554.7 659.4h0M523.5 662h0M541.1 651.7h0M522.6 653.5h0M553.8 655h0M553.1 658.2h0M560.1 657.2h0M546.4 663.2h0M561.3 655.7h0M541.2 656.6h0M553 653h0M560.4 659.3h0M553.3 656.5h0M542.5 656.1h0M544.9 657.4h0M529.7 662.8h0M571.1 651.4h0M528.5 658.3h0M568.8 658h0M533.3 657.4h0M533.2 658.6h0M534.1 659.5h0M536.7 652.2h0M569.1 665.4h0M560.5 652.9h0M573.2 657.6h0M557.1 657h0M548.8 652.9h0M565.6 656.7h0M536.1 670h0M526.7 658.2h0M538.1 652.6h0M527.3 661.6h0M564.7 662h0M570.7 658.1h0M543.1 655.8h0M551 653.2h0M537.8 657.7h0M560 654.4h0M521.9 659.5h0M570.3 657.7h0M562.7 659.2h0M536.5 659.2h0M531.1 649.5h0M538.6 654h0M560.5 642.7h0M525.8 667.7h0M531.1 662.4h0M565.2 660.2h0M526.7 659.8h0M531.7 654.7h0M550.5 658.8h0M537.4 651.6h0M544.1 661.4h0M540.9 652.8h0M559.1 655.5h0M535.2 655.8h0M556.4 656.1h0M562.3 665.3h0M569.5 657.5h0M538.9 655.6h0M557.1 651.6h0M563.9 657.2h0M527 655.3h0M547.5 657.1h0M569.6 658.6h0M572.4 656.8h0M559.8 659.1h0M571.6 663h0M539.6 654.9h0M552.8 654.6h0M554.5 657.2h0M562.5 664.2h0M572.2 655.6h0M524.5 654.4h0M520.9 667.4h0M565.8 660.4h0M544.9 655.4h0M534.5 663.7h0M563.9 661.2h0M527.4 659.3h0M552.5 646.3h0M544.2 661.2h0M570.2 656.7h0M564.3 658.2h0M528.4 660.3h0M560.7 651.5h0M561.7 660.8h0M555.9 656.8h0M553 651h0M566.9 655.4h0M556.1 662.9h0M566.5 659.9h0M528.5 660.3h0M550.3 661.5h0M547.7 658.6h0M545.1 657.1h0M544.4 654.5h0M538.7 655.5h0M570.9 659.3h0M542.1 653.3h0M559.4 652.2h0M521.4 664.9h0M551.2 660.7h0M521.9 653.7h0M538.8 658.4h0M558.9 660h0M543.2 658.5h0M559.2 672.3h0M532.6 661.3h0" stroke="#0568a8" stroke-width="2.8" stroke-linecap="round" fill="none" opacity="1"/>
<path d="M580.8 654.2h0M586.7 649h0M583.2 656.7h0M604.7 651.1h0M619.4 656.1h0M604.8 659.7h0M628.4 664.2h0M579.1 660.4h0M617.8 662.8h0M613.4 662.6h0M581.5 663.1h0M583.7 650.5h0M582.7 655.2h0M596.2 656h0M605.7 653.7h0M628.4 664.2h0M604.9 661.3h0M593.8 658.6h0M597.2 659.9h0M590.6 659.8h0M627.9 660.4h0M616.6 665.7h0M608.9 657.5h0M612.4 655.9h0M604.8 642.9h0M623.2 656.3h0M617.8 652.7h0M577.8 653.6h0M581 658.7h0M593 654.1h0M615.2 658.6h0M611.4 649.6h0M620.8 663.3h0M576.6 654.4h0M598.1 660.3h0M611.9 659.7h0M582.1 655.5h0M580.7 658.7h0M600.1 650.7h0M622.1 663.3h0M605.8 660h0M617.7 645.7h0M616.9 650.6h0M613.5 657.3h0M623.4 655.1h0M588.2 655.4h0M602.7 656.2h0M604.3 657.3h0M590.7 654.2h0M592 659.1h0M583.4 659.7h0M594.6 653.6h0M603.3 663.1h0M585.4 656.5h0M607.8 662.6h0M623.5 649.8h0M612.9 660.6h0M595.8 656h0M589.8 656.2h0M620.1 651.5h0M617.4 655.7h0M593 652h0M626 655.6h0M620.6 657.8h0M598.4 655.8h0M607.6 648.6h0M589.2 655h0M626 654.4h0M598.3 654.1h0M607.2 658h0M613.5 653.9h0M598.3 656.4h0M627.8 663.9h0M609.1 660.4h0M619.4 654.6h0M605.3 662.2h0M605.4 659.6h0M604.9 655.5h0M576.7 662h0M621.1 661.7h0M581.3 657.1h0M600.2 650.8h0M597.2 653.7h0M605 658.1h0M602.1 657.9h0M614.7 657.2h0M588.1 655.4h0M597.4 669.4h0M600 658.3h0M621.7 661h0M614.3 654.1h0M615.5 660.2h0M584.6 653h0M589 661h0M614.7 655.8h0M606 658.3h0M590.5 658.3h0M579.9 656.1h0M621.2 666.8h0M590.7 662.2h0M577.9 661.1h0M576 661.7h0M596.6 659.4h0M575.8 658.6h0M585.2 657.5h0M597.3 671.2h0M577.5 661.9h0M606.9 653.9h0M626.5 657.5h0M615.4 654.8h0M603.1 652.5h0M580 660.3h0M613.8 660.4h0M605.4 661.5h0M582.3 661.9h0M597.8 655h0M625.6 654.8h0M595 662.3h0M608.8 659.7h0M615.8 665.2h0M586.5 665.6h0M608.9 654.6h0M582.5 658.1h0M580.6 657.4h0M623 657.7h0M605.3 656.5h0M594.6 664.4h0M614 654.3h0M584.7 667.3h0M610.9 654.7h0M614 663h0M596.1 657.1h0M591.9 659.6h0M609.2 666.2h0M606.6 654.8h0M594.9 655.9h0M626.5 656.5h0M623.1 659.8h0M621.3 675.3h0M583.8 658.7h0M594.2 659.5h0M585.1 652.1h0M606.9 659h0M611.6 659.5h0M593.4 656.5h0M615 657.4h0M603.8 663h0M619.9 655.3h0M580.3 663.1h0M590.3 668.6h0M622.4 660.8h0M616.9 658.6h0M621.5 662.8h0M625.5 659.9h0M604.7 661.3h0M609.4 652.8h0M607.7 651h0M608.7 656.3h0M579.4 671h0M592.5 657.5h0M601.2 656.8h0M627.6 662.8h0M592.3 655.1h0M608.8 665h0M594.7 664.8h0M600.5 657.3h0M615.1 654.8h0M579.9 657.6h0M595.7 667.8h0M580.7 652.7h0M594.5 661.3h0M599.4 662.8h0M619.4 655.4h0M608.6 670.9h0M607 663.7h0M595 658.6h0M607.8 648.2h0M628.3 665.5h0M615.3 663.2h0M582.5 657.3h0M613.7 661.7h0M625.4 659.4h0M606.8 659.5h0M621 654.9h0M591.5 664.3h0M600.5 663h0M605.3 652.3h0M609.4 667h0M595.5 651.6h0M602.8 659.7h0M618.4 657.6h0M594.9 654.1h0M615.9 654.9h0M591.8 650.7h0M580.3 664.2h0M597.4 662.1h0M607 665.2h0M581.1 669.4h0M579.4 657.1h0M613.9 653.8h0M598.3 653.7h0M588.1 654.8h0M627.6 655.9h0M627.7 652.3h0M604.3 658.2h0M596.5 661.6h0M582.8 656.3h0M596.5 661.7h0M590 659.1h0M595.5 651h0M617.4 659.5h0M577.6 661.3h0M612 666.4h0M598 660.5h0M596.8 657.7h0M623.9 654.7h0M586.2 651.3h0M585.5 656.1h0M592.9 660.5h0M582.6 666.7h0M596.6 661.3h0M575.8 664.1h0M590.7 658.1h0M600.8 663.2h0M623.7 658.6h0M615.9 652.8h0M576.2 654.3h0M620.8 659.9h0M620.6 658h0M602.5 654.5h0M602.6 665.3h0M579.8 652.3h0M600 658.7h0M623.3 653.7h0M602.5 661.4h0M591.2 659.6h0M582.4 657.9h0M585.9 653.3h0M622.8 660.3h0M615.5 656.3h0M626.7 680.6h0M592.5 652.3h0M616.6 654.4h0M620.1 660.1h0M592.4 656.7h0M624.1 657.6h0M606 662.7h0M626.5 650.4h0M623.9 658.5h0M595.5 658.9h0M577.1 652h0M588.2 656.4h0M583.2 651.4h0M611.7 663.5h0M588 658.7h0M594.6 673.7h0M615.3 655.9h0M604.8 659.4h0M584.8 665.5h0M611.3 655.7h0M584.4 659.8h0M582.5 661.7h0M606.7 659h0M595.1 665.3h0M577.5 654.7h0M579.2 662.3h0M582.9 657.8h0M605.8 651.4h0M591.4 656.5h0M579.7 653.4h0M597 661.1h0M600 652.7h0M580.5 651.2h0M603.9 656.8h0M608.1 658.9h0M628.4 657.5h0M584.5 663.2h0M605.1 655.9h0M578.8 657.7h0M584.9 656.1h0M597.7 657.9h0M597.3 652.5h0M610.8 659h0M586.3 658.8h0M587.6 658.4h0M580.9 660.3h0M612.9 658.2h0M610.4 653h0M605.3 663.7h0M610.6 661.6h0M606.2 650.7h0M585.7 664.9h0M590.8 653.5h0M592.3 656.7h0M597.1 654.2h0M614.7 656.2h0M589.4 658.6h0M592.6 659.5h0M622.8 650h0M608.5 666.7h0M610.3 658.4h0M581.4 664.4h0M627.4 662.8h0M621.3 657.2h0M600.7 656.4h0M603.8 657.8h0M588.6 663.8h0M621.9 647.4h0M597.8 659h0M616.1 658.5h0M579.1 658.5h0M609 653.8h0M610.3 658.6h0M624.8 672.9h0M604.3 656.8h0M577.1 656.3h0M582.4 658.7h0M591.8 661.2h0M577 653.3h0M615.9 652.8h0M600.5 663h0M622.1 664.5h0M579.8 662.9h0M628.1 654h0M604.5 655.1h0M607.9 651.7h0M595.1 652h0M601.6 659.3h0M581.1 657.2h0M608.5 658h0M600.3 659.2h0M615.6 662.3h0M606.5 665.1h0M625.7 656.2h0M603.3 659.5h0M614.4 662.2h0M611.6 663.8h0M621.9 660.8h0M611.5 655.4h0M586 650.6h0M595.9 663.4h0M614.7 655h0M600.4 654.8h0M586.7 655.1h0M580.3 656h0M604.3 658.4h0M592.3 660.6h0M596.2 655.5h0M596.2 658.4h0M602.3 653.9h0M624.2 662h0M626.7 652.2h0M581.6 657.7h0M594.3 656.5h0M611.1 663.7h0M607.3 667.5h0M581 658.2h0M625.1 653.9h0M593.7 653.6h0M607.7 658.9h0M596.3 648.7h0M589.6 653h0M603.5 656h0M585 664h0M582 652.6h0M582.3 661.5h0M625 661.1h0M611.4 656.4h0M581.6 657h0M599.5 656.6h0M624.1 661.7h0M602 658.4h0M601.7 666.2h0M587 660.4h0M620.9 659.4h0M603.4 667.4h0M577 652.5h0M584.5 656.8h0M583.9 655.7h0M606.8 658.2h0M604.5 656.3h0M581.1 667.8h0M596.3 663.9h0M595.2 658.6h0M618.9 659.2h0M614.7 661.9h0M625.3 655.9h0M594.6 654h0M599.1 656.4h0M580.4 671.6h0M577.6 656.3h0M612.3 652.8h0M598.5 655.9h0M586.7 654.7h0M621.2 657h0M614.6 652.4h0M596.5 653.8h0M600 665h0M587.2 659.9h0M577.8 654.9h0M595.7 664.6h0M584.1 660.6h0M602.8 657.6h0M601.8 660.8h0M599.9 654.7h0M595.8 655.1h0M612 671.8h0M601.7 651.5h0M599.3 662.2h0M606.5 654.5h0M596.8 657.2h0M592.6 660.4h0M613.3 655.4h0M596.9 671.9h0M595.6 658.8h0M598.3 656.6h0M609.8 654.8h0M626.4 659.9h0M608.9 658.7h0M587.3 657.2h0M589.8 659.9h0M606.6 652h0M625 650.3h0M592.9 655.2h0M612.4 657.3h0M591.8 658.9h0M590.9 660.6h0M583.2 655.4h0M599.2 653h0M600.6 654.4h0M611.3 661.6h0M604.4 656.4h0M606.8 655.7h0M626.3 657.1h0M581.3 661.3h0M597.7 665.5h0M617.9 658.7h0M599.7 650.2h0M598.7 663.9h0M608.6 656.8h0M610.6 657.5h0M604.6 654.4h0M591.8 662.4h0M586 656.4h0M618.1 658.1h0M592.9 659.1h0M612.7 654.3h0M618.2 657h0M623.7 654.1h0M621.2 667.8h0M588.4 656.6h0M620.8 654.3h0M617.6 657.5h0M598.3 651.9h0M625 661h0M623 656.2h0M610.7 661.3h0M602.4 658.3h0M622.7 661.1h0M620 652.8h0M616.4 651.7h0M587.6 659.6h0M576 656.2h0M624.7 655h0M610.4 652.9h0M595.7 657.6h0M595.3 661h0M579.4 663.5h0M615.4 665.3h0M627 657.3h0" stroke="#0568a8" stroke-width="2.8" stroke-linecap="round" fill="none" opacity="1"/>
<path d="M666.2 658.2h0M648.5 659.6h0M680.2 658.1h0M650.5 667h0M662.7 653.8h0M644.9 662.5h0M657.6 657.6h0M678.2 654.4h0M666.9 655.7h0M655 657.2h0M632.6 653.9h0M677.4 656.4h0M642.6 660.7h0M683.7 663.6h0M644.2 661h0M666.9 655.8h0M681.4 666.3h0M633.9 659.5h0M679.9 651h0M658.3 659.4h0M662.3 661.3h0M673.8 657h0M669.7 661.3h0M640.9 657.6h0M669.9 662.5h0M666.7 651.6h0M673.1 650h0M645.6 655.5h0M660.3 664.7h0M646.6 657.6h0M657.8 665.7h0M654.3 661.7h0M638.1 656.8h0M659.4 659.4h0M652.2 662.4h0M648.5 659.7h0M638.4 650.1h0M675.9 661.6h0M675.6 649.3h0M649 656.3h0M660.4 665.3h0M661.4 654h0M644.8 656.8h0M634.6 655.5h0M665.8 658.4h0M666 696.1h0M681.3 660.7h0M647.3 658.8h0M639.4 656.9h0M646.8 653.5h0M659.6 657.2h0M631.9 657.7h0M679.1 661.7h0M664.7 661.4h0M675.3 653.3h0M667.3 651.6h0M676.4 659h0M647.4 655.9h0M664.8 650.1h0M647.8 666.7h0M631.8 655.4h0M656.9 654.9h0M660 661.5h0M634.9 658.4h0M643 663.2h0M633.1 657.8h0M674.5 654h0M661.5 650.3h0M650.8 663.8h0M648.5 659h0M681.5 656.4h0M636.5 653.5h0M655 658.3h0M658.7 655.2h0M679.8 653.4h0M669 666.1h0M672.2 660.3h0M665.6 664.5h0M652.1 659.7h0M640.2 656h0M677.5 652.9h0M642.2 653.8h0M661.9 657h0M660.4 663h0M639.2 651.7h0M648.9 651.4h0M675.1 659h0M652.2 661.6h0M678.4 657.2h0M662.2 649h0M677.3 660h0M685 658.5h0M678.3 658.5h0M655.8 659.7h0M643.1 664.1h0M636.1 662.6h0M662.9 662.9h0M661.4 655.8h0M670 660.3h0M674.4 660.8h0M645.8 653.6h0M674.4 656.7h0M676.7 655.9h0M634.7 657.5h0M654.2 656.7h0M641.9 651.7h0M651.1 653.7h0M657.3 656.7h0M634.4 655.5h0M635.1 657.9h0M662.6 657.4h0M668.2 651.8h0M640.4 661.3h0M653.9 653.9h0M650.7 665.2h0M646 647.2h0M657.8 655.9h0M685.6 652h0M675.1 667h0M650.6 654.7h0M659.1 660.8h0M666.5 653.6h0M654.9 656.7h0M655.3 652.3h0M646.3 657h0M631 660h0M672.2 666.5h0M644 668.2h0M673.6 655.8h0M684.2 665.2h0M675.9 661.6h0M662.6 663.3h0M661.1 660.1h0M636.7 655.3h0M659.6 654.7h0M673.9 651.5h0M640.8 654h0M654.3 652.9h0M680.1 663.4h0M672.4 653h0M663.4 659.8h0M667.9 661.7h0M643.2 660.5h0M631.3 652.3h0M640.2 660.8h0M649.5 652h0M631.5 661.5h0M668.5 656.5h0M635.5 657.4h0M639.9 657.6h0M665.4 651.6h0M685.4 658.7h0M678.3 655.8h0M679.4 661.8h0M646.7 657h0M647.7 661.3h0M637.8 664.8h0M662.1 654.2h0M686 659.9h0M672.4 659.4h0M652.2 655.7h0M647.5 654.1h0M662.6 657.5h0M681.5 659.8h0M656 664.3h0M640 657.6h0M649.1 657.9h0M685.9 654.6h0M653.5 655h0M660.6 665.3h0M642.1 658.4h0M648.7 657.4h0M631.6 657.6h0M640.6 654h0M652.7 661.6h0M655.7 653.2h0M656.5 654.6h0M633.4 664.3h0M633.9 655.1h0M645.8 656.6h0M648.9 656.2h0M661.5 655.4h0M634.3 661.3h0M679.1 650.5h0M674.6 653.7h0M677 658.8h0M684.5 660.7h0M682.4 654.8h0M643.5 667.6h0M638.7 648.3h0M637 656.3h0M679.8 652h0M669 661.9h0M668.6 654.9h0M655.4 657.2h0M645.8 660.7h0M657.4 651.3h0M654.1 666.1h0M685.8 666h0M655.1 654.1h0M680.5 662.1h0M674 660.4h0M672.4 657.4h0M643.1 662.6h0M635.8 648.9h0M662.3 658.2h0M672.4 649.1h0M685.3 653.2h0M676.1 660.4h0M635.1 663.4h0M673.3 669.3h0M650.3 656.7h0M638.6 653.5h0M667.7 657.5h0M676.4 658h0M683.5 655.4h0M667.1 651.9h0M645.6 660.4h0M647.4 656.5h0M632 655.1h0M672.6 650.4h0M652.1 650.7h0M653.9 655.2h0M679.3 657h0M642.4 653.6h0M663 659.8h0M638.8 663h0M636.8 655.9h0M659 663.4h0M658.3 652.4h0M634 660.8h0M641.3 664.4h0M656 664.6h0M636.8 659.7h0M656.8 661.8h0M683.9 658h0M679.3 656.3h0M656.1 651h0M663.7 656.4h0M681.5 658.1h0M666.8 659.7h0M674.5 657.2h0M683.8 657.2h0M657.1 659.6h0M650.5 658h0M639.3 652.6h0M685.1 658.6h0M672.9 661.8h0M651.1 655.7h0M637.1 661.2h0M638 658.3h0M639.9 661.2h0M656.2 658.8h0M664.4 662.3h0M681.9 656.7h0M670.2 659.7h0M670.5 666.7h0M663.2 661.5h0M649.6 652.1h0M645.6 663.2h0M631.8 656h0M634.4 654h0M645.5 664h0M677.3 666.7h0M681.4 646.2h0M684 655.1h0M662.8 655.7h0M644.9 655.5h0M660.8 662.9h0M631.8 657.2h0M680.1 661.2h0M658.9 663.1h0M654.7 649.7h0M661.1 662.2h0M649.7 660h0M630.9 654.9h0M631.2 658.3h0M642 664.6h0M667.3 653h0M668.9 663.1h0M670.4 654.1h0M673.2 657.1h0M664.6 657.3h0M677.8 653.2h0M648.7 653.3h0M633.7 656.2h0M661.3 658.4h0M655 651.8h0M636.7 662.5h0M676.1 662.8h0M636.4 666.4h0M648.8 653.6h0M662.9 657.3h0M635.6 655.7h0M667.2 654h0M671.6 659.3h0M644.6 662.1h0M666.5 655.1h0M651.5 659h0M640.8 658.7h0M664.3 663.6h0M634.7 659.3h0M670.1 654.3h0M673.1 662.3h0M680.7 658.5h0M680.8 660.3h0M656.7 662.3h0M645.7 658.6h0M660.5 667.5h0M663.5 658h0M641.6 659.8h0M684.4 663.7h0M675.1 659.8h0M642.4 657.2h0M680.1 660.5h0M655.7 661h0M637.4 658.9h0M681 653.2h0M660.5 655.3h0M633.4 654.1h0M672.3 662.8h0M653.2 655.5h0M682.6 657.6h0M649.1 656.5h0M652.8 655.5h0M673.1 658h0M651.2 667.5h0M683.5 659.3h0M672.1 649.6h0M664.3 656.5h0M670.8 662.2h0M684.3 650.1h0M645.1 654h0M682.7 653.8h0M657.2 660.5h0M663.1 656.8h0M668.3 655.2h0M679.5 665.4h0M650.3 664.7h0M683.6 653.7h0M645.4 647.8h0M645.6 650.3h0M652.7 659.7h0M681.6 667.9h0M681.6 652.1h0M659.9 660.1h0M648.4 652.1h0M680.9 656.5h0M632.6 657.8h0M663 649.4h0M635 654.2h0M680.2 659h0M650.4 663.2h0M675.2 655.1h0M665.6 659.4h0M659.8 662.3h0M666.4 661.1h0M685.6 655.7h0M639 660.4h0M642.9 660.9h0M672.3 659.5h0M643.1 662.8h0M682.6 664.1h0M667.8 657.8h0M635.3 661.5h0M641.7 659h0M648.7 656.1h0M643.7 652.2h0M646.1 652.5h0M685.5 658.7h0M639.6 653.5h0M664.6 652.8h0M674.6 664h0M632.3 660.8h0M657.8 660.6h0M649.3 661.9h0M656 658.9h0M684.1 656.7h0M667.6 656.8h0M632.8 659.9h0M681.4 655.4h0M647.8 659.3h0M656.6 657.6h0M682.8 655.7h0M681.8 659.8h0M656.5 650.4h0M680.9 663.8h0M668.2 662.3h0M651.7 660.3h0M653.7 648.8h0M653.6 652.2h0M653.7 655.7h0M648 655.3h0M633 659.2h0M667.4 659.3h0M680.1 648.4h0M657 662.3h0M647.4 663.3h0M656.2 657h0M636.9 666h0M660 666.3h0M673.7 660.9h0M667.1 664.1h0M664.2 651.7h0M643.5 659.1h0M684.7 662.7h0M640.2 657.9h0M657.5 659h0M666 660.2h0M681 658.6h0M657.8 661.7h0M680.1 665.3h0M658.1 655.2h0M640.3 653.9h0M659.5 661.8h0M677.9 661.2h0M649.8 655.3h0M662.9 653.3h0M641.3 662h0M661.8 654.9h0M679.3 664h0M682.2 647.5h0M681.3 656.7h0M639.8 657.1h0M638.4 663.5h0M672.2 654h0M666.8 657h0M682.7 656.7h0M660.2 658.3h0M633.6 661.9h0M674.4 662.1h0M641.6 658.9h0M682.7 654.4h0M643.6 657.9h0M631.6 658h0M663.8 651.5h0M635.4 652.3h0M682.1 658.5h0M636.9 657h0M667.1 658.4h0M666.3 658.8h0M659 660.8h0M680.7 653.1h0M683.4 658.5h0M640.8 662.1h0M668.3 649.9h0M664.6 667.1h0M675.7 658.6h0M655.2 655.6h0M648.4 650.8h0M656.4 650.6h0M663.3 658.2h0M638 659.4h0M640.1 659.8h0M668.6 655.7h0M644 658.8h0M642.7 653.6h0M653.1 654.7h0M651.7 661.7h0M679.3 654.4h0M641.3 658.9h0M675.3 652.5h0M673.9 660.1h0M669.1 657.5h0M669.1 655.1h0M660.1 653.6h0M676.1 656.6h0M664.4 653.6h0M654.7 661.7h0M641.2 661.5h0M640.3 655.4h0M666.7 658.1h0M654.2 655.1h0M634.7 662.2h0M685.2 661.6h0M675.3 660.2h0M658.9 657h0M638.8 666.7h0M668.2 660.8h0M645.8 661.6h0" stroke="#0568a8" stroke-width="2.8" stroke-linecap="round" fill="none" opacity="1"/>
<path d="M697.2 662.7h0M712.8 657h0M690.3 653.3h0M691.1 656h0M694.4 654.2h0M695.7 651.2h0M701.4 659.1h0M698.9 656.5h0M727.5 659.4h0M706 651.9h0M727.8 651.6h0M706 652h0M691.5 645.5h0M733.8 654.7h0M688.5 652.7h0M719.3 648.8h0M722.7 642.2h0M722.8 654.4h0M701.3 650.7h0M694.8 654h0M690.3 654.5h0M735.5 649.3h0M707.3 651.4h0M735.2 643.2h0M690.7 661.8h0M731.1 659.4h0M717.9 660.8h0M709.1 654.7h0M729.7 651.9h0M706.2 653.9h0M709.7 656.6h0M704.7 652.2h0M699.4 654h0M716.6 655h0M735.2 644.7h0M737.5 655.1h0M732.9 650.2h0M717.1 658.2h0M711.7 654.8h0M696.9 657h0M707.5 648.3h0M714 655.3h0M715.4 652h0M735.6 659.3h0M733 658.6h0M735.5 652.2h0M707.4 658h0M719.1 662.6h0M728.3 655.7h0M697.3 659.5h0M698.6 651.7h0M704.8 651.6h0M734 651.6h0M713.1 662.8h0M734.5 653.4h0M699.8 657.3h0M705.5 657.9h0M705.7 656.4h0M689.9 655.7h0M690.2 656.5h0M706.9 653.5h0M729 646.5h0M730.6 648.5h0M703.9 655.2h0M730.6 655.7h0M736.2 651.8h0M719.4 651.2h0M722 647.7h0M727.5 645.5h0M728.6 657.7h0M727.7 649.2h0M736.6 649.8h0M710.9 650.3h0M716.6 650.6h0M728.3 659.2h0M726.1 653.5h0M725.7 657.5h0M720.5 652.3h0M691.6 660.9h0M733.9 651.8h0M710.5 646.2h0M735.3 655.3h0M710.4 651h0M691.3 652.7h0M723.7 647.6h0M721.3 657.8h0M698.2 658.8h0M721.1 656.8h0M736.5 650.9h0M688.8 656.2h0M719.2 651.4h0M726.1 655.8h0M725.7 659.6h0M735.3 650.9h0M727.4 659.4h0M706.7 649.6h0M703.6 650h0M691 650.6h0M721.7 654.9h0M723.9 648.7h0M720.5 652.3h0M711.3 658.1h0M695.7 657.2h0M721.4 657h0M724.6 655.3h0M693.7 650.9h0M698.5 656.6h0M722.4 653.8h0M712.1 669h0M714.1 650.2h0M738.7 650.7h0M691.8 655.9h0M709.8 654.5h0M692.8 647.3h0M725.5 655.7h0M713.4 655h0M701.1 660.9h0M731.4 653.3h0M723.2 649.7h0M720.8 658.3h0M721.5 647.1h0M726.3 652.3h0M690.8 654.7h0M699.4 650.8h0M725.4 649.4h0M721.5 656.3h0M702.3 652h0M727 649.7h0M738.4 661.9h0M717 656.1h0M697.1 654.3h0M702.6 647.8h0M726.3 652h0M738.4 656h0M693.4 665.1h0M720.4 653h0M734.6 655.5h0M733.9 649h0M735.4 650.6h0M728.5 648.6h0M706.6 655h0M693 650.1h0M734.8 655.1h0M707.2 661.6h0M694.2 650.7h0M710.2 652.4h0M734.8 655.8h0M722.2 656.5h0M738.9 652h0M720.2 647.8h0M726.7 649.6h0M692.8 649.1h0M704.9 655.1h0M727.7 658.6h0M691.7 662h0M706.8 654.8h0M720.7 655.2h0M690.2 663h0M725.7 664.2h0M734.4 648.9h0M705.6 657.6h0M727.3 653.4h0M734.2 657.7h0M729.1 651.4h0M730.1 644h0M735.6 659.4h0M739.3 650.4h0M739 651.5h0M699.6 659.8h0M718.5 644.7h0M712 653h0M732.1 650.3h0M730.8 659.1h0M698.7 656.1h0M698.2 648.8h0M732.2 662.8h0M690.9 657.2h0M697.4 647.2h0M695.1 649.9h0M699.3 650.5h0M706.6 651.4h0M699.3 664.4h0M720.9 657.8h0M735.6 654.3h0M738.9 657.9h0M725.3 647.2h0M689.4 644.8h0M727.9 647.7h0M697.2 655.6h0M689.8 656.6h0M714.3 652.9h0M694.2 657.7h0M694.1 653.3h0M732.9 649.4h0M705 651.5h0M736.9 672.1h0M731.4 655.8h0M711 652.8h0M698.4 653.8h0M692.9 653.9h0M703.8 657.4h0M718.1 654.1h0M705.2 653.6h0M708.7 646h0M734.6 662.9h0M718.4 656.3h0M735.4 658.3h0M709.5 653.7h0M725 651.7h0M699 654.4h0M718.2 654.6h0M689.8 653.5h0M701.9 660.9h0M697.5 661.1h0M737.2 651.8h0M730.6 652.8h0M703.1 661.2h0M712 656h0M703.6 656.7h0M719.2 653.8h0M727.1 645.4h0M695.8 653.1h0M735.6 654.7h0M715.2 655.6h0M707.5 667.6h0M695.4 648.8h0M722.5 653.3h0M714.8 650.8h0M695.9 649.9h0M730.1 657.3h0M735.6 657.1h0M733.2 657.6h0M688.8 646.9h0M694 652.1h0M729.1 663.2h0M699.1 650.9h0M727.3 651.2h0M728.4 650.7h0M739 660.4h0M707.9 654.2h0M714.2 647.4h0M734.3 659.5h0M722.8 652.3h0M714.2 657.4h0M696.7 654h0M728.9 642.6h0M701.2 649.4h0M736.9 654.1h0M701.6 651.7h0M737 655.7h0M702.3 655.3h0M719.9 652.3h0M729.7 653.6h0M701.2 652h0M726.9 653.1h0M703.5 655.6h0M721.6 651.5h0M720.6 671.1h0M732 651.9h0M738.8 666.4h0M723.1 659.1h0M727.2 654.6h0M733 654.3h0M692.8 651.7h0M699.4 649.4h0M724.7 654.9h0M724.8 662.8h0M705.2 651.1h0M730.7 658.7h0M703.6 653.8h0M739 652.9h0M736.3 653.8h0M693 658.6h0M689.3 654.7h0M712.7 644.6h0M707 651.3h0M719.9 657.4h0M693.6 656.5h0M728.3 658.1h0M736.3 655.3h0M705 646.6h0M692.3 655.1h0M707.1 646.7h0M724.6 656h0M738.7 651.3h0M721.6 657.4h0M711.2 650.4h0M710.6 649.8h0M718.9 649.4h0M728.1 642.6h0M723.3 643.7h0M706.4 655.5h0M728.4 656.3h0M700.3 651.9h0M711.5 650.4h0M694.3 652h0M699.5 651.3h0M719 648.5h0M729.3 647.9h0M731.5 650.3h0M715.8 653.9h0M736.5 652h0M724.1 648.2h0M693.7 654.5h0M693.6 648.7h0M696 655.2h0M727.5 653.2h0M718.5 656.6h0M696.5 651.9h0M729.6 657.3h0M715.7 662.3h0M724.5 656.4h0M732.9 655.9h0M736.7 652.4h0M691.8 649.5h0M723.8 672.9h0M712.4 656.7h0M735.8 653.9h0M701.3 649.5h0M717.5 658.6h0M721.1 652.7h0M715.4 652.8h0M699 644.6h0M734.2 652.2h0M723.2 650.3h0M699.5 650.2h0M724.7 653h0M737.6 654.5h0M713.7 652.8h0M714.6 653.5h0M692.8 649.6h0M703.3 655.7h0M730.5 655.4h0M731.3 652.3h0M737.5 654.8h0M696.3 654.6h0M704.2 661.4h0M705.5 656.3h0M693.7 647.6h0M690.6 652.7h0M700.9 655.2h0M710 652.7h0M726.5 657.9h0M712.2 653.3h0M715.2 650.5h0M690.3 661.2h0M725 647.6h0M708.6 653.1h0M733.5 661.4h0M724.4 642.9h0M710.4 647.6h0M711.5 657.6h0M691.2 646.9h0M731 656.8h0M712.6 657.2h0M720.9 650.1h0M711.2 650.6h0M714.9 661.7h0M708.1 645.1h0M718.6 650.9h0M705.8 652.5h0M723.2 652.8h0M719.8 651.7h0M699.9 652.2h0M729.5 656.8h0M716.2 651.4h0M698.1 651.1h0M716 653h0M726 660.6h0M719.2 655.3h0M723.2 652.4h0M700.3 659.1h0M697.6 655.7h0M735.8 654h0M724.2 653.9h0M696.8 657.4h0M698.4 646.7h0M729.7 651.4h0M732.6 653.1h0M721.1 652.2h0M721.8 653h0M727 651.9h0M690.1 655.7h0M719.8 651.5h0M705.1 654.6h0M713.2 647.6h0M721 653.4h0M718.5 653.5h0M732.1 654h0M723.2 653.7h0M700 651.5h0M733.1 651.9h0M694.7 655.6h0M712.3 661.6h0M716.9 651.6h0M716.9 655.8h0M704.9 649h0M736.8 646.7h0M719 657.4h0M700.4 647.4h0M705.8 649.5h0M724.4 655.7h0M692.7 658.2h0M711.5 655.2h0M706.3 651.9h0M695.4 662.5h0M716.5 656.6h0M698.5 653.3h0M718.6 648.3h0M716.8 655.9h0M713.6 653.7h0M707.5 651.6h0M705 652.7h0M730.5 654h0M736.2 651.8h0M702.3 645.1h0M703 647.8h0M704.7 660.7h0M710.4 658.4h0M728.4 662.2h0M708.2 652.7h0M709.8 658.2h0M718.1 657.2h0M735.9 656.6h0M737.2 655.2h0M700.7 654.5h0M729 659.3h0M718.7 658.5h0M715.7 651.7h0M705.2 650.3h0M724.8 654.3h0M703.2 660.8h0M698.2 645.7h0M711.2 655.3h0M734 646.4h0M702.6 661.1h0M728.6 651.9h0M717.6 654.8h0M733.1 652.2h0M699.9 653.5h0M732.9 650.6h0M704.4 648.9h0M711.1 655.2h0M693.2 645.6h0M713.5 657.5h0M726.9 648.6h0M730.6 654.4h0M723.2 650.1h0M709.3 654.4h0M726.1 659.3h0M699.7 652.2h0M690.6 654.3h0M695 653.4h0M697.2 666.6h0M725.6 653.8h0M701.9 654.4h0M694.9 669.4h0M704.3 663.5h0M725.8 647h0M696.2 656.4h0M709.8 659.3h0M713.6 652.7h0M720.7 654.8h0M723.5 650.5h0M704.4 650.4h0M718.8 669.9h0M722.3 652.1h0M731.8 653.9h0M733.4 656.9h0M735.1 647.2h0M720.2 657.5h0M718.5 643.8h0M736 651.9h0M729.5 650.3h0M727.3 656.2h0M732.3 653.8h0M729.7 652.6h0M719 656.3h0M721 650.7h0M708.3 647.1h0" stroke="#0568a8" stroke-width="2.8" stroke-linecap="round" fill="none" opacity="1"/>
<path d="M147.1 576.3V776M197.5 576.3V776M248.8 576.3V776M356.7 576.3V776M410.4 576.3V776M465.1 576.3V776M574.6 576.3V776M629.7 576.3V776M687.3 576.3V776" stroke="#333" stroke-width="1.6" fill="none" opacity="0.3"/>
<path d="M147.1 576.3V776M197.5 576.3V776M248.8 576.3V776M356.7 576.3V776M410.4 576.3V776M465.1 576.3V776M574.6 576.3V776M629.7 576.3V776M687.3 576.3V776" stroke="#1c1c1c" stroke-width="1.9" stroke-dasharray="1.1 0.9" stroke-dashoffset="1.30" fill="none" opacity="0.62"/>
<path d="M94 776V576.3H740.5V776Z" stroke="#4a4a4a" stroke-width="1.4" fill="none"/>
<text x="120.6" y="794.4" text-anchor="middle" font-family='"DejaVu Sans","Liberation Sans",sans-serif' font-size="9.4" fill="#5c5c5c">E05</text>
<text x="172.3" y="794.4" text-anchor="middle" font-family='"DejaVu Sans","Liberation Sans",sans-serif' font-size="9.4" fill="#5c5c5c">F05</text>
<text x="223" y="794.4" text-anchor="middle" font-family='"DejaVu Sans","Liberation Sans",sans-serif' font-size="9.4" fill="#5c5c5c">G05</text>
<text x="275.6" y="794.4" text-anchor="middle" font-family='"DejaVu Sans","Liberation Sans",sans-serif' font-size="9.4" fill="#5c5c5c">H05</text>
<text x="329.1" y="794.4" text-anchor="middle" font-family='"DejaVu Sans","Liberation Sans",sans-serif' font-size="9.4" fill="#5c5c5c">A06</text>
<text x="383.4" y="794.4" text-anchor="middle" font-family='"DejaVu Sans","Liberation Sans",sans-serif' font-size="9.4" fill="#5c5c5c">B06</text>
<text x="437" y="794.4" text-anchor="middle" font-family='"DejaVu Sans","Liberation Sans",sans-serif' font-size="9.4" fill="#5c5c5c">C06</text>
<text x="491.9" y="794.4" text-anchor="middle" font-family='"DejaVu Sans","Liberation Sans",sans-serif' font-size="9.4" fill="#5c5c5c">D06</text>
<text x="546.6" y="794.4" text-anchor="middle" font-family='"DejaVu Sans","Liberation Sans",sans-serif' font-size="9.4" fill="#5c5c5c">E06</text>
<text x="602.4" y="794.4" text-anchor="middle" font-family='"DejaVu Sans","Liberation Sans",sans-serif' font-size="9.4" fill="#5c5c5c">F06</text>
<text x="658.3" y="794.4" text-anchor="middle" font-family='"DejaVu Sans","Liberation Sans",sans-serif' font-size="9.4" fill="#5c5c5c">G06</text>
<text x="714" y="794.4" text-anchor="middle" font-family='"DejaVu Sans","Liberation Sans",sans-serif' font-size="9.4" fill="#5c5c5c">H06</text>
<rect x="297.4" y="566" width="4.5" height="210.6" fill="#a23b80"/>
<rect x="517.2" y="565" width="4.5" height="211.6" fill="#a23b80"/>
<text x="205" y="820" text-anchor="middle" font-family='"Liberation Sans",sans-serif' font-size="17.6" font-weight="bold" fill="#000">Dilution C</text>
<text x="417.5" y="820" text-anchor="middle" font-family='"Liberation Sans",sans-serif' font-size="17.6" font-weight="bold" fill="#000">Dilution&#160; D (1:10 of C)</text>
<text x="634.5" y="820" text-anchor="middle" font-family='"Liberation Sans",sans-serif' font-size="17.6" font-weight="bold" fill="#000">Dilution E (1:10 of D)</text>
<text transform="translate(21 927.5) rotate(-90)" text-anchor="middle" font-family='"Liberation Sans",sans-serif' font-size="19.5" fill="#000">Concentration</text>
<text transform="translate(44.5 927.5) rotate(-90)" text-anchor="middle" font-family='"Liberation Sans",sans-serif' font-size="19.5" fill="#000">(copies/ul)</text>
<rect x="93.8" y="828" width="643.7" height="188.29999999999995" fill="#f5f5f5"/>
<path d="M147.1 828V1016.3M200.5 828V1016.3M254.6 828V1016.3M308.9 828V1016.3M361.9 828V1016.3M415.3 828V1016.3M468.7 828V1016.3M523.1 828V1016.3M575.6 828V1016.3M629.3 828V1016.3M682.9 828V1016.3M85.8 874H737.5M85.8 937H737.5M85.8 1000.5H737.5" stroke="#d3d3d3" stroke-width="1.4" fill="none"/>
<rect x="93.8" y="828" width="643.7" height="188.29999999999995" fill="none" stroke="#3f3f3f" stroke-width="1.5"/>
<text x="68" y="875.7" font-family='"Liberation Sans",sans-serif' font-size="15.2" fill="#111">10<tspan font-size="9.2" dy="-7.4">3</tspan></text>
<text x="68" y="938.7" font-family='"Liberation Sans",sans-serif' font-size="15.2" fill="#111">10<tspan font-size="9.2" dy="-7.4">2</tspan></text>
<text x="68" y="1003.5" font-family='"Liberation Sans",sans-serif' font-size="15.2" fill="#111">10</text>
<path d="M101.3 858.4h21M101.3 859.6h21" stroke="#8a8a8a" stroke-width="0.8"/>
<rect x="108.2" y="855.4" width="7.2" height="7.2" fill="#d28ee8" stroke="#c35ce0" stroke-width="1.6"/>
<rect x="110.9" y="858.1" width="1.8" height="1.8" fill="#d9c0e0"/>
<text x="111" y="846.8" text-anchor="middle" font-family='"DejaVu Sans","Liberation Sans",sans-serif' font-size="10" fill="#3a3a3a">1719</text>
<path d="M155.3 858.4h21M155.3 859.6h21" stroke="#8a8a8a" stroke-width="0.8"/>
<rect x="162.2" y="855.4" width="7.2" height="7.2" fill="#d28ee8" stroke="#c35ce0" stroke-width="1.6"/>
<rect x="164.9" y="858.1" width="1.8" height="1.8" fill="#d9c0e0"/>
<text x="165" y="874.6" text-anchor="middle" font-family='"DejaVu Sans","Liberation Sans",sans-serif' font-size="10" fill="#3a3a3a">1711</text>
<path d="M208.5 860.1999999999999h21M208.5 861.4h21" stroke="#8a8a8a" stroke-width="0.8"/>
<rect x="215.4" y="857.2" width="7.2" height="7.2" fill="#d28ee8" stroke="#c35ce0" stroke-width="1.6"/>
<rect x="218.1" y="859.9" width="1.8" height="1.8" fill="#d9c0e0"/>
<text x="218.2" y="848.6" text-anchor="middle" font-family='"DejaVu Sans","Liberation Sans",sans-serif' font-size="10" fill="#3a3a3a">1619</text>
<path d="M262.0 859.9h21M262.0 861.1h21" stroke="#8a8a8a" stroke-width="0.8"/>
<rect x="268.9" y="856.9" width="7.2" height="7.2" fill="#d28ee8" stroke="#c35ce0" stroke-width="1.6"/>
<rect x="271.6" y="859.6" width="1.8" height="1.8" fill="#d9c0e0"/>
<text x="271.7" y="876.1" text-anchor="middle" font-family='"DejaVu Sans","Liberation Sans",sans-serif' font-size="10" fill="#3a3a3a">1624</text>
<path d="M315.8 922.0999999999999h21M315.8 924.5h21" stroke="#8a8a8a" stroke-width="0.8"/>
<rect x="322.7" y="919.7" width="7.2" height="7.2" fill="#d28ee8" stroke="#c35ce0" stroke-width="1.6"/>
<rect x="325.4" y="922.4" width="1.8" height="1.8" fill="#d9c0e0"/>
<text x="325.5" y="911.1" text-anchor="middle" font-family='"DejaVu Sans","Liberation Sans",sans-serif' font-size="10" fill="#3a3a3a">164</text>
<path d="M369.3 922.0999999999999h21M369.3 924.5h21" stroke="#8a8a8a" stroke-width="0.8"/>
<rect x="376.2" y="919.7" width="7.2" height="7.2" fill="#d28ee8" stroke="#c35ce0" stroke-width="1.6"/>
<rect x="378.9" y="922.4" width="1.8" height="1.8" fill="#d9c0e0"/>
<text x="379" y="938.9" text-anchor="middle" font-family='"DejaVu Sans","Liberation Sans",sans-serif' font-size="10" fill="#3a3a3a">166</text>
<path d="M423.0 921.0999999999999h21M423.0 923.5h21" stroke="#8a8a8a" stroke-width="0.8"/>
<rect x="429.9" y="918.7" width="7.2" height="7.2" fill="#d28ee8" stroke="#c35ce0" stroke-width="1.6"/>
<rect x="432.6" y="921.4" width="1.8" height="1.8" fill="#d9c0e0"/>
<text x="432.7" y="910.1" text-anchor="middle" font-family='"DejaVu Sans","Liberation Sans",sans-serif' font-size="10" fill="#3a3a3a">171</text>
<path d="M476.3 921.0999999999999h21M476.3 923.5h21" stroke="#8a8a8a" stroke-width="0.8"/>
<rect x="483.2" y="918.7" width="7.2" height="7.2" fill="#d28ee8" stroke="#c35ce0" stroke-width="1.6"/>
<rect x="485.9" y="921.4" width="1.8" height="1.8" fill="#d9c0e0"/>
<text x="486" y="937.9" text-anchor="middle" font-family='"DejaVu Sans","Liberation Sans",sans-serif' font-size="10" fill="#3a3a3a">171</text>
<path d="M530.0 983.5999999999999h21M530.0 990.0h21" stroke="#8a8a8a" stroke-width="0.8"/>
<rect x="536.9" y="983.2" width="7.2" height="7.2" fill="#d28ee8" stroke="#c35ce0" stroke-width="1.6"/>
<rect x="539.6" y="985.9" width="1.8" height="1.8" fill="#d9c0e0"/>
<text x="539.7" y="971.7" text-anchor="middle" font-family='"DejaVu Sans","Liberation Sans",sans-serif' font-size="10" fill="#3a3a3a">16.3</text>
<path d="M582.8 985.3h21M582.8 991.7h21" stroke="#8a8a8a" stroke-width="0.8"/>
<rect x="589.7" y="984.9" width="7.2" height="7.2" fill="#d28ee8" stroke="#c35ce0" stroke-width="1.6"/>
<rect x="592.4" y="987.6" width="1.8" height="1.8" fill="#d9c0e0"/>
<text x="592.5" y="1006.4" text-anchor="middle" font-family='"DejaVu Sans","Liberation Sans",sans-serif' font-size="10" fill="#3a3a3a">15.4</text>
<path d="M637.0 984.3h21M637.0 990.7h21" stroke="#8a8a8a" stroke-width="0.8"/>
<rect x="643.9" y="983.9" width="7.2" height="7.2" fill="#d28ee8" stroke="#c35ce0" stroke-width="1.6"/>
<rect x="646.6" y="986.6" width="1.8" height="1.8" fill="#d9c0e0"/>
<text x="646.7" y="1005.4" text-anchor="middle" font-family='"DejaVu Sans","Liberation Sans",sans-serif' font-size="10" fill="#3a3a3a">16</text>
<path d="M691.0 983.5999999999999h21M691.0 990.0h21" stroke="#8a8a8a" stroke-width="0.8"/>
<rect x="697.9" y="983.2" width="7.2" height="7.2" fill="#d28ee8" stroke="#c35ce0" stroke-width="1.6"/>
<rect x="700.6" y="985.9" width="1.8" height="1.8" fill="#d9c0e0"/>
<text x="700.7" y="971.7" text-anchor="middle" font-family='"DejaVu Sans","Liberation Sans",sans-serif' font-size="10" fill="#3a3a3a">16.4</text>
<rect x="306.6" y="807.5" width="4.5" height="210.5" fill="#a23b80"/>
<rect x="520.9" y="807" width="4.5" height="211" fill="#a23b80"/>
<text x="881" y="27.3" text-anchor="start" font-family='"Liberation Sans",sans-serif' font-size="23" font-weight="bold" fill="#000">c.</text>
<rect x="1025.4" y="1.8" width="520.8999999999999" height="43.300000000000004" rx="2" fill="#c5e0b4" stroke="#00b050" stroke-width="4.2"/>
<text x="1285.4" y="32.1" text-anchor="middle" font-family='"Liberation Sans",sans-serif' font-size="23.5" font-weight="bold" fill="#000">Assay specificity (cross-reactivity)</text>
<text x="1020" y="72" text-anchor="middle" font-family='"Liberation Sans",sans-serif' font-size="19.4" font-weight="bold" fill="#000">V600E AC-TT</text>
<text x="1020" y="95.8" text-anchor="middle" font-family='"Liberation Sans",sans-serif' font-size="19.4" font-weight="bold" fill="#000">gBlock dilution D</text>
<text x="1256" y="72" text-anchor="middle" font-family='"Liberation Sans",sans-serif' font-size="19.4" font-weight="bold" fill="#000">V600E A&gt;T</text>
<text x="1256" y="95.8" text-anchor="middle" font-family='"Liberation Sans",sans-serif' font-size="19.4" font-weight="bold" fill="#000">gBlock dilution D</text>
<text x="1472" y="71.5" text-anchor="middle" font-family='"Liberation Sans",sans-serif' font-size="19.4" font-weight="bold" fill="#000">V600K gBlock</text>
<text x="1472" y="94.8" text-anchor="middle" font-family='"Liberation Sans",sans-serif' font-size="19.4" font-weight="bold" fill="#000">dilution D</text>
<text transform="translate(833.5 198.3) rotate(-90)" text-anchor="middle" font-family='"Liberation Sans",sans-serif' font-size="19.8" fill="#000">Ch 1 (FAM)</text>
<text transform="translate(857 196.3) rotate(-90)" text-anchor="middle" font-family='"Liberation Sans",sans-serif' font-size="19.8" fill="#000">amplitude</text>
<text transform="translate(833.2 410) rotate(-90)" text-anchor="middle" font-family='"Liberation Sans",sans-serif' font-size="19.8" fill="#000">Ch 2 (HEX)</text>
<text transform="translate(856.7 409.5) rotate(-90)" text-anchor="middle" font-family='"Liberation Sans",sans-serif' font-size="19.8" fill="#000">amplitude</text>
<rect x="921.7" y="98.2" width="649.5" height="196.3" fill="#f5f5f5"/>
<path d="M911.7 294.5H1571.2M911.7 261.8H1571.2M911.7 229.1H1571.2M911.7 196.3H1571.2M911.7 163.6H1571.2M911.7 130.9H1571.2M911.7 98.2H1571.2" stroke="#d6d6d6" stroke-width="1.1" fill="none"/>
<path d="M948.2 101.2V294.5M1003.7 101.2V294.5M1058.8 101.2V294.5M1111 101.2V294.5M1163.1 101.2V294.5M1215 101.2V294.5M1271.4 101.2V294.5M1327.9 101.2V294.5M1381.2 101.2V294.5M1434.2 101.2V294.5M1488.5 101.2V294.5M1542.6 101.2V294.5" stroke="#cfcfcf" stroke-width="1" stroke-dasharray="1.6 5.4" fill="none"/>
<path d="M948.2 287V294.5M1003.7 287V294.5M1058.8 287V294.5M1111 287V294.5M1163.1 287V294.5M1215 287V294.5M1271.4 287V294.5M1327.9 287V294.5M1381.2 287V294.5M1434.2 287V294.5M1488.5 287V294.5M1542.6 287V294.5" stroke="#c2c2c2" stroke-width="1" fill="none"/>
<text x="902.7" y="298" text-anchor="end" font-family='"DejaVu Sans","Liberation Sans",sans-serif' font-size="9.7" fill="#505050">0</text>
<text x="902.7" y="265.3" text-anchor="end" font-family='"DejaVu Sans","Liberation Sans",sans-serif' font-size="9.7" fill="#505050">2000</text>
<text x="902.7" y="232.6" text-anchor="end" font-family='"DejaVu Sans","Liberation Sans",sans-serif' font-size="9.7" fill="#505050">4000</text>
<text x="902.7" y="199.8" text-anchor="end" font-family='"DejaVu Sans","Liberation Sans",sans-serif' font-size="9.7" fill="#505050">6000</text>
<text x="902.7" y="167.1" text-anchor="end" font-family='"DejaVu Sans","Liberation Sans",sans-serif' font-size="9.7" fill="#505050">8000</text>
<text x="902.7" y="134.4" text-anchor="end" font-family='"DejaVu Sans","Liberation Sans",sans-serif' font-size="9.7" fill="#505050">10000</text>
<text x="902.7" y="101.7" text-anchor="end" font-family='"DejaVu Sans","Liberation Sans",sans-serif' font-size="9.7" fill="#505050">12000</text>
<path d="M921.7 243L923 243.6L924.3 244L925.6 243.2L926.9 243.4L928.2 243.9L929.5 243.2L930.8 243.9L932.1 243.4L933.4 243.6L934.7 243.2L936 243.8L937.3 243.8L938.6 243.7L939.9 243.3L941.2 243.1L942.5 243.4L943.8 243.2L945.1 243.8L946.4 243.5L947.7 243.1L949 243.3L950.3 243.5L951.6 243.8L952.9 243.3L954.2 243L955.5 243.1L956.8 243.4L958.1 243.9L959.4 243.5L960.7 243.1L962 243.9L963.3 243.5L964.6 243.5L965.9 243.2L967.2 243.6L968.5 243.9L969.8 243.2L971.1 243.3L972.4 243L973.7 243.4L975 243.8L975.5 243.2L975.5 253.3L975 253.2L973.7 252.9L972.4 253L971.1 253L969.8 253.3L968.5 253.3L967.2 253.4L965.9 253L964.6 253.4L963.3 253.4L962 253.1L960.7 252.9L959.4 253.2L958.1 252.8L956.8 252.8L955.5 253.1L954.2 253.5L952.9 253L951.6 253.6L950.3 252.9L949 253.3L947.7 253.3L946.4 252.8L945.1 252.9L943.8 253.1L942.5 253.6L941.2 253.2L939.9 252.8L938.6 253.3L937.3 253.3L936 253.1L934.7 253.1L933.4 252.7L932.1 253.6L930.8 252.8L929.5 253L928.2 252.9L926.9 253.4L925.6 253.4L924.3 253.1L923 252.9L921.7 252.8Z" fill="#7a7a7a"/>
<path d="M967.9 253.2h0M933.9 241.9h0M930.9 254.2h0M922.8 240.9h0M974.1 240.7h0M951.2 243.3h0M955.7 242.8h0M957.3 242.1h0M937.2 242.5h0M948.2 243.4h0M952.6 243.2h0M956.1 253.9h0M971.5 242.8h0" stroke="#7a7a7a" stroke-width="2.8" stroke-linecap="round" fill="none" opacity="1"/>
<rect transform="translate(921.7 249.7)" x="0" y="-4.3" width="53.8" height="8.5" fill="url(#gG3)"/>
<path d="M975.5 244L976.8 243.5L978.1 243.3L979.4 243.7L980.7 243.9L982 243.3L983.3 243.1L984.6 243.5L985.9 244L987.2 243.4L988.5 243.8L989.8 243.3L991.1 243L992.4 243.7L993.7 243.9L995 243.4L996.3 243.1L997.6 243.7L998.9 243.5L1000.2 243.5L1001.5 243.2L1002.8 244L1004.1 243.8L1005.4 243.2L1006.7 244L1008 244L1009.3 243.6L1010.6 243.7L1011.9 243.4L1013.2 244L1014.5 243.7L1015.8 244L1017.1 243.2L1018.4 244L1019.7 243L1021 243.4L1022.3 243.2L1023.6 243.3L1024.9 244L1026.2 243.6L1027.5 243.9L1028.8 243.2L1030.1 243.7L1031.4 243.6L1031.7 243.9L1031.7 252.9L1031.4 253L1030.1 253.2L1028.8 253.2L1027.5 252.7L1026.2 253.1L1024.9 253.2L1023.6 253.2L1022.3 253.1L1021 253.5L1019.7 253.2L1018.4 253.1L1017.1 252.8L1015.8 253L1014.5 252.9L1013.2 253L1011.9 252.9L1010.6 252.9L1009.3 253.5L1008 253L1006.7 252.8L1005.4 253.2L1004.1 253.1L1002.8 253.5L1001.5 253.2L1000.2 253.2L998.9 253.4L997.6 252.8L996.3 253.3L995 253.5L993.7 253.5L992.4 253.3L991.1 253.3L989.8 252.9L988.5 253.4L987.2 253.2L985.9 253.2L984.6 253L983.3 252.8L982 253.4L980.7 253.5L979.4 253.3L978.1 252.9L976.8 253.1L975.5 253Z" fill="#7a7a7a"/>
<path d="M1004.9 254h0M994.8 254h0M1022.9 242h0M1008.8 241.9h0M1018.3 253.8h0M1019.4 242.4h0M1004.7 253.1h0M1000.6 254h0M990.6 242.1h0M1007.5 253.2h0M984.1 243.3h0M991.5 242.2h0M1027.9 253.7h0M1000.5 243.3h0" stroke="#7a7a7a" stroke-width="2.8" stroke-linecap="round" fill="none" opacity="1"/>
<rect transform="translate(975.5 249.7)" x="0" y="-4.3" width="56.2" height="8.5" fill="url(#gG3)"/>
<path d="M1031.7 243L1033 243.9L1034.3 243.5L1035.6 243.1L1036.9 243.3L1038.2 243.8L1039.5 243.3L1040.8 243.2L1042.1 243.3L1043.4 243.9L1044.7 243.4L1046 243L1047.3 243.6L1048.6 243.8L1049.9 243L1051.2 243.7L1052.5 243.6L1053.8 243.4L1055.1 243.9L1056.4 243.8L1057.7 243.6L1059 243.1L1060.3 243.8L1061.6 243.2L1062.9 243.6L1064.2 243.2L1065.5 243.7L1066.8 243.2L1068.1 243.6L1069.4 243.1L1070.7 243.3L1072 243.5L1073.3 243.9L1074.6 243.5L1075.9 243.5L1077.2 243.6L1078.5 243L1079.8 243.6L1081.1 243.1L1082.4 243.7L1083.7 243.5L1085 243.2L1085.6 243.8L1085.6 252.7L1085 252.8L1083.7 253.5L1082.4 253.4L1081.1 253L1079.8 253L1078.5 253.4L1077.2 253.6L1075.9 253.6L1074.6 253.5L1073.3 252.7L1072 253L1070.7 252.9L1069.4 253.6L1068.1 253.1L1066.8 253.2L1065.5 253.5L1064.2 253.3L1062.9 252.8L1061.6 253L1060.3 252.9L1059 253.2L1057.7 253.6L1056.4 253.4L1055.1 253.1L1053.8 253.2L1052.5 252.8L1051.2 253.3L1049.9 253.5L1048.6 253.3L1047.3 253.6L1046 253.2L1044.7 253.2L1043.4 253.2L1042.1 252.7L1040.8 253L1039.5 253.5L1038.2 253.1L1036.9 253L1035.6 252.8L1034.3 253.4L1033 253.5L1031.7 252.8Z" fill="#7a7a7a"/>
<path d="M1064.3 254.1h0M1054.9 242.3h0M1035 243.3h0M1083.3 240.8h0M1036.6 241.8h0M1072.8 253.7h0M1036.4 253.5h0M1079.2 241.4h0M1040.8 243h0M1053.4 254.4h0M1039 242.6h0M1034.2 253.7h0M1060 241.8h0" stroke="#7a7a7a" stroke-width="2.8" stroke-linecap="round" fill="none" opacity="1"/>
<rect transform="translate(1031.7 249.7)" x="0" y="-4.3" width="53.9" height="8.5" fill="url(#gG3)"/>
<path d="M1085.6 243.2L1086.9 243.6L1088.2 243.3L1089.5 243.8L1090.8 243.1L1092.1 243.3L1093.4 243.8L1094.7 243.2L1096 243.5L1097.3 243.7L1098.6 243.1L1099.9 243.9L1101.2 243.1L1102.5 243.1L1103.8 243.3L1105.1 243.1L1106.4 243.1L1107.7 243.8L1109 243.3L1110.3 243L1111.6 243.6L1112.9 243.1L1114.2 243.8L1115.5 243L1116.8 243.9L1118.1 243.6L1119.4 243.3L1120.7 244L1122 243L1123.3 243.1L1124.6 243.8L1125.9 243L1127.2 243.7L1128.5 243.4L1129.8 243L1131.1 244L1132.4 243.7L1133.7 243.8L1135 243.6L1136.3 243.3L1136.9 243.6L1136.9 252.8L1136.3 253.3L1135 253.6L1133.7 253.1L1132.4 253L1131.1 253.3L1129.8 253.4L1128.5 253.1L1127.2 253.5L1125.9 252.8L1124.6 252.8L1123.3 253.3L1122 252.8L1120.7 253.4L1119.4 253.5L1118.1 253.3L1116.8 253.3L1115.5 252.9L1114.2 253.4L1112.9 253.6L1111.6 253.2L1110.3 253.4L1109 253.5L1107.7 253.4L1106.4 252.9L1105.1 253.5L1103.8 253.5L1102.5 253L1101.2 253.5L1099.9 253.5L1098.6 253.6L1097.3 253.1L1096 253.1L1094.7 253.5L1093.4 253.2L1092.1 253.1L1090.8 253L1089.5 253.6L1088.2 253.4L1086.9 252.8L1085.6 252.8Z" fill="#7a7a7a"/>
<path d="M1087 242.3h0M1125.2 253.4h0M1102 253.2h0M1135 253.9h0M1104.2 242.9h0M1117.6 240.9h0M1094.2 243h0M1088.8 254.5h0M1118 242.8h0M1118.6 242.4h0M1114.3 243.5h0M1113.6 243.2h0" stroke="#7a7a7a" stroke-width="2.8" stroke-linecap="round" fill="none" opacity="1"/>
<rect transform="translate(1085.6 249.7)" x="0" y="-4.3" width="51.3" height="8.5" fill="url(#gG3)"/>
<path d="M1136.9 243.1L1138.2 243.7L1139.5 243L1140.8 243.9L1142.1 243.4L1143.4 243L1144.7 243L1146 243.5L1147.3 243.8L1148.6 243.4L1149.9 243.7L1151.2 243.6L1152.5 243.7L1153.8 243.6L1155.1 243.2L1156.4 243.5L1157.7 243.8L1159 243.1L1160.3 243L1161.6 243.4L1162.9 243L1164.2 243.5L1165.5 243.6L1166.8 244L1168.1 243.2L1169.4 243.1L1170.7 243.8L1172 243.3L1173.3 243.9L1174.6 243.1L1175.9 243.2L1177.2 243.7L1178.5 243.9L1179.8 243.7L1181.1 243.2L1182.4 243.4L1183.7 243.1L1185 243.4L1186.3 243.4L1187.6 243.4L1188.7 244L1188.7 253.2L1187.6 253.2L1186.3 252.7L1185 253.3L1183.7 253.5L1182.4 253.2L1181.1 252.8L1179.8 252.8L1178.5 252.9L1177.2 253.4L1175.9 253.6L1174.6 253.5L1173.3 253L1172 253.2L1170.7 253.1L1169.4 252.8L1168.1 253L1166.8 253.2L1165.5 253.1L1164.2 253.2L1162.9 253.2L1161.6 253.5L1160.3 253.1L1159 253.5L1157.7 252.9L1156.4 252.8L1155.1 253.3L1153.8 253.1L1152.5 253.6L1151.2 253.1L1149.9 253L1148.6 253.2L1147.3 253.4L1146 253.1L1144.7 252.8L1143.4 253.2L1142.1 253.1L1140.8 252.9L1139.5 253L1138.2 252.8L1136.9 253.5Z" fill="#7a7a7a"/>
<path d="M1141.6 253.3h0M1174.5 242.1h0M1167.8 243.1h0M1179.1 254h0M1186.1 242.8h0M1171.5 253.2h0M1145.3 242.2h0M1180.7 253.1h0M1144.8 243.3h0M1175.6 242.6h0M1154.6 253.7h0M1160 242.2h0" stroke="#7a7a7a" stroke-width="2.8" stroke-linecap="round" fill="none" opacity="1"/>
<rect transform="translate(1136.9 249.7)" x="0" y="-4.3" width="51.8" height="8.5" fill="url(#gG3)"/>
<path d="M1188.7 243.7L1190 243.2L1191.3 243.2L1192.6 243.4L1193.9 243.2L1195.2 243.1L1196.5 243.9L1197.8 243.6L1199.1 243.4L1200.4 243.1L1201.7 243.5L1203 243.2L1204.3 243.4L1205.6 243.6L1206.9 243.8L1208.2 243.6L1209.5 243.6L1210.8 243.1L1212.1 243.9L1213.4 243.1L1214.7 243.6L1216 243.2L1217.3 243.7L1218.6 243.8L1219.9 243.4L1221.2 243.4L1222.5 244L1223.8 243L1225.1 243.4L1226.4 243.8L1227.7 243.1L1229 243.3L1230.3 243L1231.6 243.8L1232.9 243.4L1234.2 243.3L1235.5 243.4L1236.8 244L1238.1 243.4L1239.4 243.9L1240.7 243.2L1242 243L1243.3 243.2L1244.4 243.2L1244.4 253L1243.3 253.4L1242 253.3L1240.7 253.2L1239.4 253.2L1238.1 253L1236.8 252.8L1235.5 253.6L1234.2 252.8L1232.9 253.2L1231.6 253.3L1230.3 252.7L1229 252.9L1227.7 253.2L1226.4 253L1225.1 253.1L1223.8 253.2L1222.5 253.2L1221.2 253.1L1219.9 252.9L1218.6 252.8L1217.3 253.3L1216 252.9L1214.7 253.3L1213.4 253.5L1212.1 253.5L1210.8 253.4L1209.5 253.1L1208.2 253L1206.9 253.2L1205.6 252.9L1204.3 253.3L1203 253.4L1201.7 253.5L1200.4 253.2L1199.1 253.1L1197.8 253.3L1196.5 253.5L1195.2 253.1L1193.9 253.2L1192.6 252.9L1191.3 253.2L1190 252.9L1188.7 253.6Z" fill="#7a7a7a"/>
<path d="M1233.1 253.5h0M1201.6 253.3h0M1195.2 242.7h0M1205.2 253.6h0M1238.1 254.1h0M1209.9 243.3h0M1197.5 253.2h0M1223.4 253.8h0M1200.7 241.5h0M1220.6 242.8h0M1230.1 254.1h0M1205.7 243.1h0M1194.5 243.4h0" stroke="#7a7a7a" stroke-width="2.8" stroke-linecap="round" fill="none" opacity="1"/>
<rect transform="translate(1188.7 249.7)" x="0" y="-4.3" width="55.7" height="8.5" fill="url(#gG3)"/>
<path d="M1244.4 243.1L1245.7 243.6L1247 243.4L1248.3 243.4L1249.6 243L1250.9 244L1252.2 243.4L1253.5 243.1L1254.8 244L1256.1 243.7L1257.4 243.3L1258.7 243.5L1260 243.8L1261.3 243.3L1262.6 243.1L1263.9 243.3L1265.2 243.9L1266.5 243.9L1267.8 243.9L1269.1 243.1L1270.4 243.7L1271.7 243.3L1273 243.1L1274.3 243.3L1275.6 243.4L1276.9 243.8L1278.2 243L1279.5 243.3L1280.8 243.5L1282.1 243.9L1283.4 243.9L1284.7 243.6L1286 243.3L1287.3 243.2L1288.6 243.1L1289.9 243.6L1291.2 243.2L1292.5 243.5L1293.8 243.6L1295.1 243.5L1296.4 243.7L1297.7 243.6L1299 243.8L1299.7 243.5L1299.7 253.1L1299 253.5L1297.7 252.9L1296.4 253.6L1295.1 253.2L1293.8 253.2L1292.5 253.2L1291.2 252.9L1289.9 253L1288.6 253L1287.3 252.8L1286 252.7L1284.7 252.8L1283.4 253.4L1282.1 253.5L1280.8 252.7L1279.5 252.8L1278.2 252.9L1276.9 252.8L1275.6 253.1L1274.3 252.8L1273 253.3L1271.7 253.6L1270.4 253.3L1269.1 252.9L1267.8 253.3L1266.5 252.7L1265.2 252.9L1263.9 253.1L1262.6 253.3L1261.3 252.9L1260 252.7L1258.7 252.9L1257.4 252.8L1256.1 252.8L1254.8 253.3L1253.5 253.5L1252.2 253.6L1250.9 253.1L1249.6 252.9L1248.3 253.3L1247 253L1245.7 253.1L1244.4 253.2Z" fill="#7a7a7a"/>
<path d="M1292.2 253.1h0M1252.1 253.5h0M1277.1 253.8h0M1296.6 241.6h0M1262.3 254.3h0M1268.3 243.5h0M1297.6 242.9h0M1259.2 253.4h0M1289.2 253.5h0M1272.1 241.3h0M1284.9 242.1h0M1284.7 253.4h0M1280.2 241.7h0" stroke="#7a7a7a" stroke-width="2.8" stroke-linecap="round" fill="none" opacity="1"/>
<rect transform="translate(1244.4 249.7)" x="0" y="-4.3" width="55.3" height="8.5" fill="url(#gG3)"/>
<path d="M1299.7 243.8L1301 243.9L1302.3 243.7L1303.6 243L1304.9 243.1L1306.2 243.1L1307.5 244L1308.8 243L1310.1 243.5L1311.4 243.3L1312.7 244L1314 243L1315.3 243.5L1316.6 243.5L1317.9 243.3L1319.2 243.2L1320.5 243.7L1321.8 243L1323.1 243.2L1324.4 243.3L1325.7 243.5L1327 243.9L1328.3 243.5L1329.6 243.4L1330.9 244L1332.2 243.1L1333.5 243.1L1334.8 243.1L1336.1 243.7L1337.4 243.3L1338.7 243.1L1340 243.6L1341.3 243.5L1342.6 243.7L1343.9 243.4L1345.2 243.3L1346.5 244L1347.8 243.3L1349.1 243.2L1350.4 243.1L1351.7 243.1L1353 243L1354.1 243.7L1354.1 253.1L1353 253.2L1351.7 253.2L1350.4 253.4L1349.1 253.5L1347.8 252.9L1346.5 253.2L1345.2 253.1L1343.9 253.5L1342.6 253.1L1341.3 253.6L1340 253L1338.7 253.3L1337.4 253.3L1336.1 252.7L1334.8 253.3L1333.5 253.5L1332.2 253.5L1330.9 253.2L1329.6 253.4L1328.3 252.8L1327 253.2L1325.7 253.3L1324.4 252.9L1323.1 253.5L1321.8 253.4L1320.5 253.5L1319.2 253.3L1317.9 253.1L1316.6 252.9L1315.3 252.9L1314 252.9L1312.7 253.5L1311.4 253.1L1310.1 253.4L1308.8 253.3L1307.5 252.9L1306.2 253.1L1304.9 253.4L1303.6 253L1302.3 253.5L1301 253.4L1299.7 252.8Z" fill="#7a7a7a"/>
<path d="M1350.6 253.2h0M1314.6 253.5h0M1334.6 253.6h0M1324.3 242.6h0M1349.7 243.3h0M1307.1 242h0M1330.7 253.3h0M1310.4 253.3h0M1352.1 243.5h0M1300.9 253.3h0M1341.8 242.6h0M1325.1 242.1h0M1329.6 253.4h0" stroke="#7a7a7a" stroke-width="2.8" stroke-linecap="round" fill="none" opacity="1"/>
<rect transform="translate(1299.7 249.7)" x="0" y="-4.3" width="54.4" height="8.5" fill="url(#gG3)"/>
<path d="M1354.1 243.6L1355.4 243.1L1356.7 243L1358 243.7L1359.3 243L1360.6 243.7L1361.9 243.2L1363.2 243.6L1364.5 243.4L1365.8 243.1L1367.1 243.3L1368.4 243.6L1369.7 243.7L1371 243L1372.3 243.4L1373.6 243.4L1374.9 243.1L1376.2 243.7L1377.5 243L1378.8 243.6L1380.1 243.8L1381.4 243.6L1382.7 243.1L1384 243L1385.3 243.5L1386.6 243.8L1387.9 243.2L1389.2 243.9L1390.5 243L1391.8 243.2L1393.1 243.9L1394.4 243.1L1395.7 243.4L1397 243.9L1398.3 243.2L1399.6 243.2L1400.9 243.1L1402.2 244L1403.5 244L1404.8 243.9L1406.1 243.6L1406.8 243.7L1406.8 253.5L1406.1 252.8L1404.8 253.6L1403.5 253.4L1402.2 253.6L1400.9 253.3L1399.6 252.8L1398.3 253.2L1397 253.3L1395.7 253.1L1394.4 253L1393.1 252.9L1391.8 253L1390.5 253.3L1389.2 253L1387.9 253.3L1386.6 253L1385.3 253.2L1384 253.4L1382.7 252.9L1381.4 252.8L1380.1 253.3L1378.8 253.2L1377.5 253.2L1376.2 253.4L1374.9 253.5L1373.6 252.8L1372.3 252.7L1371 252.7L1369.7 253.2L1368.4 253L1367.1 253.2L1365.8 253.1L1364.5 253L1363.2 253.3L1361.9 253.5L1360.6 253.4L1359.3 253L1358 253.1L1356.7 253.1L1355.4 253.3L1354.1 252.8Z" fill="#7a7a7a"/>
<path d="M1395.7 242.9h0M1360 253.5h0M1358.5 243.2h0M1388.9 243.5h0M1366.7 253.4h0M1363 253.7h0M1366.3 253.4h0M1372.8 253.4h0M1356.1 253.1h0M1361.4 253.2h0M1391.7 241.2h0M1401.8 243.1h0M1380 243.1h0" stroke="#7a7a7a" stroke-width="2.8" stroke-linecap="round" fill="none" opacity="1"/>
<rect transform="translate(1354.1 249.7)" x="0" y="-4.3" width="52.7" height="8.5" fill="url(#gG3)"/>
<path d="M1406.8 243.4L1408.1 243.2L1409.4 243.6L1410.7 243.1L1412 243.6L1413.3 244L1414.6 243.9L1415.9 243L1417.2 243.8L1418.5 243.6L1419.8 243.1L1421.1 243.7L1422.4 243.7L1423.7 243.4L1425 243.8L1426.3 243.1L1427.6 243.1L1428.9 243.5L1430.2 243.1L1431.5 243.4L1432.8 243.8L1434.1 243.9L1435.4 243.9L1436.7 243.3L1438 243.9L1439.3 243.2L1440.6 243.8L1441.9 243.9L1443.2 243.7L1444.5 243.2L1445.8 243.5L1447.1 243.6L1448.4 243.3L1449.7 243.4L1451 243.1L1452.3 243L1453.6 243.7L1454.9 243.3L1456.2 243.3L1457.5 243.8L1458.8 243.1L1460.1 243.8L1460.9 243.2L1460.9 252.8L1460.1 253.4L1458.8 253.5L1457.5 253.2L1456.2 253.3L1454.9 253.2L1453.6 253.1L1452.3 253L1451 253.5L1449.7 253.1L1448.4 253.3L1447.1 252.9L1445.8 253.4L1444.5 253.2L1443.2 253.3L1441.9 253.4L1440.6 252.8L1439.3 252.9L1438 253.4L1436.7 253.5L1435.4 253.3L1434.1 253.3L1432.8 253.5L1431.5 252.7L1430.2 252.9L1428.9 252.9L1427.6 253.5L1426.3 253L1425 253.5L1423.7 253.4L1422.4 253.4L1421.1 253.2L1419.8 253.3L1418.5 253.5L1417.2 252.8L1415.9 253L1414.6 253.3L1413.3 253.5L1412 253L1410.7 253.3L1409.4 253.5L1408.1 253.1L1406.8 253.1Z" fill="#7a7a7a"/>
<path d="M1423.7 253.2h0M1416.5 253.5h0M1426.4 253.8h0M1418.6 242.7h0M1418.4 242.2h0M1424.8 253.2h0M1412.8 242.5h0M1417.8 253.5h0M1409.9 243.5h0M1437.8 243.2h0M1452.4 243.5h0M1455.5 242.4h0M1454.7 242.1h0" stroke="#7a7a7a" stroke-width="2.8" stroke-linecap="round" fill="none" opacity="1"/>
<rect transform="translate(1406.8 249.7)" x="0" y="-4.3" width="54.1" height="8.5" fill="url(#gG3)"/>
<path d="M1460.9 243.2L1462.2 243.8L1463.5 243.6L1464.8 243.4L1466.1 243.3L1467.4 244L1468.7 243.8L1470 243.3L1471.3 243.1L1472.6 243.6L1473.9 244L1475.2 243L1476.5 243.3L1477.8 243.9L1479.1 243L1480.4 243.1L1481.7 243L1483 243.6L1484.3 243.4L1485.6 244L1486.9 243.1L1488.2 243.5L1489.5 243.9L1490.8 243.2L1492.1 243L1493.4 243.8L1494.7 244L1496 243.6L1497.3 243.4L1498.6 243.5L1499.9 243.9L1501.2 243L1502.5 244L1503.8 243L1505.1 243.4L1506.4 243.3L1507.7 243.9L1509 243.3L1510.3 244L1511.6 243.2L1512.9 243.3L1514.2 243.9L1515.3 243.2L1515.3 253.2L1514.2 253.2L1512.9 253.2L1511.6 253.1L1510.3 253.3L1509 253L1507.7 253.3L1506.4 253.5L1505.1 253.1L1503.8 253.5L1502.5 253.2L1501.2 253L1499.9 253.2L1498.6 253.2L1497.3 253L1496 253.4L1494.7 253.2L1493.4 253L1492.1 253.5L1490.8 252.9L1489.5 253.4L1488.2 253L1486.9 253.1L1485.6 253L1484.3 253.2L1483 252.8L1481.7 253.4L1480.4 252.9L1479.1 252.9L1477.8 252.9L1476.5 252.8L1475.2 253.2L1473.9 252.9L1472.6 253.1L1471.3 253.5L1470 253.5L1468.7 253.3L1467.4 253.3L1466.1 253.6L1464.8 253.5L1463.5 252.9L1462.2 253.1L1460.9 252.8Z" fill="#7a7a7a"/>
<path d="M1496.8 253.2h0M1470.6 253.6h0M1509.6 242.6h0M1492.5 253.5h0M1504.3 253.5h0M1465.4 253.6h0M1510.9 242h0M1504.2 243.1h0M1471.8 253.9h0M1474.9 253.4h0M1476.6 241.2h0M1500.5 242.8h0M1470.8 253.5h0" stroke="#7a7a7a" stroke-width="2.8" stroke-linecap="round" fill="none" opacity="1"/>
<rect transform="translate(1460.9 249.7)" x="0" y="-4.3" width="54.4" height="8.5" fill="url(#gG3)"/>
<path d="M1515.3 244L1516.6 243L1517.9 243.2L1519.2 243.3L1520.5 243.4L1521.8 243.8L1523.1 243.8L1524.4 243.9L1525.7 243.9L1527 243.2L1528.3 243.8L1529.6 243L1530.9 243.8L1532.2 243.9L1533.5 243.8L1534.8 243.8L1536.1 243.8L1537.4 244L1538.7 243.5L1540 243.4L1541.3 243.2L1542.6 244L1543.9 244L1545.2 243.2L1546.5 243.6L1547.8 243.6L1549.1 243.6L1550.4 243.9L1551.7 243.5L1553 243.8L1554.3 243.3L1555.6 243.8L1556.9 243.9L1558.2 243.3L1559.5 243.8L1560.8 243.4L1562.1 243.7L1563.4 243.9L1564.7 243.6L1566 243.2L1567.3 243.2L1568.6 243.6L1569.9 243.2L1571.2 243.5L1571.2 243.6L1571.2 253.1L1571.2 252.9L1569.9 253.3L1568.6 252.8L1567.3 252.9L1566 253.6L1564.7 253.3L1563.4 252.9L1562.1 252.8L1560.8 252.8L1559.5 253.5L1558.2 253L1556.9 252.8L1555.6 253.1L1554.3 253.5L1553 253.5L1551.7 253.4L1550.4 252.9L1549.1 253.3L1547.8 252.9L1546.5 253.2L1545.2 253.4L1543.9 253.3L1542.6 253.4L1541.3 253.5L1540 253.3L1538.7 252.8L1537.4 252.8L1536.1 252.8L1534.8 253.5L1533.5 253.2L1532.2 252.9L1530.9 253.5L1529.6 253.5L1528.3 253.5L1527 253.1L1525.7 253.5L1524.4 253.6L1523.1 253L1521.8 253.4L1520.5 252.9L1519.2 252.8L1517.9 253.3L1516.6 252.8L1515.3 253.5Z" fill="#7a7a7a"/>
<path d="M1555.6 253.2h0M1524.1 253.5h0M1567.5 243.2h0M1559.6 241.9h0M1538.2 253.3h0M1548 254.2h0M1540.3 253.7h0M1525.9 243.3h0M1530.1 242.8h0M1532.8 242.8h0M1553.6 253.3h0M1548.3 253.8h0M1568 240.8h0" stroke="#7a7a7a" stroke-width="2.8" stroke-linecap="round" fill="none" opacity="1"/>
<rect transform="translate(1515.3 249.7)" x="0" y="-4.3" width="55.9" height="8.5" fill="url(#gG3)"/>
<path d="M921.7 127.7L923 128.8L924.3 128L925.6 129.8L926.9 129L928.2 129.6L929.5 131.1L930.8 128.8L932.1 130.9L933.4 129.8L934.7 130.6L936 131.5L937.3 130.9L938.6 131.4L939.9 130.6L941.2 131.8L942.5 132.4L943.8 132.8L945.1 132L946.4 130.1L947.7 132.4L949 130.4L950.3 130.6L951.6 131.2L952.9 131.5L954.2 131.2L955.5 132.8L956.8 131.8L958.1 133.4L959.4 134L960.7 134L962 134L963.3 133.7L964.6 132.5L965.9 134L967.2 135.1L968.5 134L969.8 133.6L971.1 134.3L972.4 134.5L973.7 134.4L975 134.4L975.5 134L975.5 162.1L975 160.3L973.7 160.1L972.4 160.1L971.1 161.7L969.8 162.1L968.5 160.2L967.2 162.1L965.9 160.2L964.6 161L963.3 161.1L962 160.8L960.7 160.7L959.4 160.4L958.1 161.2L956.8 159.3L955.5 158.4L954.2 160.6L952.9 159.5L951.6 159.1L950.3 159.4L949 158.3L947.7 159L946.4 159.5L945.1 159.1L943.8 158.9L942.5 157.6L941.2 157.2L939.9 158.8L938.6 158.8L937.3 157.8L936 158.4L934.7 157.8L933.4 157.8L932.1 157.5L930.8 157.9L929.5 156.5L928.2 156.2L926.9 157.7L925.6 157.7L924.3 157.7L923 157L921.7 154.9Z" fill="#0568a8"/>
<path d="M958.9 159.9h0M950.9 130.3h0M950.9 131.3h0M930.7 129.9h0M958.9 160.6h0M934.8 157.6h0M932.9 157.5h0M946.9 159.7h0M952.8 129.6h0M932.9 128.8h0M935.7 129.9h0M970.7 161.4h0M964.4 132.3h0M934.4 158.2h0M945 130.7h0M943 130.8h0" stroke="#0568a8" stroke-width="2.8" stroke-linecap="round" fill="none" opacity="1"/>
<path d="M923.8 157.8h0M965.7 167h0M958.5 166.3h0M928.2 162.9h0M923.4 157.6h0M963.6 165.3h0M943.6 164.9h0M928.9 159.9h0M962.3 163.5h0M959.7 168.4h0M941 163.4h0M927 165.7h0M936.1 161.4h0M970.4 169.5h0M972.3 173.4h0M967.8 163.5h0M958.5 170.1h0M955.8 165.1h0M928.2 159.6h0M962.4 165.5h0M971.6 166.3h0M951.8 160.3h0M945.7 165.4h0M945.4 174.1h0M939.6 166.5h0M948.6 161.5h0M958.8 166.6h0M946.9 159.6h0M939.7 168.2h0M938 166.9h0M936.5 159.3h0M971.8 174.5h0M957.1 162.2h0M926.7 180.4h0M962.3 165.1h0M922.9 165.5h0M955.6 162.8h0M964.6 168.4h0M953.4 165h0M962.7 161.9h0M951.6 161.2h0M937.5 162.9h0M950.2 162.3h0M934.8 158.6h0M959.1 165.6h0M946.3 167.9h0M954.4 169.1h0M937.4 160.4h0M924.5 174h0M958.8 165.4h0M958.9 162.6h0M926.8 160.1h0M967.5 178.3h0M938.4 167.6h0M928.6 158.8h0M957.2 169.4h0M925.6 159.1h0M938 165.9h0M939.4 159.2h0M932.7 162.2h0M927.6 157.7h0M945.5 165.7h0M938.8 160.8h0M930.2 164.7h0M940.6 163.4h0M971.2 164h0M966.2 161.6h0M947.8 163.1h0M961.4 163.4h0M942.1 163.8h0M955.7 160.8h0M923.1 157.9h0M973.3 169.5h0M967.2 165.4h0M935.2 171.1h0M950.5 167.8h0M956.8 161.9h0M952.3 176.9h0M942.1 164.6h0M925.4 159h0M973.9 165.6h0M942.7 168.2h0M942.6 170.4h0M950 161.8h0M934.9 161.6h0M931.1 165.6h0M925.1 165.5h0M967.2 165.2h0M967.7 164.8h0M929.9 163.9h0M923.9 160.2h0M925.3 161.6h0M935.3 161.4h0M932.8 173.4h0M963.4 164.2h0M943.2 164.6h0M941.8 160.5h0M950.4 165.6h0M941.6 159.5h0M965.5 162.3h0M927.1 166h0M933.8 166h0M966.7 171.6h0M927.1 165.4h0M948.9 161.1h0M970.5 164h0M974 165.1h0M965.6 161.7h0M965.2 175.1h0M942 172h0M967.2 165.1h0M958.8 167.1h0M969.7 172.9h0M943.4 163.3h0M958.5 163.5h0M959.5 164.8h0M926.4 157.6h0M937.3 163.1h0M959.9 164.1h0M935.2 165.8h0M957.8 162.2h0M951.2 172.2h0M957 161.1h0M925.5 166h0M962 161.9h0M966.6 165.2h0M931.8 160.4h0M973.1 167.1h0M932.8 161.3h0M932.6 161.1h0M924.9 161.6h0M938.2 161.5h0M949.8 159.9h0M929 164.5h0M971 165.3h0M949 161.9h0M969.6 167.2h0M929.7 164.3h0M923.1 160.3h0M962.8 161.8h0M967.8 164.5h0M960.3 164.7h0M932.8 162h0M955.7 160.9h0M951.2 164.7h0M959.3 167.5h0M956.3 163.6h0M966.8 166.1h0M954.9 171h0M942.6 168.2h0" stroke="#0568a8" stroke-width="2.8" stroke-linecap="round" fill="none" opacity="1"/>
<path d="M933.6 179.3h0M957.2 183.4h0M928.4 196.1h0M934.4 172.9h0M945.8 169h0M959.6 184.5h0M954.7 178.7h0M933.8 169.4h0M939.3 172.2h0M968.4 189.8h0M965.7 168.7h0M928.8 191.1h0M962.7 169.8h0M971.9 188.2h0M934 186.3h0M943.7 169.7h0M926.1 174.5h0M950.4 186.4h0M953.4 169.7h0M932.4 188.4h0M962.1 184.1h0M944.3 187.8h0M923.1 173.6h0M973.5 174h0M974.1 186.1h0M954.7 183.9h0M923.5 180.1h0M944.3 170.4h0M925.9 184.7h0M924.5 180.7h0M963.5 184.3h0M933.9 185.5h0M962.4 172.7h0M925 170.4h0M957 177h0M961.5 171.7h0M937.9 180.8h0M955.9 184.8h0M930 186.7h0M944.8 176.2h0M968.5 176h0M969.7 170.3h0" stroke="#0568a8" stroke-width="2.7" stroke-linecap="round" fill="none" opacity="1"/>
<path d="M926.3 224.6h0M968.9 230.9h0M936.3 208h0M951.3 219.1h0M973.8 202.4h0M938.6 214.1h0M958.4 229.2h0M945.6 235.8h0M926.4 237.6h0M941.5 217.9h0M923.9 200.2h0M955 203.5h0M961.1 240h0M948.7 223.7h0M942 239.7h0M955 210.1h0M953.3 233.6h0M942.2 219.9h0M960.9 202.6h0M940 225.1h0M956.6 219.5h0M960.6 201.7h0M946 226.9h0M930.2 222.7h0" stroke="#858585" stroke-width="2.4" stroke-linecap="round" fill="none" opacity="1"/>
<path d="M975.5 131.3L976.8 129L978.1 129.5L979.4 129.3L980.7 129.5L982 131.1L983.3 131.3L984.6 129.5L985.9 131.6L987.2 132.5L988.5 130.4L989.8 130.1L991.1 132L992.4 130.2L993.7 130.1L995 132.4L996.3 133.3L997.6 132.1L998.9 133.6L1000.2 131.3L1001.5 133.4L1002.8 132.2L1004.1 133.3L1005.4 133.5L1006.7 131.7L1008 132.2L1009.3 134.1L1010.6 131.8L1011.9 134.9L1013.2 133L1014.5 132.6L1015.8 132.2L1017.1 132.8L1018.4 135.2L1019.7 132.9L1021 132.8L1022.3 134.6L1023.6 135.7L1024.9 135.4L1026.2 134.7L1027.5 136.1L1028.8 134.6L1030.1 135L1031.4 134.1L1031.7 135.6L1031.7 161.8L1031.4 161.4L1030.1 163.6L1028.8 162.6L1027.5 160.9L1026.2 162.9L1024.9 162.1L1023.6 162.5L1022.3 160.7L1021 161.1L1019.7 161.5L1018.4 161.6L1017.1 161.5L1015.8 160L1014.5 160.4L1013.2 161.4L1011.9 161.5L1010.6 161.2L1009.3 160.1L1008 160.8L1006.7 159.8L1005.4 160.7L1004.1 159.1L1002.8 160.9L1001.5 158.4L1000.2 159.9L998.9 158.5L997.6 159.6L996.3 160L995 157.4L993.7 158.1L992.4 158.5L991.1 157.9L989.8 159.1L988.5 157.8L987.2 158.7L985.9 158.8L984.6 158L983.3 158.9L982 158.1L980.7 157.8L979.4 157.9L978.1 158.1L976.8 156.6L975.5 157.5Z" fill="#0568a8"/>
<path d="M989.7 158.6h0M1001.8 132.2h0M1002.7 160.4h0M1009.4 161h0M992.4 130.2h0M987.3 129.3h0M1019.9 133.4h0M1020.6 132.4h0M988.8 130.8h0M986.5 129.7h0M981.4 129.3h0M1009.1 132h0M1000.9 129.6h0M1014 161.2h0M1023.9 162h0M985.8 158.3h0" stroke="#0568a8" stroke-width="2.8" stroke-linecap="round" fill="none" opacity="1"/>
<path d="M979.5 166.3h0M1014.5 162h0M1027.6 168.9h0M997.6 163.7h0M1019 166.8h0M1021.1 175.1h0M1005.4 166.1h0M978.1 162.7h0M994.6 163.1h0M989.7 162.3h0M1030.3 169h0M981.2 159.8h0M983.8 163h0M976.7 158.3h0M987.3 164.1h0M996.6 162.9h0M1002.8 167h0M986.3 164.7h0M977.2 160.6h0M1013 162.7h0M993.9 164.1h0M980.3 168.9h0M995.6 162.4h0M979.3 159.2h0M1002.8 161.7h0M1022.1 166h0M1025.2 172.7h0M1016.4 172.8h0M986.8 163.9h0M1020.2 167.7h0M1028.3 175.9h0M990.5 159.9h0M982.4 161.4h0M1014 164.1h0M1014.6 166.2h0M980.2 161.8h0M1002.3 170.9h0M1020.8 168.8h0M995.8 163.1h0M1010.2 167.2h0M980.4 162h0M1024.1 165.9h0M1021 164.9h0M1028.9 164.9h0M1014 173.9h0M980.4 160.7h0M1004.9 161.5h0M1028.3 171h0M1000.1 161.5h0M978.2 162.3h0M988 166.9h0M1018 168.8h0M978.8 165.6h0M982.8 162.8h0M1026.1 165h0M1024 167.4h0M1029.9 174.5h0M1009.8 163.6h0M1013.3 172.1h0M992.7 167.4h0M1014.2 161.9h0M1027 163.3h0M1023.7 169.4h0M978.1 170.5h0M994.9 164.7h0M1018.6 174.3h0M1009.5 171.5h0M1013.1 168.7h0M1013.6 164.2h0M981.6 164.8h0M980.6 158.8h0M1023.1 162.5h0M1005.8 170.5h0M1027.4 166.1h0M1009 164.3h0M991.6 164.5h0M993.3 163.4h0M1026.5 165.6h0M1000 165.1h0M996.3 162.6h0M1018.6 170.4h0M1006.3 163.5h0M980.8 162.6h0M1014.9 173.7h0M1004.4 160.8h0M1023.4 163.4h0M997.7 174.7h0M1021.4 169.1h0M999.8 165h0M1029.7 164.5h0M1010.6 165.3h0M991.6 165.4h0M1001.6 161.3h0M1028.6 171h0M1023.8 167.6h0M996.8 162h0M1005.9 172.4h0M1004.6 162h0M984.9 160.8h0M1022 167.2h0M985.1 165.5h0M1013.4 171h0M995.7 160.5h0M980.4 161.3h0M987.4 169.7h0M990.7 162.5h0M1029.4 163.1h0M1000.6 164.5h0M976.9 167.2h0M1022.5 167.1h0M1029.1 165.1h0M985.2 159.8h0M1000.5 163.2h0M1028 168h0M979.4 160.4h0M1020.4 162.5h0M976.9 164.9h0M1001.7 165.9h0M978.7 168.7h0M981.8 165.4h0M980 167h0M1014 163h0M1003.6 172.4h0M977.8 160.4h0M1030.4 165.8h0M1012.9 166.7h0M985 169h0M1014 174.1h0M994 163.6h0M1018.7 166.8h0M1000.6 166h0M993.2 163.8h0M980.7 159.8h0M1001.1 160.8h0M1017.9 167h0M1018.8 169.9h0M1023 172.4h0M1014.6 162.2h0M1002.3 165.2h0M992.5 170.1h0M1020.5 162.8h0M1001.7 163.3h0M1019.5 165.2h0M993.3 165.7h0M994.9 166.7h0M1003.6 161.9h0M985 162.6h0M1016.2 165.6h0M979.9 162h0M989.1 160.1h0M1000.5 163.7h0M981.6 165.1h0M1010.1 164.2h0M999.3 166.4h0M992.5 161.4h0M1019.3 164.6h0M1010 162.2h0" stroke="#0568a8" stroke-width="2.8" stroke-linecap="round" fill="none" opacity="1"/>
<path d="M981.9 179.3h0M1022.3 173.1h0M1022.8 189.5h0M998.6 169.9h0M1021.7 188.4h0M990.1 176.8h0M1015.4 187.7h0M1018.3 168.8h0M1013.6 169.3h0M1002.6 173.4h0M993.1 186.5h0M1006.2 190.2h0M1001.6 168.6h0M1020.1 195.3h0M992.7 169.6h0M980.7 184.1h0M996.1 168.7h0M1008.5 189.9h0M1007.9 188.2h0M1030.2 173.8h0M1024.7 170.3h0M1024.4 194.5h0M1020.5 169.1h0M1022.7 184.9h0M1030.2 188.7h0M1003.8 187.5h0M1005.6 173.2h0M997.5 188.9h0M1013.7 169.2h0M995.1 171.6h0M986.1 179.4h0M977.9 184.5h0M979.9 171h0M1024.5 168.7h0M988.6 175.5h0M996.1 168.8h0M1007.4 189.9h0M985.6 179.3h0M999.6 178.8h0M992.9 170.8h0M989.4 168.6h0M1005.9 184.2h0" stroke="#0568a8" stroke-width="2.7" stroke-linecap="round" fill="none" opacity="1"/>
<path d="M1028.1 223.9h0M1026.1 234.9h0M1010.1 214h0M998.9 235.4h0M1024.5 232.3h0M991 209.1h0M989.9 223.1h0M991.2 207.2h0M996.1 231.7h0M1004.4 233.4h0M985.2 214.7h0M1008.8 205.5h0M977.2 239.2h0M988.7 216.6h0M1015.9 239.5h0M1006.3 226.4h0M1009.4 198.8h0M984.4 237.1h0M982.5 235.2h0M1000.9 200.2h0M1007.2 211.2h0M978.6 219.2h0M992.6 219.8h0M1029.1 230.4h0" stroke="#858585" stroke-width="2.4" stroke-linecap="round" fill="none" opacity="1"/>
<path d="M1031.7 131.4L1033 132.1L1034.3 130.2L1035.6 130L1036.9 131.4L1038.2 132.3L1039.5 130.7L1040.8 131.2L1042.1 131.5L1043.4 131L1044.7 132.6L1046 133.7L1047.3 132.9L1048.6 131.4L1049.9 132.6L1051.2 133.3L1052.5 133.4L1053.8 132.8L1055.1 134.2L1056.4 132.3L1057.7 131.8L1059 134.9L1060.3 132.2L1061.6 135L1062.9 134.6L1064.2 133.8L1065.5 134.2L1066.8 134.8L1068.1 133.2L1069.4 134.8L1070.7 133.9L1072 135.2L1073.3 136.1L1074.6 134L1075.9 134.6L1077.2 136L1078.5 134.8L1079.8 135.7L1081.1 135L1082.4 134.8L1083.7 135.6L1085 137.2L1085.6 135.9L1085.6 163.4L1085 163L1083.7 163.8L1082.4 163.9L1081.1 163.8L1079.8 161.7L1078.5 163.7L1077.2 162L1075.9 162.8L1074.6 162.9L1073.3 160.6L1072 162.1L1070.7 163L1069.4 160.6L1068.1 161.2L1066.8 161.6L1065.5 162.2L1064.2 159.8L1062.9 160.3L1061.6 161.4L1060.3 159.9L1059 159.7L1057.7 160.3L1056.4 160.3L1055.1 161.2L1053.8 159.4L1052.5 158.9L1051.2 158.6L1049.9 160.1L1048.6 160.5L1047.3 159.2L1046 160.2L1044.7 158.9L1043.4 159.6L1042.1 157.6L1040.8 158.9L1039.5 157.3L1038.2 158.6L1036.9 157.2L1035.6 158.2L1034.3 159.1L1033 156.8L1031.7 156.9Z" fill="#0568a8"/>
<path d="M1033.4 158h0M1039 159h0M1080.8 163.4h0M1059.8 133.3h0M1043.5 131.3h0M1044.4 131h0M1068.5 161.8h0M1063.1 133.7h0M1079.4 162.9h0M1055.3 132.3h0M1044.1 160.3h0M1082.9 135.4h0M1063 130.8h0M1080.8 164.1h0M1052.9 132.6h0M1066.9 132.6h0" stroke="#0568a8" stroke-width="2.8" stroke-linecap="round" fill="none" opacity="1"/>
<path d="M1040.1 175.3h0M1072.4 163.5h0M1065.6 166h0M1055.1 162.3h0M1033.9 167.8h0M1056 169.8h0M1052.4 162.1h0M1064 171.6h0M1044.7 164.9h0M1079 164.7h0M1051.4 172.3h0M1074.8 163.5h0M1038 161.3h0M1046 162.2h0M1037.4 159.6h0M1047.4 164.1h0M1073.9 164.9h0M1051.7 163.6h0M1047.3 161h0M1054 173.8h0M1079.5 165.1h0M1072 179.1h0M1041.7 166.8h0M1070.7 166.9h0M1072.5 172.4h0M1067.1 164.5h0M1050 167.4h0M1037.2 169.6h0M1069.4 163h0M1078 176.7h0M1057 172.1h0M1077.6 168.9h0M1037.1 167.3h0M1045.9 162.3h0M1052.9 168.1h0M1048.4 161.1h0M1038.6 159.5h0M1070.6 164h0M1059.6 161.9h0M1075.9 168.7h0M1073.8 171.4h0M1044.3 162.7h0M1039.8 163.7h0M1067.4 163.4h0M1049.8 160.9h0M1039.3 166.9h0M1040.5 160.5h0M1049.9 163.7h0M1047.9 163.8h0M1062.4 166.1h0M1044.8 167.9h0M1043 162.1h0M1057.8 164.9h0M1054.4 161.7h0M1059 162.7h0M1053.8 161.3h0M1044.9 166.1h0M1071.6 165.5h0M1045.6 167h0M1057.2 176.4h0M1048.4 167.2h0M1042.9 167.4h0M1042.6 162.5h0M1051.8 167.3h0M1050.9 165.8h0M1033.4 161.6h0M1065.5 173.4h0M1083.8 174.1h0M1075.4 169h0M1039.3 164.8h0M1036.7 164.9h0M1083.6 171.7h0M1081 166.6h0M1059.5 169.8h0M1065.8 162.5h0M1041.4 163h0M1075.5 169.3h0M1057.9 165.7h0M1062.8 172.1h0M1042.6 166h0M1068.4 166.8h0M1034.2 161.9h0M1051.8 170.3h0M1037.4 165.1h0M1067.6 163.5h0M1049.1 161.1h0M1053.9 162.7h0M1051.3 162.8h0M1064.2 164.1h0M1045 160.9h0M1049 165.4h0M1041.6 164.2h0M1075.7 169.7h0M1035.5 161.6h0M1073.3 166.5h0M1077.6 171h0M1056.7 170h0M1078 165h0M1051.1 174.8h0M1077.3 164.4h0M1042.6 159.9h0M1043.3 163.1h0M1036.6 165.3h0M1073.1 163.7h0M1060.3 166.9h0M1079.5 176.9h0M1034.9 164.9h0M1072.4 168.4h0M1064.6 170.3h0M1084.2 166h0M1083.7 179.3h0M1053.8 165.8h0M1040.7 160.5h0M1033.2 159.1h0M1033 170.1h0M1075 165.3h0M1074.3 175.2h0M1049.5 161.9h0M1073.8 166h0M1060.5 171.5h0M1081.9 165.8h0M1065.8 171.1h0M1074.9 175.4h0M1038.5 161h0M1050.3 172.6h0M1081.9 171h0M1053.6 164h0M1055.1 174.2h0M1058.1 165.5h0M1048.9 164.5h0M1074.1 170.1h0M1066.2 172.7h0M1081.9 173h0M1069.3 165.6h0M1035.7 166.4h0M1073.7 166.9h0M1038.4 169.8h0M1039.4 162.5h0M1038.4 164.2h0M1047.8 166.2h0M1076 176.9h0M1077.3 165.1h0M1053.3 164.1h0M1041.8 163.4h0M1060.3 162.5h0M1081.6 167.2h0M1073.2 174.1h0M1047.6 166.4h0M1071.6 164.9h0M1052.1 164.1h0" stroke="#0568a8" stroke-width="2.8" stroke-linecap="round" fill="none" opacity="1"/>
<path d="M1065.1 190.1h0M1042.8 170.9h0M1065.3 169h0M1038.1 177.8h0M1037.9 175.4h0M1050 168.6h0M1046.4 173.3h0M1049.6 175.6h0M1081.8 168.8h0M1073 176.4h0M1056.2 190.8h0M1037.5 186.7h0M1081.5 174.5h0M1043.6 193.5h0M1040.6 194.2h0M1044.6 180.9h0M1039.2 168.8h0M1063.3 188.6h0M1064.3 173.4h0M1080.1 186.5h0M1056.8 186.1h0M1061.8 177.2h0M1043.7 171.2h0M1077.5 188.2h0M1083.9 182.1h0M1072.6 194.1h0M1059.3 178.4h0M1065.5 179.4h0M1036.7 169h0M1078.8 184.7h0M1067.2 176.4h0M1065.5 195.4h0M1040.7 180.1h0M1084.2 177.7h0M1056.6 171.4h0M1038 184.3h0M1034.5 190.5h0M1073.7 169.3h0M1038.9 172.2h0M1038.2 184.1h0M1034.6 176.3h0M1045.2 169.6h0" stroke="#0568a8" stroke-width="2.7" stroke-linecap="round" fill="none" opacity="1"/>
<path d="M1074.3 215.1h0M1069.9 208.2h0M1061.9 206.7h0M1065.3 212.7h0M1072.9 198.7h0M1080.4 205.4h0M1034.7 230.5h0M1035.8 228.8h0M1062.3 235.7h0M1040.3 236.1h0M1052.9 230.5h0M1072.5 232.1h0M1049.4 230.2h0M1049.6 207.4h0M1071.6 207.5h0M1051.2 209.8h0M1070.6 216.3h0M1083.9 235.7h0M1043.3 229.2h0M1053.9 220.2h0M1083 207.9h0M1042.9 227.8h0M1043.4 220.6h0M1047.1 214.6h0" stroke="#858585" stroke-width="2.4" stroke-linecap="round" fill="none" opacity="1"/>
<path d="M1085.6 132.4L1086.9 133.1L1088.2 131.2L1089.5 131.7L1090.8 131.7L1092.1 132.5L1093.4 133.5L1094.7 132.4L1096 131.6L1097.3 134.3L1098.6 132.8L1099.9 132.6L1101.2 134.2L1102.5 131.9L1103.8 131.9L1105.1 133L1106.4 132.3L1107.7 134.1L1109 133L1110.3 134.2L1111.6 132.8L1112.9 133.6L1114.2 135.6L1115.5 135.4L1116.8 136.1L1118.1 135.9L1119.4 135.2L1120.7 136.2L1122 135.1L1123.3 136.9L1124.6 136.9L1125.9 135.3L1127.2 135.6L1128.5 137.1L1129.8 137L1131.1 137.4L1132.4 137.6L1133.7 136.6L1135 136.4L1136.3 136L1136.9 137.3L1136.9 164.7L1136.3 165.1L1135 164.8L1133.7 164.5L1132.4 162.9L1131.1 163.1L1129.8 164.2L1128.5 163.2L1127.2 162.1L1125.9 162L1124.6 162.3L1123.3 161.5L1122 161L1120.7 162.6L1119.4 162.7L1118.1 161.4L1116.8 163.3L1115.5 163L1114.2 162.1L1112.9 162.7L1111.6 160L1110.3 160.1L1109 162.4L1107.7 159.6L1106.4 160.9L1105.1 161L1103.8 160.6L1102.5 160.7L1101.2 160.2L1099.9 159.4L1098.6 161L1097.3 158.9L1096 160.4L1094.7 160.2L1093.4 159.5L1092.1 158.8L1090.8 159.5L1089.5 158.9L1088.2 159.5L1086.9 159.3L1085.6 157.7Z" fill="#0568a8"/>
<path d="M1131.8 134.9h0M1121.1 135.1h0M1100.8 160.6h0M1094.1 129.9h0M1114.8 132.7h0M1101.4 160.5h0M1087.2 159.4h0M1125.4 163.2h0M1121.4 132.7h0M1133.3 135.4h0M1106.5 132.4h0M1090.9 131.4h0M1094.3 161.2h0M1102 132.6h0M1091.6 160.1h0" stroke="#0568a8" stroke-width="2.8" stroke-linecap="round" fill="none" opacity="1"/>
<path d="M1088.3 169.3h0M1108.7 164.2h0M1117.7 166.5h0M1094.1 164.8h0M1106.1 168.1h0M1096.8 165.4h0M1106.1 165.6h0M1131.2 172.2h0M1100.8 163.2h0M1102.1 161.6h0M1091.3 160.4h0M1102.2 169.2h0M1128 168.2h0M1100.6 165.8h0M1090.7 160.8h0M1104.1 169h0M1130.3 165.7h0M1106.9 169.8h0M1120.3 165.3h0M1102.6 161.4h0M1098.1 171.4h0M1090.4 161.7h0M1135.2 170h0M1114.8 162.7h0M1109.5 165.5h0M1130.7 166.5h0M1105.4 162.1h0M1099.7 165.2h0M1126.6 164.7h0M1134.4 167.2h0M1132.4 175.7h0M1104.8 167.8h0M1092 160.6h0M1118.8 166.2h0M1102.1 170.4h0M1114.7 165.5h0M1092.5 167.7h0M1117 175.5h0M1100.8 165.2h0M1103.6 165.6h0M1091.3 168.9h0M1103.1 178.9h0M1104.7 170.8h0M1133.6 165.6h0M1098.4 175.2h0M1130 165.5h0M1108.1 165.1h0M1114.2 167.2h0M1114.2 170.5h0M1100.3 165.2h0M1111.7 165.5h0M1134.7 166.8h0M1114.1 172.2h0M1120.6 165h0M1123.7 165.1h0M1094.4 164.9h0M1110.8 164.8h0M1112.7 163.4h0M1096.2 162.4h0M1123.1 166.2h0M1129.3 168.2h0M1134.3 167.7h0M1093.3 162.1h0M1118.8 169.4h0M1089.6 163.1h0M1129.8 181.3h0M1124.8 168.1h0M1114.1 171h0M1108.3 163h0M1134.4 172.1h0M1121.2 163.8h0M1117.8 170.3h0M1104.1 165.4h0M1105.4 168h0M1128.6 173.4h0M1115.6 163.9h0M1128.6 171h0M1115 166.5h0M1093.3 168.9h0M1133.8 166.8h0M1120.9 167.6h0M1095 165.3h0M1097.8 164h0M1131.4 170.2h0M1122.2 168.3h0M1088.1 166.2h0M1128.9 166.8h0M1123.7 167.8h0M1113.7 163.7h0M1118.9 165.2h0M1130 167.3h0M1132.5 166.4h0M1122.5 170.6h0M1130.6 170.4h0M1102.4 162h0M1087.3 174.8h0M1126.7 164.5h0M1101.8 170.2h0M1088.5 160.3h0M1133.3 170.8h0M1126 166.3h0M1091 166.1h0M1134.7 165h0M1122.2 167.7h0M1124.2 177.6h0M1128.7 169.1h0M1123.1 170h0M1120.1 176h0M1121.8 165.7h0M1099.3 166.5h0M1104.5 171.2h0M1130.2 168.7h0M1123 171.3h0M1110.9 165.3h0M1108.7 162.8h0M1121.3 173.9h0M1102.8 167.6h0M1099 165.9h0M1128.8 166.7h0M1108.5 166.5h0M1108.6 166.2h0M1118.6 163.3h0M1129.1 169.2h0M1132.2 167.8h0M1090 160.5h0M1103.5 163.6h0M1095.3 163.4h0M1087.2 162.7h0M1129.5 172.8h0M1130.9 174.2h0M1105.1 168.8h0M1113.1 163.9h0M1094.7 164h0M1091.1 164.4h0M1091.8 162.9h0M1104.4 161.9h0M1120.1 164.1h0M1110.2 163h0M1102 166h0M1115.7 168.5h0M1090.1 161.7h0M1133.8 166.7h0M1121.4 163.4h0" stroke="#0568a8" stroke-width="2.8" stroke-linecap="round" fill="none" opacity="1"/>
<path d="M1135.1 183.9h0M1133.3 170.5h0M1125 176.1h0M1122.3 172.9h0M1134.8 171.3h0M1125.2 181.7h0M1107.1 168.7h0M1120.4 193.3h0M1105.2 181.5h0M1098.2 194.1h0M1114.2 184.1h0M1117.2 183.2h0M1107.2 187.5h0M1132.1 172.2h0M1119.8 175.4h0M1089.1 170.6h0M1126.9 180.7h0M1117.2 188.1h0M1115.3 185.9h0M1104.6 187.6h0M1089.8 179.4h0M1104.8 168.6h0M1114.3 191h0M1106.1 169.6h0M1124.7 176.6h0M1113.5 195.2h0M1119.4 173.2h0M1111.4 179.2h0M1111.9 190.9h0M1117.4 179h0M1131.2 178.9h0M1114.9 196.3h0M1092.6 191.6h0M1130.3 171.4h0M1131.4 180.3h0M1088.9 183.6h0M1087.3 185h0M1130.8 171.6h0M1133.3 169.1h0M1134.8 169.7h0M1122 168.7h0M1117.3 173.1h0" stroke="#0568a8" stroke-width="2.7" stroke-linecap="round" fill="none" opacity="1"/>
<path d="M1120.8 224.6h0M1094.7 218.5h0M1111.4 215.6h0M1121.1 212.4h0M1127.6 217.7h0M1106.9 227.8h0M1124.5 233.5h0M1120.3 231.1h0M1090.1 226.8h0M1113.7 215.4h0M1107.9 218.2h0M1106.4 227h0M1103.1 213.7h0M1123.4 223.7h0M1086.9 199.5h0M1120.7 207.5h0M1128.8 239.1h0M1131.8 203.4h0M1087 215.1h0M1101.8 225.7h0M1129.8 216.3h0M1125.6 240h0M1133.5 201.9h0M1087.5 217.4h0" stroke="#858585" stroke-width="2.4" stroke-linecap="round" fill="none" opacity="1"/>
<path d="M944.5 112.1h0" stroke="#0568a8" stroke-width="2.4" stroke-linecap="round" fill="none" opacity="1"/>
<path d="M1136.9 211.1L1138.2 211.6L1139.5 211.3L1140.8 211.5L1142.1 211.4L1143.4 212L1144.7 211.3L1146 211.1L1147.3 211.2L1148.6 212.3L1149.9 211.2L1151.2 211.6L1152.5 210.8L1153.8 211.7L1155.1 211.6L1156.4 211.5L1157.7 211L1159 211.9L1160.3 212.3L1161.6 210.9L1162.9 212.2L1164.2 211.2L1165.5 210.9L1166.8 211.1L1168.1 212.1L1169.4 212.3L1170.7 211.3L1172 211L1173.3 211.9L1174.6 212.3L1175.9 211.6L1177.2 212.1L1178.5 211.6L1179.8 211.2L1181.1 212.2L1182.4 212.3L1183.7 212.5L1185 211.1L1186.3 211.8L1187.6 211.1L1188.7 211.4L1188.7 225.5L1187.6 225.8L1186.3 226.2L1185 227L1183.7 225.4L1182.4 225.7L1181.1 226.4L1179.8 226L1178.5 225.7L1177.2 226.2L1175.9 226.4L1174.6 225.8L1173.3 225.8L1172 225.2L1170.7 225.7L1169.4 226.7L1168.1 226.5L1166.8 225.2L1165.5 226.2L1164.2 225.5L1162.9 225.9L1161.6 225.7L1160.3 225.4L1159 225.3L1157.7 225.7L1156.4 226.7L1155.1 225.8L1153.8 225.6L1152.5 226.1L1151.2 226.1L1149.9 226L1148.6 226.3L1147.3 225L1146 226.4L1144.7 225.1L1143.4 226L1142.1 225L1140.8 224.9L1139.5 225.7L1138.2 226.1L1136.9 225.1Z" fill="#828282"/>
<path d="M1185.4 227.4h0M1161.1 226.7h0M1146.1 209.7h0M1173 211.4h0M1143.7 210.9h0M1167.9 211.4h0M1164.5 227.2h0M1181.7 211.1h0M1154.4 211.2h0M1166 211.3h0M1174.1 227.1h0M1138.5 226h0M1165.1 229.1h0M1179.2 227.6h0M1169 210.8h0M1182.2 226.9h0M1168.9 227h0M1138.3 227.8h0M1167.6 227.1h0M1173.7 227.6h0M1163.3 209.7h0M1152.9 210.7h0M1147.8 230.2h0M1163.1 228.6h0M1184.6 228.6h0M1163.6 228.3h0M1142.8 226.5h0M1157.7 229.9h0" stroke="#828282" stroke-width="2.6" stroke-linecap="round" fill="none" opacity="1"/>
<path d="M1145.5 239h0M1183 227.6h0M1140.8 234.5h0M1163.5 240.9h0M1145 229.6h0M1164.5 240.7h0M1178.5 226.8h0M1187.3 229.3h0M1163.6 238.9h0M1181.4 237.9h0M1182.5 225.7h0M1148.3 225.7h0M1175 233h0M1171.7 234.7h0M1174.4 233h0M1143.4 237h0M1180.2 236.2h0M1186 238.6h0M1139 236.8h0M1156.2 231.5h0M1180.6 228.2h0M1173.2 237.1h0M1179.7 230.5h0M1139.1 241.1h0M1170.2 235.1h0M1187 225.8h0M1161 225.7h0M1165.9 228h0M1150.9 238.8h0M1147.5 230h0M1154 230.5h0M1140.1 235.8h0M1155.2 227h0M1145.9 233h0M1157.5 229.7h0M1144.9 240.9h0M1184.1 231.7h0M1180.7 240h0" stroke="#858585" stroke-width="2.5" stroke-linecap="round" fill="none" opacity="1"/>
<path d="M1162.7 200.7h0M1180.9 199.1h0" stroke="#858585" stroke-width="2.3" stroke-linecap="round" fill="none" opacity="1"/>
<path d="M1188.7 211.2L1190 210.9L1191.3 212.2L1192.6 211.4L1193.9 210.9L1195.2 211.3L1196.5 210.9L1197.8 210.9L1199.1 210.9L1200.4 211.7L1201.7 212.4L1203 211.5L1204.3 211.7L1205.6 212.5L1206.9 211.2L1208.2 211.9L1209.5 212.3L1210.8 211.3L1212.1 212.6L1213.4 211.1L1214.7 211.8L1216 211.9L1217.3 212L1218.6 212.4L1219.9 212.1L1221.2 212.2L1222.5 211.6L1223.8 212.7L1225.1 211.6L1226.4 212.6L1227.7 211.8L1229 212.5L1230.3 212.4L1231.6 211.6L1232.9 211.7L1234.2 212.6L1235.5 212.8L1236.8 212.6L1238.1 213L1239.4 212.5L1240.7 211.8L1242 212.7L1243.3 212.4L1244.4 212.2L1244.4 226.3L1243.3 226.7L1242 226.5L1240.7 225.6L1239.4 226.3L1238.1 226.8L1236.8 226.3L1235.5 226.9L1234.2 227L1232.9 226.6L1231.6 226.4L1230.3 225.8L1229 226.1L1227.7 226.7L1226.4 226.2L1225.1 226.9L1223.8 226.5L1222.5 226.8L1221.2 225.9L1219.9 225.4L1218.6 226L1217.3 225.7L1216 226.7L1214.7 226.2L1213.4 226.1L1212.1 226.2L1210.8 226.7L1209.5 226.7L1208.2 226.5L1206.9 225.6L1205.6 225.6L1204.3 225.8L1203 225.6L1201.7 225.8L1200.4 226.1L1199.1 225.8L1197.8 225.2L1196.5 226.7L1195.2 226.4L1193.9 226.5L1192.6 226.1L1191.3 225.5L1190 226.7L1188.7 225.2Z" fill="#828282"/>
<path d="M1199.7 227.5h0M1224.9 211.1h0M1191.8 230h0M1208.1 229.9h0M1235.4 211h0M1194.1 227.4h0M1211.2 211.1h0M1190.1 226.7h0M1235.2 227.4h0M1236.3 210.6h0M1232.9 226.9h0M1207.1 229.9h0M1218.3 226.6h0M1200.8 229.9h0M1206.9 211.1h0M1196.3 209.9h0M1211.5 228.9h0M1232.6 226.9h0M1240.3 229.8h0M1240 227.9h0M1231.4 211.7h0M1241.4 228.4h0M1202.3 226.4h0M1204.5 227.3h0M1210.7 210.4h0M1225.1 226.8h0M1192 227.7h0M1215.8 210.6h0M1224.4 228.1h0M1240.3 229h0" stroke="#828282" stroke-width="2.6" stroke-linecap="round" fill="none" opacity="1"/>
<path d="M1210.8 229.1h0M1194.2 237.1h0M1241.4 228.6h0M1194 236.7h0M1219.2 232.1h0M1212.9 227.5h0M1229.7 226.6h0M1216.1 226.5h0M1222.9 231.4h0M1219.4 229.5h0M1231.9 230h0M1226.1 229h0M1219.5 226.3h0M1203.5 229.3h0M1221.7 228.3h0M1238.9 239.6h0M1205.4 230.8h0M1221.2 232.8h0M1206.5 230.1h0M1223.5 232.2h0M1199.8 236.5h0M1195.5 228.2h0M1193.7 234h0M1213.1 227.8h0M1220.9 235.7h0M1191.9 232.3h0M1204.6 231h0M1231.6 237.7h0M1208.3 237.5h0M1206.5 233.5h0M1229 225.8h0M1200.6 236.4h0M1235.3 230.1h0M1221.8 230.4h0M1211.8 232.9h0M1195.4 232.6h0M1215 228.4h0M1242.1 238.8h0M1226.7 232.2h0M1233.7 226.4h0M1205.1 233.9h0" stroke="#858585" stroke-width="2.5" stroke-linecap="round" fill="none" opacity="1"/>
<path d="M1216 205h0M1239.7 196.4h0" stroke="#858585" stroke-width="2.3" stroke-linecap="round" fill="none" opacity="1"/>
<path d="M1244.4 212.5L1245.7 212L1247 212.5L1248.3 212.5L1249.6 211.3L1250.9 211.3L1252.2 211.2L1253.5 212.1L1254.8 212.3L1256.1 211.4L1257.4 211.9L1258.7 212.9L1260 211.7L1261.3 212.5L1262.6 212.8L1263.9 213L1265.2 212L1266.5 213.1L1267.8 211.5L1269.1 211.8L1270.4 211.7L1271.7 212.2L1273 212.9L1274.3 212.9L1275.6 213.1L1276.9 212.2L1278.2 212.9L1279.5 213L1280.8 213.3L1282.1 213.3L1283.4 213.4L1284.7 213.4L1286 212.2L1287.3 212.5L1288.6 212.9L1289.9 213.1L1291.2 213.5L1292.5 212.4L1293.8 213.6L1295.1 212.4L1296.4 213.4L1297.7 213L1299 212.9L1299.7 212.2L1299.7 226.7L1299 226.6L1297.7 227L1296.4 226.8L1295.1 227.5L1293.8 227.7L1292.5 226.5L1291.2 227.4L1289.9 227.4L1288.6 227.1L1287.3 226.3L1286 226.8L1284.7 226.5L1283.4 227.7L1282.1 226.6L1280.8 227.2L1279.5 226.4L1278.2 226.5L1276.9 226.1L1275.6 226.1L1274.3 226.6L1273 227L1271.7 226.6L1270.4 225.9L1269.1 226.5L1267.8 227.2L1266.5 225.7L1265.2 226.8L1263.9 226.1L1262.6 226.5L1261.3 226.7L1260 226.8L1258.7 226.5L1257.4 227L1256.1 226.2L1254.8 226.7L1253.5 226.9L1252.2 227.1L1250.9 227.1L1249.6 226.9L1248.3 226.7L1247 225.4L1245.7 226L1244.4 225.7Z" fill="#828282"/>
<path d="M1249.1 227.3h0M1281.5 227.7h0M1272 226.9h0M1292.9 211.8h0M1283.3 212.1h0M1265 227h0M1276.8 228h0M1255.5 209h0M1281.4 210h0M1258.5 226.8h0M1260.2 227.8h0M1294.2 228.2h0M1256.5 227.9h0M1270.8 212h0M1257 228.4h0M1278.5 227.9h0M1253.9 211.8h0M1253.3 209.4h0M1266.9 228h0M1247.8 227.1h0M1270.1 210.8h0M1253.7 227.5h0M1258.3 227h0M1267.7 230.8h0M1282.5 228.6h0M1278.7 227.1h0M1278.6 212.1h0M1280.8 228.2h0M1261.8 227.6h0M1297.4 211.9h0" stroke="#828282" stroke-width="2.6" stroke-linecap="round" fill="none" opacity="1"/>
<path d="M1249.3 226.4h0M1246.8 226.6h0M1289.6 226.5h0M1275.8 234.1h0M1271.6 226.3h0M1295.4 234.8h0M1261.3 229.3h0M1282.3 236.4h0M1271.8 233.9h0M1283.9 227.8h0M1262.6 233h0M1246.7 227.3h0M1277.1 239.2h0M1272 237.8h0M1267.8 230.8h0M1296.4 231.3h0M1276.6 238.8h0M1291.1 229h0M1250.5 236.9h0M1253.3 237.7h0M1292.9 234.8h0M1253.5 227h0M1267.1 227.1h0M1279.5 240.6h0M1246.9 226.4h0M1298.2 231.1h0M1293.3 233.8h0M1292.6 226.2h0M1280.1 234.6h0M1250.9 235.7h0M1255.2 227.7h0M1274.2 229.3h0M1260.8 238.6h0M1285.9 238.9h0M1277.2 229.4h0M1285 237.6h0M1259.9 230h0M1272.5 239.9h0M1255.2 227.7h0M1255.2 226.3h0M1253.9 232.3h0" stroke="#858585" stroke-width="2.5" stroke-linecap="round" fill="none" opacity="1"/>
<path d="M1265 204.9h0M1264.6 203.8h0" stroke="#858585" stroke-width="2.3" stroke-linecap="round" fill="none" opacity="1"/>
<path d="M1299.7 213.4L1301 212.5L1302.3 213.7L1303.6 213.9L1304.9 213L1306.2 212.7L1307.5 213.4L1308.8 212.9L1310.1 212.8L1311.4 213.8L1312.7 212.8L1314 214.3L1315.3 214L1316.6 213L1317.9 214.1L1319.2 214.4L1320.5 214.8L1321.8 213.9L1323.1 214.7L1324.4 214.2L1325.7 214.5L1327 215L1328.3 213.6L1329.6 214.8L1330.9 214.1L1332.2 215.1L1333.5 214.2L1334.8 214.7L1336.1 214.2L1337.4 214.2L1338.7 215.5L1340 215.5L1341.3 214.7L1342.6 215L1343.9 215.1L1345.2 214.8L1346.5 214.8L1347.8 214.9L1349.1 214.7L1350.4 216.1L1351.7 215.6L1353 215.7L1354.1 215.4L1354.1 229.5L1353 229.2L1351.7 229.2L1350.4 229.7L1349.1 229.1L1347.8 230L1346.5 229.5L1345.2 230.2L1343.9 229L1342.6 229.5L1341.3 229.6L1340 228.9L1338.7 228.2L1337.4 228.7L1336.1 229.1L1334.8 229.1L1333.5 229.3L1332.2 229.4L1330.9 229.3L1329.6 229.5L1328.3 228.2L1327 228.5L1325.7 228.9L1324.4 228L1323.1 228.9L1321.8 228.2L1320.5 228.3L1319.2 228.3L1317.9 227.5L1316.6 228.1L1315.3 227.3L1314 228.3L1312.7 227.3L1311.4 228.4L1310.1 228.2L1308.8 227.9L1307.5 227.7L1306.2 226.8L1304.9 227.9L1303.6 226.5L1302.3 228L1301 228.1L1299.7 227.7Z" fill="#828282"/>
<path d="M1308.7 229.2h0M1313.7 228.8h0M1309.2 229h0M1310.6 228.5h0M1319.2 231.3h0M1328.3 229.9h0M1329.4 230.2h0M1348.6 214.1h0M1316.6 231.1h0M1334.6 214.3h0M1321.4 213.7h0M1331.1 229.7h0M1335.6 231.2h0M1311.2 213h0M1342.8 230.9h0M1307.8 230h0M1352.7 231.6h0M1326.1 212.4h0M1350.7 230.5h0M1309.4 228.1h0M1306.4 210.6h0M1321 230h0M1303.1 229.1h0M1322.6 231h0M1331.5 230.1h0M1316.1 230.1h0M1306.1 212.1h0M1337.8 214.2h0M1339.9 232h0" stroke="#828282" stroke-width="2.6" stroke-linecap="round" fill="none" opacity="1"/>
<path d="M1340.5 237.4h0M1344.1 240.9h0M1342.2 235.6h0M1331.4 241.1h0M1317.6 241.2h0M1345.2 235h0M1330.6 234.9h0M1348 227.1h0M1322.4 239h0M1331.9 227.1h0M1329.7 229.3h0M1343.6 240.8h0M1310.3 236h0M1323.2 236.5h0M1336.4 233.7h0M1315.6 234.6h0M1344.3 228.7h0M1304.4 229.8h0M1308 227.5h0M1316.5 227.1h0M1340.9 232.2h0M1320.1 228.1h0M1347.4 235.9h0M1339.1 237.4h0M1337.7 231.1h0M1310 237.3h0M1304.8 237.5h0M1301.1 234.7h0M1324.1 233.6h0M1333.9 231.9h0M1327.1 231.9h0M1304.5 238.4h0M1323.1 230.6h0M1328.1 233.8h0M1335.6 227.3h0M1327.9 233.5h0M1305.2 228.1h0M1317.1 229h0M1316.6 232h0M1317.6 227.1h0" stroke="#858585" stroke-width="2.5" stroke-linecap="round" fill="none" opacity="1"/>
<path d="M1307.3 207.5h0M1319.4 202.6h0" stroke="#858585" stroke-width="2.3" stroke-linecap="round" fill="none" opacity="1"/>
<path d="M1354.1 215.8L1355.4 215.9L1356.7 216.3L1358 217.1L1359.3 217L1360.6 216.2L1361.9 216.8L1363.2 217.3L1364.5 216.2L1365.8 216.7L1367.1 216.8L1368.4 217.3L1369.7 216.9L1371 216L1372.3 216.5L1373.6 216.8L1374.9 216.3L1376.2 216.2L1377.5 216.1L1378.8 216.4L1380.1 216.9L1381.4 217.3L1382.7 217.4L1384 217.4L1385.3 217.1L1386.6 216.3L1387.9 217.1L1389.2 216.7L1390.5 217.5L1391.8 216.7L1393.1 216.7L1394.4 217.5L1395.7 217.4L1397 216.6L1398.3 217.9L1399.6 217.3L1400.9 217.7L1402.2 217.9L1403.5 217.9L1404.8 218L1406.1 216.4L1406.8 217.4L1406.8 231.9L1406.1 231.2L1404.8 230.5L1403.5 231.3L1402.2 231.5L1400.9 231.4L1399.6 231.5L1398.3 231.2L1397 231.1L1395.7 231.8L1394.4 230.6L1393.1 230.8L1391.8 230.4L1390.5 231.2L1389.2 232L1387.9 231.7L1386.6 231.8L1385.3 231L1384 230.9L1382.7 231.9L1381.4 231.5L1380.1 230.5L1378.8 231.3L1377.5 231.6L1376.2 231L1374.9 230.9L1373.6 231L1372.3 231.6L1371 230.5L1369.7 230.7L1368.4 231.4L1367.1 231.6L1365.8 231.3L1364.5 230.9L1363.2 231.6L1361.9 231L1360.6 231.6L1359.3 230.9L1358 230.3L1356.7 230.2L1355.4 231.5L1354.1 230.2Z" fill="#828282"/>
<path d="M1359.1 232.2h0M1400.1 233.7h0M1380.1 231.5h0M1377.7 216.4h0M1369 233.5h0M1365.8 231.1h0M1395.6 216.5h0M1381.3 231.4h0M1377.5 232.2h0M1379.4 232.3h0M1390.5 216.5h0M1394.5 231.9h0M1383.7 215.4h0M1405.5 234.1h0M1366 233.3h0M1381 215.9h0M1367 214h0M1370.4 235.5h0M1358.9 216h0M1375.7 233.1h0M1382.1 231.8h0M1389.3 215.5h0M1381.8 216.1h0M1402.7 233h0M1359 215.3h0M1391.3 231.5h0M1359.7 231.4h0M1393.3 232.6h0" stroke="#828282" stroke-width="2.6" stroke-linecap="round" fill="none" opacity="1"/>
<path d="M1361.7 231.5h0M1390.6 237.9h0M1403 241.3h0M1381.7 235h0M1373.8 231.2h0M1392 237.5h0M1386 231.7h0M1378 237h0M1386.5 231.1h0M1363.7 233.1h0M1362.2 240.6h0M1397 236.6h0M1369.1 236.3h0M1396.8 233h0M1374.9 236.1h0M1378.2 240.4h0M1395 237.1h0M1383.5 235.6h0M1358.5 233.3h0M1380.9 240.1h0M1394.2 232.7h0M1382.1 238.1h0M1397.2 233.8h0M1385.5 232.5h0M1388.9 240.6h0M1361.4 232.6h0M1400.1 231.2h0M1394.4 230.7h0M1377.9 233.2h0M1375.5 235.9h0M1365.2 234.9h0M1355.7 235.5h0M1356 232.8h0M1383.1 234.7h0M1384.5 230.9h0M1361.5 230.8h0M1374.6 234.5h0M1389.4 230.8h0M1384.8 235.8h0" stroke="#858585" stroke-width="2.5" stroke-linecap="round" fill="none" opacity="1"/>
<path d="M1406.8 216.7L1408.1 217.5L1409.4 217.7L1410.7 216.8L1412 217.2L1413.3 217.5L1414.6 217.4L1415.9 217L1417.2 217.3L1418.5 217.4L1419.8 217.1L1421.1 217L1422.4 216.8L1423.7 216.6L1425 217.8L1426.3 217L1427.6 217.9L1428.9 218L1430.2 217.2L1431.5 217.7L1432.8 216.7L1434.1 216.9L1435.4 217.3L1436.7 217.4L1438 216.6L1439.3 217.7L1440.6 218.3L1441.9 216.8L1443.2 217.3L1444.5 218.2L1445.8 217.5L1447.1 217L1448.4 216.9L1449.7 218.3L1451 216.8L1452.3 218.2L1453.6 218L1454.9 217L1456.2 217.6L1457.5 218.2L1458.8 217.7L1460.1 218.1L1460.9 217.8L1460.9 231L1460.1 232.3L1458.8 231.5L1457.5 231.7L1456.2 232.5L1454.9 232L1453.6 232L1452.3 232.3L1451 231.7L1449.7 231.5L1448.4 232.5L1447.1 231.7L1445.8 232L1444.5 231L1443.2 232.6L1441.9 231.9L1440.6 231.3L1439.3 231.7L1438 231.9L1436.7 231.9L1435.4 232.2L1434.1 231.6L1432.8 232L1431.5 231.5L1430.2 230.8L1428.9 231.3L1427.6 231.5L1426.3 232L1425 232.2L1423.7 232.4L1422.4 230.7L1421.1 231.1L1419.8 231.9L1418.5 231.5L1417.2 231.7L1415.9 230.9L1414.6 231.9L1413.3 230.7L1412 232.2L1410.7 230.7L1409.4 231.5L1408.1 232.2L1406.8 231.6Z" fill="#828282"/>
<path d="M1415.7 216.2h0M1446.4 234.4h0M1438.9 233.4h0M1424.4 235.2h0M1412.5 234.1h0M1431 233h0M1444.7 215.3h0M1437 216.3h0M1432.6 233.5h0M1420.9 235.4h0M1451.9 234.1h0M1456.2 233.7h0M1423.3 232h0M1429.1 232.1h0M1412.9 235.4h0M1442.4 216.1h0M1415.9 233.7h0M1417.3 232.4h0M1438.4 236.1h0M1443.6 235.2h0M1408.9 232.5h0M1414 232h0M1457.6 232.6h0M1430.7 236.4h0M1452.2 217.3h0M1441.1 232.1h0M1449.3 216.5h0M1414.6 236.1h0M1416.1 233.6h0" stroke="#828282" stroke-width="2.6" stroke-linecap="round" fill="none" opacity="1"/>
<path d="M1434.7 231.7h0M1419.4 238.7h0M1415.6 233.6h0M1419.4 234.7h0M1419.7 237.3h0M1432 232.7h0M1431.3 238h0M1431.4 241.3h0M1416.7 232h0M1445.2 236.6h0M1416.7 232.2h0M1442 236.2h0M1449.6 235.6h0M1431.3 238.6h0M1433.1 235.6h0M1423.8 239.1h0M1436.1 240.3h0M1456.2 236.6h0M1454.2 232.2h0M1451.7 239.8h0M1435.6 232.1h0M1447.2 237.4h0M1456 232.1h0M1458.5 238.5h0M1416.1 234.5h0M1458.3 234.8h0M1413.5 233.1h0M1413.7 233.3h0M1414.6 234h0M1441.5 239h0M1433.7 233.9h0M1454.8 232h0M1434.5 232.9h0M1442.3 236.8h0M1422.5 237h0M1459.5 233.5h0M1425.3 237.1h0M1427.8 236h0M1424.9 232h0M1457.9 234.3h0" stroke="#858585" stroke-width="2.5" stroke-linecap="round" fill="none" opacity="1"/>
<path d="M1460.9 217.2L1462.2 217.6L1463.5 218.5L1464.8 217.5L1466.1 217.7L1467.4 217.3L1468.7 217.9L1470 216.9L1471.3 218.4L1472.6 217.5L1473.9 218.1L1475.2 218.3L1476.5 217.7L1477.8 218.2L1479.1 217.8L1480.4 217.8L1481.7 217.7L1483 217.9L1484.3 218.2L1485.6 217.1L1486.9 217.3L1488.2 217L1489.5 217L1490.8 216.8L1492.1 216.8L1493.4 218.1L1494.7 216.9L1496 217L1497.3 216.9L1498.6 217.7L1499.9 217.8L1501.2 216.6L1502.5 216.7L1503.8 217.9L1505.1 217.9L1506.4 217.5L1507.7 218L1509 217L1510.3 217.6L1511.6 216.4L1512.9 216.5L1514.2 217.3L1515.3 217.7L1515.3 230.6L1514.2 231.4L1512.9 231.2L1511.6 231.9L1510.3 231.4L1509 232.1L1507.7 231.6L1506.4 230.7L1505.1 232L1503.8 231.5L1502.5 231.7L1501.2 230.8L1499.9 230.9L1498.6 232.4L1497.3 230.9L1496 231.7L1494.7 232.5L1493.4 232.5L1492.1 231.5L1490.8 231.8L1489.5 230.8L1488.2 231.6L1486.9 231.8L1485.6 231.6L1484.3 230.9L1483 231.6L1481.7 232L1480.4 231.4L1479.1 230.9L1477.8 231.6L1476.5 231.8L1475.2 231L1473.9 231.7L1472.6 232.7L1471.3 231.9L1470 231.4L1468.7 232.6L1467.4 231.1L1466.1 232.2L1464.8 231.4L1463.5 232.3L1462.2 232.8L1460.9 231.3Z" fill="#828282"/>
<path d="M1490.7 232.1h0M1508.8 233.3h0M1463 232.3h0M1497.6 232h0M1481.5 232.1h0M1495 232.7h0M1473 215.1h0M1503.1 217.1h0M1498.2 216.9h0M1481.4 232.4h0M1473.2 234.9h0M1499.3 233.4h0M1463.5 234.8h0M1467.9 232.6h0M1474 217.3h0M1482.2 232.9h0M1486.2 232h0M1482.6 234.4h0M1509.6 231.7h0M1503.4 233.1h0M1462.3 234.8h0M1482.8 233h0M1469.5 217.1h0M1475.1 215.9h0M1485.3 232.1h0M1502.2 234.1h0M1468.6 215h0M1506.6 233.2h0M1491.6 233.6h0" stroke="#828282" stroke-width="2.6" stroke-linecap="round" fill="none" opacity="1"/>
<path d="M1478.1 237h0M1495.4 232.3h0M1508.5 240.3h0M1462.1 235.8h0M1467.9 232.1h0M1483.7 239.4h0M1508.9 233h0M1466.9 232.4h0M1510.8 234.2h0M1489.5 239.1h0M1510.7 238.8h0M1467 233.7h0M1507.6 236.5h0M1497.9 233h0M1486.7 232.7h0M1497.5 237.5h0M1478.4 234.4h0M1480.2 238.1h0M1509 238.8h0M1500.7 233.7h0M1466.7 239.4h0M1470.7 235.6h0M1488.3 241.1h0M1503.6 235.2h0M1499.5 233h0M1494.6 237.1h0M1469.9 239h0M1485.7 232.1h0M1505.8 237.7h0M1479.4 232.2h0M1476 235.4h0M1500.4 234.3h0M1480.9 237.8h0M1490.8 240.1h0M1467.6 232.3h0M1493.9 234.8h0M1477.7 232.1h0M1506.3 236.6h0M1479.3 236.1h0M1476.3 234.7h0" stroke="#858585" stroke-width="2.5" stroke-linecap="round" fill="none" opacity="1"/>
<path d="M1515.3 216.3L1516.6 216.7L1517.9 216.7L1519.2 217.4L1520.5 216.4L1521.8 217L1523.1 217.1L1524.4 217.8L1525.7 217.3L1527 217L1528.3 217.3L1529.6 217.1L1530.9 217.4L1532.2 217.3L1533.5 217.5L1534.8 217.4L1536.1 217.4L1537.4 216.6L1538.7 217.6L1540 216.3L1541.3 216.2L1542.6 217.4L1543.9 217L1545.2 216.8L1546.5 217.5L1547.8 217.6L1549.1 217.7L1550.4 217.6L1551.7 216.4L1553 216.6L1554.3 217.5L1555.6 216.4L1556.9 217.4L1558.2 216.7L1559.5 217.4L1560.8 217.8L1562.1 216.9L1563.4 216.8L1564.7 216.8L1566 217.5L1567.3 217.2L1568.6 217.8L1569.9 217.4L1571.2 216.5L1571.2 217.6L1571.2 231.5L1571.2 230.8L1569.9 232L1568.6 231.7L1567.3 231.1L1566 232L1564.7 232.3L1563.4 231.3L1562.1 231.3L1560.8 231.7L1559.5 231.3L1558.2 231.3L1556.9 231.8L1555.6 231.2L1554.3 231.5L1553 230.7L1551.7 231.1L1550.4 231.4L1549.1 231.2L1547.8 230.9L1546.5 231.7L1545.2 231.9L1543.9 232.1L1542.6 231.5L1541.3 230.9L1540 231.5L1538.7 232L1537.4 230.4L1536.1 231.5L1534.8 231.5L1533.5 230.6L1532.2 231.2L1530.9 232L1529.6 230.6L1528.3 231.9L1527 231.9L1525.7 230.8L1524.4 231.8L1523.1 231.8L1521.8 231.6L1520.5 230.4L1519.2 230.8L1517.9 231.4L1516.6 231.2L1515.3 231.4Z" fill="#828282"/>
<path d="M1564.7 234.9h0M1547.9 232.2h0M1534.2 233.4h0M1528.6 232.7h0M1545.5 214.3h0M1522.2 233.6h0M1553.2 232.9h0M1537.2 216.2h0M1520.6 233.4h0M1543.4 233.1h0M1556.5 231.9h0M1558.7 233.8h0M1520.7 232h0M1550.5 215.5h0M1561.4 233.2h0M1549.9 231.8h0M1549.4 231.7h0M1566.5 215.5h0M1519.8 232.4h0M1542.9 216.4h0M1560.7 233.2h0M1534.1 233.2h0M1536.5 232.6h0M1538.7 233h0M1519.9 234h0M1556.2 233.2h0M1568.7 216.1h0M1544 232.3h0M1545.3 234.8h0M1543.2 216.3h0" stroke="#828282" stroke-width="2.6" stroke-linecap="round" fill="none" opacity="1"/>
<path d="M1534.5 236.2h0M1552.1 240.6h0M1533.8 231.3h0M1517.3 231.1h0M1533.1 236.1h0M1565.7 237.6h0M1532.4 240.6h0M1543.1 236.4h0M1524.4 231.5h0M1544 233.3h0M1557.1 237.7h0M1563 237.7h0M1543.8 232.7h0M1524.5 232.9h0M1530.8 234h0M1517.1 231.2h0M1545.2 231.9h0M1538.4 239.7h0M1539.4 235.9h0M1562.9 239.4h0M1522.6 232.6h0M1525.7 239.2h0M1529.7 234.4h0M1545.5 240.4h0M1562.1 233.9h0M1532.7 232.4h0M1522.8 239.9h0M1534.3 236.8h0M1563.1 231.1h0M1558.6 236.6h0M1569.7 233.1h0M1549.5 232h0M1552.4 234.3h0M1527.4 239.8h0M1528.5 240.3h0M1527.7 237.5h0M1524.5 231.1h0M1560.7 231.3h0M1539.4 231h0M1557.1 234.5h0M1537.6 235.6h0" stroke="#858585" stroke-width="2.5" stroke-linecap="round" fill="none" opacity="1"/>
<path d="M975.5 98.2V294.5M1031.7 98.2V294.5M1085.6 98.2V294.5M1188.7 98.2V294.5M1244.4 98.2V294.5M1299.7 98.2V294.5M1406.8 98.2V294.5M1460.9 98.2V294.5M1515.3 98.2V294.5M1569.1 98.2V294.5" stroke="#333" stroke-width="1.6" fill="none" opacity="0.3"/>
<path d="M975.5 98.2V294.5M1031.7 98.2V294.5M1085.6 98.2V294.5M1188.7 98.2V294.5M1244.4 98.2V294.5M1299.7 98.2V294.5M1406.8 98.2V294.5M1460.9 98.2V294.5M1515.3 98.2V294.5M1569.1 98.2V294.5" stroke="#1c1c1c" stroke-width="1.9" stroke-dasharray="1.1 0.9" stroke-dashoffset="1.20" fill="none" opacity="0.62"/>
<path d="M1571.2 294.5H921.7V98.2H1571.2" stroke="#4a4a4a" stroke-width="1.4" fill="none"/>
<rect x="921.0" y="314.3" width="650.8" height="196.09999999999997" fill="#f5f5f5"/>
<path d="M911 510.4H1571.8M911 482.4H1571.8M911 454.4H1571.8M911 426.4H1571.8M911 398.3H1571.8M911 370.3H1571.8M911 342.3H1571.8M911 314.3H1571.8" stroke="#d6d6d6" stroke-width="1.1" fill="none"/>
<path d="M947.4 317.3V510.4M1002.1 317.3V510.4M1057.8 317.3V510.4M1109.6 317.3V510.4M1161.5 317.3V510.4M1214 317.3V510.4M1269.8 317.3V510.4M1326.5 317.3V510.4M1379.4 317.3V510.4M1432.4 317.3V510.4M1486.9 317.3V510.4M1540.8 317.3V510.4" stroke="#cfcfcf" stroke-width="1" stroke-dasharray="1.6 5.4" fill="none"/>
<path d="M947.4 502.9V510.4M1002.1 502.9V510.4M1057.8 502.9V510.4M1109.6 502.9V510.4M1161.5 502.9V510.4M1214 502.9V510.4M1269.8 502.9V510.4M1326.5 502.9V510.4M1379.4 502.9V510.4M1432.4 502.9V510.4M1486.9 502.9V510.4M1540.8 502.9V510.4" stroke="#c2c2c2" stroke-width="1" fill="none"/>
<text x="902" y="513.9" text-anchor="end" font-family='"DejaVu Sans","Liberation Sans",sans-serif' font-size="9.7" fill="#505050">0</text>
<text x="902" y="485.9" text-anchor="end" font-family='"DejaVu Sans","Liberation Sans",sans-serif' font-size="9.7" fill="#505050">500</text>
<text x="902" y="457.9" text-anchor="end" font-family='"DejaVu Sans","Liberation Sans",sans-serif' font-size="9.7" fill="#505050">1000</text>
<text x="902" y="429.8" text-anchor="end" font-family='"DejaVu Sans","Liberation Sans",sans-serif' font-size="9.7" fill="#505050">1500</text>
<text x="902" y="401.8" text-anchor="end" font-family='"DejaVu Sans","Liberation Sans",sans-serif' font-size="9.7" fill="#505050">2000</text>
<text x="902" y="373.8" text-anchor="end" font-family='"DejaVu Sans","Liberation Sans",sans-serif' font-size="9.7" fill="#505050">2500</text>
<text x="902" y="345.8" text-anchor="end" font-family='"DejaVu Sans","Liberation Sans",sans-serif' font-size="9.7" fill="#505050">3000</text>
<text x="902" y="317.8" text-anchor="end" font-family='"DejaVu Sans","Liberation Sans",sans-serif' font-size="9.7" fill="#505050">3500</text>
<path d="M921 421.4L922.3 418.7L923.6 418.7L924.9 420.4L926.2 418.6L927.5 419.3L928.8 421.1L930.1 420.8L931.4 419.7L932.7 419.9L934 421.1L935.3 420.5L936.6 419.7L937.9 421.2L939.2 418.6L940.5 419.4L941.8 418.5L943.1 420L944.4 420.7L945.7 419.9L947 420L948.3 418.9L949.6 419.6L950.9 419.4L952.2 420.6L953.5 420.6L954.8 420.4L956.1 419.7L957.4 419.3L958.7 419.9L960 419.5L961.3 420.9L962.6 419L963.9 421L965.2 419.5L966.5 421.3L967.8 420.4L969.1 419.6L970.4 419.3L971.7 419.6L973 419.8L974.3 419.4L974.5 419.3L974.5 458L974.3 458.1L973 457.7L971.7 458.2L970.4 458.1L969.1 458.3L967.8 458.2L966.5 458.1L965.2 458.1L963.9 458.1L962.6 457.7L961.3 458L960 457.9L958.7 457.6L957.4 458L956.1 457.7L954.8 458.2L953.5 458.1L952.2 457.7L950.9 457.5L949.6 457.4L948.3 458L947 457.5L945.7 457.4L944.4 457.6L943.1 457.4L941.8 457.4L940.5 457.6L939.2 458.1L937.9 457.4L936.6 458L935.3 457.5L934 457.7L932.7 457.9L931.4 457.5L930.1 458L928.8 458L927.5 457.8L926.2 458L924.9 457.8L923.6 457.5L922.3 458.2L921 458.2Z" fill="#898985"/>
<path d="M936.6 419.7h0M939.9 417.2h0M933 457.7h0M959.2 458.1h0M962.4 457.5h0M950.4 457.6h0M971.9 457.4h0M944.4 457.8h0M959.6 421.4h0M932 457.4h0M952.6 457.8h0M931.4 457.4h0M928.6 415h0M950.6 419.5h0M962.5 457.5h0M957.4 416.7h0M936.8 420h0M933.8 421.1h0M964 416.9h0M951.4 420.9h0M951.1 457.6h0M931.9 416.2h0M938.2 420.1h0M969.3 417.1h0" stroke="#898985" stroke-width="2.8" stroke-linecap="round" fill="none" opacity="1"/>
<rect transform="translate(921 448.8)" x="0" y="-11.5" width="53.5" height="23" fill="url(#gH)"/>
<path d="M974.5 418.7L975.8 421L977.1 421.4L978.4 421.2L979.7 418.6L981 419.8L982.3 419.5L983.6 419.1L984.9 420.8L986.2 419.7L987.5 420.2L988.8 420.9L990.1 420.8L991.4 421.5L992.7 418.8L994 418.8L995.3 421.4L996.6 419.5L997.9 420.9L999.2 421.2L1000.5 420.6L1001.8 419.3L1003.1 421.5L1004.4 419.1L1005.7 419.8L1007 420.1L1008.3 419.9L1009.6 420.9L1010.9 420.5L1012.2 420.6L1013.5 420.3L1014.8 420.1L1016.1 419.4L1017.4 421.2L1018.7 419.5L1020 421.4L1021.3 420.6L1022.6 419.7L1023.9 420.8L1025.2 419.3L1026.5 420.6L1027.8 420.8L1029.1 419.4L1030.4 420.9L1030.5 420.7L1030.5 457.7L1030.4 457.7L1029.1 458.2L1027.8 457.6L1026.5 457.6L1025.2 458L1023.9 457.6L1022.6 457.4L1021.3 458.2L1020 458L1018.7 457.8L1017.4 457.5L1016.1 457.7L1014.8 458L1013.5 458L1012.2 457.6L1010.9 457.4L1009.6 457.6L1008.3 457.5L1007 457.6L1005.7 457.5L1004.4 457.4L1003.1 457.6L1001.8 458.2L1000.5 457.8L999.2 458L997.9 458.3L996.6 457.7L995.3 457.7L994 457.4L992.7 458.2L991.4 457.6L990.1 457.8L988.8 458.3L987.5 457.8L986.2 457.6L984.9 458L983.6 457.9L982.3 458.1L981 457.4L979.7 457.8L978.4 457.6L977.1 457.9L975.8 458.2L974.5 458.2Z" fill="#898985"/>
<path d="M982.9 420h0M980.5 457.6h0M983.2 418.1h0M979.8 457.5h0M1016.2 419.6h0M1004 457.9h0M998.2 416.1h0M986.3 417h0M1002 414.2h0M989.8 458h0M1006.5 457.6h0M1011.8 420.3h0M993.7 457.5h0M988.5 420.7h0M1021.9 419.9h0M1015 458.9h0M1016.4 418h0M1002.7 420.6h0M993.1 417.9h0M989.8 457.4h0M1025.5 419.6h0M1006 457.6h0M1028.3 415.5h0M1013.8 420.4h0M987.1 420.8h0" stroke="#898985" stroke-width="2.8" stroke-linecap="round" fill="none" opacity="1"/>
<rect transform="translate(974.5 448.8)" x="0" y="-11.5" width="56" height="23" fill="url(#gH)"/>
<path d="M1030.5 420.6L1031.8 421.5L1033.1 420.6L1034.4 420.8L1035.7 421.3L1037 421L1038.3 419.2L1039.6 421.3L1040.9 419.3L1042.2 420.7L1043.5 420.3L1044.8 420.6L1046.1 419.6L1047.4 418.6L1048.7 420.8L1050 419L1051.3 418.6L1052.6 421.1L1053.9 421.5L1055.2 419L1056.5 421.3L1057.8 419.2L1059.1 421L1060.4 420.7L1061.7 420L1063 421.2L1064.3 419.9L1065.6 419.3L1066.9 420.7L1068.2 421.4L1069.5 421.2L1070.8 419.1L1072.1 420L1073.4 419.9L1074.7 419.2L1076 420.1L1077.3 421.4L1078.6 419.2L1079.9 418.8L1081.2 419.8L1082.5 421.1L1083.8 419.8L1084.6 420.6L1084.6 457.7L1083.8 457.8L1082.5 458.2L1081.2 458L1079.9 457.5L1078.6 457.9L1077.3 457.6L1076 457.6L1074.7 458.1L1073.4 458L1072.1 457.9L1070.8 457.4L1069.5 458.1L1068.2 458.3L1066.9 457.4L1065.6 457.8L1064.3 457.7L1063 458.2L1061.7 458L1060.4 458.2L1059.1 458.3L1057.8 457.8L1056.5 457.4L1055.2 457.7L1053.9 458.3L1052.6 457.6L1051.3 457.9L1050 457.8L1048.7 458.1L1047.4 457.8L1046.1 457.4L1044.8 457.4L1043.5 458.2L1042.2 458.1L1040.9 458L1039.6 457.7L1038.3 457.6L1037 457.7L1035.7 457.5L1034.4 458.2L1033.1 458.2L1031.8 458.2L1030.5 457.6Z" fill="#898985"/>
<path d="M1066.2 457.5h0M1052.5 417.7h0M1038.2 419.1h0M1066.4 457.7h0M1054.9 457.6h0M1046.2 421.3h0M1045.2 458h0M1040.7 421.3h0M1053.2 458h0M1047.4 419h0M1045 421h0M1072.7 457.5h0M1082.1 457.7h0M1032.8 415.9h0M1077.3 417.8h0M1060.9 420h0M1033.2 419.1h0M1055.3 419.1h0M1032.2 457.7h0M1048.7 458.2h0M1075.1 457.4h0M1067.4 457.9h0M1046 421.2h0M1045.4 420.4h0" stroke="#898985" stroke-width="2.8" stroke-linecap="round" fill="none" opacity="1"/>
<rect transform="translate(1030.5 448.8)" x="0" y="-11.5" width="54.1" height="23" fill="url(#gH)"/>
<path d="M1084.6 421.5L1085.9 421.1L1087.2 420.2L1088.5 420.3L1089.8 421.2L1091.1 419.9L1092.4 421.2L1093.7 418.7L1095 421.1L1096.3 420.6L1097.6 420.6L1098.9 420.8L1100.2 419.4L1101.5 419.9L1102.8 420.3L1104.1 421.5L1105.4 420.3L1106.7 419.7L1108 419.7L1109.3 418.8L1110.6 421.1L1111.9 421.4L1113.2 419.1L1114.5 420L1115.8 419.3L1117.1 420.4L1118.4 421.1L1119.7 420.2L1121 421.4L1122.3 420.6L1123.6 419.1L1124.9 419.5L1126.2 419.3L1127.5 419.2L1128.8 421.3L1130.1 420.8L1131.4 418.6L1132.7 420.4L1134 418.5L1135.3 419.7L1136.6 418.7L1136.9 419.9L1136.9 458.2L1136.6 457.9L1135.3 458.1L1134 457.9L1132.7 457.8L1131.4 458.3L1130.1 457.7L1128.8 457.5L1127.5 458.1L1126.2 457.9L1124.9 457.8L1123.6 457.9L1122.3 457.4L1121 458.2L1119.7 458.1L1118.4 458L1117.1 458L1115.8 457.9L1114.5 457.6L1113.2 457.9L1111.9 458L1110.6 458.1L1109.3 457.6L1108 457.6L1106.7 457.4L1105.4 457.7L1104.1 458L1102.8 457.6L1101.5 457.7L1100.2 457.5L1098.9 457.4L1097.6 458L1096.3 457.4L1095 458L1093.7 458.2L1092.4 457.5L1091.1 458.3L1089.8 457.6L1088.5 457.4L1087.2 457.6L1085.9 457.9L1084.6 458.1Z" fill="#898985"/>
<path d="M1098.6 458.1h0M1112.6 457.8h0M1135.4 457.4h0M1132.8 457.5h0M1092.3 421.2h0M1113.8 420.1h0M1104.8 457.7h0M1107.7 415.6h0M1101.8 421.1h0M1125.2 415.1h0M1120.7 420.3h0M1115 419.9h0M1107.8 420.7h0M1124.1 418h0M1102.7 458.7h0M1128.5 420.7h0M1115.8 458.1h0M1108.5 421.1h0M1121.5 420.2h0M1102.7 420.8h0M1106.6 420.9h0M1132.1 418.2h0M1094.9 457.6h0" stroke="#898985" stroke-width="2.8" stroke-linecap="round" fill="none" opacity="1"/>
<rect transform="translate(1084.6 448.8)" x="0" y="-11.5" width="52.3" height="23" fill="url(#gH)"/>
<path d="M1136.9 426.9L1138.2 426.5L1139.5 428.1L1140.8 427L1142.1 426.3L1143.4 426.5L1144.7 427.8L1146 428L1147.3 427.8L1148.6 427.6L1149.9 426L1151.2 426.7L1152.5 427.8L1153.8 427.9L1155.1 427.9L1156.4 427L1157.7 426.9L1159 426.2L1160.3 426.6L1161.6 426.7L1162.9 426.8L1164.2 427.3L1165.5 426.6L1166.8 427.5L1168.1 427.9L1169.4 426.3L1170.7 426.9L1172 428L1173.3 427.5L1174.6 427L1175.9 428L1177.2 426.4L1178.5 426.9L1179.8 427.1L1181.1 426.7L1182.4 427.1L1183.7 426.1L1185 427.3L1186.3 427.2L1187.6 426.2L1187.7 426L1187.7 458L1187.6 457.6L1186.3 457.9L1185 457.8L1183.7 457.5L1182.4 457.7L1181.1 457.5L1179.8 458.1L1178.5 457.4L1177.2 457.9L1175.9 457.9L1174.6 457.9L1173.3 457.4L1172 457.9L1170.7 458.2L1169.4 458L1168.1 457.5L1166.8 457.4L1165.5 457.7L1164.2 457.5L1162.9 458L1161.6 458L1160.3 458.1L1159 457.8L1157.7 458.1L1156.4 458L1155.1 457.6L1153.8 457.5L1152.5 457.4L1151.2 457.4L1149.9 457.9L1148.6 457.5L1147.3 457.9L1146 457.4L1144.7 458L1143.4 457.4L1142.1 457.8L1140.8 458L1139.5 457.8L1138.2 458.2L1136.9 458.1Z" fill="#898985"/>
<path d="M1142.5 457.4h0M1154.5 457.6h0M1162.3 425.5h0M1145.7 426.1h0M1170.9 426.1h0M1145.2 427.3h0M1160.4 425.8h0M1143.5 457.5h0M1140.6 426.6h0M1146 423.7h0M1162.5 427.4h0M1154.1 426.9h0M1152 426.3h0M1139.5 427.8h0M1180.8 426.1h0M1173.5 427.2h0M1142.6 427.3h0M1148.7 425.7h0M1144.1 425h0M1155.4 426.4h0M1142.8 426.3h0M1177.7 457.4h0" stroke="#898985" stroke-width="2.8" stroke-linecap="round" fill="none" opacity="1"/>
<rect transform="translate(1136.9 448.8)" x="0" y="-11.5" width="50.8" height="23" fill="url(#gH)"/>
<path d="M1187.7 426.2L1189 427.7L1190.3 426.1L1191.6 427.9L1192.9 426.8L1194.2 426.5L1195.5 428L1196.8 427.8L1198.1 427L1199.4 427.2L1200.7 425.9L1202 427.1L1203.3 426.3L1204.6 425.9L1205.9 425.9L1207.2 427.3L1208.5 425.8L1209.8 427.9L1211.1 425.9L1212.4 427.1L1213.7 428.1L1215 426.3L1216.3 427.9L1217.6 427.3L1218.9 426.5L1220.2 427.2L1221.5 427.4L1222.8 426.1L1224.1 427.7L1225.4 426.8L1226.7 426.3L1228 426.9L1229.3 427.7L1230.6 426L1231.9 426.4L1233.2 427.4L1234.5 427L1235.8 425.9L1237.1 427.9L1238.4 426L1239.7 427.3L1241 427.9L1242.3 426.7L1243.4 426.1L1243.4 457.5L1242.3 458.2L1241 458L1239.7 457.5L1238.4 457.9L1237.1 457.8L1235.8 457.5L1234.5 457.5L1233.2 457.7L1231.9 457.5L1230.6 457.8L1229.3 457.6L1228 457.6L1226.7 457.9L1225.4 457.8L1224.1 458.2L1222.8 457.4L1221.5 457.6L1220.2 457.7L1218.9 457.8L1217.6 458.1L1216.3 458.1L1215 457.5L1213.7 457.6L1212.4 458L1211.1 457.6L1209.8 457.4L1208.5 457.7L1207.2 458L1205.9 457.7L1204.6 458L1203.3 457.9L1202 457.5L1200.7 457.6L1199.4 458.2L1198.1 457.5L1196.8 458.1L1195.5 458L1194.2 458.2L1192.9 457.5L1191.6 458.2L1190.3 458.3L1189 457.7L1187.7 457.9Z" fill="#898985"/>
<path d="M1241.7 426.1h0M1214.6 424.3h0M1213.5 426.1h0M1236.1 457.7h0M1192.6 457.4h0M1225.4 426.3h0M1218.6 457.7h0M1208.5 425.4h0M1194.3 457.9h0M1199.9 425.8h0M1200.9 457.9h0M1207.7 425.3h0M1199.9 426.6h0M1190 425.1h0M1222 425.7h0M1239.8 426.9h0M1241.7 427.6h0M1207.4 425.4h0M1209.4 427.1h0M1217.1 425.4h0M1223.6 424.5h0M1202.3 424.4h0M1234.6 457.4h0M1188.8 458.2h0M1215.4 457.4h0" stroke="#898985" stroke-width="2.8" stroke-linecap="round" fill="none" opacity="1"/>
<rect transform="translate(1187.7 448.8)" x="0" y="-11.5" width="55.7" height="23" fill="url(#gH)"/>
<path d="M1243.4 425.8L1244.7 426L1246 426.8L1247.3 427.6L1248.6 427.8L1249.9 426.8L1251.2 427.3L1252.5 427.4L1253.8 425.9L1255.1 426.2L1256.4 426.6L1257.7 425.9L1259 426L1260.3 427.7L1261.6 426.6L1262.9 426.4L1264.2 426.1L1265.5 427.3L1266.8 427L1268.1 427.4L1269.4 426.9L1270.7 427.8L1272 427.5L1273.3 425.9L1274.6 426.2L1275.9 427.3L1277.2 426.5L1278.5 427.3L1279.8 427.2L1281.1 426.4L1282.4 427.1L1283.7 427.8L1285 426.1L1286.3 426.3L1287.6 427.2L1288.9 426.3L1290.2 426.3L1291.5 427.8L1292.8 426.1L1294.1 427.7L1295.4 427.1L1296.7 426.4L1298 426.3L1298.7 427.8L1298.7 457.6L1298 457.5L1296.7 458.2L1295.4 457.4L1294.1 457.7L1292.8 458L1291.5 457.7L1290.2 458.2L1288.9 457.7L1287.6 457.5L1286.3 458.1L1285 457.6L1283.7 458L1282.4 458.2L1281.1 458L1279.8 458.3L1278.5 457.6L1277.2 457.9L1275.9 457.9L1274.6 457.9L1273.3 457.4L1272 458.2L1270.7 457.8L1269.4 458.1L1268.1 457.7L1266.8 458.1L1265.5 458.1L1264.2 457.7L1262.9 457.5L1261.6 458L1260.3 458L1259 457.8L1257.7 457.8L1256.4 457.5L1255.1 458.1L1253.8 457.9L1252.5 457.5L1251.2 458L1249.9 458L1248.6 457.6L1247.3 457.7L1246 457.5L1244.7 457.9L1243.4 457.6Z" fill="#898985"/>
<path d="M1283.1 425.4h0M1258 424.8h0M1275.5 427.7h0M1255.1 426.4h0M1285.6 425.9h0M1289.6 428.1h0M1283.5 427.7h0M1287.4 458.2h0M1258.9 458.1h0M1247 457.7h0M1286.9 426.2h0M1245.4 426.4h0M1249.1 457.6h0M1251.1 426.8h0M1273.7 427.1h0M1287.9 426.9h0M1259.6 422h0M1252.8 427.8h0M1278.6 425.1h0M1291.9 426.5h0M1295.3 457.7h0M1284.3 458.5h0M1265.8 457.7h0M1250.5 458.4h0" stroke="#898985" stroke-width="2.8" stroke-linecap="round" fill="none" opacity="1"/>
<rect transform="translate(1243.4 448.8)" x="0" y="-11.5" width="55.3" height="23" fill="url(#gH)"/>
<path d="M1298.7 426.1L1300 428L1301.3 427.4L1302.6 427.5L1303.9 426.8L1305.2 426.1L1306.5 428.1L1307.8 426.7L1309.1 425.9L1310.4 427.7L1311.7 426.4L1313 427.1L1314.3 426.1L1315.6 426.7L1316.9 427L1318.2 427L1319.5 426.4L1320.8 426.3L1322.1 427L1323.4 427L1324.7 427.9L1326 426L1327.3 425.9L1328.6 426L1329.9 426L1331.2 426.2L1332.5 426.2L1333.8 426.4L1335.1 427.3L1336.4 427.9L1337.7 427.2L1339 427.8L1340.3 426.8L1341.6 428L1342.9 427.5L1344.2 427.5L1345.5 428L1346.8 426.1L1348.1 427.7L1349.4 426.1L1350.7 426.8L1352 426L1353.3 426.9L1354.1 428L1354.1 457.8L1353.3 458.3L1352 457.4L1350.7 458.3L1349.4 457.4L1348.1 457.4L1346.8 458L1345.5 457.6L1344.2 457.5L1342.9 458.2L1341.6 457.9L1340.3 457.9L1339 458L1337.7 458.2L1336.4 457.5L1335.1 458.1L1333.8 457.9L1332.5 457.4L1331.2 458.1L1329.9 457.7L1328.6 458.2L1327.3 458.2L1326 457.4L1324.7 457.4L1323.4 457.6L1322.1 458L1320.8 457.4L1319.5 457.4L1318.2 458.1L1316.9 458.2L1315.6 457.4L1314.3 458.2L1313 458L1311.7 457.7L1310.4 458.1L1309.1 457.7L1307.8 457.4L1306.5 457.7L1305.2 457.6L1303.9 457.8L1302.6 458.1L1301.3 457.6L1300 457.5L1298.7 457.6Z" fill="#898985"/>
<path d="M1320.9 457.6h0M1317.8 425.8h0M1301.1 457.8h0M1352.2 457.8h0M1345.1 425.3h0M1339.1 458.4h0M1311.1 427.3h0M1317 458h0M1319.1 424.9h0M1343.3 427.4h0M1339.8 458.2h0M1303 457.9h0M1305.3 427.8h0M1338.6 427.9h0M1329.1 425.4h0M1346.1 425.4h0M1340.4 422.3h0M1309.4 457.5h0M1331.8 457.4h0M1318.6 458.3h0M1313.7 426.3h0M1320.5 457.5h0M1341.3 426.6h0M1309.5 426.7h0" stroke="#898985" stroke-width="2.8" stroke-linecap="round" fill="none" opacity="1"/>
<rect transform="translate(1298.7 448.8)" x="0" y="-11.5" width="55.4" height="23" fill="url(#gH)"/>
<path d="M1354.1 430.3L1355.4 430L1356.7 429.7L1358 429.9L1359.3 430.1L1360.6 430L1361.9 430.7L1363.2 429.8L1364.5 429.8L1365.8 429.8L1367.1 429.2L1368.4 430.3L1369.7 430.4L1371 429.2L1372.3 429.9L1373.6 430.6L1374.9 430.1L1376.2 429.8L1377.5 429.5L1378.8 430.4L1380.1 429.7L1381.4 429.7L1382.7 430.7L1384 429.4L1385.3 430.1L1386.6 429.8L1387.9 429.2L1389.2 429.9L1390.5 431.1L1391.8 429.7L1393.1 430.2L1394.4 430.2L1395.7 430.9L1397 429.6L1398.3 430L1399.6 429.9L1400.9 430.6L1402.2 430.1L1403.5 429.3L1404.8 429.9L1405.6 429.3L1405.6 457.8L1404.8 457.7L1403.5 458.1L1402.2 457.4L1400.9 458.1L1399.6 458L1398.3 457.9L1397 457.9L1395.7 457.8L1394.4 457.8L1393.1 457.4L1391.8 457.7L1390.5 458.3L1389.2 457.9L1387.9 457.5L1386.6 457.8L1385.3 457.8L1384 458.1L1382.7 457.6L1381.4 457.5L1380.1 457.4L1378.8 458L1377.5 457.5L1376.2 458.2L1374.9 458L1373.6 458L1372.3 457.6L1371 458.1L1369.7 457.5L1368.4 458.1L1367.1 457.7L1365.8 457.6L1364.5 457.7L1363.2 457.5L1361.9 458.1L1360.6 457.7L1359.3 457.5L1358 457.6L1356.7 457.8L1355.4 457.7L1354.1 457.9Z" fill="#898985"/>
<path d="M1367.4 428.3h0M1378.1 426.4h0M1392.2 428.3h0M1393.8 426.1h0M1371.2 428h0M1397.6 429.2h0M1375.9 429.3h0M1390.9 428.9h0M1378.4 429.9h0M1357.5 426.1h0M1388.8 457.9h0M1366.6 459.1h0M1360.5 431h0M1372.2 428.9h0M1376.9 457.5h0M1366.6 429.7h0M1364.6 426.6h0M1402 428.3h0M1394.7 429.9h0M1359.2 431.1h0M1379.9 430.3h0M1356.4 457.7h0M1373.2 458.6h0" stroke="#898985" stroke-width="2.8" stroke-linecap="round" fill="none" opacity="1"/>
<rect transform="translate(1354.1 448.8)" x="0" y="-11.5" width="51.5" height="23" fill="url(#gH)"/>
<path d="M1405.6 430.4L1406.9 430.5L1408.2 430.6L1409.5 430.7L1410.8 430.6L1412.1 430.7L1413.4 431L1414.7 429.3L1416 429.3L1417.3 430.5L1418.6 430.6L1419.9 429.6L1421.2 430.1L1422.5 430.2L1423.8 430.5L1425.1 429.7L1426.4 429.8L1427.7 429.5L1429 430.2L1430.3 430.7L1431.6 431.1L1432.9 431.1L1434.2 429.2L1435.5 430.1L1436.8 430.8L1438.1 430.1L1439.4 430L1440.7 430.9L1442 430.3L1443.3 429.9L1444.6 429.9L1445.9 430.7L1447.2 429.9L1448.5 430.2L1449.8 429.8L1451.1 429.4L1452.4 430.7L1453.7 429.9L1455 430.7L1456.3 429.9L1457.6 430.5L1458.9 430.5L1459.3 430.1L1459.3 457.4L1458.9 457.6L1457.6 457.5L1456.3 457.6L1455 457.5L1453.7 457.8L1452.4 457.6L1451.1 457.8L1449.8 457.8L1448.5 457.7L1447.2 457.5L1445.9 457.6L1444.6 458L1443.3 457.3L1442 457.3L1440.7 457.8L1439.4 457.8L1438.1 457.7L1436.8 458.1L1435.5 458.2L1434.2 457.4L1432.9 457.6L1431.6 457.6L1430.3 458L1429 457.7L1427.7 457.7L1426.4 458L1425.1 458.3L1423.8 457.8L1422.5 458.2L1421.2 458.2L1419.9 458.3L1418.6 457.4L1417.3 458L1416 457.6L1414.7 458.1L1413.4 458L1412.1 457.4L1410.8 457.5L1409.5 457.9L1408.2 458.3L1406.9 458.3L1405.6 458.3Z" fill="#898985"/>
<path d="M1431.6 457.7h0M1448.9 457.8h0M1429.9 429.8h0M1426.3 458.6h0M1434.7 458.2h0M1443.5 458.4h0M1420.1 457.6h0M1451.1 458h0M1426 430.7h0M1416.8 431h0M1438.1 430.7h0M1455.1 428h0M1439.5 457.7h0M1425.6 458.4h0M1411.1 429.7h0M1445.4 428.7h0M1423.7 430h0M1456.9 430.2h0M1410 457.4h0M1429.6 429.9h0M1412.2 428.2h0M1407.5 457.5h0M1431.2 430.9h0M1443.5 430.8h0" stroke="#898985" stroke-width="2.8" stroke-linecap="round" fill="none" opacity="1"/>
<rect transform="translate(1405.6 448.8)" x="0" y="-11.5" width="53.7" height="23" fill="url(#gH)"/>
<path d="M1459.3 430.9L1460.6 430.5L1461.9 430.7L1463.2 430.2L1464.5 430.3L1465.8 429.9L1467.1 430L1468.4 429.9L1469.7 429.6L1471 429.8L1472.3 429.6L1473.6 431L1474.9 429.9L1476.2 431L1477.5 429.9L1478.8 430.9L1480.1 430L1481.4 429.8L1482.7 431L1484 430.7L1485.3 429.5L1486.6 429.6L1487.9 430.5L1489.2 430.2L1490.5 429.7L1491.8 430.2L1493.1 429.5L1494.4 429.8L1495.7 429.7L1497 429.7L1498.3 430.6L1499.6 429.6L1500.9 431.1L1502.2 430.6L1503.5 430.1L1504.8 430.6L1506.1 430.9L1507.4 429.3L1508.7 429.3L1510 430.9L1511.3 430.9L1512.6 429.3L1513.7 430.9L1513.7 457.5L1512.6 457.8L1511.3 457.5L1510 458.2L1508.7 457.8L1507.4 457.8L1506.1 457.4L1504.8 457.5L1503.5 457.4L1502.2 457.7L1500.9 457.7L1499.6 458.3L1498.3 457.8L1497 458.2L1495.7 458.2L1494.4 457.7L1493.1 458L1491.8 458.1L1490.5 458.1L1489.2 457.6L1487.9 457.6L1486.6 457.6L1485.3 457.9L1484 457.9L1482.7 458.1L1481.4 457.6L1480.1 457.8L1478.8 457.6L1477.5 457.9L1476.2 457.9L1474.9 458L1473.6 457.8L1472.3 458L1471 457.7L1469.7 458.1L1468.4 457.4L1467.1 457.7L1465.8 457.5L1464.5 458.2L1463.2 458.2L1461.9 458.1L1460.6 458.2L1459.3 458.2Z" fill="#898985"/>
<path d="M1500.5 429.5h0M1485.6 430.4h0M1489.6 457.7h0M1487.9 429.7h0M1511 457.8h0M1491.7 431h0M1496.4 428.8h0M1495.1 457.4h0M1503.1 429.3h0M1493.8 430.9h0M1479.7 457.7h0M1498.6 457.8h0M1507.4 431.1h0M1510 457.9h0M1462.2 430.4h0M1497.3 429.7h0M1495.1 428.3h0M1494.3 457.5h0M1508.1 430.3h0M1461.4 457.4h0M1504.5 457.5h0M1475.1 457.4h0M1509.9 428.6h0M1461.5 458.4h0" stroke="#898985" stroke-width="2.8" stroke-linecap="round" fill="none" opacity="1"/>
<rect transform="translate(1459.3 448.8)" x="0" y="-11.5" width="54.4" height="23" fill="url(#gH)"/>
<path d="M1513.7 430L1515 429.5L1516.3 430.9L1517.6 429.9L1518.9 429.8L1520.2 430.5L1521.5 430.3L1522.8 430.4L1524.1 429.3L1525.4 430.3L1526.7 429.8L1528 430.3L1529.3 429.4L1530.6 430.3L1531.9 429.6L1533.2 431.1L1534.5 431.1L1535.8 430.5L1537.1 430.5L1538.4 429.3L1539.7 429.9L1541 430.7L1542.3 430.3L1543.6 430.5L1544.9 429.3L1546.2 430L1547.5 430.2L1548.8 429.4L1550.1 430.4L1551.4 430.1L1552.7 430.4L1554 430.1L1555.3 430.4L1556.6 430.6L1557.9 430.7L1559.2 430L1560.5 430.9L1561.8 429.2L1563.1 430L1564.4 431L1565.7 431L1567 430.9L1568.3 430.8L1569.6 431L1570.9 430.4L1571.8 429.6L1571.8 458.2L1570.9 457.5L1569.6 458.2L1568.3 458.3L1567 457.6L1565.7 457.6L1564.4 458L1563.1 458.3L1561.8 458L1560.5 458.2L1559.2 457.6L1557.9 457.5L1556.6 457.6L1555.3 457.8L1554 457.6L1552.7 458.2L1551.4 458.2L1550.1 457.6L1548.8 458L1547.5 457.6L1546.2 457.9L1544.9 457.4L1543.6 458.1L1542.3 457.8L1541 457.7L1539.7 457.6L1538.4 457.7L1537.1 457.6L1535.8 457.4L1534.5 458.1L1533.2 458.2L1531.9 457.5L1530.6 457.4L1529.3 457.5L1528 458L1526.7 457.4L1525.4 457.6L1524.1 457.3L1522.8 458.2L1521.5 457.4L1520.2 458L1518.9 457.5L1517.6 457.7L1516.3 457.9L1515 457.4L1513.7 457.4Z" fill="#898985"/>
<path d="M1520.2 458h0M1534.1 457.9h0M1566.6 458h0M1563.2 457.4h0M1538 430.2h0M1519.2 457.9h0M1560.5 429.4h0M1542 457.6h0M1521.5 429.5h0M1540.1 429.4h0M1539.3 457.5h0M1567.6 430h0M1530.8 428.3h0M1532.3 458.1h0M1524.8 430.1h0M1522.3 428.3h0M1569.3 457.6h0M1541 427.8h0M1557.4 430.5h0M1519.2 428.9h0M1558.6 429h0M1551.1 428.8h0M1538 458.2h0M1545.8 457.7h0M1523.9 429.6h0M1525.3 458.2h0" stroke="#898985" stroke-width="2.8" stroke-linecap="round" fill="none" opacity="1"/>
<rect transform="translate(1513.7 448.8)" x="0" y="-11.5" width="58.1" height="23" fill="url(#gH)"/>
<path d="M974.5 314.3V510.4M1030.5 314.3V510.4M1084.6 314.3V510.4M1187.7 314.3V510.4M1243.4 314.3V510.4M1298.7 314.3V510.4M1405.6 314.3V510.4M1459.3 314.3V510.4M1513.7 314.3V510.4M1567.5 314.3V510.4" stroke="#333" stroke-width="1.6" fill="none" opacity="0.3"/>
<path d="M974.5 314.3V510.4M1030.5 314.3V510.4M1084.6 314.3V510.4M1187.7 314.3V510.4M1243.4 314.3V510.4M1298.7 314.3V510.4M1405.6 314.3V510.4M1459.3 314.3V510.4M1513.7 314.3V510.4M1567.5 314.3V510.4" stroke="#1c1c1c" stroke-width="1.9" stroke-dasharray="1.1 0.9" stroke-dashoffset="1.30" fill="none" opacity="0.62"/>
<path d="M1571.8 510.4H921.0V314.3H1571.8" stroke="#4a4a4a" stroke-width="1.4" fill="none"/>
<text x="947.4" y="528.4" text-anchor="middle" font-family='"DejaVu Sans","Liberation Sans",sans-serif' font-size="10.3" fill="#5c5c5c">A05</text>
<text x="1002.1" y="528.4" text-anchor="middle" font-family='"DejaVu Sans","Liberation Sans",sans-serif' font-size="10.3" fill="#5c5c5c">B05</text>
<text x="1057.8" y="528.4" text-anchor="middle" font-family='"DejaVu Sans","Liberation Sans",sans-serif' font-size="10.3" fill="#5c5c5c">C05</text>
<text x="1109.6" y="528.4" text-anchor="middle" font-family='"DejaVu Sans","Liberation Sans",sans-serif' font-size="10.3" fill="#5c5c5c">D05</text>
<text x="1161.5" y="528.4" text-anchor="middle" font-family='"DejaVu Sans","Liberation Sans",sans-serif' font-size="10.3" fill="#5c5c5c">E05</text>
<text x="1214" y="528.4" text-anchor="middle" font-family='"DejaVu Sans","Liberation Sans",sans-serif' font-size="10.3" fill="#5c5c5c">F05</text>
<text x="1269.8" y="528.4" text-anchor="middle" font-family='"DejaVu Sans","Liberation Sans",sans-serif' font-size="10.3" fill="#5c5c5c">G05</text>
<text x="1326.5" y="528.4" text-anchor="middle" font-family='"DejaVu Sans","Liberation Sans",sans-serif' font-size="10.3" fill="#5c5c5c">H05</text>
<text x="1379.4" y="528.4" text-anchor="middle" font-family='"DejaVu Sans","Liberation Sans",sans-serif' font-size="10.3" fill="#5c5c5c">A06</text>
<text x="1432.4" y="528.4" text-anchor="middle" font-family='"DejaVu Sans","Liberation Sans",sans-serif' font-size="10.3" fill="#5c5c5c">B06</text>
<text x="1486.9" y="528.4" text-anchor="middle" font-family='"DejaVu Sans","Liberation Sans",sans-serif' font-size="10.3" fill="#5c5c5c">C06</text>
<text x="1540.8" y="528.4" text-anchor="middle" font-family='"DejaVu Sans","Liberation Sans",sans-serif' font-size="10.3" fill="#5c5c5c">D06</text>
<rect x="1134.7" y="63" width="4.5" height="447.8" fill="#a23b80"/>
<rect x="1351.8" y="65" width="4.5" height="445.8" fill="#a23b80"/>
<path d="M1571 224.8L1584 218.1V222.2H1650V227.4H1584V231.6Z" fill="#a23b80"/>
<path d="M1168.8 176.8h0M1238 161.3h0" stroke="#1a7ab8" stroke-width="2.8" stroke-linecap="round" fill="none" opacity="1"/>
<path d="M1177 333.3h0" stroke="#159a48" stroke-width="2.6" stroke-linecap="round" fill="none" opacity="1"/>
<circle cx="1167.5" cy="176" r="13.9" fill="none" stroke="#f00" stroke-width="1.2"/>
<circle cx="1237" cy="161.7" r="13.9" fill="none" stroke="#f00" stroke-width="1.2"/>
<circle cx="1176" cy="333.2" r="13.9" fill="none" stroke="#f00" stroke-width="1.2"/>
</svg>
</body></html>
